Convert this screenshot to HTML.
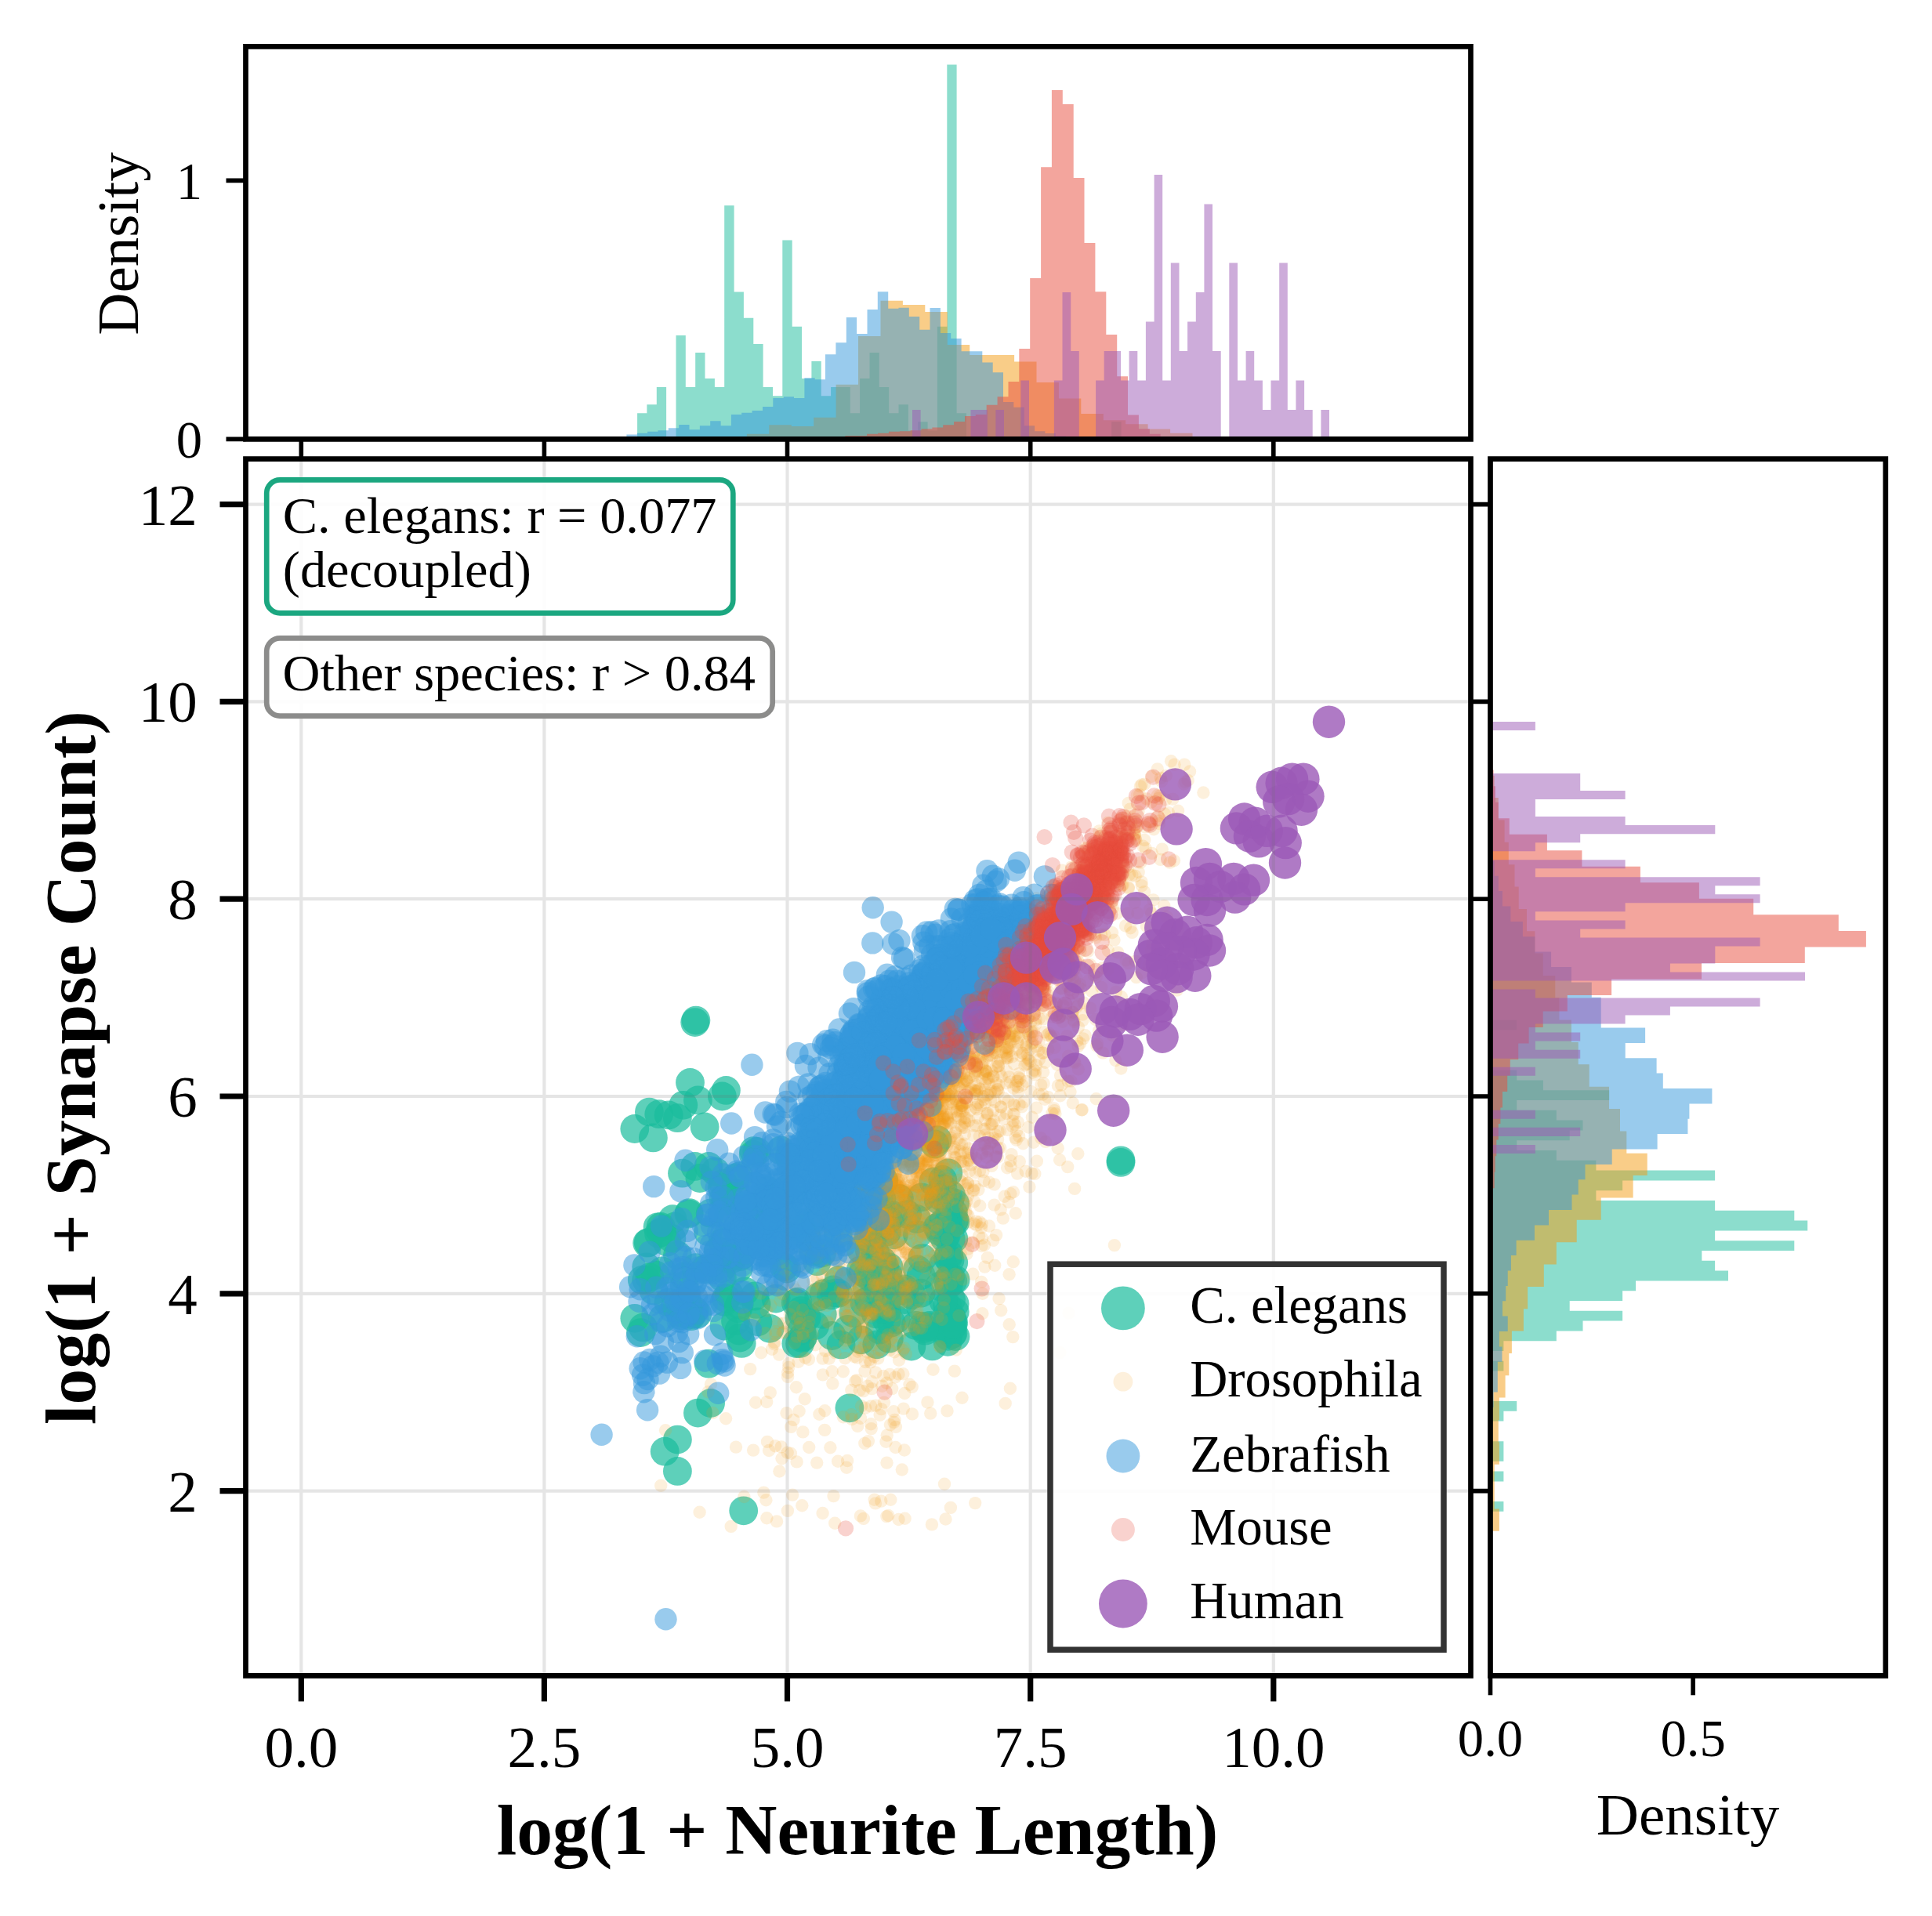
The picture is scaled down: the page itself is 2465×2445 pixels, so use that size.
<!DOCTYPE html><html><head><meta charset="utf-8"><title>Neurite length vs synapse count</title>
<style>html,body{margin:0;padding:0;background:#fff}svg{display:block}text{font-family:"Liberation Serif",serif;fill:#000}</style></head><body>
<svg width="2465" height="2445" viewBox="0 0 2465 2445">
<rect width="2465" height="2445" fill="#fff"/>
<g opacity="1">
<path d="M813.1 560.4V527.3H825.4V516.2H837.8V494.1H850.1V560.4ZM862.5 560.4V427.9H874.8V494.1H887.2V449.9H899.5V483.1H911.9V494.1H924.2V262.2H936.6V372.6H948.9V405.8H961.3V438.9H973.6V494.1H986.0V505.2H998.3V306.4H1010.7V416.8H1023.0V483.1H1035.4V461.0H1047.7V505.2H1060.1V494.1H1072.4V494.1H1084.8V527.3H1097.1V483.1H1109.5V449.9H1121.8V494.1H1134.2V527.3H1146.5V516.2H1158.9V549.4H1171.2V538.3H1183.6V549.4H1195.9V416.8H1208.3V82.6H1220.6V527.3H1233.0V560.4ZM1418.2 560.4V538.3H1430.6V560.4Z" fill="#1abc9c" fill-opacity=".5"/>
<path d="M384.3 560.4V559.9H412.7V560.4ZM839.2 560.4V559.9H867.6V559.4H896.0V559.1H924.5V557.8H952.9V553.8H981.3V542.2H1009.8V543.9H1038.2V532.7H1066.6V490.8H1095.0V429.1H1123.5V383.8H1151.9V389.1H1180.3V398.0H1208.8V439.9H1237.2V453.1H1265.6V453.1H1294.1V461.4H1322.5V488.1H1350.9V508.6H1379.3V528.1H1407.8V536.3H1436.2V541.3H1464.6V547.5H1493.1V552.8H1521.5V558.4H1549.9V560.4ZM1777.4 560.4V559.9H1805.8V560.4Z" fill="#f39c12" fill-opacity=".5"/>
<path d="M772.7 560.4V559.4H786.1V559.4H799.4V554.5H812.8V552.8H826.1V550.8H839.5V549.2H852.8V546.2H866.2V541.9H879.5V548.2H892.9V543.2H906.2V537.3H919.6V543.2H932.9V529.0H946.2V526.7H959.6V524.1H973.0V519.1H986.3V507.9H999.7V506.3H1013.0V507.9H1026.4V482.2H1039.7V484.2H1053.0V452.2H1066.4V437.3H1079.8V405.0H1093.1V426.1H1106.5V395.1H1119.8V372.3H1133.2V393.8H1146.5V392.8H1159.8V404.0H1173.2V420.8H1186.5V393.1H1199.9V425.1H1213.2V432.0H1226.6V448.2H1240.0V448.2H1253.3V462.4H1266.7V475.3H1280.0V512.9H1293.3V519.8H1306.7V543.2H1320.1V550.2H1333.4V553.1H1346.8V556.4H1360.1V557.8H1373.5V558.8H1386.8V559.4H1400.2V559.7H1413.5V560.4ZM1426.8 560.4V559.7H1440.2V560.4Z" fill="#3498db" fill-opacity=".5"/>
<path d="M1078.4 560.4V556.1H1092.3V556.1H1106.1V553.8H1120.0V552.8H1133.9V550.8H1147.8V550.2H1161.6V549.2H1175.5V547.2H1189.4V545.5H1203.2V542.2H1217.1V538.0H1231.0V531.0H1244.8V529.0H1258.7V516.8H1272.6V506.3H1286.5V487.1H1300.3V444.9H1314.2V355.1H1328.1V213.2H1341.9V114.9H1355.8V133.1H1369.7V227.1H1383.5V309.9H1397.4V372.3H1411.3V427.1H1425.2V480.2H1439.0V529.4H1452.9V547.2H1466.8V553.8H1480.6V557.1H1494.5V558.4H1508.4V560.4ZM1758.0 560.4V558.4H1771.9V560.4Z" fill="#e74c3c" fill-opacity=".5"/>
<path d="M1164.0 560.4V522.9H1174.6V560.4ZM1238.5 560.4V522.9H1249.1V522.9H1259.8V560.4ZM1270.4 560.4V522.9H1281.0V560.4ZM1302.3 560.4V485.4H1313.0V560.4ZM1344.9 560.4V485.4H1355.5V373.0H1366.2V447.9H1376.8V560.4ZM1398.1 560.4V485.4H1408.7V447.9H1419.4V447.9H1430.0V485.4H1440.6V447.9H1451.3V485.4H1461.9V410.4H1472.6V223.0H1483.2V485.4H1493.8V335.5H1504.5V447.9H1515.1V410.4H1525.8V373.0H1536.4V260.5H1547.0V447.9H1557.7V560.4ZM1568.3 560.4V335.5H1579.0V485.4H1589.6V447.9H1600.2V485.4H1610.9V522.9H1621.5V485.4H1632.2V335.5H1642.8V522.9H1653.4V485.4H1664.1V522.9H1674.7V560.4ZM1685.4 560.4V522.9H1696.0V560.4Z" fill="#9b59b6" fill-opacity=".5"/>
</g>
<path d="M1901.5 1928.8H1918.4V1916.0H1901.5ZM1901.5 1890.4H1918.4V1877.6H1901.5ZM1901.5 1864.8H1918.4V1852.0H1918.4V1839.2H1901.5ZM1901.5 1813.6H1918.4V1800.8H1935.2V1788.0H1901.5ZM1901.5 1749.6H1918.4V1736.8H1901.5ZM1901.5 1724.0H1918.4V1711.2H1985.8V1698.4H2019.5V1685.6H2070.1V1672.8H2002.7V1660.0H2070.1V1647.2H2087.0V1634.4H2205.0V1621.6H2188.1V1608.8H2171.3V1596.0H2289.3V1583.2H2188.1V1570.4H2306.2V1557.6H2289.3V1544.8H2188.1V1532.0H2036.4V1519.2H2070.1V1506.4H2188.1V1493.6H2036.4V1480.8H1985.8V1468.0H1935.2V1455.2H2002.7V1442.4H2019.5V1429.6H1985.8V1416.8H1935.2V1404.0H2053.2V1391.2H1968.9V1378.4H1935.2V1365.6H1901.5ZM1901.5 1314.4H1935.2V1301.6H1901.5Z" fill="#1abc9c" fill-opacity=".5"/>
<path d="M1901.5 2067.2H1902.2V2038.8H1901.5ZM1901.5 1953.7H1912.9V1925.4H1906.7V1897.0H1906.7V1868.7H1912.9V1840.3H1911.8V1812.0H1912.9V1783.6H1920.6V1755.3H1925.3V1726.9H1928.9V1698.6H1943.9V1670.2H1949.1V1641.9H1969.8V1613.5H1985.8V1585.2H2011.7V1556.8H2042.7V1528.5H2083.6V1500.1H2101.7V1471.7H2075.3V1443.4H2067.0V1415.0H2053.0V1386.7H2027.7V1358.3H2013.7V1330.0H2004.9V1301.6H1989.4V1273.3H1984.3V1244.9H1968.7V1216.6H1958.4V1188.2H1948.0V1159.9H1937.7V1131.5H1932.5V1103.2H1924.8V1074.8H1919.6V1046.5H1911.8V1018.1H1906.7V989.7H1904.1V961.4H1901.5ZM1901.5 677.9H1902.2V649.5H1901.5Z" fill="#f39c12" fill-opacity=".5"/>
<path d="M1901.5 2067.2H1902.5V2047.8H1901.5ZM1901.5 1834.6H1902.5V1815.3H1903.6V1795.9H1905.6V1776.5H1910.8V1757.1H1910.8V1737.8H1916.5V1718.4H1912.9V1699.0H1923.7V1679.6H1917.0V1660.3H1921.2V1640.9H1923.7V1621.5H1927.9V1602.1H1934.6V1582.8H1957.9V1563.4H1976.0V1544.0H2005.5V1524.6H2013.7V1505.2H2022.5V1485.9H2056.7V1466.5H2114.6V1447.1H2153.4V1427.7H2155.4V1408.4H2184.4V1389.0H2121.8V1369.6H2113.6V1350.2H2073.7V1330.9H2099.1V1311.5H2042.7V1292.1H2042.7V1272.7H2030.8V1253.4H2004.9V1234.0H1979.1V1214.6H1958.4V1195.2H1942.9V1175.9H1927.4V1156.5H1917.0V1137.1H1911.8V1117.7H1906.7V1098.4H1901.5Z" fill="#3498db" fill-opacity=".5"/>
<path d="M1901.5 1967.7H1903.6V1947.2H1901.5ZM1901.5 1783.0H1903.6V1762.5H1901.5ZM1901.5 1700.9H1903.6V1680.4H1901.5ZM1901.5 1659.9H1903.6V1639.3H1901.5ZM1901.5 1598.3H1904.1V1577.8H1903.6V1557.3H1904.1V1536.7H1904.6V1516.2H1906.7V1495.7H1907.7V1475.2H1909.3V1454.6H1911.8V1434.1H1914.4V1413.6H1917.0V1393.1H1923.2V1372.6H1926.8V1352.0H1937.2V1331.5H1950.6V1311.0H1968.7V1290.5H1999.8V1270.0H2056.1V1249.4H2171.0V1228.9H2302.8V1208.4H2380.9V1187.9H2345.8V1167.3H2237.2V1146.8H2167.9V1126.3H2092.9V1105.8H2018.4V1085.3H1973.9V1064.7H1925.8V1044.2H1911.8V1023.7H1908.0V1003.2H1905.6V982.6H1904.1V962.1H1901.5Z" fill="#e74c3c" fill-opacity=".5"/>
<path d="M1901.5 1471.9H1958.9V1460.9H1901.5ZM1901.5 1449.9H2016.2V1438.8H1901.5ZM1901.5 1427.8H1958.9V1416.8H1901.5ZM1901.5 1372.7H1958.9V1361.7H1901.5ZM1901.5 1350.7H2016.2V1339.7H1958.9V1328.6H2016.2V1317.6H1958.9V1306.6H2073.6V1295.6H2130.9V1284.6H2245.6V1273.5H1958.9V1262.5H1901.5ZM1901.5 1251.5H2303.0V1240.5H2130.9V1229.5H2188.3V1218.4H2188.3V1207.4H2245.6V1196.4H2016.2V1185.4H2073.6V1174.4H1958.9V1163.3H2073.6V1152.3H2245.6V1141.3H2188.3V1130.3H2245.6V1119.3H1958.9V1108.2H2073.6V1097.2H1901.5ZM1901.5 1086.2H1958.9V1075.2H2016.2V1064.2H2188.3V1053.1H2073.6V1042.1H1958.9V1031.1H1958.9V1020.1H2073.6V1009.1H2016.2V998.0H2016.2V987.0H1901.5ZM1901.5 931.9H1958.9V920.9H1901.5Z" fill="#9b59b6" fill-opacity=".5"/>
<clipPath id="mc"><rect x="313.5" y="585.6" width="1563.0" height="1552.7000000000003"/></clipPath>
<g clip-path="url(#mc)">
<g fill="#1abc9c" fill-opacity="0.7"><circle cx="886.7" cy="1304.6" r="18.4"/><circle cx="887.9" cy="1302.1" r="18.4"/><circle cx="880.5" cy="1381.4" r="18.4"/><circle cx="926.4" cy="1391.4" r="18.4"/><circle cx="890.4" cy="1404.0" r="18.4"/><circle cx="871.8" cy="1410.3" r="18.4"/><circle cx="828.4" cy="1419.1" r="18.4"/><circle cx="840.8" cy="1421.7" r="18.4"/><circle cx="853.2" cy="1422.9" r="18.4"/><circle cx="809.8" cy="1440.5" r="18.4"/><circle cx="833.4" cy="1451.9" r="18.4"/><circle cx="899.1" cy="1438.0" r="18.4"/><circle cx="864.4" cy="1426.7" r="18.4"/><circle cx="921.4" cy="1399.0" r="18.4"/><circle cx="886.7" cy="1488.4" r="18.4"/><circle cx="904.1" cy="1488.4" r="18.4"/><circle cx="892.9" cy="1503.5" r="18.4"/><circle cx="879.3" cy="1547.6" r="18.4"/><circle cx="860.7" cy="1565.2" r="18.4"/><circle cx="856.9" cy="1580.3" r="18.4"/><circle cx="864.4" cy="1601.7" r="18.4"/><circle cx="824.7" cy="1616.8" r="18.4"/><circle cx="824.7" cy="1633.2" r="18.4"/><circle cx="809.8" cy="1682.3" r="18.4"/><circle cx="845.8" cy="1682.3" r="18.4"/><circle cx="904.1" cy="1740.2" r="18.4"/><circle cx="906.6" cy="1790.5" r="18.4"/><circle cx="890.4" cy="1803.1" r="18.4"/><circle cx="864.4" cy="1837.1" r="18.4"/><circle cx="848.2" cy="1852.2" r="18.4"/><circle cx="864.4" cy="1877.4" r="18.4"/><circle cx="1083.9" cy="1796.8" r="18.4"/><circle cx="948.7" cy="1927.8" r="18.4"/><circle cx="1430.0" cy="1480.8" r="18.4"/><circle cx="1430.0" cy="1483.4" r="18.4"/><circle cx="1211.9" cy="1631.8" r="18.4"/><circle cx="1219.0" cy="1705.5" r="18.4"/><circle cx="1213.2" cy="1581.1" r="18.4"/><circle cx="1218.9" cy="1559.1" r="18.4"/><circle cx="1210.2" cy="1695.3" r="18.4"/><circle cx="1209.4" cy="1605.3" r="18.4"/><circle cx="1216.4" cy="1547.3" r="18.4"/><circle cx="1215.7" cy="1634.6" r="18.4"/><circle cx="1214.6" cy="1693.9" r="18.4"/><circle cx="1209.7" cy="1705.3" r="18.4"/><circle cx="1209.3" cy="1533.2" r="18.4"/><circle cx="1211.7" cy="1532.6" r="18.4"/><circle cx="1215.1" cy="1685.9" r="18.4"/><circle cx="1209.1" cy="1712.3" r="18.4"/><circle cx="1219.1" cy="1633.1" r="18.4"/><circle cx="1212.1" cy="1559.4" r="18.4"/><circle cx="1213.2" cy="1556.6" r="18.4"/><circle cx="1212.0" cy="1608.2" r="18.4"/><circle cx="1218.2" cy="1674.0" r="18.4"/><circle cx="1211.0" cy="1679.3" r="18.4"/><circle cx="1209.8" cy="1496.8" r="18.4"/><circle cx="1215.9" cy="1701.2" r="18.4"/><circle cx="1210.7" cy="1600.6" r="18.4"/><circle cx="1213.6" cy="1525.1" r="18.4"/><circle cx="1208.9" cy="1675.9" r="18.4"/><circle cx="1213.7" cy="1680.8" r="18.4"/><circle cx="1210.5" cy="1639.2" r="18.4"/><circle cx="1209.9" cy="1681.7" r="18.4"/><circle cx="1208.8" cy="1696.4" r="18.4"/><circle cx="1213.6" cy="1658.1" r="18.4"/><circle cx="1216.8" cy="1580.7" r="18.4"/><circle cx="1217.6" cy="1556.9" r="18.4"/><circle cx="1218.1" cy="1663.8" r="18.4"/><circle cx="1211.7" cy="1548.3" r="18.4"/><circle cx="1214.1" cy="1681.0" r="18.4"/><circle cx="1208.7" cy="1666.6" r="18.4"/><circle cx="1216.7" cy="1559.5" r="18.4"/><circle cx="1216.5" cy="1687.3" r="18.4"/><circle cx="1214.7" cy="1702.6" r="18.4"/><circle cx="1218.5" cy="1535.6" r="18.4"/><circle cx="1216.1" cy="1690.6" r="18.4"/><circle cx="1212.6" cy="1630.3" r="18.4"/><circle cx="1209.1" cy="1633.8" r="18.4"/><circle cx="1216.7" cy="1611.3" r="18.4"/><circle cx="1207.8" cy="1567.8" r="18.4"/><circle cx="1203.6" cy="1660.0" r="18.4"/><circle cx="1205.0" cy="1579.9" r="18.4"/><circle cx="1202.8" cy="1505.5" r="18.4"/><circle cx="1203.0" cy="1516.7" r="18.4"/><circle cx="1198.3" cy="1641.5" r="18.4"/><circle cx="1203.9" cy="1559.7" r="18.4"/><circle cx="1206.6" cy="1565.0" r="18.4"/><circle cx="1197.2" cy="1530.9" r="18.4"/><circle cx="1207.0" cy="1576.5" r="18.4"/><circle cx="1203.0" cy="1615.1" r="18.4"/><circle cx="1199.0" cy="1571.6" r="18.4"/><circle cx="1186.6" cy="1693.1" r="18.4"/><circle cx="1118.8" cy="1715.8" r="18.4"/><circle cx="946.2" cy="1714.4" r="18.4"/><circle cx="1061.3" cy="1704.5" r="18.4"/><circle cx="967.0" cy="1686.8" r="18.4"/><circle cx="1022.9" cy="1676.6" r="18.4"/><circle cx="1020.6" cy="1714.5" r="18.4"/><circle cx="1134.3" cy="1708.2" r="18.4"/><circle cx="1177.0" cy="1692.5" r="18.4"/><circle cx="1117.3" cy="1676.7" r="18.4"/><circle cx="941.5" cy="1669.8" r="18.4"/><circle cx="1131.6" cy="1672.1" r="18.4"/><circle cx="1163.3" cy="1652.5" r="18.4"/><circle cx="1180.3" cy="1698.2" r="18.4"/><circle cx="1063.1" cy="1646.0" r="18.4"/><circle cx="1137.3" cy="1688.0" r="18.4"/><circle cx="1143.3" cy="1683.7" r="18.4"/><circle cx="1131.3" cy="1660.7" r="18.4"/><circle cx="1122.5" cy="1697.1" r="18.4"/><circle cx="1019.9" cy="1682.0" r="18.4"/><circle cx="1174.4" cy="1667.8" r="18.4"/><circle cx="1189.5" cy="1717.9" r="18.4"/><circle cx="1162.9" cy="1718.1" r="18.4"/><circle cx="1102.9" cy="1662.2" r="18.4"/><circle cx="1150.1" cy="1646.9" r="18.4"/><circle cx="1015.8" cy="1714.6" r="18.4"/><circle cx="1029.0" cy="1681.3" r="18.4"/><circle cx="930.2" cy="1651.2" r="18.4"/><circle cx="1168.5" cy="1691.4" r="18.4"/><circle cx="1049.3" cy="1677.3" r="18.4"/><circle cx="1065.4" cy="1650.1" r="18.4"/><circle cx="1073.0" cy="1715.9" r="18.4"/><circle cx="982.1" cy="1695.3" r="18.4"/><circle cx="1021.9" cy="1672.6" r="18.4"/><circle cx="1023.4" cy="1707.4" r="18.4"/><circle cx="1098.6" cy="1709.8" r="18.4"/><circle cx="1081.7" cy="1696.3" r="18.4"/><circle cx="1174.9" cy="1650.2" r="18.4"/><circle cx="1024.7" cy="1705.7" r="18.4"/><circle cx="1143.0" cy="1647.8" r="18.4"/><circle cx="1126.0" cy="1652.3" r="18.4"/><circle cx="1069.6" cy="1650.3" r="18.4"/><circle cx="1186.2" cy="1691.5" r="18.4"/><circle cx="943.9" cy="1707.1" r="18.4"/><circle cx="1015.3" cy="1662.5" r="18.4"/><circle cx="1131.2" cy="1684.3" r="18.4"/><circle cx="1039.8" cy="1691.5" r="18.4"/><circle cx="1179.3" cy="1695.3" r="18.4"/><circle cx="1125.1" cy="1670.4" r="18.4"/><circle cx="965.0" cy="1664.4" r="18.4"/><circle cx="923.9" cy="1692.0" r="18.4"/><circle cx="1088.8" cy="1675.5" r="18.4"/><circle cx="1108.5" cy="1659.2" r="18.4"/><circle cx="924.3" cy="1661.3" r="18.4"/><circle cx="1022.9" cy="1697.2" r="18.4"/><circle cx="828.8" cy="1629.8" r="18.4"/><circle cx="834.0" cy="1647.0" r="18.4"/><circle cx="887.6" cy="1617.7" r="18.4"/><circle cx="943.1" cy="1665.0" r="18.4"/><circle cx="916.4" cy="1596.3" r="18.4"/><circle cx="843.1" cy="1565.4" r="18.4"/><circle cx="870.5" cy="1497.2" r="18.4"/><circle cx="933.8" cy="1606.5" r="18.4"/><circle cx="938.5" cy="1685.7" r="18.4"/><circle cx="819.3" cy="1633.4" r="18.4"/><circle cx="881.6" cy="1679.7" r="18.4"/><circle cx="906.2" cy="1548.2" r="18.4"/><circle cx="912.6" cy="1495.1" r="18.4"/><circle cx="872.8" cy="1628.6" r="18.4"/><circle cx="948.0" cy="1593.6" r="18.4"/><circle cx="858.1" cy="1555.7" r="18.4"/><circle cx="903.5" cy="1571.7" r="18.4"/><circle cx="861.5" cy="1666.0" r="18.4"/><circle cx="844.5" cy="1621.9" r="18.4"/><circle cx="929.0" cy="1597.8" r="18.4"/><circle cx="926.3" cy="1656.7" r="18.4"/><circle cx="820.5" cy="1693.9" r="18.4"/><circle cx="882.0" cy="1677.6" r="18.4"/><circle cx="825.7" cy="1586.2" r="18.4"/><circle cx="942.8" cy="1698.0" r="18.4"/><circle cx="873.2" cy="1640.1" r="18.4"/><circle cx="836.8" cy="1627.2" r="18.4"/><circle cx="827.2" cy="1585.7" r="18.4"/><circle cx="944.7" cy="1603.6" r="18.4"/><circle cx="868.8" cy="1678.8" r="18.4"/><circle cx="839.1" cy="1565.8" r="18.4"/><circle cx="925.5" cy="1533.0" r="18.4"/><circle cx="817.5" cy="1700.6" r="18.4"/><circle cx="889.8" cy="1676.8" r="18.4"/><circle cx="886.1" cy="1672.2" r="18.4"/><circle cx="878.9" cy="1549.1" r="18.4"/><circle cx="840.6" cy="1574.3" r="18.4"/><circle cx="853.0" cy="1662.1" r="18.4"/><circle cx="899.6" cy="1619.5" r="18.4"/><circle cx="872.2" cy="1676.4" r="18.4"/><circle cx="851.2" cy="1585.1" r="18.4"/><circle cx="922.9" cy="1510.2" r="18.4"/><circle cx="876.6" cy="1660.3" r="18.4"/><circle cx="843.9" cy="1572.1" r="18.4"/><circle cx="927.0" cy="1606.8" r="18.4"/><circle cx="1128.5" cy="1615.9" r="18.4"/><circle cx="1108.1" cy="1579.1" r="18.4"/><circle cx="1125.4" cy="1608.7" r="18.4"/><circle cx="1101.1" cy="1623.7" r="18.4"/><circle cx="1124.9" cy="1530.2" r="18.4"/><circle cx="1125.8" cy="1627.8" r="18.4"/><circle cx="1123.4" cy="1550.0" r="18.4"/><circle cx="1110.7" cy="1629.9" r="18.4"/><circle cx="1122.6" cy="1632.1" r="18.4"/><circle cx="1131.5" cy="1571.9" r="18.4"/><circle cx="1105.6" cy="1644.1" r="18.4"/><circle cx="1106.9" cy="1560.4" r="18.4"/><circle cx="1098.1" cy="1621.1" r="18.4"/><circle cx="1118.9" cy="1564.4" r="18.4"/><circle cx="1109.6" cy="1596.6" r="18.4"/><circle cx="1130.1" cy="1665.0" r="18.4"/><circle cx="1098.3" cy="1594.5" r="18.4"/><circle cx="1117.2" cy="1528.5" r="18.4"/><circle cx="1122.7" cy="1566.5" r="18.4"/><circle cx="1112.6" cy="1585.9" r="18.4"/><circle cx="1118.5" cy="1565.0" r="18.4"/><circle cx="1121.0" cy="1645.4" r="18.4"/><circle cx="979.5" cy="1519.5" r="18.4"/><circle cx="960.7" cy="1539.9" r="18.4"/><circle cx="1154.0" cy="1644.8" r="18.4"/><circle cx="1170.4" cy="1619.9" r="18.4"/><circle cx="963.2" cy="1654.0" r="18.4"/><circle cx="1176.7" cy="1605.6" r="18.4"/><circle cx="1020.0" cy="1560.8" r="18.4"/><circle cx="1008.4" cy="1528.2" r="18.4"/><circle cx="1196.0" cy="1566.0" r="18.4"/><circle cx="978.5" cy="1552.3" r="18.4"/><circle cx="971.7" cy="1585.8" r="18.4"/><circle cx="1044.7" cy="1654.7" r="18.4"/><circle cx="1139.6" cy="1550.9" r="18.4"/><circle cx="1140.3" cy="1575.8" r="18.4"/><circle cx="1196.9" cy="1566.0" r="18.4"/><circle cx="1051.3" cy="1650.6" r="18.4"/><circle cx="1069.3" cy="1574.8" r="18.4"/><circle cx="1042.4" cy="1609.7" r="18.4"/><circle cx="967.4" cy="1587.6" r="18.4"/><circle cx="985.3" cy="1574.3" r="18.4"/><circle cx="961.3" cy="1473.2" r="18.4"/><circle cx="964.8" cy="1539.5" r="18.4"/><circle cx="1107.3" cy="1627.8" r="18.4"/><circle cx="961.7" cy="1468.6" r="18.4"/><circle cx="1060.6" cy="1652.9" r="18.4"/><circle cx="965.9" cy="1469.5" r="18.4"/><circle cx="980.2" cy="1559.0" r="18.4"/><circle cx="1175.2" cy="1627.5" r="18.4"/><circle cx="938.7" cy="1522.8" r="18.4"/><circle cx="1061.1" cy="1500.2" r="18.4"/><circle cx="922.3" cy="1585.2" r="18.4"/><circle cx="1147.4" cy="1529.4" r="18.4"/><circle cx="1192.8" cy="1460.0" r="18.4"/><circle cx="1175.9" cy="1527.8" r="18.4"/><circle cx="942.5" cy="1617.9" r="18.4"/><circle cx="1157.6" cy="1549.5" r="18.4"/><circle cx="1133.6" cy="1555.4" r="18.4"/><circle cx="1041.9" cy="1553.5" r="18.4"/><circle cx="1009.2" cy="1514.1" r="18.4"/><circle cx="943.2" cy="1500.9" r="18.4"/><circle cx="1093.7" cy="1519.7" r="18.4"/><circle cx="1190.8" cy="1508.0" r="18.4"/><circle cx="923.1" cy="1529.5" r="18.4"/><circle cx="1024.6" cy="1485.6" r="18.4"/><circle cx="1089.4" cy="1508.9" r="18.4"/><circle cx="1134.0" cy="1616.8" r="18.4"/><circle cx="1047.8" cy="1459.8" r="18.4"/><circle cx="1113.5" cy="1517.5" r="18.4"/><circle cx="920.5" cy="1618.5" r="18.4"/><circle cx="1034.0" cy="1456.9" r="18.4"/><circle cx="929.0" cy="1552.6" r="18.4"/><circle cx="1029.3" cy="1578.5" r="18.4"/><circle cx="1037.6" cy="1596.9" r="18.4"/><circle cx="1086.9" cy="1529.1" r="18.4"/><circle cx="950.2" cy="1647.8" r="18.4"/><circle cx="979.3" cy="1539.8" r="18.4"/><circle cx="1131.9" cy="1557.1" r="18.4"/><circle cx="964.1" cy="1577.8" r="18.4"/><circle cx="921.4" cy="1630.0" r="18.4"/><circle cx="1114.7" cy="1526.0" r="18.4"/><circle cx="1127.8" cy="1506.6" r="18.4"/><circle cx="1000.3" cy="1616.6" r="18.4"/><circle cx="1003.6" cy="1619.1" r="18.4"/><circle cx="1135.5" cy="1638.9" r="18.4"/><circle cx="1017.6" cy="1661.2" r="18.4"/><circle cx="990.1" cy="1657.1" r="18.4"/><circle cx="1096.0" cy="1512.4" r="18.4"/><circle cx="1135.2" cy="1452.3" r="18.4"/><circle cx="1196.1" cy="1454.6" r="18.4"/><circle cx="1048.5" cy="1599.1" r="18.4"/><circle cx="966.1" cy="1552.5" r="18.4"/><circle cx="1059.4" cy="1453.9" r="18.4"/><circle cx="1116.9" cy="1599.0" r="18.4"/><circle cx="1169.6" cy="1555.4" r="18.4"/><circle cx="938.4" cy="1502.8" r="18.4"/><circle cx="1170.5" cy="1575.6" r="18.4"/><circle cx="1023.0" cy="1568.3" r="18.4"/><circle cx="921.3" cy="1515.1" r="18.4"/><circle cx="1201.9" cy="1527.7" r="18.4"/><circle cx="1076.8" cy="1497.7" r="18.4"/><circle cx="984.5" cy="1523.7" r="18.4"/><circle cx="981.1" cy="1588.9" r="18.4"/><circle cx="1007.2" cy="1476.7" r="18.4"/><circle cx="996.0" cy="1467.9" r="18.4"/><circle cx="933.9" cy="1532.8" r="18.4"/><circle cx="1154.3" cy="1658.6" r="18.4"/><circle cx="1132.9" cy="1626.3" r="18.4"/><circle cx="1070.2" cy="1633.5" r="18.4"/></g>
<g fill="#f39c12" fill-opacity="0.15"><circle cx="1172.8" cy="1458.9" r="8.2"/><circle cx="1498.0" cy="1098.3" r="8.2"/><circle cx="1133.3" cy="1540.8" r="8.2"/><circle cx="1303.8" cy="1240.2" r="8.2"/><circle cx="1103.7" cy="1481.7" r="8.2"/><circle cx="1370.3" cy="1159.4" r="8.2"/><circle cx="1144.0" cy="1511.6" r="8.2"/><circle cx="1358.8" cy="1202.9" r="8.2"/><circle cx="1276.7" cy="1543.6" r="8.2"/><circle cx="1331.6" cy="1382.5" r="8.2"/><circle cx="1244.5" cy="1309.7" r="8.2"/><circle cx="1113.7" cy="1475.2" r="8.2"/><circle cx="1174.7" cy="1498.1" r="8.2"/><circle cx="1456.5" cy="1125.4" r="8.2"/><circle cx="1122.4" cy="1542.7" r="8.2"/><circle cx="1207.1" cy="1353.0" r="8.2"/><circle cx="1207.7" cy="1441.3" r="8.2"/><circle cx="1202.6" cy="1404.6" r="8.2"/><circle cx="1134.0" cy="1432.7" r="8.2"/><circle cx="1144.7" cy="1445.6" r="8.2"/><circle cx="1151.0" cy="1438.1" r="8.2"/><circle cx="1131.3" cy="1935.1" r="8.2"/><circle cx="1048.2" cy="1542.3" r="8.2"/><circle cx="1266.3" cy="1270.0" r="8.2"/><circle cx="1348.3" cy="1194.8" r="8.2"/><circle cx="1146.1" cy="1491.6" r="8.2"/><circle cx="1070.1" cy="1612.5" r="8.2"/><circle cx="1164.5" cy="1567.8" r="8.2"/><circle cx="1103.3" cy="1526.0" r="8.2"/><circle cx="1161.8" cy="1556.0" r="8.2"/><circle cx="1135.9" cy="1818.3" r="8.2"/><circle cx="1235.5" cy="1551.4" r="8.2"/><circle cx="1274.5" cy="1225.4" r="8.2"/><circle cx="1338.9" cy="1245.0" r="8.2"/><circle cx="1286.8" cy="1248.4" r="8.2"/><circle cx="1314.2" cy="1241.5" r="8.2"/><circle cx="1494.1" cy="971.3" r="8.2"/><circle cx="1161.8" cy="1468.7" r="8.2"/><circle cx="1118.6" cy="1435.0" r="8.2"/><circle cx="1100.0" cy="1598.8" r="8.2"/><circle cx="1193.1" cy="1371.2" r="8.2"/><circle cx="1259.6" cy="1298.4" r="8.2"/><circle cx="1299.9" cy="1370.1" r="8.2"/><circle cx="1108.9" cy="1713.3" r="8.2"/><circle cx="1207.4" cy="1346.4" r="8.2"/><circle cx="1069.4" cy="1509.3" r="8.2"/><circle cx="1216.9" cy="1528.4" r="8.2"/><circle cx="1323.2" cy="1157.3" r="8.2"/><circle cx="1153.6" cy="1720.3" r="8.2"/><circle cx="1260.1" cy="1334.1" r="8.2"/><circle cx="1252.3" cy="1340.8" r="8.2"/><circle cx="1254.7" cy="1303.4" r="8.2"/><circle cx="1102.5" cy="1485.9" r="8.2"/><circle cx="1200.4" cy="1395.3" r="8.2"/><circle cx="1070.7" cy="1624.0" r="8.2"/><circle cx="1157.6" cy="1409.9" r="8.2"/><circle cx="1068.4" cy="1590.3" r="8.2"/><circle cx="1434.7" cy="1067.5" r="8.2"/><circle cx="1161.2" cy="1443.4" r="8.2"/><circle cx="1131.7" cy="1510.8" r="8.2"/><circle cx="1362.9" cy="1240.9" r="8.2"/><circle cx="1158.5" cy="1487.6" r="8.2"/><circle cx="1206.2" cy="1473.7" r="8.2"/><circle cx="1330.5" cy="1185.0" r="8.2"/><circle cx="1181.6" cy="1486.2" r="8.2"/><circle cx="1175.8" cy="1398.7" r="8.2"/><circle cx="1286.3" cy="1247.0" r="8.2"/><circle cx="1128.7" cy="1469.2" r="8.2"/><circle cx="1105.7" cy="1672.2" r="8.2"/><circle cx="1270.1" cy="1234.2" r="8.2"/><circle cx="1205.9" cy="1355.5" r="8.2"/><circle cx="1210.3" cy="1373.9" r="8.2"/><circle cx="1357.1" cy="1168.4" r="8.2"/><circle cx="1049.9" cy="1598.3" r="8.2"/><circle cx="1027.4" cy="1732.7" r="8.2"/><circle cx="1175.5" cy="1616.0" r="8.2"/><circle cx="1319.6" cy="1197.6" r="8.2"/><circle cx="1206.9" cy="1596.4" r="8.2"/><circle cx="1225.1" cy="1299.3" r="8.2"/><circle cx="1173.0" cy="1481.6" r="8.2"/><circle cx="1177.3" cy="1499.8" r="8.2"/><circle cx="1173.0" cy="1564.6" r="8.2"/><circle cx="1136.7" cy="1433.3" r="8.2"/><circle cx="1061.7" cy="1750.2" r="8.2"/><circle cx="1255.1" cy="1313.2" r="8.2"/><circle cx="1131.6" cy="1707.5" r="8.2"/><circle cx="1351.8" cy="1297.8" r="8.2"/><circle cx="1230.5" cy="1383.0" r="8.2"/><circle cx="1095.6" cy="1547.2" r="8.2"/><circle cx="1145.9" cy="1517.4" r="8.2"/><circle cx="1117.2" cy="1582.7" r="8.2"/><circle cx="1271.1" cy="1576.1" r="8.2"/><circle cx="1147.8" cy="1705.1" r="8.2"/><circle cx="1224.6" cy="1317.8" r="8.2"/><circle cx="1207.4" cy="1505.4" r="8.2"/><circle cx="1178.4" cy="1385.3" r="8.2"/><circle cx="1323.1" cy="1244.8" r="8.2"/><circle cx="1187.0" cy="1443.1" r="8.2"/><circle cx="1146.6" cy="1424.2" r="8.2"/><circle cx="1110.0" cy="1552.6" r="8.2"/><circle cx="1127.6" cy="1447.0" r="8.2"/><circle cx="1109.6" cy="1574.5" r="8.2"/><circle cx="1247.1" cy="1392.0" r="8.2"/><circle cx="1276.6" cy="1251.2" r="8.2"/><circle cx="1211.9" cy="1341.4" r="8.2"/><circle cx="1282.9" cy="1282.2" r="8.2"/><circle cx="1289.2" cy="1194.9" r="8.2"/><circle cx="1219.7" cy="1307.2" r="8.2"/><circle cx="1104.0" cy="1738.0" r="8.2"/><circle cx="1262.9" cy="1336.8" r="8.2"/><circle cx="1027.7" cy="1597.6" r="8.2"/><circle cx="1208.1" cy="1282.2" r="8.2"/><circle cx="1119.0" cy="1650.3" r="8.2"/><circle cx="1243.2" cy="1360.0" r="8.2"/><circle cx="1257.1" cy="1440.4" r="8.2"/><circle cx="1156.3" cy="1649.9" r="8.2"/><circle cx="1213.4" cy="1399.0" r="8.2"/><circle cx="1283.8" cy="1382.3" r="8.2"/><circle cx="1181.2" cy="1686.9" r="8.2"/><circle cx="1130.0" cy="1717.0" r="8.2"/><circle cx="1122.6" cy="1593.7" r="8.2"/><circle cx="1330.9" cy="1262.3" r="8.2"/><circle cx="1087.0" cy="1512.5" r="8.2"/><circle cx="1143.6" cy="1490.8" r="8.2"/><circle cx="1309.4" cy="1225.8" r="8.2"/><circle cx="1062.1" cy="1515.3" r="8.2"/><circle cx="1100.8" cy="1707.5" r="8.2"/><circle cx="1155.9" cy="1432.4" r="8.2"/><circle cx="1117.6" cy="1521.6" r="8.2"/><circle cx="1048.0" cy="1641.2" r="8.2"/><circle cx="1271.3" cy="1343.8" r="8.2"/><circle cx="1109.8" cy="1592.6" r="8.2"/><circle cx="1370.5" cy="1304.0" r="8.2"/><circle cx="1053.1" cy="1723.7" r="8.2"/><circle cx="1146.5" cy="1589.0" r="8.2"/><circle cx="1218.6" cy="1625.8" r="8.2"/><circle cx="1089.4" cy="1649.9" r="8.2"/><circle cx="1206.5" cy="1938.5" r="8.2"/><circle cx="1196.9" cy="1424.4" r="8.2"/><circle cx="1227.9" cy="1410.9" r="8.2"/><circle cx="1367.1" cy="1193.5" r="8.2"/><circle cx="1160.4" cy="1448.8" r="8.2"/><circle cx="1358.0" cy="1221.7" r="8.2"/><circle cx="1144.0" cy="1573.7" r="8.2"/><circle cx="1241.3" cy="1625.8" r="8.2"/><circle cx="1163.4" cy="1407.7" r="8.2"/><circle cx="1276.2" cy="1352.8" r="8.2"/><circle cx="1205.7" cy="1371.3" r="8.2"/><circle cx="1337.7" cy="1265.6" r="8.2"/><circle cx="1102.6" cy="1571.0" r="8.2"/><circle cx="1135.9" cy="1517.7" r="8.2"/><circle cx="1182.0" cy="1359.0" r="8.2"/><circle cx="1245.1" cy="1290.9" r="8.2"/><circle cx="1171.3" cy="1416.5" r="8.2"/><circle cx="1301.0" cy="1303.7" r="8.2"/><circle cx="1160.4" cy="1463.0" r="8.2"/><circle cx="1405.3" cy="1259.9" r="8.2"/><circle cx="1358.6" cy="1201.5" r="8.2"/><circle cx="1054.5" cy="1565.4" r="8.2"/><circle cx="1265.4" cy="1279.2" r="8.2"/><circle cx="1325.0" cy="1340.6" r="8.2"/><circle cx="1049.8" cy="1754.4" r="8.2"/><circle cx="1288.4" cy="1258.0" r="8.2"/><circle cx="1230.6" cy="1539.4" r="8.2"/><circle cx="1198.0" cy="1364.0" r="8.2"/><circle cx="1143.7" cy="1424.1" r="8.2"/><circle cx="1269.7" cy="1320.8" r="8.2"/><circle cx="1125.2" cy="1468.8" r="8.2"/><circle cx="1098.6" cy="1469.4" r="8.2"/><circle cx="1177.5" cy="1460.4" r="8.2"/><circle cx="1469.7" cy="1088.9" r="8.2"/><circle cx="1171.6" cy="1555.5" r="8.2"/><circle cx="1097.3" cy="1653.2" r="8.2"/><circle cx="1177.2" cy="1524.5" r="8.2"/><circle cx="1287.5" cy="1322.4" r="8.2"/><circle cx="1232.8" cy="1282.8" r="8.2"/><circle cx="1293.4" cy="1239.2" r="8.2"/><circle cx="1312.5" cy="1298.3" r="8.2"/><circle cx="1148.6" cy="1454.8" r="8.2"/><circle cx="1180.2" cy="1433.9" r="8.2"/><circle cx="1325.1" cy="1258.6" r="8.2"/><circle cx="1153.2" cy="1457.1" r="8.2"/><circle cx="1201.5" cy="1631.8" r="8.2"/><circle cx="1310.7" cy="1211.4" r="8.2"/><circle cx="1244.2" cy="1918.1" r="8.2"/><circle cx="1370.2" cy="1227.4" r="8.2"/><circle cx="1000.1" cy="1699.6" r="8.2"/><circle cx="1218.5" cy="1311.2" r="8.2"/><circle cx="1181.8" cy="1380.5" r="8.2"/><circle cx="1179.9" cy="1535.8" r="8.2"/><circle cx="1138.9" cy="1632.7" r="8.2"/><circle cx="1154.6" cy="1449.6" r="8.2"/><circle cx="1316.7" cy="1186.3" r="8.2"/><circle cx="1205.3" cy="1363.2" r="8.2"/><circle cx="1134.1" cy="1528.1" r="8.2"/><circle cx="1259.8" cy="1423.0" r="8.2"/><circle cx="1296.0" cy="1385.1" r="8.2"/><circle cx="1171.8" cy="1438.2" r="8.2"/><circle cx="1122.8" cy="1449.6" r="8.2"/><circle cx="1286.9" cy="1298.3" r="8.2"/><circle cx="1244.8" cy="1355.6" r="8.2"/><circle cx="1248.4" cy="1518.2" r="8.2"/><circle cx="1000.4" cy="1627.7" r="8.2"/><circle cx="1107.5" cy="1547.5" r="8.2"/><circle cx="1436.0" cy="1181.5" r="8.2"/><circle cx="1231.0" cy="1407.6" r="8.2"/><circle cx="1135.8" cy="1433.5" r="8.2"/><circle cx="1058.2" cy="1571.8" r="8.2"/><circle cx="1182.3" cy="1399.6" r="8.2"/><circle cx="1161.4" cy="1461.5" r="8.2"/><circle cx="1096.2" cy="1511.7" r="8.2"/><circle cx="1246.9" cy="1281.6" r="8.2"/><circle cx="1100.1" cy="1693.1" r="8.2"/><circle cx="1393.2" cy="1265.1" r="8.2"/><circle cx="1132.9" cy="1445.7" r="8.2"/><circle cx="1324.2" cy="1262.9" r="8.2"/><circle cx="1156.4" cy="1409.8" r="8.2"/><circle cx="1135.1" cy="1678.7" r="8.2"/><circle cx="1282.7" cy="1790.9" r="8.2"/><circle cx="1187.9" cy="1506.9" r="8.2"/><circle cx="1106.4" cy="1541.0" r="8.2"/><circle cx="1320.9" cy="1184.6" r="8.2"/><circle cx="1220.4" cy="1316.9" r="8.2"/><circle cx="1222.5" cy="1374.5" r="8.2"/><circle cx="1166.0" cy="1410.6" r="8.2"/><circle cx="1320.4" cy="1232.3" r="8.2"/><circle cx="1213.5" cy="1638.8" r="8.2"/><circle cx="1079.9" cy="1650.1" r="8.2"/><circle cx="1345.5" cy="1336.9" r="8.2"/><circle cx="1223.9" cy="1324.5" r="8.2"/><circle cx="1133.0" cy="1567.8" r="8.2"/><circle cx="1048.9" cy="1627.8" r="8.2"/><circle cx="1043.8" cy="1579.1" r="8.2"/><circle cx="1114.1" cy="1541.9" r="8.2"/><circle cx="1147.5" cy="1350.6" r="8.2"/><circle cx="1201.0" cy="1498.6" r="8.2"/><circle cx="1124.9" cy="1519.5" r="8.2"/><circle cx="1316.4" cy="1316.3" r="8.2"/><circle cx="1201.6" cy="1413.9" r="8.2"/><circle cx="1162.7" cy="1486.5" r="8.2"/><circle cx="1160.0" cy="1561.9" r="8.2"/><circle cx="1150.8" cy="1875.5" r="8.2"/><circle cx="1184.3" cy="1449.2" r="8.2"/><circle cx="1145.9" cy="1504.9" r="8.2"/><circle cx="1159.6" cy="1408.3" r="8.2"/><circle cx="1195.8" cy="1533.7" r="8.2"/><circle cx="1257.2" cy="1381.5" r="8.2"/><circle cx="1177.9" cy="1542.8" r="8.2"/><circle cx="1287.6" cy="1626.3" r="8.2"/><circle cx="1154.2" cy="1778.0" r="8.2"/><circle cx="1375.5" cy="1335.1" r="8.2"/><circle cx="1122.7" cy="1805.8" r="8.2"/><circle cx="1209.8" cy="1323.9" r="8.2"/><circle cx="1160.3" cy="1449.7" r="8.2"/><circle cx="1205.4" cy="1433.4" r="8.2"/><circle cx="1110.2" cy="1678.6" r="8.2"/><circle cx="1152.2" cy="1410.9" r="8.2"/><circle cx="1116.9" cy="1918.4" r="8.2"/><circle cx="1265.2" cy="1310.9" r="8.2"/><circle cx="1269.9" cy="1334.9" r="8.2"/><circle cx="1318.7" cy="1255.2" r="8.2"/><circle cx="1368.5" cy="1291.8" r="8.2"/><circle cx="1169.2" cy="1376.0" r="8.2"/><circle cx="1238.5" cy="1394.7" r="8.2"/><circle cx="1435.4" cy="1048.8" r="8.2"/><circle cx="1208.7" cy="1382.4" r="8.2"/><circle cx="1184.0" cy="1475.5" r="8.2"/><circle cx="1260.4" cy="1347.6" r="8.2"/><circle cx="1019.7" cy="1681.2" r="8.2"/><circle cx="1323.3" cy="1205.2" r="8.2"/><circle cx="1166.7" cy="1420.5" r="8.2"/><circle cx="1289.6" cy="1488.5" r="8.2"/><circle cx="1111.6" cy="1535.2" r="8.2"/><circle cx="1181.9" cy="1447.5" r="8.2"/><circle cx="1233.3" cy="1347.0" r="8.2"/><circle cx="1277.8" cy="1373.6" r="8.2"/><circle cx="1224.7" cy="1309.9" r="8.2"/><circle cx="1220.3" cy="1352.8" r="8.2"/><circle cx="1378.4" cy="1214.2" r="8.2"/><circle cx="1138.8" cy="1634.6" r="8.2"/><circle cx="1203.6" cy="1427.6" r="8.2"/><circle cx="1349.4" cy="1192.5" r="8.2"/><circle cx="1197.2" cy="1516.1" r="8.2"/><circle cx="1232.9" cy="1533.3" r="8.2"/><circle cx="1186.3" cy="1549.0" r="8.2"/><circle cx="1441.7" cy="1032.6" r="8.2"/><circle cx="1258.2" cy="1367.1" r="8.2"/><circle cx="1284.9" cy="1237.5" r="8.2"/><circle cx="1036.9" cy="1702.1" r="8.2"/><circle cx="1162.1" cy="1443.3" r="8.2"/><circle cx="1270.8" cy="1298.5" r="8.2"/><circle cx="1106.9" cy="1725.5" r="8.2"/><circle cx="1319.4" cy="1264.2" r="8.2"/><circle cx="1366.5" cy="1214.9" r="8.2"/><circle cx="1274.5" cy="1261.6" r="8.2"/><circle cx="1279.8" cy="1554.6" r="8.2"/><circle cx="1144.3" cy="1505.7" r="8.2"/><circle cx="1098.0" cy="1656.1" r="8.2"/><circle cx="1399.3" cy="1334.6" r="8.2"/><circle cx="1164.3" cy="1454.3" r="8.2"/><circle cx="1375.9" cy="1310.9" r="8.2"/><circle cx="1260.1" cy="1420.4" r="8.2"/><circle cx="1372.7" cy="1211.2" r="8.2"/><circle cx="1011.1" cy="1907.6" r="8.2"/><circle cx="1309.3" cy="1184.3" r="8.2"/><circle cx="1267.2" cy="1582.8" r="8.2"/><circle cx="1218.8" cy="1445.7" r="8.2"/><circle cx="1099.9" cy="1700.7" r="8.2"/><circle cx="1137.4" cy="1511.2" r="8.2"/><circle cx="1357.0" cy="1283.4" r="8.2"/><circle cx="1160.9" cy="1572.3" r="8.2"/><circle cx="1287.0" cy="1534.1" r="8.2"/><circle cx="1458.2" cy="1079.6" r="8.2"/><circle cx="1144.9" cy="1434.3" r="8.2"/><circle cx="1087.4" cy="1634.4" r="8.2"/><circle cx="1048.3" cy="1638.6" r="8.2"/><circle cx="1153.0" cy="1406.6" r="8.2"/><circle cx="1295.8" cy="1548.3" r="8.2"/><circle cx="1310.5" cy="1330.3" r="8.2"/><circle cx="1236.2" cy="1481.1" r="8.2"/><circle cx="939.0" cy="1846.6" r="8.2"/><circle cx="1136.7" cy="1555.8" r="8.2"/><circle cx="1119.5" cy="1496.7" r="8.2"/><circle cx="1105.7" cy="1703.9" r="8.2"/><circle cx="1101.4" cy="1483.5" r="8.2"/><circle cx="1065.2" cy="1943.7" r="8.2"/><circle cx="1180.4" cy="1609.2" r="8.2"/><circle cx="1167.1" cy="1354.6" r="8.2"/><circle cx="1156.9" cy="1386.2" r="8.2"/><circle cx="1130.5" cy="1460.0" r="8.2"/><circle cx="1320.8" cy="1267.5" r="8.2"/><circle cx="1142.6" cy="1555.2" r="8.2"/><circle cx="1110.6" cy="1562.6" r="8.2"/><circle cx="1126.5" cy="1515.9" r="8.2"/><circle cx="1149.8" cy="1485.4" r="8.2"/><circle cx="1164.3" cy="1548.9" r="8.2"/><circle cx="1154.8" cy="1460.2" r="8.2"/><circle cx="1139.0" cy="1501.7" r="8.2"/><circle cx="1211.2" cy="1378.9" r="8.2"/><circle cx="1119.3" cy="1668.3" r="8.2"/><circle cx="1362.5" cy="1134.8" r="8.2"/><circle cx="1330.8" cy="1184.7" r="8.2"/><circle cx="1187.5" cy="1449.8" r="8.2"/><circle cx="1271.5" cy="1314.9" r="8.2"/><circle cx="1129.0" cy="1510.6" r="8.2"/><circle cx="1140.6" cy="1551.4" r="8.2"/><circle cx="1355.7" cy="1303.7" r="8.2"/><circle cx="1195.9" cy="1637.2" r="8.2"/><circle cx="1290.5" cy="1240.4" r="8.2"/><circle cx="1315.0" cy="1279.0" r="8.2"/><circle cx="1252.5" cy="1590.0" r="8.2"/><circle cx="1192.5" cy="1450.4" r="8.2"/><circle cx="1161.7" cy="1478.9" r="8.2"/><circle cx="1073.8" cy="1647.5" r="8.2"/><circle cx="1334.4" cy="1199.2" r="8.2"/><circle cx="1265.3" cy="1337.7" r="8.2"/><circle cx="1082.2" cy="1698.9" r="8.2"/><circle cx="1302.3" cy="1310.8" r="8.2"/><circle cx="1131.2" cy="1764.7" r="8.2"/><circle cx="1335.1" cy="1208.1" r="8.2"/><circle cx="1107.9" cy="1839.1" r="8.2"/><circle cx="1019.6" cy="1618.8" r="8.2"/><circle cx="1338.1" cy="1225.1" r="8.2"/><circle cx="1343.6" cy="1192.3" r="8.2"/><circle cx="1200.3" cy="1404.0" r="8.2"/><circle cx="1371.6" cy="1356.1" r="8.2"/><circle cx="1081.5" cy="1533.0" r="8.2"/><circle cx="1118.7" cy="1421.4" r="8.2"/><circle cx="1410.1" cy="1156.2" r="8.2"/><circle cx="1395.8" cy="1244.4" r="8.2"/><circle cx="1260.9" cy="1275.2" r="8.2"/><circle cx="1172.8" cy="1481.0" r="8.2"/><circle cx="1292.8" cy="1610.2" r="8.2"/><circle cx="843.2" cy="1895.8" r="8.2"/><circle cx="1170.6" cy="1387.1" r="8.2"/><circle cx="1344.9" cy="1134.2" r="8.2"/><circle cx="1134.9" cy="1557.0" r="8.2"/><circle cx="1102.2" cy="1565.7" r="8.2"/><circle cx="1192.9" cy="1421.2" r="8.2"/><circle cx="1260.6" cy="1397.3" r="8.2"/><circle cx="1129.9" cy="1529.2" r="8.2"/><circle cx="1316.4" cy="1270.4" r="8.2"/><circle cx="1372.1" cy="1197.7" r="8.2"/><circle cx="1139.1" cy="1575.9" r="8.2"/><circle cx="1166.6" cy="1361.5" r="8.2"/><circle cx="1320.9" cy="1220.5" r="8.2"/><circle cx="1184.1" cy="1461.9" r="8.2"/><circle cx="1267.5" cy="1223.3" r="8.2"/><circle cx="1138.3" cy="1579.7" r="8.2"/><circle cx="1296.4" cy="1294.9" r="8.2"/><circle cx="1301.3" cy="1242.3" r="8.2"/><circle cx="1269.4" cy="1253.9" r="8.2"/><circle cx="1349.4" cy="1179.5" r="8.2"/><circle cx="1166.3" cy="1491.0" r="8.2"/><circle cx="1187.7" cy="1521.5" r="8.2"/><circle cx="1303.3" cy="1262.6" r="8.2"/><circle cx="1270.9" cy="1276.9" r="8.2"/><circle cx="1190.8" cy="1413.8" r="8.2"/><circle cx="1043.4" cy="1544.5" r="8.2"/><circle cx="1147.4" cy="1447.7" r="8.2"/><circle cx="1196.2" cy="1449.6" r="8.2"/><circle cx="1268.7" cy="1297.4" r="8.2"/><circle cx="1375.1" cy="1135.7" r="8.2"/><circle cx="1477.5" cy="1041.3" r="8.2"/><circle cx="1152.8" cy="1389.9" r="8.2"/><circle cx="1429.3" cy="1075.5" r="8.2"/><circle cx="1170.7" cy="1592.0" r="8.2"/><circle cx="1109.3" cy="1735.2" r="8.2"/><circle cx="1362.7" cy="1379.6" r="8.2"/><circle cx="1115.8" cy="1612.7" r="8.2"/><circle cx="1208.0" cy="1319.5" r="8.2"/><circle cx="1279.9" cy="1323.3" r="8.2"/><circle cx="1234.3" cy="1380.2" r="8.2"/><circle cx="1338.1" cy="1221.8" r="8.2"/><circle cx="1187.1" cy="1513.8" r="8.2"/><circle cx="1200.6" cy="1336.7" r="8.2"/><circle cx="1174.3" cy="1577.4" r="8.2"/><circle cx="1212.3" cy="1356.7" r="8.2"/><circle cx="1214.9" cy="1449.6" r="8.2"/><circle cx="1183.6" cy="1435.6" r="8.2"/><circle cx="1238.3" cy="1309.8" r="8.2"/><circle cx="1189.9" cy="1568.7" r="8.2"/><circle cx="1251.2" cy="1283.6" r="8.2"/><circle cx="1196.8" cy="1399.4" r="8.2"/><circle cx="1279.7" cy="1268.8" r="8.2"/><circle cx="1147.0" cy="1735.8" r="8.2"/><circle cx="1156.9" cy="1412.2" r="8.2"/><circle cx="1150.7" cy="1418.9" r="8.2"/><circle cx="1344.0" cy="1187.4" r="8.2"/><circle cx="1210.2" cy="1360.9" r="8.2"/><circle cx="1381.0" cy="1294.6" r="8.2"/><circle cx="1211.9" cy="1402.6" r="8.2"/><circle cx="1396.8" cy="1193.3" r="8.2"/><circle cx="1281.7" cy="1304.0" r="8.2"/><circle cx="1329.8" cy="1261.8" r="8.2"/><circle cx="1142.7" cy="1498.6" r="8.2"/><circle cx="1502.7" cy="1186.4" r="8.2"/><circle cx="1145.9" cy="1448.1" r="8.2"/><circle cx="1286.4" cy="1405.2" r="8.2"/><circle cx="1215.4" cy="1530.8" r="8.2"/><circle cx="1153.9" cy="1850.5" r="8.2"/><circle cx="1112.5" cy="1500.6" r="8.2"/><circle cx="1040.6" cy="1501.5" r="8.2"/><circle cx="997.5" cy="1861.2" r="8.2"/><circle cx="1227.8" cy="1321.6" r="8.2"/><circle cx="1213.0" cy="1451.9" r="8.2"/><circle cx="1116.9" cy="1517.9" r="8.2"/><circle cx="1049.6" cy="1931.0" r="8.2"/><circle cx="999.2" cy="1577.9" r="8.2"/><circle cx="1223.5" cy="1678.9" r="8.2"/><circle cx="1285.9" cy="1280.1" r="8.2"/><circle cx="1364.9" cy="1130.9" r="8.2"/><circle cx="1195.2" cy="1365.3" r="8.2"/><circle cx="1279.0" cy="1274.0" r="8.2"/><circle cx="1128.0" cy="1789.6" r="8.2"/><circle cx="1056.1" cy="1621.0" r="8.2"/><circle cx="1209.4" cy="1598.3" r="8.2"/><circle cx="1163.8" cy="1436.5" r="8.2"/><circle cx="1174.0" cy="1661.5" r="8.2"/><circle cx="1119.4" cy="1542.4" r="8.2"/><circle cx="1261.2" cy="1275.8" r="8.2"/><circle cx="1343.6" cy="1191.2" r="8.2"/><circle cx="1293.2" cy="1237.8" r="8.2"/><circle cx="1123.2" cy="1427.4" r="8.2"/><circle cx="1134.9" cy="1501.0" r="8.2"/><circle cx="1142.7" cy="1545.0" r="8.2"/><circle cx="1469.1" cy="990.7" r="8.2"/><circle cx="1169.8" cy="1513.9" r="8.2"/><circle cx="1104.4" cy="1540.6" r="8.2"/><circle cx="1318.9" cy="1227.3" r="8.2"/><circle cx="1127.3" cy="1607.9" r="8.2"/><circle cx="1071.2" cy="1525.7" r="8.2"/><circle cx="1170.2" cy="1467.8" r="8.2"/><circle cx="1054.1" cy="1592.5" r="8.2"/><circle cx="1198.0" cy="1396.5" r="8.2"/><circle cx="1197.2" cy="1365.2" r="8.2"/><circle cx="1124.8" cy="1520.1" r="8.2"/><circle cx="1225.8" cy="1473.6" r="8.2"/><circle cx="1306.5" cy="1281.7" r="8.2"/><circle cx="1157.5" cy="1522.0" r="8.2"/><circle cx="1147.0" cy="1625.1" r="8.2"/><circle cx="1258.1" cy="1256.7" r="8.2"/><circle cx="1170.5" cy="1642.8" r="8.2"/><circle cx="1135.2" cy="1520.8" r="8.2"/><circle cx="1383.9" cy="1154.8" r="8.2"/><circle cx="1123.5" cy="1435.5" r="8.2"/><circle cx="1176.6" cy="1384.3" r="8.2"/><circle cx="1136.8" cy="1450.1" r="8.2"/><circle cx="1307.8" cy="1249.4" r="8.2"/><circle cx="1245.6" cy="1314.5" r="8.2"/><circle cx="1362.8" cy="1167.1" r="8.2"/><circle cx="1141.3" cy="1516.7" r="8.2"/><circle cx="1306.6" cy="1406.3" r="8.2"/><circle cx="1260.5" cy="1290.1" r="8.2"/><circle cx="1100.5" cy="1573.2" r="8.2"/><circle cx="1127.0" cy="1709.8" r="8.2"/><circle cx="1318.3" cy="1195.2" r="8.2"/><circle cx="1186.0" cy="1459.7" r="8.2"/><circle cx="1103.8" cy="1569.9" r="8.2"/><circle cx="1116.0" cy="1639.3" r="8.2"/><circle cx="1124.3" cy="1480.1" r="8.2"/><circle cx="1252.0" cy="1566.8" r="8.2"/><circle cx="1104.2" cy="1533.2" r="8.2"/><circle cx="1121.7" cy="1459.0" r="8.2"/><circle cx="1337.5" cy="1207.5" r="8.2"/><circle cx="1138.1" cy="1640.5" r="8.2"/><circle cx="1255.5" cy="1506.7" r="8.2"/><circle cx="1316.8" cy="1263.0" r="8.2"/><circle cx="1273.9" cy="1279.1" r="8.2"/><circle cx="1209.5" cy="1429.7" r="8.2"/><circle cx="1197.1" cy="1452.1" r="8.2"/><circle cx="1278.3" cy="1342.4" r="8.2"/><circle cx="1157.9" cy="1548.0" r="8.2"/><circle cx="1286.1" cy="1241.5" r="8.2"/><circle cx="1258.1" cy="1313.0" r="8.2"/><circle cx="1122.9" cy="1671.8" r="8.2"/><circle cx="979.8" cy="1642.7" r="8.2"/><circle cx="1243.9" cy="1373.6" r="8.2"/><circle cx="1191.3" cy="1334.2" r="8.2"/><circle cx="1230.0" cy="1380.8" r="8.2"/><circle cx="1237.7" cy="1309.7" r="8.2"/><circle cx="1203.7" cy="1426.2" r="8.2"/><circle cx="1113.7" cy="1558.7" r="8.2"/><circle cx="1217.5" cy="1340.6" r="8.2"/><circle cx="1148.4" cy="1691.4" r="8.2"/><circle cx="1193.6" cy="1433.1" r="8.2"/><circle cx="1016.5" cy="1705.7" r="8.2"/><circle cx="1430.9" cy="1272.3" r="8.2"/><circle cx="1121.1" cy="1446.7" r="8.2"/><circle cx="1468.8" cy="1023.6" r="8.2"/><circle cx="1320.9" cy="1165.0" r="8.2"/><circle cx="1156.7" cy="1599.1" r="8.2"/><circle cx="1228.3" cy="1292.1" r="8.2"/><circle cx="1137.4" cy="1525.4" r="8.2"/><circle cx="1006.1" cy="1745.0" r="8.2"/><circle cx="1208.5" cy="1800.4" r="8.2"/><circle cx="1069.5" cy="1557.3" r="8.2"/><circle cx="1108.0" cy="1618.1" r="8.2"/><circle cx="1091.2" cy="1650.7" r="8.2"/><circle cx="1220.3" cy="1419.1" r="8.2"/><circle cx="1242.1" cy="1372.7" r="8.2"/><circle cx="1421.5" cy="1199.6" r="8.2"/><circle cx="1124.7" cy="1556.3" r="8.2"/><circle cx="1299.1" cy="1265.1" r="8.2"/><circle cx="1233.0" cy="1406.2" r="8.2"/><circle cx="1005.1" cy="1756.9" r="8.2"/><circle cx="1174.8" cy="1581.0" r="8.2"/><circle cx="1437.9" cy="1041.4" r="8.2"/><circle cx="1284.2" cy="1420.9" r="8.2"/><circle cx="1250.1" cy="1494.0" r="8.2"/><circle cx="1256.2" cy="1460.5" r="8.2"/><circle cx="1417.4" cy="1125.9" r="8.2"/><circle cx="1188.7" cy="1463.5" r="8.2"/><circle cx="1121.4" cy="1638.0" r="8.2"/><circle cx="1057.8" cy="1733.6" r="8.2"/><circle cx="1226.7" cy="1329.7" r="8.2"/><circle cx="1109.6" cy="1615.4" r="8.2"/><circle cx="1387.8" cy="1214.1" r="8.2"/><circle cx="1448.7" cy="1226.6" r="8.2"/><circle cx="1234.1" cy="1330.6" r="8.2"/><circle cx="1232.9" cy="1399.7" r="8.2"/><circle cx="1097.9" cy="1934.4" r="8.2"/><circle cx="1316.4" cy="1497.4" r="8.2"/><circle cx="1170.9" cy="1405.5" r="8.2"/><circle cx="1284.2" cy="1273.8" r="8.2"/><circle cx="1161.0" cy="1634.8" r="8.2"/><circle cx="1320.8" cy="1211.1" r="8.2"/><circle cx="1111.1" cy="1493.1" r="8.2"/><circle cx="1460.2" cy="1072.0" r="8.2"/><circle cx="1239.6" cy="1313.9" r="8.2"/><circle cx="1166.3" cy="1443.8" r="8.2"/><circle cx="1158.7" cy="1658.1" r="8.2"/><circle cx="1135.2" cy="1753.9" r="8.2"/><circle cx="1189.8" cy="1451.7" r="8.2"/><circle cx="1338.3" cy="1191.0" r="8.2"/><circle cx="1184.1" cy="1481.1" r="8.2"/><circle cx="1164.6" cy="1560.2" r="8.2"/><circle cx="1189.5" cy="1521.6" r="8.2"/><circle cx="1171.3" cy="1490.7" r="8.2"/><circle cx="1159.0" cy="1600.1" r="8.2"/><circle cx="1190.1" cy="1420.1" r="8.2"/><circle cx="1273.0" cy="1326.2" r="8.2"/><circle cx="1292.3" cy="1227.9" r="8.2"/><circle cx="1012.5" cy="1811.9" r="8.2"/><circle cx="1384.7" cy="1090.5" r="8.2"/><circle cx="1176.8" cy="1400.3" r="8.2"/><circle cx="1191.0" cy="1434.5" r="8.2"/><circle cx="1201.7" cy="1684.0" r="8.2"/><circle cx="1353.2" cy="1261.5" r="8.2"/><circle cx="1042.2" cy="1551.0" r="8.2"/><circle cx="1311.2" cy="1250.5" r="8.2"/><circle cx="1241.9" cy="1353.2" r="8.2"/><circle cx="1187.2" cy="1803.6" r="8.2"/><circle cx="1162.3" cy="1441.8" r="8.2"/><circle cx="1198.1" cy="1394.5" r="8.2"/><circle cx="1241.9" cy="1518.1" r="8.2"/><circle cx="1182.2" cy="1410.7" r="8.2"/><circle cx="1362.0" cy="1182.9" r="8.2"/><circle cx="1227.9" cy="1418.0" r="8.2"/><circle cx="1203.3" cy="1446.7" r="8.2"/><circle cx="1367.0" cy="1130.0" r="8.2"/><circle cx="1018.9" cy="1693.8" r="8.2"/><circle cx="1377.2" cy="1188.2" r="8.2"/><circle cx="1189.2" cy="1409.0" r="8.2"/><circle cx="1116.9" cy="1573.1" r="8.2"/><circle cx="1258.8" cy="1367.9" r="8.2"/><circle cx="1142.3" cy="1443.3" r="8.2"/><circle cx="1195.4" cy="1464.8" r="8.2"/><circle cx="1186.3" cy="1394.9" r="8.2"/><circle cx="1423.9" cy="1265.6" r="8.2"/><circle cx="1237.5" cy="1348.7" r="8.2"/><circle cx="1207.4" cy="1507.8" r="8.2"/><circle cx="1252.1" cy="1635.9" r="8.2"/><circle cx="1250.8" cy="1333.7" r="8.2"/><circle cx="1122.0" cy="1723.4" r="8.2"/><circle cx="1176.2" cy="1440.3" r="8.2"/><circle cx="1103.4" cy="1631.3" r="8.2"/><circle cx="1121.6" cy="1544.5" r="8.2"/><circle cx="1177.9" cy="1681.6" r="8.2"/><circle cx="1043.0" cy="1580.1" r="8.2"/><circle cx="1107.3" cy="1554.9" r="8.2"/><circle cx="1106.0" cy="1654.7" r="8.2"/><circle cx="1196.2" cy="1518.9" r="8.2"/><circle cx="1170.4" cy="1515.2" r="8.2"/><circle cx="1106.6" cy="1529.2" r="8.2"/><circle cx="1511.9" cy="997.7" r="8.2"/><circle cx="1283.3" cy="1293.6" r="8.2"/><circle cx="1251.4" cy="1310.5" r="8.2"/><circle cx="1238.0" cy="1477.9" r="8.2"/><circle cx="1273.1" cy="1454.1" r="8.2"/><circle cx="1134.2" cy="1463.6" r="8.2"/><circle cx="1285.9" cy="1257.9" r="8.2"/><circle cx="1162.2" cy="1604.3" r="8.2"/><circle cx="1130.7" cy="1559.8" r="8.2"/><circle cx="1124.7" cy="1609.1" r="8.2"/><circle cx="1314.2" cy="1323.1" r="8.2"/><circle cx="1162.4" cy="1545.8" r="8.2"/><circle cx="1337.4" cy="1339.2" r="8.2"/><circle cx="1518.0" cy="984.5" r="8.2"/><circle cx="1398.0" cy="1196.5" r="8.2"/><circle cx="1187.3" cy="1339.0" r="8.2"/><circle cx="1216.7" cy="1312.4" r="8.2"/><circle cx="1226.5" cy="1367.1" r="8.2"/><circle cx="1090.2" cy="1529.2" r="8.2"/><circle cx="1270.8" cy="1284.8" r="8.2"/><circle cx="1305.9" cy="1252.4" r="8.2"/><circle cx="1129.3" cy="1513.5" r="8.2"/><circle cx="1155.3" cy="1424.5" r="8.2"/><circle cx="1256.9" cy="1391.0" r="8.2"/><circle cx="1419.2" cy="1115.5" r="8.2"/><circle cx="1163.6" cy="1503.5" r="8.2"/><circle cx="1346.4" cy="1421.2" r="8.2"/><circle cx="1067.0" cy="1565.4" r="8.2"/><circle cx="1215.3" cy="1309.5" r="8.2"/><circle cx="1125.0" cy="1639.6" r="8.2"/><circle cx="1323.0" cy="1171.7" r="8.2"/><circle cx="1110.1" cy="1502.9" r="8.2"/><circle cx="1075.8" cy="1808.2" r="8.2"/><circle cx="1171.2" cy="1411.4" r="8.2"/><circle cx="1271.1" cy="1361.5" r="8.2"/><circle cx="1269.3" cy="1343.2" r="8.2"/><circle cx="1172.8" cy="1409.8" r="8.2"/><circle cx="1267.1" cy="1417.2" r="8.2"/><circle cx="1110.7" cy="1675.3" r="8.2"/><circle cx="1181.8" cy="1362.1" r="8.2"/><circle cx="1349.0" cy="1358.4" r="8.2"/><circle cx="1120.4" cy="1465.0" r="8.2"/><circle cx="1125.1" cy="1624.7" r="8.2"/><circle cx="1178.7" cy="1363.7" r="8.2"/><circle cx="1139.3" cy="1393.2" r="8.2"/><circle cx="1201.4" cy="1559.9" r="8.2"/><circle cx="1175.9" cy="1460.7" r="8.2"/><circle cx="1221.6" cy="1453.8" r="8.2"/><circle cx="994.4" cy="1877.5" r="8.2"/><circle cx="1303.6" cy="1299.8" r="8.2"/><circle cx="1169.4" cy="1496.5" r="8.2"/><circle cx="1067.5" cy="1535.1" r="8.2"/><circle cx="1228.2" cy="1356.5" r="8.2"/><circle cx="1115.9" cy="1588.5" r="8.2"/><circle cx="1143.1" cy="1485.9" r="8.2"/><circle cx="1283.2" cy="1188.8" r="8.2"/><circle cx="1075.8" cy="1750.3" r="8.2"/><circle cx="1398.7" cy="1402.3" r="8.2"/><circle cx="1134.4" cy="1604.7" r="8.2"/><circle cx="1227.0" cy="1460.9" r="8.2"/><circle cx="1102.2" cy="1569.0" r="8.2"/><circle cx="1397.8" cy="1157.3" r="8.2"/><circle cx="1242.1" cy="1345.5" r="8.2"/><circle cx="1147.2" cy="1505.4" r="8.2"/><circle cx="1175.2" cy="1459.8" r="8.2"/><circle cx="1224.5" cy="1409.3" r="8.2"/><circle cx="1130.9" cy="1556.6" r="8.2"/><circle cx="1218.5" cy="1402.4" r="8.2"/><circle cx="1355.1" cy="1261.4" r="8.2"/><circle cx="1116.2" cy="1490.1" r="8.2"/><circle cx="1150.7" cy="1525.8" r="8.2"/><circle cx="1411.1" cy="1077.6" r="8.2"/><circle cx="1324.5" cy="1227.8" r="8.2"/><circle cx="1050.5" cy="1562.2" r="8.2"/><circle cx="1094.2" cy="1819.9" r="8.2"/><circle cx="1243.1" cy="1305.6" r="8.2"/><circle cx="1299.9" cy="1270.9" r="8.2"/><circle cx="1447.6" cy="1152.0" r="8.2"/><circle cx="1104.6" cy="1572.0" r="8.2"/><circle cx="1187.9" cy="1538.0" r="8.2"/><circle cx="1196.7" cy="1395.8" r="8.2"/><circle cx="1325.6" cy="1396.5" r="8.2"/><circle cx="1182.9" cy="1527.0" r="8.2"/><circle cx="1052.2" cy="1824.9" r="8.2"/><circle cx="1093.6" cy="1732.6" r="8.2"/><circle cx="1185.9" cy="1476.4" r="8.2"/><circle cx="1101.5" cy="1502.8" r="8.2"/><circle cx="1186.8" cy="1470.8" r="8.2"/><circle cx="1211.2" cy="1368.4" r="8.2"/><circle cx="1183.1" cy="1493.1" r="8.2"/><circle cx="1217.8" cy="1521.2" r="8.2"/><circle cx="989.5" cy="1699.3" r="8.2"/><circle cx="1253.9" cy="1318.5" r="8.2"/><circle cx="1042.8" cy="1605.2" r="8.2"/><circle cx="1206.2" cy="1526.7" r="8.2"/><circle cx="1111.2" cy="1794.4" r="8.2"/><circle cx="1174.8" cy="1462.5" r="8.2"/><circle cx="1297.7" cy="1248.3" r="8.2"/><circle cx="1317.3" cy="1236.1" r="8.2"/><circle cx="1334.1" cy="1276.1" r="8.2"/><circle cx="1246.6" cy="1302.4" r="8.2"/><circle cx="1205.3" cy="1378.7" r="8.2"/><circle cx="1306.6" cy="1271.1" r="8.2"/><circle cx="1075.0" cy="1513.1" r="8.2"/><circle cx="1021.1" cy="1601.4" r="8.2"/><circle cx="1339.3" cy="1220.3" r="8.2"/><circle cx="1272.5" cy="1390.5" r="8.2"/><circle cx="1166.2" cy="1697.2" r="8.2"/><circle cx="1132.8" cy="1470.2" r="8.2"/><circle cx="1439.8" cy="1132.2" r="8.2"/><circle cx="1124.3" cy="1915.6" r="8.2"/><circle cx="1146.9" cy="1465.6" r="8.2"/><circle cx="1404.9" cy="1133.4" r="8.2"/><circle cx="1273.7" cy="1262.3" r="8.2"/><circle cx="1344.2" cy="1159.9" r="8.2"/><circle cx="1390.9" cy="1231.1" r="8.2"/><circle cx="1417.7" cy="1061.0" r="8.2"/><circle cx="1160.1" cy="1528.8" r="8.2"/><circle cx="1132.9" cy="1574.0" r="8.2"/><circle cx="1218.8" cy="1322.0" r="8.2"/><circle cx="1155.3" cy="1475.3" r="8.2"/><circle cx="1175.3" cy="1381.1" r="8.2"/><circle cx="1220.8" cy="1276.5" r="8.2"/><circle cx="1328.0" cy="1257.9" r="8.2"/><circle cx="1220.5" cy="1333.5" r="8.2"/><circle cx="1165.5" cy="1412.5" r="8.2"/><circle cx="1116.4" cy="1507.9" r="8.2"/><circle cx="1298.7" cy="1227.6" r="8.2"/><circle cx="1251.4" cy="1410.9" r="8.2"/><circle cx="1145.2" cy="1660.9" r="8.2"/><circle cx="1317.2" cy="1368.7" r="8.2"/><circle cx="1070.9" cy="1582.3" r="8.2"/><circle cx="1077.0" cy="1670.3" r="8.2"/><circle cx="1143.4" cy="1457.1" r="8.2"/><circle cx="1303.7" cy="1226.9" r="8.2"/><circle cx="1199.1" cy="1437.1" r="8.2"/><circle cx="1244.7" cy="1413.3" r="8.2"/><circle cx="1360.1" cy="1193.1" r="8.2"/><circle cx="1466.8" cy="1161.0" r="8.2"/><circle cx="1312.3" cy="1438.5" r="8.2"/><circle cx="1188.7" cy="1596.4" r="8.2"/><circle cx="1211.2" cy="1311.3" r="8.2"/><circle cx="903.5" cy="1776.3" r="8.2"/><circle cx="1071.7" cy="1644.5" r="8.2"/><circle cx="1191.0" cy="1493.3" r="8.2"/><circle cx="1179.0" cy="1571.9" r="8.2"/><circle cx="1206.5" cy="1350.7" r="8.2"/><circle cx="976.7" cy="1701.2" r="8.2"/><circle cx="1402.1" cy="1315.4" r="8.2"/><circle cx="1206.1" cy="1399.4" r="8.2"/><circle cx="1099.9" cy="1573.4" r="8.2"/><circle cx="1251.4" cy="1461.2" r="8.2"/><circle cx="1231.1" cy="1341.6" r="8.2"/><circle cx="1292.3" cy="1706.1" r="8.2"/><circle cx="1482.0" cy="997.0" r="8.2"/><circle cx="1184.2" cy="1380.6" r="8.2"/><circle cx="849.1" cy="1825.3" r="8.2"/><circle cx="1128.8" cy="1558.7" r="8.2"/><circle cx="1173.7" cy="1363.7" r="8.2"/><circle cx="1146.3" cy="1516.3" r="8.2"/><circle cx="1191.6" cy="1451.3" r="8.2"/><circle cx="1237.2" cy="1494.3" r="8.2"/><circle cx="1206.6" cy="1553.4" r="8.2"/><circle cx="1091.6" cy="1604.2" r="8.2"/><circle cx="1036.2" cy="1645.5" r="8.2"/><circle cx="1031.0" cy="1584.8" r="8.2"/><circle cx="1265.3" cy="1487.9" r="8.2"/><circle cx="1159.7" cy="1443.2" r="8.2"/><circle cx="1212.4" cy="1381.2" r="8.2"/><circle cx="1175.6" cy="1436.0" r="8.2"/><circle cx="1260.3" cy="1293.9" r="8.2"/><circle cx="1472.2" cy="1058.3" r="8.2"/><circle cx="1225.8" cy="1599.6" r="8.2"/><circle cx="1126.1" cy="1598.9" r="8.2"/><circle cx="1269.8" cy="1447.9" r="8.2"/><circle cx="1151.1" cy="1646.9" r="8.2"/><circle cx="1262.0" cy="1564.5" r="8.2"/><circle cx="1213.7" cy="1393.7" r="8.2"/><circle cx="999.9" cy="1688.8" r="8.2"/><circle cx="1115.3" cy="1731.3" r="8.2"/><circle cx="1138.5" cy="1588.2" r="8.2"/><circle cx="1166.2" cy="1535.1" r="8.2"/><circle cx="1341.8" cy="1280.0" r="8.2"/><circle cx="1266.4" cy="1346.8" r="8.2"/><circle cx="1207.8" cy="1362.2" r="8.2"/><circle cx="1169.2" cy="1424.1" r="8.2"/><circle cx="1023.3" cy="1921.3" r="8.2"/><circle cx="1131.5" cy="1554.6" r="8.2"/><circle cx="1330.3" cy="1396.8" r="8.2"/><circle cx="1169.4" cy="1444.6" r="8.2"/><circle cx="1129.0" cy="1449.4" r="8.2"/><circle cx="1399.3" cy="1101.5" r="8.2"/><circle cx="1125.9" cy="1424.2" r="8.2"/><circle cx="1305.0" cy="1344.2" r="8.2"/><circle cx="1159.9" cy="1341.4" r="8.2"/><circle cx="1152.0" cy="1521.6" r="8.2"/><circle cx="1171.7" cy="1556.4" r="8.2"/><circle cx="1148.7" cy="1549.0" r="8.2"/><circle cx="1134.5" cy="1492.1" r="8.2"/><circle cx="1130.3" cy="1628.0" r="8.2"/><circle cx="1199.0" cy="1465.4" r="8.2"/><circle cx="1183.6" cy="1402.0" r="8.2"/><circle cx="1005.5" cy="1629.5" r="8.2"/><circle cx="1166.3" cy="1532.9" r="8.2"/><circle cx="1313.4" cy="1514.6" r="8.2"/><circle cx="1274.3" cy="1309.4" r="8.2"/><circle cx="1110.0" cy="1546.0" r="8.2"/><circle cx="1139.6" cy="1610.5" r="8.2"/><circle cx="1254.9" cy="1309.8" r="8.2"/><circle cx="1259.7" cy="1397.6" r="8.2"/><circle cx="1050.4" cy="1566.9" r="8.2"/><circle cx="1135.7" cy="1491.4" r="8.2"/><circle cx="1192.5" cy="1390.7" r="8.2"/><circle cx="1238.3" cy="1311.5" r="8.2"/><circle cx="1219.3" cy="1444.2" r="8.2"/><circle cx="1263.6" cy="1395.1" r="8.2"/><circle cx="1341.8" cy="1324.0" r="8.2"/><circle cx="1333.1" cy="1402.8" r="8.2"/><circle cx="1146.8" cy="1528.3" r="8.2"/><circle cx="1330.3" cy="1283.4" r="8.2"/><circle cx="1135.3" cy="1601.4" r="8.2"/><circle cx="932.7" cy="1947.9" r="8.2"/><circle cx="1305.6" cy="1213.8" r="8.2"/><circle cx="1354.9" cy="1110.6" r="8.2"/><circle cx="1111.3" cy="1443.6" r="8.2"/><circle cx="1269.6" cy="1276.4" r="8.2"/><circle cx="1079.5" cy="1553.0" r="8.2"/><circle cx="1372.6" cy="1104.9" r="8.2"/><circle cx="1205.8" cy="1348.2" r="8.2"/><circle cx="1199.1" cy="1428.4" r="8.2"/><circle cx="1361.8" cy="1221.0" r="8.2"/><circle cx="1129.3" cy="1540.7" r="8.2"/><circle cx="1188.3" cy="1534.5" r="8.2"/><circle cx="1102.8" cy="1516.8" r="8.2"/><circle cx="1113.9" cy="1530.8" r="8.2"/><circle cx="1202.2" cy="1515.5" r="8.2"/><circle cx="1326.5" cy="1275.8" r="8.2"/><circle cx="1164.8" cy="1637.5" r="8.2"/><circle cx="974.4" cy="1904.6" r="8.2"/><circle cx="1143.3" cy="1533.7" r="8.2"/><circle cx="1183.4" cy="1427.0" r="8.2"/><circle cx="1082.9" cy="1607.9" r="8.2"/><circle cx="1121.6" cy="1510.6" r="8.2"/><circle cx="1147.9" cy="1443.8" r="8.2"/><circle cx="1300.8" cy="1482.3" r="8.2"/><circle cx="1175.8" cy="1474.6" r="8.2"/><circle cx="1123.0" cy="1533.3" r="8.2"/><circle cx="1206.9" cy="1501.6" r="8.2"/><circle cx="1233.5" cy="1600.1" r="8.2"/><circle cx="1212.2" cy="1454.9" r="8.2"/><circle cx="1278.0" cy="1282.4" r="8.2"/><circle cx="1227.5" cy="1783.8" r="8.2"/><circle cx="1091.3" cy="1612.9" r="8.2"/><circle cx="1232.4" cy="1545.5" r="8.2"/><circle cx="1220.5" cy="1371.9" r="8.2"/><circle cx="1190.4" cy="1494.4" r="8.2"/><circle cx="1114.9" cy="1512.8" r="8.2"/><circle cx="1131.3" cy="1573.3" r="8.2"/><circle cx="1220.7" cy="1380.2" r="8.2"/><circle cx="1289.9" cy="1283.5" r="8.2"/><circle cx="1074.6" cy="1649.6" r="8.2"/><circle cx="1289.7" cy="1245.0" r="8.2"/><circle cx="1182.0" cy="1682.9" r="8.2"/><circle cx="1239.7" cy="1472.3" r="8.2"/><circle cx="1304.4" cy="1278.8" r="8.2"/><circle cx="1085.9" cy="1566.8" r="8.2"/><circle cx="1272.0" cy="1316.3" r="8.2"/><circle cx="1293.0" cy="1270.2" r="8.2"/><circle cx="1197.3" cy="1420.5" r="8.2"/><circle cx="1125.7" cy="1513.4" r="8.2"/><circle cx="1215.4" cy="1358.8" r="8.2"/><circle cx="1233.2" cy="1314.8" r="8.2"/><circle cx="1155.1" cy="1415.2" r="8.2"/><circle cx="1181.0" cy="1490.5" r="8.2"/><circle cx="1272.7" cy="1389.8" r="8.2"/><circle cx="1294.8" cy="1435.2" r="8.2"/><circle cx="1385.1" cy="1081.8" r="8.2"/><circle cx="1450.1" cy="1054.8" r="8.2"/><circle cx="1033.3" cy="1678.9" r="8.2"/><circle cx="1363.9" cy="1177.2" r="8.2"/><circle cx="1338.3" cy="1171.5" r="8.2"/><circle cx="1496.3" cy="1019.6" r="8.2"/><circle cx="1303.9" cy="1343.8" r="8.2"/><circle cx="1397.8" cy="1301.0" r="8.2"/><circle cx="1449.9" cy="1247.1" r="8.2"/><circle cx="1121.8" cy="1545.1" r="8.2"/><circle cx="1106.9" cy="1768.8" r="8.2"/><circle cx="1235.0" cy="1471.0" r="8.2"/><circle cx="1356.9" cy="1222.0" r="8.2"/><circle cx="1199.6" cy="1386.3" r="8.2"/><circle cx="1202.2" cy="1394.6" r="8.2"/><circle cx="1349.9" cy="1385.5" r="8.2"/><circle cx="1213.6" cy="1341.6" r="8.2"/><circle cx="1311.6" cy="1350.7" r="8.2"/><circle cx="1235.2" cy="1559.6" r="8.2"/><circle cx="1194.5" cy="1541.5" r="8.2"/><circle cx="1208.3" cy="1365.6" r="8.2"/><circle cx="1319.8" cy="1266.9" r="8.2"/><circle cx="1103.5" cy="1591.7" r="8.2"/><circle cx="1165.7" cy="1481.6" r="8.2"/><circle cx="1075.8" cy="1645.2" r="8.2"/><circle cx="1260.1" cy="1317.9" r="8.2"/><circle cx="1153.5" cy="1569.1" r="8.2"/><circle cx="1342.0" cy="1297.5" r="8.2"/><circle cx="1152.0" cy="1723.2" r="8.2"/><circle cx="1352.5" cy="1199.2" r="8.2"/><circle cx="1145.6" cy="1580.8" r="8.2"/><circle cx="1385.4" cy="1162.3" r="8.2"/><circle cx="1367.1" cy="1106.4" r="8.2"/><circle cx="1149.4" cy="1625.3" r="8.2"/><circle cx="1185.4" cy="1423.6" r="8.2"/><circle cx="1077.8" cy="1714.3" r="8.2"/><circle cx="1230.9" cy="1391.0" r="8.2"/><circle cx="1254.7" cy="1262.8" r="8.2"/><circle cx="1198.1" cy="1380.8" r="8.2"/><circle cx="1157.4" cy="1662.4" r="8.2"/><circle cx="1195.3" cy="1415.5" r="8.2"/><circle cx="1317.9" cy="1232.5" r="8.2"/><circle cx="1138.4" cy="1481.1" r="8.2"/><circle cx="1312.2" cy="1245.3" r="8.2"/><circle cx="1285.5" cy="1221.8" r="8.2"/><circle cx="1162.3" cy="1499.2" r="8.2"/><circle cx="1450.9" cy="1014.6" r="8.2"/><circle cx="1218.9" cy="1514.9" r="8.2"/><circle cx="1188.2" cy="1524.2" r="8.2"/><circle cx="1182.5" cy="1349.0" r="8.2"/><circle cx="1177.1" cy="1423.8" r="8.2"/><circle cx="1190.1" cy="1455.9" r="8.2"/><circle cx="1086.9" cy="1811.0" r="8.2"/><circle cx="1214.6" cy="1366.2" r="8.2"/><circle cx="1168.9" cy="1414.4" r="8.2"/><circle cx="1258.3" cy="1259.3" r="8.2"/><circle cx="1228.6" cy="1341.9" r="8.2"/><circle cx="1478.2" cy="1018.9" r="8.2"/><circle cx="1293.7" cy="1325.9" r="8.2"/><circle cx="957.2" cy="1747.1" r="8.2"/><circle cx="1116.2" cy="1448.0" r="8.2"/><circle cx="1183.8" cy="1520.3" r="8.2"/><circle cx="1194.6" cy="1534.7" r="8.2"/><circle cx="1180.5" cy="1428.7" r="8.2"/><circle cx="1267.4" cy="1325.1" r="8.2"/><circle cx="1405.0" cy="1192.5" r="8.2"/><circle cx="1087.7" cy="1509.2" r="8.2"/><circle cx="1209.8" cy="1376.4" r="8.2"/><circle cx="1125.9" cy="1522.4" r="8.2"/><circle cx="1154.9" cy="1512.8" r="8.2"/><circle cx="1431.7" cy="1069.4" r="8.2"/><circle cx="1080.2" cy="1626.6" r="8.2"/><circle cx="1147.2" cy="1420.8" r="8.2"/><circle cx="1197.4" cy="1491.8" r="8.2"/><circle cx="1287.5" cy="1374.4" r="8.2"/><circle cx="1383.1" cy="1101.4" r="8.2"/><circle cx="1456.7" cy="1130.1" r="8.2"/><circle cx="1359.3" cy="1241.3" r="8.2"/><circle cx="1312.2" cy="1230.7" r="8.2"/><circle cx="1184.7" cy="1652.3" r="8.2"/><circle cx="1132.8" cy="1477.6" r="8.2"/><circle cx="1345.3" cy="1417.1" r="8.2"/><circle cx="1267.8" cy="1300.9" r="8.2"/><circle cx="1270.0" cy="1236.6" r="8.2"/><circle cx="1273.7" cy="1393.2" r="8.2"/><circle cx="1356.9" cy="1177.6" r="8.2"/><circle cx="1232.4" cy="1312.5" r="8.2"/><circle cx="1148.4" cy="1564.8" r="8.2"/><circle cx="1004.9" cy="1927.9" r="8.2"/><circle cx="1135.9" cy="1503.9" r="8.2"/><circle cx="1255.2" cy="1441.3" r="8.2"/><circle cx="1168.1" cy="1489.4" r="8.2"/><circle cx="1141.7" cy="1699.7" r="8.2"/><circle cx="1112.5" cy="1763.2" r="8.2"/><circle cx="1064.4" cy="1654.6" r="8.2"/><circle cx="1227.2" cy="1439.1" r="8.2"/><circle cx="1238.1" cy="1416.9" r="8.2"/><circle cx="1400.7" cy="1134.5" r="8.2"/><circle cx="1309.9" cy="1336.2" r="8.2"/><circle cx="1117.4" cy="1565.3" r="8.2"/><circle cx="1133.1" cy="1573.7" r="8.2"/><circle cx="1413.7" cy="1153.9" r="8.2"/><circle cx="1137.9" cy="1482.7" r="8.2"/><circle cx="1186.8" cy="1309.4" r="8.2"/><circle cx="1310.8" cy="1345.7" r="8.2"/><circle cx="1252.7" cy="1376.4" r="8.2"/><circle cx="1057.8" cy="1688.4" r="8.2"/><circle cx="1181.0" cy="1459.8" r="8.2"/><circle cx="1202.7" cy="1344.1" r="8.2"/><circle cx="1183.8" cy="1440.3" r="8.2"/><circle cx="1108.6" cy="1486.4" r="8.2"/><circle cx="1419.7" cy="1158.4" r="8.2"/><circle cx="1208.2" cy="1581.3" r="8.2"/><circle cx="1259.9" cy="1604.9" r="8.2"/><circle cx="1291.6" cy="1264.7" r="8.2"/><circle cx="1131.1" cy="1582.8" r="8.2"/><circle cx="1024.0" cy="1671.5" r="8.2"/><circle cx="1233.6" cy="1262.0" r="8.2"/><circle cx="1375.3" cy="1258.6" r="8.2"/><circle cx="1339.3" cy="1245.5" r="8.2"/><circle cx="1336.8" cy="1144.3" r="8.2"/><circle cx="1130.6" cy="1629.8" r="8.2"/><circle cx="1337.5" cy="1400.2" r="8.2"/><circle cx="1091.2" cy="1550.3" r="8.2"/><circle cx="1143.9" cy="1467.3" r="8.2"/><circle cx="1317.4" cy="1213.6" r="8.2"/><circle cx="1083.8" cy="1679.8" r="8.2"/><circle cx="1296.8" cy="1228.5" r="8.2"/><circle cx="1299.4" cy="1374.7" r="8.2"/><circle cx="1362.9" cy="1275.8" r="8.2"/><circle cx="1347.8" cy="1281.2" r="8.2"/><circle cx="1279.2" cy="1295.9" r="8.2"/><circle cx="1121.7" cy="1450.1" r="8.2"/><circle cx="1108.6" cy="1511.8" r="8.2"/><circle cx="1087.4" cy="1495.6" r="8.2"/><circle cx="1143.2" cy="1597.9" r="8.2"/><circle cx="1123.8" cy="1722.1" r="8.2"/><circle cx="1477.0" cy="1014.8" r="8.2"/><circle cx="1338.8" cy="1190.1" r="8.2"/><circle cx="1094.6" cy="1724.8" r="8.2"/><circle cx="1203.5" cy="1484.3" r="8.2"/><circle cx="1300.8" cy="1317.4" r="8.2"/><circle cx="1160.3" cy="1481.2" r="8.2"/><circle cx="1194.2" cy="1562.9" r="8.2"/><circle cx="1332.7" cy="1317.1" r="8.2"/><circle cx="1361.3" cy="1322.1" r="8.2"/><circle cx="1111.2" cy="1817.2" r="8.2"/><circle cx="1295.4" cy="1452.0" r="8.2"/><circle cx="1192.5" cy="1382.7" r="8.2"/><circle cx="1011.8" cy="1641.2" r="8.2"/><circle cx="1123.9" cy="1512.4" r="8.2"/><circle cx="1346.7" cy="1217.2" r="8.2"/><circle cx="1096.8" cy="1636.2" r="8.2"/><circle cx="1113.7" cy="1676.5" r="8.2"/><circle cx="1429.7" cy="1110.8" r="8.2"/><circle cx="1182.7" cy="1500.8" r="8.2"/><circle cx="1353.1" cy="1372.4" r="8.2"/><circle cx="1124.3" cy="1641.8" r="8.2"/><circle cx="1091.5" cy="1470.6" r="8.2"/><circle cx="1364.5" cy="1162.4" r="8.2"/><circle cx="1156.2" cy="1445.3" r="8.2"/><circle cx="1407.2" cy="1343.6" r="8.2"/><circle cx="1254.7" cy="1403.2" r="8.2"/><circle cx="1319.2" cy="1365.6" r="8.2"/><circle cx="1154.7" cy="1532.4" r="8.2"/><circle cx="1282.2" cy="1337.4" r="8.2"/><circle cx="1315.6" cy="1208.8" r="8.2"/><circle cx="1249.8" cy="1300.6" r="8.2"/><circle cx="1365.0" cy="1245.1" r="8.2"/><circle cx="1352.4" cy="1726.1" r="8.2"/><circle cx="1214.8" cy="1340.1" r="8.2"/><circle cx="1386.6" cy="1188.4" r="8.2"/><circle cx="1278.2" cy="1246.3" r="8.2"/><circle cx="1351.3" cy="1185.9" r="8.2"/><circle cx="1097.5" cy="1502.0" r="8.2"/><circle cx="1140.2" cy="1801.3" r="8.2"/><circle cx="1123.1" cy="1483.1" r="8.2"/><circle cx="1017.1" cy="1682.8" r="8.2"/><circle cx="1252.2" cy="1284.3" r="8.2"/><circle cx="1421.9" cy="1589.1" r="8.2"/><circle cx="1259.1" cy="1352.4" r="8.2"/><circle cx="1451.3" cy="1165.2" r="8.2"/><circle cx="1308.6" cy="1494.7" r="8.2"/><circle cx="1209.9" cy="1505.8" r="8.2"/><circle cx="1152.3" cy="1447.9" r="8.2"/><circle cx="1136.1" cy="1517.4" r="8.2"/><circle cx="1411.3" cy="1139.0" r="8.2"/><circle cx="1388.4" cy="1170.2" r="8.2"/><circle cx="1355.2" cy="1295.9" r="8.2"/><circle cx="1174.4" cy="1409.7" r="8.2"/><circle cx="1273.9" cy="1360.2" r="8.2"/><circle cx="1198.8" cy="1718.0" r="8.2"/><circle cx="1310.9" cy="1315.6" r="8.2"/><circle cx="1228.6" cy="1524.7" r="8.2"/><circle cx="989.1" cy="1845.2" r="8.2"/><circle cx="1128.1" cy="1423.9" r="8.2"/><circle cx="1148.2" cy="1397.2" r="8.2"/><circle cx="1165.9" cy="1433.8" r="8.2"/><circle cx="1172.3" cy="1555.8" r="8.2"/><circle cx="993.9" cy="1593.4" r="8.2"/><circle cx="1181.1" cy="1480.3" r="8.2"/><circle cx="1382.8" cy="1156.8" r="8.2"/><circle cx="1213.0" cy="1433.8" r="8.2"/><circle cx="1124.4" cy="1549.6" r="8.2"/><circle cx="1456.6" cy="1001.4" r="8.2"/><circle cx="1349.8" cy="1290.2" r="8.2"/><circle cx="1333.9" cy="1210.2" r="8.2"/><circle cx="1122.6" cy="1438.3" r="8.2"/><circle cx="1268.8" cy="1230.3" r="8.2"/><circle cx="1161.8" cy="1567.9" r="8.2"/><circle cx="1311.2" cy="1299.7" r="8.2"/><circle cx="1170.3" cy="1672.0" r="8.2"/><circle cx="1124.3" cy="1456.9" r="8.2"/><circle cx="1433.2" cy="1117.1" r="8.2"/><circle cx="1350.8" cy="1150.4" r="8.2"/><circle cx="1245.6" cy="1436.3" r="8.2"/><circle cx="1188.7" cy="1465.0" r="8.2"/><circle cx="1226.7" cy="1413.6" r="8.2"/><circle cx="1249.1" cy="1577.2" r="8.2"/><circle cx="1166.7" cy="1554.3" r="8.2"/><circle cx="1176.5" cy="1404.6" r="8.2"/><circle cx="1141.8" cy="1477.1" r="8.2"/><circle cx="1212.1" cy="1490.0" r="8.2"/><circle cx="1132.9" cy="1504.0" r="8.2"/><circle cx="1176.5" cy="1500.0" r="8.2"/><circle cx="1150.0" cy="1433.5" r="8.2"/><circle cx="1359.7" cy="1164.3" r="8.2"/><circle cx="1182.5" cy="1442.9" r="8.2"/><circle cx="1117.3" cy="1793.6" r="8.2"/><circle cx="1101.2" cy="1583.6" r="8.2"/><circle cx="1272.0" cy="1297.3" r="8.2"/><circle cx="1391.1" cy="1286.4" r="8.2"/><circle cx="1125.8" cy="1493.9" r="8.2"/><circle cx="1228.0" cy="1509.3" r="8.2"/><circle cx="1204.7" cy="1508.2" r="8.2"/><circle cx="1189.9" cy="1515.7" r="8.2"/><circle cx="1256.3" cy="1318.0" r="8.2"/><circle cx="1297.8" cy="1329.5" r="8.2"/><circle cx="1304.3" cy="1207.2" r="8.2"/><circle cx="1127.9" cy="1570.5" r="8.2"/><circle cx="1211.7" cy="1484.5" r="8.2"/><circle cx="1102.9" cy="1717.8" r="8.2"/><circle cx="1105.5" cy="1527.5" r="8.2"/><circle cx="1152.6" cy="1591.2" r="8.2"/><circle cx="1227.0" cy="1320.2" r="8.2"/><circle cx="1198.6" cy="1364.6" r="8.2"/><circle cx="1046.4" cy="1597.0" r="8.2"/><circle cx="1192.7" cy="1624.4" r="8.2"/><circle cx="1102.8" cy="1453.3" r="8.2"/><circle cx="1097.9" cy="1809.7" r="8.2"/><circle cx="1349.6" cy="1197.1" r="8.2"/><circle cx="1263.7" cy="1319.2" r="8.2"/><circle cx="1136.6" cy="1709.7" r="8.2"/><circle cx="1288.9" cy="1380.6" r="8.2"/><circle cx="1450.6" cy="1047.8" r="8.2"/><circle cx="1349.7" cy="1465.2" r="8.2"/><circle cx="1112.5" cy="1526.7" r="8.2"/><circle cx="1261.6" cy="1375.7" r="8.2"/><circle cx="1167.8" cy="1537.5" r="8.2"/><circle cx="1196.2" cy="1376.2" r="8.2"/><circle cx="1112.9" cy="1612.2" r="8.2"/><circle cx="1118.9" cy="1439.6" r="8.2"/><circle cx="1439.7" cy="1024.9" r="8.2"/><circle cx="1200.7" cy="1545.6" r="8.2"/><circle cx="1115.4" cy="1558.7" r="8.2"/><circle cx="1208.7" cy="1348.1" r="8.2"/><circle cx="1190.4" cy="1360.0" r="8.2"/><circle cx="1114.6" cy="1485.2" r="8.2"/><circle cx="1276.1" cy="1423.1" r="8.2"/><circle cx="1225.6" cy="1327.6" r="8.2"/><circle cx="1265.8" cy="1434.1" r="8.2"/><circle cx="1317.4" cy="1248.1" r="8.2"/><circle cx="1327.9" cy="1193.0" r="8.2"/><circle cx="1535.4" cy="1011.5" r="8.2"/><circle cx="1270.2" cy="1282.0" r="8.2"/><circle cx="1463.1" cy="1019.5" r="8.2"/><circle cx="1485.2" cy="1155.9" r="8.2"/><circle cx="1148.0" cy="1461.1" r="8.2"/><circle cx="1173.4" cy="1525.2" r="8.2"/><circle cx="1205.9" cy="1360.3" r="8.2"/><circle cx="1199.0" cy="1424.8" r="8.2"/><circle cx="1069.0" cy="1524.9" r="8.2"/><circle cx="1153.9" cy="1490.2" r="8.2"/><circle cx="1315.4" cy="1303.9" r="8.2"/><circle cx="1188.5" cy="1453.7" r="8.2"/><circle cx="1257.5" cy="1297.0" r="8.2"/><circle cx="1249.6" cy="1300.0" r="8.2"/><circle cx="1233.0" cy="1304.2" r="8.2"/><circle cx="991.0" cy="1642.6" r="8.2"/><circle cx="1154.5" cy="1532.1" r="8.2"/><circle cx="1289.4" cy="1238.6" r="8.2"/><circle cx="1160.5" cy="1766.7" r="8.2"/><circle cx="1419.0" cy="1096.2" r="8.2"/><circle cx="1429.8" cy="1100.1" r="8.2"/><circle cx="1187.5" cy="1524.9" r="8.2"/><circle cx="1462.9" cy="1181.9" r="8.2"/><circle cx="1124.3" cy="1430.1" r="8.2"/><circle cx="1202.0" cy="1623.5" r="8.2"/><circle cx="1375.2" cy="1226.9" r="8.2"/><circle cx="1084.3" cy="1655.3" r="8.2"/><circle cx="1185.9" cy="1608.0" r="8.2"/><circle cx="1154.9" cy="1471.2" r="8.2"/><circle cx="1173.8" cy="1504.2" r="8.2"/><circle cx="1201.1" cy="1468.6" r="8.2"/><circle cx="1231.0" cy="1432.7" r="8.2"/><circle cx="1378.7" cy="1122.1" r="8.2"/><circle cx="1055.4" cy="1686.5" r="8.2"/><circle cx="1122.0" cy="1468.1" r="8.2"/><circle cx="1265.2" cy="1333.4" r="8.2"/><circle cx="1197.1" cy="1644.3" r="8.2"/><circle cx="1287.6" cy="1248.2" r="8.2"/><circle cx="1298.7" cy="1287.2" r="8.2"/><circle cx="1322.4" cy="1146.2" r="8.2"/><circle cx="1166.0" cy="1428.8" r="8.2"/><circle cx="1137.7" cy="1554.1" r="8.2"/><circle cx="1228.3" cy="1383.3" r="8.2"/><circle cx="1090.9" cy="1581.0" r="8.2"/><circle cx="1216.6" cy="1388.6" r="8.2"/><circle cx="1230.2" cy="1370.3" r="8.2"/><circle cx="1204.0" cy="1668.7" r="8.2"/><circle cx="1333.7" cy="1355.7" r="8.2"/><circle cx="1079.1" cy="1658.4" r="8.2"/><circle cx="1006.4" cy="1740.0" r="8.2"/><circle cx="1388.8" cy="1251.6" r="8.2"/><circle cx="1317.0" cy="1218.9" r="8.2"/><circle cx="1063.5" cy="1909.1" r="8.2"/><circle cx="1276.0" cy="1329.5" r="8.2"/><circle cx="1217.7" cy="1463.9" r="8.2"/><circle cx="1100.4" cy="1521.7" r="8.2"/><circle cx="1157.6" cy="1482.4" r="8.2"/><circle cx="1233.3" cy="1549.9" r="8.2"/><circle cx="1216.7" cy="1358.8" r="8.2"/><circle cx="1131.1" cy="1460.0" r="8.2"/><circle cx="999.8" cy="1593.6" r="8.2"/><circle cx="1074.7" cy="1550.7" r="8.2"/><circle cx="1131.5" cy="1396.8" r="8.2"/><circle cx="1149.9" cy="1505.9" r="8.2"/><circle cx="1151.6" cy="1698.6" r="8.2"/><circle cx="1173.6" cy="1403.1" r="8.2"/><circle cx="1117.4" cy="1515.8" r="8.2"/><circle cx="1162.5" cy="1394.5" r="8.2"/><circle cx="1161.8" cy="1560.8" r="8.2"/><circle cx="1146.7" cy="1453.4" r="8.2"/><circle cx="1166.9" cy="1376.9" r="8.2"/><circle cx="1328.4" cy="1180.2" r="8.2"/><circle cx="1303.3" cy="1281.1" r="8.2"/><circle cx="1115.7" cy="1913.7" r="8.2"/><circle cx="1077.6" cy="1552.9" r="8.2"/><circle cx="1231.8" cy="1511.9" r="8.2"/><circle cx="1073.0" cy="1570.7" r="8.2"/><circle cx="1294.1" cy="1422.0" r="8.2"/><circle cx="1156.0" cy="1445.8" r="8.2"/><circle cx="1439.2" cy="1165.4" r="8.2"/><circle cx="1157.3" cy="1427.7" r="8.2"/><circle cx="1208.1" cy="1461.8" r="8.2"/><circle cx="1085.2" cy="1578.1" r="8.2"/><circle cx="1107.4" cy="1403.9" r="8.2"/><circle cx="1099.1" cy="1794.2" r="8.2"/><circle cx="1402.4" cy="1146.5" r="8.2"/><circle cx="1511.2" cy="975.6" r="8.2"/><circle cx="1244.7" cy="1384.1" r="8.2"/><circle cx="1222.4" cy="1424.4" r="8.2"/><circle cx="1289.7" cy="1330.0" r="8.2"/><circle cx="1207.7" cy="1455.9" r="8.2"/><circle cx="1406.4" cy="1083.8" r="8.2"/><circle cx="1140.1" cy="1396.7" r="8.2"/><circle cx="1366.0" cy="1164.6" r="8.2"/><circle cx="993.3" cy="1614.4" r="8.2"/><circle cx="1209.0" cy="1409.0" r="8.2"/><circle cx="1217.2" cy="1379.2" r="8.2"/><circle cx="1289.1" cy="1241.3" r="8.2"/><circle cx="1105.3" cy="1670.4" r="8.2"/><circle cx="1170.6" cy="1406.4" r="8.2"/><circle cx="1378.8" cy="1110.6" r="8.2"/><circle cx="1146.0" cy="1473.1" r="8.2"/><circle cx="1132.5" cy="1486.4" r="8.2"/><circle cx="1215.5" cy="1408.6" r="8.2"/><circle cx="1490.9" cy="1037.1" r="8.2"/><circle cx="1157.9" cy="1464.8" r="8.2"/><circle cx="1115.3" cy="1553.3" r="8.2"/><circle cx="1113.2" cy="1624.2" r="8.2"/><circle cx="1480.6" cy="1096.9" r="8.2"/><circle cx="1132.3" cy="1635.7" r="8.2"/><circle cx="1293.3" cy="1388.7" r="8.2"/><circle cx="1088.5" cy="1497.4" r="8.2"/><circle cx="1163.6" cy="1467.9" r="8.2"/><circle cx="1213.5" cy="1390.1" r="8.2"/><circle cx="1277.2" cy="1242.7" r="8.2"/><circle cx="1238.5" cy="1389.0" r="8.2"/><circle cx="1157.2" cy="1470.1" r="8.2"/><circle cx="1101.8" cy="1937.9" r="8.2"/><circle cx="1156.3" cy="1374.4" r="8.2"/><circle cx="1195.6" cy="1360.3" r="8.2"/><circle cx="1156.0" cy="1642.8" r="8.2"/><circle cx="1097.6" cy="1564.5" r="8.2"/><circle cx="1324.5" cy="1166.9" r="8.2"/><circle cx="1148.6" cy="1442.2" r="8.2"/><circle cx="1154.2" cy="1425.0" r="8.2"/><circle cx="1207.6" cy="1383.5" r="8.2"/><circle cx="1121.5" cy="1478.4" r="8.2"/><circle cx="1308.6" cy="1191.7" r="8.2"/><circle cx="1120.2" cy="1608.3" r="8.2"/><circle cx="1294.7" cy="1264.3" r="8.2"/><circle cx="1031.2" cy="1693.2" r="8.2"/><circle cx="1024.8" cy="1705.9" r="8.2"/><circle cx="1197.7" cy="1400.8" r="8.2"/><circle cx="1208.8" cy="1428.0" r="8.2"/><circle cx="1184.9" cy="1404.7" r="8.2"/><circle cx="1359.7" cy="1142.4" r="8.2"/><circle cx="1285.2" cy="1282.0" r="8.2"/><circle cx="1299.2" cy="1298.9" r="8.2"/><circle cx="1320.2" cy="1291.0" r="8.2"/><circle cx="1298.7" cy="1379.4" r="8.2"/><circle cx="1305.2" cy="1459.3" r="8.2"/><circle cx="1343.8" cy="1152.6" r="8.2"/><circle cx="1290.3" cy="1253.1" r="8.2"/><circle cx="1117.5" cy="1461.0" r="8.2"/><circle cx="1203.6" cy="1424.9" r="8.2"/><circle cx="1277.2" cy="1672.2" r="8.2"/><circle cx="1191.0" cy="1415.3" r="8.2"/><circle cx="1195.9" cy="1384.9" r="8.2"/><circle cx="1156.9" cy="1538.0" r="8.2"/><circle cx="1110.3" cy="1647.7" r="8.2"/><circle cx="1366.7" cy="1139.2" r="8.2"/><circle cx="1161.0" cy="1488.9" r="8.2"/><circle cx="1013.9" cy="1713.7" r="8.2"/><circle cx="1154.5" cy="1519.1" r="8.2"/><circle cx="996.7" cy="1846.4" r="8.2"/><circle cx="1492.6" cy="1100.6" r="8.2"/><circle cx="1100.6" cy="1581.4" r="8.2"/><circle cx="1038.8" cy="1576.2" r="8.2"/><circle cx="1501.6" cy="1263.6" r="8.2"/><circle cx="1136.8" cy="1501.9" r="8.2"/><circle cx="1452.7" cy="1113.0" r="8.2"/><circle cx="1133.1" cy="1501.3" r="8.2"/><circle cx="1177.9" cy="1361.7" r="8.2"/><circle cx="1442.3" cy="1184.3" r="8.2"/><circle cx="1131.0" cy="1550.8" r="8.2"/><circle cx="1301.4" cy="1376.4" r="8.2"/><circle cx="1321.6" cy="1306.7" r="8.2"/><circle cx="1165.5" cy="1457.1" r="8.2"/><circle cx="1105.0" cy="1552.1" r="8.2"/><circle cx="1295.5" cy="1322.1" r="8.2"/><circle cx="1106.0" cy="1472.2" r="8.2"/><circle cx="1174.8" cy="1357.7" r="8.2"/><circle cx="1147.3" cy="1464.5" r="8.2"/><circle cx="1378.0" cy="1231.0" r="8.2"/><circle cx="1129.1" cy="1500.9" r="8.2"/><circle cx="1209.9" cy="1523.6" r="8.2"/><circle cx="1242.3" cy="1449.2" r="8.2"/><circle cx="1125.4" cy="1637.3" r="8.2"/><circle cx="1233.3" cy="1407.2" r="8.2"/><circle cx="1273.8" cy="1360.4" r="8.2"/><circle cx="1460.0" cy="1138.1" r="8.2"/><circle cx="1160.1" cy="1536.0" r="8.2"/><circle cx="1154.9" cy="1480.0" r="8.2"/><circle cx="1159.6" cy="1587.4" r="8.2"/><circle cx="1226.2" cy="1482.4" r="8.2"/><circle cx="1179.5" cy="1379.5" r="8.2"/><circle cx="1170.0" cy="1581.3" r="8.2"/><circle cx="1260.0" cy="1311.4" r="8.2"/><circle cx="1280.2" cy="1305.0" r="8.2"/><circle cx="1291.9" cy="1437.4" r="8.2"/><circle cx="1261.6" cy="1341.8" r="8.2"/><circle cx="1123.1" cy="1549.2" r="8.2"/><circle cx="1261.2" cy="1451.7" r="8.2"/><circle cx="1143.3" cy="1443.5" r="8.2"/><circle cx="1346.1" cy="1174.0" r="8.2"/><circle cx="1376.3" cy="1141.7" r="8.2"/><circle cx="1142.7" cy="1488.0" r="8.2"/><circle cx="1381.6" cy="1165.6" r="8.2"/><circle cx="1249.6" cy="1285.3" r="8.2"/><circle cx="1293.1" cy="1322.7" r="8.2"/><circle cx="1285.3" cy="1336.3" r="8.2"/><circle cx="1248.5" cy="1388.5" r="8.2"/><circle cx="1120.3" cy="1733.4" r="8.2"/><circle cx="1219.0" cy="1515.8" r="8.2"/><circle cx="1447.4" cy="1293.1" r="8.2"/><circle cx="1309.3" cy="1284.6" r="8.2"/><circle cx="1199.6" cy="1479.4" r="8.2"/><circle cx="1452.4" cy="1035.7" r="8.2"/><circle cx="1360.4" cy="1206.4" r="8.2"/><circle cx="1196.3" cy="1680.6" r="8.2"/><circle cx="1332.5" cy="1149.7" r="8.2"/><circle cx="1142.5" cy="1678.9" r="8.2"/><circle cx="1110.9" cy="1551.0" r="8.2"/><circle cx="1183.4" cy="1789.4" r="8.2"/><circle cx="1312.0" cy="1320.0" r="8.2"/><circle cx="1263.9" cy="1288.6" r="8.2"/><circle cx="1141.2" cy="1725.3" r="8.2"/><circle cx="1182.4" cy="1446.0" r="8.2"/><circle cx="1281.3" cy="1401.8" r="8.2"/><circle cx="1270.3" cy="1264.2" r="8.2"/><circle cx="1391.2" cy="1120.6" r="8.2"/><circle cx="1099.7" cy="1459.9" r="8.2"/><circle cx="1291.7" cy="1235.1" r="8.2"/><circle cx="1259.2" cy="1421.0" r="8.2"/><circle cx="1139.7" cy="1610.2" r="8.2"/><circle cx="1416.2" cy="1080.3" r="8.2"/><circle cx="1183.3" cy="1484.7" r="8.2"/><circle cx="1257.4" cy="1282.0" r="8.2"/><circle cx="1471.5" cy="1148.4" r="8.2"/><circle cx="1206.2" cy="1348.9" r="8.2"/><circle cx="1262.1" cy="1274.6" r="8.2"/><circle cx="1213.4" cy="1349.7" r="8.2"/><circle cx="1322.4" cy="1413.8" r="8.2"/><circle cx="1264.7" cy="1276.3" r="8.2"/><circle cx="1097.3" cy="1603.9" r="8.2"/><circle cx="1081.1" cy="1587.9" r="8.2"/><circle cx="1359.2" cy="1181.0" r="8.2"/><circle cx="1283.5" cy="1215.8" r="8.2"/><circle cx="1118.9" cy="1512.8" r="8.2"/><circle cx="1330.0" cy="1285.5" r="8.2"/><circle cx="1239.2" cy="1486.4" r="8.2"/><circle cx="1219.2" cy="1317.8" r="8.2"/><circle cx="1271.3" cy="1324.6" r="8.2"/><circle cx="1371.1" cy="1516.9" r="8.2"/><circle cx="1131.9" cy="1464.6" r="8.2"/><circle cx="1083.6" cy="1557.9" r="8.2"/><circle cx="1240.3" cy="1363.3" r="8.2"/><circle cx="1131.1" cy="1550.3" r="8.2"/><circle cx="1287.5" cy="1341.6" r="8.2"/><circle cx="1260.8" cy="1375.9" r="8.2"/><circle cx="1252.9" cy="1313.2" r="8.2"/><circle cx="1310.4" cy="1231.6" r="8.2"/><circle cx="1096.6" cy="1547.9" r="8.2"/><circle cx="1111.9" cy="1500.0" r="8.2"/><circle cx="1197.0" cy="1407.2" r="8.2"/><circle cx="1101.3" cy="1685.2" r="8.2"/><circle cx="1200.9" cy="1434.5" r="8.2"/><circle cx="1127.1" cy="1473.3" r="8.2"/><circle cx="1479.8" cy="1015.6" r="8.2"/><circle cx="1296.7" cy="1454.8" r="8.2"/><circle cx="1318.1" cy="1285.9" r="8.2"/><circle cx="1333.9" cy="1456.9" r="8.2"/><circle cx="1150.9" cy="1639.9" r="8.2"/><circle cx="1193.1" cy="1406.1" r="8.2"/><circle cx="1230.8" cy="1331.7" r="8.2"/><circle cx="1052.5" cy="1563.8" r="8.2"/><circle cx="1124.9" cy="1569.5" r="8.2"/><circle cx="1303.1" cy="1218.6" r="8.2"/><circle cx="1140.2" cy="1564.0" r="8.2"/><circle cx="1373.5" cy="1248.0" r="8.2"/><circle cx="1182.2" cy="1532.7" r="8.2"/><circle cx="1194.8" cy="1410.5" r="8.2"/><circle cx="1117.1" cy="1475.1" r="8.2"/><circle cx="1328.7" cy="1191.9" r="8.2"/><circle cx="1161.7" cy="1389.4" r="8.2"/><circle cx="1131.6" cy="1479.9" r="8.2"/><circle cx="1116.1" cy="1636.7" r="8.2"/><circle cx="1103.2" cy="1569.5" r="8.2"/><circle cx="1291.4" cy="1348.5" r="8.2"/><circle cx="1175.5" cy="1369.8" r="8.2"/><circle cx="1224.4" cy="1505.9" r="8.2"/><circle cx="1179.7" cy="1561.8" r="8.2"/><circle cx="1360.0" cy="1223.6" r="8.2"/><circle cx="1180.7" cy="1532.5" r="8.2"/><circle cx="1199.7" cy="1719.1" r="8.2"/><circle cx="1402.5" cy="1060.4" r="8.2"/><circle cx="1320.8" cy="1371.4" r="8.2"/><circle cx="1441.0" cy="1116.0" r="8.2"/><circle cx="1266.6" cy="1298.9" r="8.2"/><circle cx="1140.3" cy="1561.6" r="8.2"/><circle cx="1191.6" cy="1505.7" r="8.2"/><circle cx="1300.6" cy="1409.4" r="8.2"/><circle cx="1142.5" cy="1513.0" r="8.2"/><circle cx="1195.2" cy="1563.8" r="8.2"/><circle cx="1112.5" cy="1474.4" r="8.2"/><circle cx="1206.6" cy="1281.4" r="8.2"/><circle cx="1233.2" cy="1401.2" r="8.2"/><circle cx="1100.1" cy="1555.8" r="8.2"/><circle cx="1210.6" cy="1516.6" r="8.2"/><circle cx="1113.4" cy="1527.9" r="8.2"/><circle cx="1180.6" cy="1632.4" r="8.2"/><circle cx="1243.1" cy="1533.3" r="8.2"/><circle cx="1291.7" cy="1292.6" r="8.2"/><circle cx="1191.4" cy="1428.5" r="8.2"/><circle cx="1115.9" cy="1531.4" r="8.2"/><circle cx="1454.9" cy="1003.4" r="8.2"/><circle cx="1183.5" cy="1403.0" r="8.2"/><circle cx="1201.5" cy="1401.3" r="8.2"/><circle cx="1059.6" cy="1628.8" r="8.2"/><circle cx="1266.0" cy="1254.3" r="8.2"/><circle cx="1321.3" cy="1241.4" r="8.2"/><circle cx="1268.6" cy="1537.6" r="8.2"/><circle cx="1193.8" cy="1501.9" r="8.2"/><circle cx="1194.0" cy="1448.6" r="8.2"/><circle cx="1307.4" cy="1359.5" r="8.2"/><circle cx="1407.6" cy="1139.5" r="8.2"/><circle cx="1213.7" cy="1420.0" r="8.2"/><circle cx="1260.2" cy="1469.0" r="8.2"/><circle cx="1319.0" cy="1184.3" r="8.2"/><circle cx="1156.0" cy="1480.1" r="8.2"/><circle cx="1095.1" cy="1651.3" r="8.2"/><circle cx="1273.0" cy="1261.2" r="8.2"/><circle cx="1210.0" cy="1396.9" r="8.2"/><circle cx="1153.8" cy="1433.5" r="8.2"/><circle cx="1317.6" cy="1330.5" r="8.2"/><circle cx="1266.4" cy="1302.7" r="8.2"/><circle cx="1045.7" cy="1573.3" r="8.2"/><circle cx="1182.5" cy="1405.7" r="8.2"/><circle cx="1269.6" cy="1393.5" r="8.2"/><circle cx="1366.3" cy="1218.2" r="8.2"/><circle cx="1291.4" cy="1228.6" r="8.2"/><circle cx="1148.2" cy="1627.6" r="8.2"/><circle cx="1098.3" cy="1723.0" r="8.2"/><circle cx="1431.4" cy="1130.1" r="8.2"/><circle cx="1347.2" cy="1150.7" r="8.2"/><circle cx="1159.0" cy="1436.6" r="8.2"/><circle cx="1157.8" cy="1614.9" r="8.2"/><circle cx="1276.0" cy="1275.4" r="8.2"/><circle cx="1259.3" cy="1377.1" r="8.2"/><circle cx="1151.7" cy="1610.9" r="8.2"/><circle cx="1195.7" cy="1470.7" r="8.2"/><circle cx="1447.7" cy="1064.2" r="8.2"/><circle cx="1190.6" cy="1393.3" r="8.2"/><circle cx="994.1" cy="1728.6" r="8.2"/><circle cx="1102.0" cy="1532.7" r="8.2"/><circle cx="1115.1" cy="1487.1" r="8.2"/><circle cx="1253.7" cy="1650.7" r="8.2"/><circle cx="1161.8" cy="1451.3" r="8.2"/><circle cx="1257.2" cy="1260.7" r="8.2"/><circle cx="1145.7" cy="1508.7" r="8.2"/><circle cx="1299.4" cy="1269.6" r="8.2"/><circle cx="1191.4" cy="1380.9" r="8.2"/><circle cx="1397.1" cy="1094.6" r="8.2"/><circle cx="1286.8" cy="1259.8" r="8.2"/><circle cx="1182.2" cy="1428.5" r="8.2"/><circle cx="1439.2" cy="1106.7" r="8.2"/><circle cx="1174.0" cy="1367.9" r="8.2"/><circle cx="1201.9" cy="1643.3" r="8.2"/><circle cx="1157.9" cy="1519.3" r="8.2"/><circle cx="1020.8" cy="1688.9" r="8.2"/><circle cx="1142.9" cy="1573.4" r="8.2"/><circle cx="1081.1" cy="1864.0" r="8.2"/><circle cx="1117.3" cy="1751.4" r="8.2"/><circle cx="1100.9" cy="1692.6" r="8.2"/><circle cx="1163.9" cy="1804.4" r="8.2"/><circle cx="1218.1" cy="1328.0" r="8.2"/><circle cx="1232.6" cy="1330.1" r="8.2"/><circle cx="1246.6" cy="1324.5" r="8.2"/><circle cx="1115.7" cy="1598.4" r="8.2"/><circle cx="1135.9" cy="1576.5" r="8.2"/><circle cx="1100.2" cy="1512.1" r="8.2"/><circle cx="1368.8" cy="1291.8" r="8.2"/><circle cx="1099.6" cy="1558.6" r="8.2"/><circle cx="1240.5" cy="1291.2" r="8.2"/><circle cx="1204.8" cy="1424.6" r="8.2"/><circle cx="1092.1" cy="1483.4" r="8.2"/><circle cx="1303.9" cy="1412.2" r="8.2"/><circle cx="1190.7" cy="1482.9" r="8.2"/><circle cx="1225.9" cy="1356.4" r="8.2"/><circle cx="1283.2" cy="1326.1" r="8.2"/><circle cx="1140.1" cy="1561.5" r="8.2"/><circle cx="1159.5" cy="1483.3" r="8.2"/><circle cx="1117.5" cy="1657.0" r="8.2"/><circle cx="1331.1" cy="1368.3" r="8.2"/><circle cx="1176.7" cy="1386.8" r="8.2"/><circle cx="1349.3" cy="1176.4" r="8.2"/><circle cx="1330.2" cy="1343.7" r="8.2"/><circle cx="1169.1" cy="1389.0" r="8.2"/><circle cx="1228.8" cy="1482.0" r="8.2"/><circle cx="1130.0" cy="1417.9" r="8.2"/><circle cx="1207.8" cy="1422.7" r="8.2"/><circle cx="1164.6" cy="1491.0" r="8.2"/><circle cx="1365.5" cy="1393.2" r="8.2"/><circle cx="1247.2" cy="1366.9" r="8.2"/><circle cx="1362.2" cy="1292.8" r="8.2"/><circle cx="1126.0" cy="1548.8" r="8.2"/><circle cx="1150.1" cy="1408.7" r="8.2"/><circle cx="949.4" cy="1910.0" r="8.2"/><circle cx="1230.6" cy="1459.6" r="8.2"/><circle cx="1151.9" cy="1478.5" r="8.2"/><circle cx="1148.1" cy="1470.5" r="8.2"/><circle cx="1197.9" cy="1397.9" r="8.2"/><circle cx="1209.5" cy="1533.1" r="8.2"/><circle cx="1292.9" cy="1521.2" r="8.2"/><circle cx="1344.6" cy="1414.4" r="8.2"/><circle cx="1138.6" cy="1610.7" r="8.2"/><circle cx="1194.6" cy="1386.5" r="8.2"/><circle cx="1368.8" cy="1407.5" r="8.2"/><circle cx="1172.6" cy="1489.5" r="8.2"/><circle cx="1224.4" cy="1336.6" r="8.2"/><circle cx="1190.4" cy="1352.8" r="8.2"/><circle cx="1267.8" cy="1243.5" r="8.2"/><circle cx="1276.9" cy="1412.4" r="8.2"/><circle cx="1154.6" cy="1471.8" r="8.2"/><circle cx="1134.3" cy="1399.5" r="8.2"/><circle cx="1262.0" cy="1508.6" r="8.2"/><circle cx="1402.1" cy="1125.2" r="8.2"/><circle cx="1166.4" cy="1380.3" r="8.2"/><circle cx="1200.0" cy="1491.6" r="8.2"/><circle cx="1135.6" cy="1445.2" r="8.2"/><circle cx="1338.4" cy="1172.5" r="8.2"/><circle cx="1091.8" cy="1537.8" r="8.2"/><circle cx="1179.1" cy="1396.1" r="8.2"/><circle cx="1074.6" cy="1502.0" r="8.2"/><circle cx="1202.1" cy="1356.2" r="8.2"/><circle cx="1219.6" cy="1426.8" r="8.2"/><circle cx="1107.9" cy="1559.0" r="8.2"/><circle cx="1248.6" cy="1348.9" r="8.2"/><circle cx="1128.1" cy="1436.0" r="8.2"/><circle cx="1129.9" cy="1600.5" r="8.2"/><circle cx="1176.8" cy="1654.2" r="8.2"/><circle cx="1367.2" cy="1221.6" r="8.2"/><circle cx="1327.0" cy="1235.1" r="8.2"/><circle cx="1151.5" cy="1444.6" r="8.2"/><circle cx="1031.9" cy="1734.7" r="8.2"/><circle cx="1088.3" cy="1634.8" r="8.2"/><circle cx="1195.8" cy="1487.8" r="8.2"/><circle cx="1026.8" cy="1785.2" r="8.2"/><circle cx="1241.3" cy="1309.7" r="8.2"/><circle cx="1213.9" cy="1331.9" r="8.2"/><circle cx="1170.8" cy="1608.1" r="8.2"/><circle cx="1114.0" cy="1639.8" r="8.2"/><circle cx="1419.0" cy="1190.2" r="8.2"/><circle cx="1175.1" cy="1399.5" r="8.2"/><circle cx="1129.9" cy="1644.7" r="8.2"/><circle cx="1469.1" cy="1211.9" r="8.2"/><circle cx="1267.3" cy="1373.1" r="8.2"/><circle cx="1206.9" cy="1349.5" r="8.2"/><circle cx="1166.9" cy="1490.1" r="8.2"/><circle cx="1310.5" cy="1250.7" r="8.2"/><circle cx="1255.8" cy="1308.8" r="8.2"/><circle cx="1325.9" cy="1352.1" r="8.2"/><circle cx="1461.2" cy="1055.4" r="8.2"/><circle cx="1236.5" cy="1375.1" r="8.2"/><circle cx="1300.8" cy="1310.8" r="8.2"/><circle cx="1357.6" cy="1196.6" r="8.2"/><circle cx="1147.7" cy="1441.0" r="8.2"/><circle cx="1223.2" cy="1362.4" r="8.2"/><circle cx="1328.0" cy="1215.8" r="8.2"/><circle cx="1321.7" cy="1301.2" r="8.2"/><circle cx="1289.4" cy="1481.3" r="8.2"/><circle cx="1190.9" cy="1417.0" r="8.2"/><circle cx="1340.4" cy="1321.4" r="8.2"/><circle cx="1201.0" cy="1399.4" r="8.2"/><circle cx="1133.7" cy="1671.9" r="8.2"/><circle cx="1197.0" cy="1429.5" r="8.2"/><circle cx="1304.8" cy="1277.4" r="8.2"/><circle cx="1090.6" cy="1502.6" r="8.2"/><circle cx="987.8" cy="1715.3" r="8.2"/><circle cx="1079.4" cy="1666.1" r="8.2"/><circle cx="1096.7" cy="1774.2" r="8.2"/><circle cx="1140.5" cy="1629.5" r="8.2"/><circle cx="1096.7" cy="1607.8" r="8.2"/><circle cx="991.0" cy="1941.4" r="8.2"/><circle cx="1145.1" cy="1459.3" r="8.2"/><circle cx="1224.2" cy="1459.4" r="8.2"/><circle cx="1275.4" cy="1299.3" r="8.2"/><circle cx="1194.2" cy="1413.8" r="8.2"/><circle cx="1354.2" cy="1384.8" r="8.2"/><circle cx="1045.4" cy="1804.8" r="8.2"/><circle cx="1348.6" cy="1196.4" r="8.2"/><circle cx="1042.2" cy="1866.6" r="8.2"/><circle cx="1231.1" cy="1537.2" r="8.2"/><circle cx="1144.5" cy="1459.7" r="8.2"/><circle cx="1283.7" cy="1316.2" r="8.2"/><circle cx="1287.8" cy="1274.7" r="8.2"/><circle cx="1297.9" cy="1215.0" r="8.2"/><circle cx="1133.7" cy="1572.1" r="8.2"/><circle cx="1104.8" cy="1577.7" r="8.2"/><circle cx="1272.0" cy="1329.1" r="8.2"/><circle cx="1243.9" cy="1391.2" r="8.2"/><circle cx="1189.0" cy="1410.4" r="8.2"/><circle cx="1179.3" cy="1462.1" r="8.2"/><circle cx="1191.2" cy="1582.2" r="8.2"/><circle cx="1430.3" cy="1363.5" r="8.2"/><circle cx="1116.3" cy="1558.0" r="8.2"/><circle cx="1229.8" cy="1339.0" r="8.2"/><circle cx="1336.4" cy="1230.7" r="8.2"/><circle cx="1109.5" cy="1581.5" r="8.2"/><circle cx="1270.8" cy="1382.3" r="8.2"/><circle cx="1319.2" cy="1190.6" r="8.2"/><circle cx="1134.1" cy="1712.6" r="8.2"/><circle cx="1172.2" cy="1681.0" r="8.2"/><circle cx="1176.6" cy="1484.3" r="8.2"/><circle cx="1480.9" cy="992.9" r="8.2"/><circle cx="1361.3" cy="1173.5" r="8.2"/><circle cx="1375.8" cy="1364.5" r="8.2"/><circle cx="1154.7" cy="1594.1" r="8.2"/><circle cx="1344.0" cy="1292.5" r="8.2"/><circle cx="1188.6" cy="1338.0" r="8.2"/><circle cx="1228.7" cy="1328.0" r="8.2"/><circle cx="1243.4" cy="1337.1" r="8.2"/><circle cx="1290.9" cy="1228.5" r="8.2"/><circle cx="1165.4" cy="1442.6" r="8.2"/><circle cx="1155.2" cy="1542.2" r="8.2"/><circle cx="1117.9" cy="1595.4" r="8.2"/><circle cx="1332.3" cy="1199.6" r="8.2"/><circle cx="1183.1" cy="1476.2" r="8.2"/><circle cx="1431.8" cy="1064.0" r="8.2"/><circle cx="1125.9" cy="1591.9" r="8.2"/><circle cx="1214.6" cy="1345.0" r="8.2"/><circle cx="1498.5" cy="975.6" r="8.2"/><circle cx="1248.7" cy="1262.9" r="8.2"/><circle cx="1350.2" cy="1198.1" r="8.2"/><circle cx="1381.4" cy="1302.2" r="8.2"/><circle cx="1208.4" cy="1379.6" r="8.2"/><circle cx="1102.9" cy="1549.2" r="8.2"/><circle cx="1249.1" cy="1361.7" r="8.2"/><circle cx="1259.7" cy="1274.9" r="8.2"/><circle cx="1176.1" cy="1410.5" r="8.2"/><circle cx="1098.7" cy="1699.9" r="8.2"/><circle cx="1171.6" cy="1378.3" r="8.2"/><circle cx="1306.9" cy="1207.6" r="8.2"/><circle cx="1154.3" cy="1648.5" r="8.2"/><circle cx="1322.4" cy="1335.6" r="8.2"/><circle cx="1163.6" cy="1487.9" r="8.2"/><circle cx="1313.8" cy="1205.2" r="8.2"/><circle cx="1230.0" cy="1488.4" r="8.2"/><circle cx="1386.2" cy="1176.7" r="8.2"/><circle cx="1131.6" cy="1532.5" r="8.2"/><circle cx="1276.8" cy="1260.8" r="8.2"/><circle cx="1205.4" cy="1491.5" r="8.2"/><circle cx="1147.3" cy="1401.8" r="8.2"/><circle cx="1113.6" cy="1632.0" r="8.2"/><circle cx="1133.3" cy="1934.0" r="8.2"/><circle cx="1246.1" cy="1325.3" r="8.2"/><circle cx="1134.5" cy="1464.1" r="8.2"/><circle cx="1165.1" cy="1391.0" r="8.2"/><circle cx="1106.6" cy="1614.1" r="8.2"/><circle cx="1190.0" cy="1443.5" r="8.2"/><circle cx="1116.4" cy="1595.7" r="8.2"/><circle cx="1176.9" cy="1425.7" r="8.2"/><circle cx="1375.8" cy="1130.5" r="8.2"/><circle cx="1184.7" cy="1448.0" r="8.2"/><circle cx="1140.0" cy="1610.9" r="8.2"/><circle cx="1270.6" cy="1263.8" r="8.2"/><circle cx="892.6" cy="1929.7" r="8.2"/><circle cx="1280.1" cy="1208.0" r="8.2"/><circle cx="1294.4" cy="1210.8" r="8.2"/><circle cx="1203.4" cy="1625.1" r="8.2"/><circle cx="1142.6" cy="1847.0" r="8.2"/><circle cx="1126.8" cy="1663.0" r="8.2"/><circle cx="1375.3" cy="1209.3" r="8.2"/><circle cx="1267.4" cy="1452.1" r="8.2"/><circle cx="1461.6" cy="1082.6" r="8.2"/><circle cx="1151.9" cy="1492.9" r="8.2"/><circle cx="1164.5" cy="1402.7" r="8.2"/><circle cx="1311.1" cy="1357.4" r="8.2"/><circle cx="1219.9" cy="1399.1" r="8.2"/><circle cx="1194.0" cy="1389.0" r="8.2"/><circle cx="1118.6" cy="1488.7" r="8.2"/><circle cx="1401.8" cy="1145.4" r="8.2"/><circle cx="1135.2" cy="1430.9" r="8.2"/><circle cx="1289.3" cy="1523.3" r="8.2"/><circle cx="1217.9" cy="1749.6" r="8.2"/><circle cx="1316.4" cy="1331.8" r="8.2"/><circle cx="1274.6" cy="1657.1" r="8.2"/><circle cx="1204.0" cy="1463.3" r="8.2"/><circle cx="1187.9" cy="1380.0" r="8.2"/><circle cx="1081.3" cy="1478.1" r="8.2"/><circle cx="1270.8" cy="1262.1" r="8.2"/><circle cx="1125.5" cy="1768.7" r="8.2"/><circle cx="1106.8" cy="1467.1" r="8.2"/><circle cx="1040.5" cy="1594.0" r="8.2"/><circle cx="1127.5" cy="1618.1" r="8.2"/><circle cx="1105.8" cy="1539.6" r="8.2"/><circle cx="1116.8" cy="1567.3" r="8.2"/><circle cx="1162.3" cy="1581.8" r="8.2"/><circle cx="1153.0" cy="1525.6" r="8.2"/><circle cx="1135.6" cy="1549.6" r="8.2"/><circle cx="1107.1" cy="1526.6" r="8.2"/><circle cx="1215.8" cy="1307.7" r="8.2"/><circle cx="1189.9" cy="1503.8" r="8.2"/><circle cx="1165.4" cy="1512.0" r="8.2"/><circle cx="1138.1" cy="1469.3" r="8.2"/><circle cx="1311.3" cy="1267.0" r="8.2"/><circle cx="1121.9" cy="1471.5" r="8.2"/><circle cx="1178.8" cy="1521.0" r="8.2"/><circle cx="1142.9" cy="1820.9" r="8.2"/><circle cx="1276.1" cy="1443.3" r="8.2"/><circle cx="1180.8" cy="1420.8" r="8.2"/><circle cx="1363.4" cy="1675.6" r="8.2"/><circle cx="1245.0" cy="1270.7" r="8.2"/><circle cx="1254.8" cy="1345.0" r="8.2"/><circle cx="1072.6" cy="1520.3" r="8.2"/><circle cx="998.5" cy="1701.3" r="8.2"/><circle cx="1244.7" cy="1496.2" r="8.2"/><circle cx="1298.8" cy="1432.0" r="8.2"/><circle cx="1324.1" cy="1243.2" r="8.2"/><circle cx="1478.3" cy="1047.6" r="8.2"/><circle cx="1326.0" cy="1299.6" r="8.2"/><circle cx="1214.2" cy="1386.7" r="8.2"/><circle cx="1244.9" cy="1353.3" r="8.2"/><circle cx="1156.4" cy="1449.3" r="8.2"/><circle cx="1436.6" cy="1225.4" r="8.2"/><circle cx="1439.7" cy="1228.9" r="8.2"/><circle cx="1286.4" cy="1308.3" r="8.2"/><circle cx="1135.5" cy="1488.4" r="8.2"/><circle cx="1227.9" cy="1316.9" r="8.2"/><circle cx="1256.9" cy="1249.9" r="8.2"/><circle cx="1311.2" cy="1282.1" r="8.2"/><circle cx="1253.4" cy="1676.3" r="8.2"/><circle cx="1318.1" cy="1269.4" r="8.2"/><circle cx="1267.9" cy="1286.9" r="8.2"/><circle cx="1246.1" cy="1359.5" r="8.2"/><circle cx="1095.2" cy="1666.7" r="8.2"/><circle cx="1278.4" cy="1279.3" r="8.2"/><circle cx="1205.0" cy="1367.2" r="8.2"/><circle cx="1308.9" cy="1333.0" r="8.2"/><circle cx="1119.3" cy="1492.2" r="8.2"/><circle cx="1197.8" cy="1373.2" r="8.2"/><circle cx="1153.2" cy="1530.9" r="8.2"/><circle cx="1182.8" cy="1402.7" r="8.2"/><circle cx="1455.2" cy="1100.6" r="8.2"/><circle cx="1292.8" cy="1421.6" r="8.2"/><circle cx="1327.0" cy="1280.5" r="8.2"/><circle cx="1320.4" cy="1283.5" r="8.2"/><circle cx="1086.3" cy="1774.0" r="8.2"/><circle cx="1269.6" cy="1340.1" r="8.2"/><circle cx="1274.1" cy="1319.2" r="8.2"/><circle cx="1289.7" cy="1318.6" r="8.2"/><circle cx="1148.0" cy="1431.3" r="8.2"/><circle cx="1171.5" cy="1403.4" r="8.2"/><circle cx="1264.2" cy="1246.0" r="8.2"/><circle cx="1145.7" cy="1527.9" r="8.2"/><circle cx="1206.7" cy="1355.1" r="8.2"/><circle cx="1163.0" cy="1409.4" r="8.2"/><circle cx="1079.1" cy="1562.5" r="8.2"/><circle cx="1075.8" cy="1562.9" r="8.2"/><circle cx="1129.6" cy="1608.4" r="8.2"/><circle cx="1189.0" cy="1499.9" r="8.2"/><circle cx="1355.0" cy="1155.1" r="8.2"/><circle cx="1292.6" cy="1430.6" r="8.2"/><circle cx="1141.2" cy="1388.7" r="8.2"/><circle cx="1321.2" cy="1367.1" r="8.2"/><circle cx="1298.0" cy="1278.8" r="8.2"/><circle cx="1368.7" cy="1248.7" r="8.2"/><circle cx="1249.9" cy="1559.4" r="8.2"/><circle cx="1234.7" cy="1509.8" r="8.2"/><circle cx="1237.7" cy="1279.9" r="8.2"/><circle cx="1083.8" cy="1650.5" r="8.2"/><circle cx="1223.7" cy="1306.9" r="8.2"/><circle cx="1039.7" cy="1646.6" r="8.2"/><circle cx="1250.7" cy="1350.7" r="8.2"/><circle cx="1245.4" cy="1478.3" r="8.2"/><circle cx="1160.2" cy="1400.8" r="8.2"/><circle cx="1096.2" cy="1580.7" r="8.2"/><circle cx="1203.9" cy="1416.7" r="8.2"/><circle cx="1100.6" cy="1547.7" r="8.2"/><circle cx="1177.8" cy="1355.9" r="8.2"/><circle cx="1269.6" cy="1231.6" r="8.2"/><circle cx="1034.7" cy="1594.4" r="8.2"/><circle cx="1406.7" cy="1235.2" r="8.2"/><circle cx="1336.3" cy="1203.1" r="8.2"/><circle cx="1176.3" cy="1407.1" r="8.2"/><circle cx="1301.4" cy="1169.2" r="8.2"/><circle cx="1298.0" cy="1339.3" r="8.2"/><circle cx="1286.6" cy="1307.0" r="8.2"/><circle cx="1168.1" cy="1435.7" r="8.2"/><circle cx="1176.1" cy="1479.3" r="8.2"/><circle cx="1139.2" cy="1438.9" r="8.2"/><circle cx="1322.1" cy="1359.3" r="8.2"/><circle cx="1249.2" cy="1333.8" r="8.2"/><circle cx="1419.3" cy="1321.2" r="8.2"/><circle cx="1230.6" cy="1471.2" r="8.2"/><circle cx="981.1" cy="1851.0" r="8.2"/><circle cx="1132.8" cy="1423.9" r="8.2"/><circle cx="1045.2" cy="1600.0" r="8.2"/><circle cx="1146.6" cy="1514.6" r="8.2"/><circle cx="1216.9" cy="1470.1" r="8.2"/><circle cx="1213.2" cy="1348.6" r="8.2"/><circle cx="1224.8" cy="1408.1" r="8.2"/><circle cx="1160.3" cy="1417.4" r="8.2"/><circle cx="1354.0" cy="1175.6" r="8.2"/><circle cx="1198.0" cy="1540.2" r="8.2"/><circle cx="1134.6" cy="1431.2" r="8.2"/><circle cx="1154.9" cy="1518.2" r="8.2"/><circle cx="1160.7" cy="1513.7" r="8.2"/><circle cx="1106.9" cy="1508.3" r="8.2"/><circle cx="1212.9" cy="1923.9" r="8.2"/><circle cx="1200.1" cy="1368.3" r="8.2"/><circle cx="982.7" cy="1777.1" r="8.2"/><circle cx="1135.5" cy="1459.2" r="8.2"/><circle cx="1104.0" cy="1796.7" r="8.2"/><circle cx="1178.0" cy="1413.6" r="8.2"/><circle cx="1098.5" cy="1526.2" r="8.2"/><circle cx="1068.8" cy="1701.0" r="8.2"/><circle cx="1161.2" cy="1443.4" r="8.2"/><circle cx="1065.4" cy="1551.2" r="8.2"/><circle cx="1080.2" cy="1872.7" r="8.2"/><circle cx="1290.5" cy="1473.1" r="8.2"/><circle cx="1124.7" cy="1589.9" r="8.2"/><circle cx="1288.1" cy="1319.8" r="8.2"/><circle cx="1172.2" cy="1484.5" r="8.2"/><circle cx="1236.5" cy="1322.3" r="8.2"/><circle cx="1299.3" cy="1323.5" r="8.2"/><circle cx="1098.2" cy="1565.7" r="8.2"/><circle cx="1037.5" cy="1634.2" r="8.2"/><circle cx="1178.5" cy="1418.9" r="8.2"/><circle cx="1394.0" cy="1111.5" r="8.2"/><circle cx="1177.5" cy="1598.2" r="8.2"/><circle cx="1175.3" cy="1495.9" r="8.2"/><circle cx="1225.2" cy="1483.0" r="8.2"/><circle cx="909.3" cy="1802.9" r="8.2"/><circle cx="1209.5" cy="1348.0" r="8.2"/><circle cx="1256.4" cy="1616.6" r="8.2"/><circle cx="1372.1" cy="1176.9" r="8.2"/><circle cx="1253.9" cy="1310.6" r="8.2"/><circle cx="1258.7" cy="1367.2" r="8.2"/><circle cx="1080.3" cy="1679.8" r="8.2"/><circle cx="1187.0" cy="1434.6" r="8.2"/><circle cx="1150.5" cy="1539.5" r="8.2"/><circle cx="1125.8" cy="1479.0" r="8.2"/><circle cx="1074.3" cy="1515.4" r="8.2"/><circle cx="1157.7" cy="1613.7" r="8.2"/><circle cx="1112.4" cy="1772.1" r="8.2"/><circle cx="1136.6" cy="1464.6" r="8.2"/><circle cx="1054.4" cy="1522.9" r="8.2"/><circle cx="1449.5" cy="1072.5" r="8.2"/><circle cx="1169.3" cy="1457.7" r="8.2"/><circle cx="1154.9" cy="1460.3" r="8.2"/><circle cx="1247.7" cy="1251.9" r="8.2"/><circle cx="1281.2" cy="1427.7" r="8.2"/><circle cx="1254.5" cy="1270.2" r="8.2"/><circle cx="1164.3" cy="1416.7" r="8.2"/><circle cx="1181.8" cy="1410.6" r="8.2"/><circle cx="1171.8" cy="1478.3" r="8.2"/><circle cx="1279.9" cy="1316.2" r="8.2"/><circle cx="1179.3" cy="1461.0" r="8.2"/><circle cx="1360.7" cy="1247.5" r="8.2"/><circle cx="1171.2" cy="1423.3" r="8.2"/><circle cx="1124.7" cy="1486.6" r="8.2"/><circle cx="1342.0" cy="1145.8" r="8.2"/><circle cx="1068.5" cy="1474.0" r="8.2"/><circle cx="1510.5" cy="1000.5" r="8.2"/><circle cx="1482.7" cy="1083.6" r="8.2"/><circle cx="1200.6" cy="1417.2" r="8.2"/><circle cx="1166.1" cy="1520.6" r="8.2"/><circle cx="1108.8" cy="1565.0" r="8.2"/><circle cx="1183.7" cy="1421.6" r="8.2"/><circle cx="1272.8" cy="1476.7" r="8.2"/><circle cx="1146.4" cy="1717.0" r="8.2"/><circle cx="1264.4" cy="1392.1" r="8.2"/><circle cx="1133.0" cy="1495.6" r="8.2"/><circle cx="1195.6" cy="1639.6" r="8.2"/><circle cx="1302.1" cy="1277.7" r="8.2"/><circle cx="1188.4" cy="1543.5" r="8.2"/><circle cx="1259.7" cy="1224.7" r="8.2"/><circle cx="1175.6" cy="1570.8" r="8.2"/><circle cx="1226.3" cy="1311.4" r="8.2"/><circle cx="1318.8" cy="1316.4" r="8.2"/><circle cx="1322.6" cy="1219.6" r="8.2"/><circle cx="1405.1" cy="1063.7" r="8.2"/><circle cx="1126.4" cy="1520.6" r="8.2"/><circle cx="1095.7" cy="1585.6" r="8.2"/><circle cx="1013.0" cy="1667.9" r="8.2"/><circle cx="1102.2" cy="1487.3" r="8.2"/><circle cx="1281.0" cy="1312.6" r="8.2"/><circle cx="1096.7" cy="1560.8" r="8.2"/><circle cx="1291.6" cy="1234.1" r="8.2"/><circle cx="1079.0" cy="1692.4" r="8.2"/><circle cx="1322.0" cy="1243.5" r="8.2"/><circle cx="1172.1" cy="1456.6" r="8.2"/><circle cx="1102.3" cy="1504.9" r="8.2"/><circle cx="1214.5" cy="1396.0" r="8.2"/><circle cx="1288.9" cy="1771.7" r="8.2"/><circle cx="1083.0" cy="1660.7" r="8.2"/><circle cx="1154.6" cy="1937.8" r="8.2"/><circle cx="1074.3" cy="1553.0" r="8.2"/><circle cx="1382.9" cy="1279.7" r="8.2"/><circle cx="1168.8" cy="1381.0" r="8.2"/><circle cx="1205.7" cy="1452.5" r="8.2"/><circle cx="1219.2" cy="1375.4" r="8.2"/><circle cx="1294.8" cy="1311.2" r="8.2"/><circle cx="1406.0" cy="1183.0" r="8.2"/><circle cx="1175.5" cy="1532.2" r="8.2"/><circle cx="1152.9" cy="1401.2" r="8.2"/><circle cx="1302.0" cy="1347.1" r="8.2"/><circle cx="1276.5" cy="1250.3" r="8.2"/><circle cx="1265.2" cy="1366.8" r="8.2"/><circle cx="1295.0" cy="1256.0" r="8.2"/><circle cx="1379.2" cy="1262.1" r="8.2"/><circle cx="1084.3" cy="1586.5" r="8.2"/><circle cx="1220.1" cy="1370.3" r="8.2"/><circle cx="1135.0" cy="1673.6" r="8.2"/><circle cx="1369.8" cy="1301.6" r="8.2"/><circle cx="1018.6" cy="1737.8" r="8.2"/><circle cx="1160.4" cy="1427.6" r="8.2"/><circle cx="1202.8" cy="1409.0" r="8.2"/><circle cx="1075.8" cy="1497.1" r="8.2"/><circle cx="1174.9" cy="1420.8" r="8.2"/><circle cx="1161.6" cy="1446.1" r="8.2"/><circle cx="1114.4" cy="1503.1" r="8.2"/><circle cx="1265.6" cy="1261.9" r="8.2"/><circle cx="1167.3" cy="1597.3" r="8.2"/><circle cx="1192.9" cy="1464.3" r="8.2"/><circle cx="1316.3" cy="1317.5" r="8.2"/><circle cx="1368.2" cy="1159.8" r="8.2"/><circle cx="1142.1" cy="1545.7" r="8.2"/><circle cx="1270.5" cy="1336.5" r="8.2"/><circle cx="1147.9" cy="1429.4" r="8.2"/><circle cx="1402.8" cy="1067.7" r="8.2"/><circle cx="1365.6" cy="1205.2" r="8.2"/><circle cx="1199.0" cy="1417.2" r="8.2"/><circle cx="1074.3" cy="1477.1" r="8.2"/><circle cx="1330.3" cy="1172.2" r="8.2"/><circle cx="1252.9" cy="1471.9" r="8.2"/><circle cx="1306.6" cy="1265.7" r="8.2"/><circle cx="1183.9" cy="1364.2" r="8.2"/><circle cx="1432.7" cy="1057.9" r="8.2"/><circle cx="1172.3" cy="1424.8" r="8.2"/><circle cx="1271.1" cy="1306.7" r="8.2"/><circle cx="1093.1" cy="1622.4" r="8.2"/><circle cx="1367.2" cy="1181.7" r="8.2"/><circle cx="1165.3" cy="1431.4" r="8.2"/><circle cx="1119.6" cy="1606.6" r="8.2"/><circle cx="1154.8" cy="1405.8" r="8.2"/><circle cx="1097.6" cy="1593.7" r="8.2"/><circle cx="1236.5" cy="1345.6" r="8.2"/><circle cx="1240.6" cy="1352.3" r="8.2"/><circle cx="1136.2" cy="1539.8" r="8.2"/><circle cx="1094.4" cy="1566.7" r="8.2"/><circle cx="1331.4" cy="1300.4" r="8.2"/><circle cx="1263.5" cy="1434.6" r="8.2"/><circle cx="1213.4" cy="1508.2" r="8.2"/><circle cx="1432.9" cy="1129.1" r="8.2"/><circle cx="1095.1" cy="1473.8" r="8.2"/><circle cx="1194.7" cy="1375.1" r="8.2"/><circle cx="1093.2" cy="1761.1" r="8.2"/><circle cx="1313.4" cy="1210.8" r="8.2"/><circle cx="1165.5" cy="1469.7" r="8.2"/><circle cx="1230.8" cy="1447.6" r="8.2"/><circle cx="1286.0" cy="1242.5" r="8.2"/><circle cx="1241.8" cy="1276.0" r="8.2"/><circle cx="1257.6" cy="1258.1" r="8.2"/><circle cx="1146.5" cy="1753.4" r="8.2"/><circle cx="1284.8" cy="1264.5" r="8.2"/><circle cx="1272.3" cy="1309.6" r="8.2"/><circle cx="1191.5" cy="1519.0" r="8.2"/><circle cx="1186.4" cy="1439.4" r="8.2"/><circle cx="1162.5" cy="1482.4" r="8.2"/><circle cx="1220.3" cy="1369.9" r="8.2"/><circle cx="1373.8" cy="1191.9" r="8.2"/><circle cx="1059.4" cy="1847.3" r="8.2"/><circle cx="1270.6" cy="1228.0" r="8.2"/><circle cx="1288.6" cy="1322.6" r="8.2"/><circle cx="1200.3" cy="1369.6" r="8.2"/><circle cx="1132.9" cy="1620.6" r="8.2"/><circle cx="1225.3" cy="1371.7" r="8.2"/><circle cx="1268.7" cy="1511.4" r="8.2"/><circle cx="1099.8" cy="1517.8" r="8.2"/><circle cx="1216.3" cy="1383.1" r="8.2"/><circle cx="1287.7" cy="1690.3" r="8.2"/><circle cx="1128.7" cy="1507.9" r="8.2"/><circle cx="1301.9" cy="1223.1" r="8.2"/><circle cx="1223.4" cy="1318.9" r="8.2"/><circle cx="1078.4" cy="1594.4" r="8.2"/><circle cx="1300.0" cy="1190.0" r="8.2"/><circle cx="1053.1" cy="1619.7" r="8.2"/><circle cx="1322.4" cy="1246.4" r="8.2"/><circle cx="1223.2" cy="1400.7" r="8.2"/><circle cx="977.4" cy="1914.3" r="8.2"/><circle cx="1118.9" cy="1529.9" r="8.2"/><circle cx="1099.4" cy="1454.3" r="8.2"/><circle cx="1251.3" cy="1330.8" r="8.2"/><circle cx="1278.1" cy="1322.1" r="8.2"/><circle cx="1175.1" cy="1521.1" r="8.2"/><circle cx="1257.1" cy="1319.4" r="8.2"/><circle cx="1226.7" cy="1411.2" r="8.2"/><circle cx="1348.0" cy="1167.5" r="8.2"/><circle cx="1126.6" cy="1566.2" r="8.2"/><circle cx="1098.4" cy="1478.7" r="8.2"/><circle cx="1165.7" cy="1431.1" r="8.2"/><circle cx="1312.7" cy="1212.2" r="8.2"/><circle cx="1142.4" cy="1498.9" r="8.2"/><circle cx="1318.5" cy="1211.4" r="8.2"/><circle cx="1071.6" cy="1578.9" r="8.2"/><circle cx="1325.5" cy="1329.2" r="8.2"/><circle cx="1190.3" cy="1448.6" r="8.2"/><circle cx="1313.8" cy="1246.7" r="8.2"/><circle cx="1188.9" cy="1945.4" r="8.2"/><circle cx="1201.0" cy="1484.4" r="8.2"/><circle cx="1252.7" cy="1281.2" r="8.2"/><circle cx="1103.3" cy="1841.9" r="8.2"/><circle cx="1025.6" cy="1617.7" r="8.2"/><circle cx="1165.1" cy="1432.7" r="8.2"/><circle cx="1119.1" cy="1523.1" r="8.2"/><circle cx="1146.3" cy="1535.7" r="8.2"/><circle cx="1101.6" cy="1775.1" r="8.2"/><circle cx="1101.2" cy="1481.6" r="8.2"/><circle cx="1346.5" cy="1234.8" r="8.2"/><circle cx="1232.9" cy="1378.5" r="8.2"/><circle cx="1176.4" cy="1358.1" r="8.2"/><circle cx="1333.1" cy="1255.9" r="8.2"/><circle cx="984.9" cy="1721.7" r="8.2"/><circle cx="1366.4" cy="1244.9" r="8.2"/><circle cx="1321.1" cy="1200.9" r="8.2"/><circle cx="1197.0" cy="1474.6" r="8.2"/><circle cx="1398.8" cy="1246.4" r="8.2"/><circle cx="1152.8" cy="1571.1" r="8.2"/><circle cx="1106.7" cy="1545.0" r="8.2"/><circle cx="1100.1" cy="1680.6" r="8.2"/><circle cx="1267.9" cy="1257.8" r="8.2"/><circle cx="1129.7" cy="1673.4" r="8.2"/><circle cx="1131.7" cy="1831.6" r="8.2"/><circle cx="1308.3" cy="1317.4" r="8.2"/><circle cx="1339.9" cy="1182.6" r="8.2"/><circle cx="1167.3" cy="1467.6" r="8.2"/><circle cx="1162.1" cy="1511.7" r="8.2"/><circle cx="1184.7" cy="1483.7" r="8.2"/><circle cx="1166.0" cy="1474.4" r="8.2"/><circle cx="1348.0" cy="1162.5" r="8.2"/><circle cx="1205.9" cy="1630.5" r="8.2"/><circle cx="1149.5" cy="1662.6" r="8.2"/><circle cx="978.2" cy="1789.0" r="8.2"/><circle cx="1395.6" cy="1117.1" r="8.2"/><circle cx="1166.6" cy="1598.4" r="8.2"/><circle cx="1385.6" cy="1106.2" r="8.2"/><circle cx="1343.7" cy="1180.0" r="8.2"/><circle cx="1168.4" cy="1453.4" r="8.2"/><circle cx="1134.9" cy="1421.1" r="8.2"/><circle cx="1267.4" cy="1260.6" r="8.2"/><circle cx="1071.7" cy="1534.8" r="8.2"/><circle cx="1086.2" cy="1805.2" r="8.2"/><circle cx="1024.4" cy="1827.4" r="8.2"/><circle cx="1230.8" cy="1431.6" r="8.2"/><circle cx="1297.3" cy="1380.0" r="8.2"/><circle cx="1256.4" cy="1320.6" r="8.2"/><circle cx="1375.9" cy="1269.9" r="8.2"/><circle cx="1067.5" cy="1624.0" r="8.2"/><circle cx="1293.4" cy="1315.4" r="8.2"/><circle cx="1238.9" cy="1357.1" r="8.2"/><circle cx="1286.3" cy="1277.4" r="8.2"/><circle cx="1195.5" cy="1408.1" r="8.2"/><circle cx="1103.9" cy="1612.8" r="8.2"/><circle cx="1161.9" cy="1542.2" r="8.2"/><circle cx="1124.5" cy="1798.1" r="8.2"/><circle cx="1429.3" cy="1122.4" r="8.2"/><circle cx="1266.2" cy="1457.2" r="8.2"/><circle cx="1378.2" cy="1256.3" r="8.2"/><circle cx="1236.4" cy="1430.1" r="8.2"/><circle cx="1090.4" cy="1585.9" r="8.2"/><circle cx="1269.2" cy="1614.7" r="8.2"/><circle cx="1169.6" cy="1370.7" r="8.2"/><circle cx="1260.3" cy="1466.5" r="8.2"/><circle cx="1191.8" cy="1356.5" r="8.2"/><circle cx="1220.8" cy="1540.1" r="8.2"/><circle cx="1117.6" cy="1581.6" r="8.2"/><circle cx="1351.5" cy="1235.5" r="8.2"/><circle cx="1162.6" cy="1435.8" r="8.2"/><circle cx="1346.5" cy="1244.3" r="8.2"/><circle cx="1373.7" cy="1285.0" r="8.2"/><circle cx="1235.1" cy="1509.6" r="8.2"/><circle cx="1119.7" cy="1555.2" r="8.2"/><circle cx="1157.6" cy="1544.6" r="8.2"/><circle cx="1206.6" cy="1399.0" r="8.2"/><circle cx="1130.5" cy="1839.8" r="8.2"/><circle cx="1082.3" cy="1526.1" r="8.2"/><circle cx="1395.7" cy="1079.2" r="8.2"/><circle cx="1227.8" cy="1331.5" r="8.2"/><circle cx="1198.0" cy="1397.8" r="8.2"/><circle cx="1101.6" cy="1521.0" r="8.2"/><circle cx="1205.0" cy="1893.7" r="8.2"/><circle cx="1298.3" cy="1275.5" r="8.2"/><circle cx="1116.2" cy="1457.3" r="8.2"/><circle cx="1351.0" cy="1172.3" r="8.2"/><circle cx="1148.9" cy="1447.4" r="8.2"/><circle cx="1120.0" cy="1486.9" r="8.2"/><circle cx="1273.1" cy="1355.6" r="8.2"/><circle cx="1110.8" cy="1439.1" r="8.2"/><circle cx="1336.2" cy="1320.8" r="8.2"/><circle cx="1150.0" cy="1419.9" r="8.2"/><circle cx="1074.9" cy="1648.5" r="8.2"/><circle cx="1210.9" cy="1397.5" r="8.2"/><circle cx="992.6" cy="1688.1" r="8.2"/><circle cx="1103.8" cy="1678.1" r="8.2"/><circle cx="1216.2" cy="1466.3" r="8.2"/><circle cx="1287.7" cy="1240.0" r="8.2"/><circle cx="1191.2" cy="1474.3" r="8.2"/><circle cx="1298.1" cy="1497.6" r="8.2"/><circle cx="1100.3" cy="1552.0" r="8.2"/><circle cx="1318.8" cy="1293.2" r="8.2"/><circle cx="1193.5" cy="1522.2" r="8.2"/><circle cx="1328.2" cy="1452.2" r="8.2"/><circle cx="1108.6" cy="1447.3" r="8.2"/><circle cx="1183.4" cy="1433.6" r="8.2"/><circle cx="1080.3" cy="1505.0" r="8.2"/><circle cx="1101.8" cy="1586.3" r="8.2"/><circle cx="1162.8" cy="1401.6" r="8.2"/><circle cx="1235.2" cy="1345.4" r="8.2"/><circle cx="1222.5" cy="1627.4" r="8.2"/><circle cx="1144.5" cy="1462.5" r="8.2"/><circle cx="1132.7" cy="1703.2" r="8.2"/><circle cx="1413.2" cy="1237.8" r="8.2"/><circle cx="1019.6" cy="1800.8" r="8.2"/><circle cx="1157.9" cy="1460.8" r="8.2"/><circle cx="1337.0" cy="1143.1" r="8.2"/><circle cx="1256.3" cy="1448.5" r="8.2"/><circle cx="1216.3" cy="1349.6" r="8.2"/><circle cx="1115.0" cy="1677.0" r="8.2"/><circle cx="1138.0" cy="1497.4" r="8.2"/><circle cx="1515.6" cy="995.9" r="8.2"/><circle cx="1230.4" cy="1328.6" r="8.2"/><circle cx="1150.3" cy="1588.3" r="8.2"/><circle cx="1370.4" cy="1166.9" r="8.2"/><circle cx="1295.9" cy="1296.6" r="8.2"/><circle cx="1275.4" cy="1305.1" r="8.2"/><circle cx="1134.8" cy="1594.0" r="8.2"/><circle cx="1176.7" cy="1555.8" r="8.2"/><circle cx="1318.7" cy="1457.8" r="8.2"/><circle cx="1129.6" cy="1473.7" r="8.2"/><circle cx="1433.3" cy="1307.8" r="8.2"/><circle cx="1163.7" cy="1643.5" r="8.2"/><circle cx="1199.5" cy="1472.1" r="8.2"/><circle cx="1284.6" cy="1304.1" r="8.2"/><circle cx="1078.9" cy="1710.7" r="8.2"/><circle cx="1224.7" cy="1356.6" r="8.2"/><circle cx="1222.2" cy="1354.4" r="8.2"/><circle cx="1114.5" cy="1563.6" r="8.2"/><circle cx="1118.5" cy="1583.2" r="8.2"/><circle cx="1025.2" cy="1637.0" r="8.2"/><circle cx="1176.9" cy="1450.6" r="8.2"/><circle cx="1251.5" cy="1264.9" r="8.2"/><circle cx="1068.1" cy="1553.4" r="8.2"/><circle cx="1197.3" cy="1327.1" r="8.2"/><circle cx="1104.3" cy="1532.5" r="8.2"/><circle cx="1315.0" cy="1212.2" r="8.2"/><circle cx="1074.7" cy="1620.3" r="8.2"/><circle cx="971.2" cy="1726.2" r="8.2"/><circle cx="1242.7" cy="1344.3" r="8.2"/><circle cx="1170.3" cy="1408.2" r="8.2"/><circle cx="1368.0" cy="1185.6" r="8.2"/><circle cx="1171.6" cy="1400.1" r="8.2"/><circle cx="1295.0" cy="1258.8" r="8.2"/><circle cx="1193.1" cy="1345.9" r="8.2"/><circle cx="1201.5" cy="1600.4" r="8.2"/><circle cx="1164.6" cy="1451.0" r="8.2"/><circle cx="1245.5" cy="1558.9" r="8.2"/><circle cx="1059.6" cy="1535.4" r="8.2"/><circle cx="1313.3" cy="1212.7" r="8.2"/><circle cx="1249.8" cy="1450.0" r="8.2"/><circle cx="1289.6" cy="1248.3" r="8.2"/><circle cx="1114.4" cy="1640.2" r="8.2"/><circle cx="1293.9" cy="1357.8" r="8.2"/><circle cx="1199.0" cy="1402.6" r="8.2"/><circle cx="1293.1" cy="1235.5" r="8.2"/><circle cx="1201.3" cy="1358.4" r="8.2"/><circle cx="1335.3" cy="1255.1" r="8.2"/><circle cx="1294.3" cy="1410.8" r="8.2"/><circle cx="1229.7" cy="1363.1" r="8.2"/><circle cx="1476.8" cy="981.4" r="8.2"/><circle cx="1204.9" cy="1396.8" r="8.2"/><circle cx="1177.0" cy="1525.4" r="8.2"/><circle cx="1346.2" cy="1172.2" r="8.2"/><circle cx="1110.6" cy="1738.4" r="8.2"/><circle cx="1283.6" cy="1336.8" r="8.2"/><circle cx="1227.0" cy="1287.0" r="8.2"/><circle cx="1448.9" cy="1070.6" r="8.2"/><circle cx="1049.6" cy="1733.6" r="8.2"/><circle cx="1151.3" cy="1413.4" r="8.2"/><circle cx="1350.9" cy="1165.2" r="8.2"/><circle cx="1233.4" cy="1331.5" r="8.2"/><circle cx="1127.2" cy="1443.3" r="8.2"/><circle cx="1240.4" cy="1292.7" r="8.2"/><circle cx="1202.2" cy="1485.7" r="8.2"/><circle cx="1209.2" cy="1337.0" r="8.2"/><circle cx="1113.8" cy="1532.3" r="8.2"/><circle cx="1016.6" cy="1865.4" r="8.2"/><circle cx="1375.3" cy="1472.2" r="8.2"/><circle cx="1253.3" cy="1253.1" r="8.2"/><circle cx="1414.3" cy="1127.9" r="8.2"/><circle cx="1196.9" cy="1369.5" r="8.2"/><circle cx="1144.3" cy="1481.4" r="8.2"/><circle cx="1062.3" cy="1765.6" r="8.2"/><circle cx="1209.3" cy="1283.2" r="8.2"/><circle cx="1320.3" cy="1497.9" r="8.2"/><circle cx="1374.4" cy="1328.4" r="8.2"/><circle cx="1158.5" cy="1411.3" r="8.2"/><circle cx="1140.6" cy="1814.9" r="8.2"/><circle cx="1138.4" cy="1583.7" r="8.2"/><circle cx="1396.6" cy="1171.4" r="8.2"/><circle cx="1244.1" cy="1392.6" r="8.2"/><circle cx="1206.6" cy="1336.7" r="8.2"/><circle cx="1371.0" cy="1237.9" r="8.2"/><circle cx="1281.7" cy="1526.8" r="8.2"/><circle cx="1207.3" cy="1544.0" r="8.2"/><circle cx="1276.2" cy="1465.0" r="8.2"/><circle cx="1252.5" cy="1278.4" r="8.2"/><circle cx="1283.6" cy="1343.4" r="8.2"/><circle cx="1169.4" cy="1554.7" r="8.2"/><circle cx="1275.1" cy="1368.4" r="8.2"/><circle cx="1112.0" cy="1676.7" r="8.2"/><circle cx="1050.4" cy="1558.8" r="8.2"/><circle cx="1201.0" cy="1379.2" r="8.2"/><circle cx="1275.9" cy="1211.1" r="8.2"/><circle cx="1136.3" cy="1444.1" r="8.2"/><circle cx="1339.2" cy="1161.1" r="8.2"/><circle cx="1185.6" cy="1379.2" r="8.2"/><circle cx="1252.7" cy="1561.7" r="8.2"/><circle cx="1347.5" cy="1279.8" r="8.2"/><circle cx="1313.8" cy="1212.3" r="8.2"/><circle cx="1251.4" cy="1323.1" r="8.2"/><circle cx="1127.2" cy="1500.1" r="8.2"/><circle cx="1111.4" cy="1592.0" r="8.2"/><circle cx="1220.5" cy="1417.1" r="8.2"/><circle cx="1219.4" cy="1378.1" r="8.2"/><circle cx="1229.1" cy="1312.2" r="8.2"/><circle cx="1179.6" cy="1402.7" r="8.2"/><circle cx="1109.8" cy="1466.6" r="8.2"/><circle cx="1356.2" cy="1204.1" r="8.2"/><circle cx="1256.5" cy="1365.6" r="8.2"/><circle cx="1250.0" cy="1297.1" r="8.2"/><circle cx="1033.9" cy="1540.3" r="8.2"/><circle cx="1201.8" cy="1451.1" r="8.2"/><circle cx="1190.5" cy="1747.7" r="8.2"/><circle cx="1090.0" cy="1617.3" r="8.2"/><circle cx="1138.7" cy="1543.2" r="8.2"/><circle cx="1115.1" cy="1441.1" r="8.2"/><circle cx="1210.5" cy="1384.9" r="8.2"/><circle cx="1330.4" cy="1224.6" r="8.2"/><circle cx="1261.5" cy="1282.0" r="8.2"/><circle cx="1152.5" cy="1460.3" r="8.2"/><circle cx="1342.0" cy="1218.3" r="8.2"/><circle cx="1235.1" cy="1593.8" r="8.2"/><circle cx="1318.0" cy="1268.3" r="8.2"/><circle cx="1213.1" cy="1505.0" r="8.2"/><circle cx="1098.7" cy="1594.1" r="8.2"/><circle cx="1162.6" cy="1555.2" r="8.2"/><circle cx="1125.2" cy="1427.0" r="8.2"/><circle cx="1169.4" cy="1463.6" r="8.2"/><circle cx="1085.3" cy="1668.3" r="8.2"/><circle cx="1285.0" cy="1339.3" r="8.2"/><circle cx="1232.2" cy="1306.6" r="8.2"/><circle cx="1161.0" cy="1555.0" r="8.2"/><circle cx="1266.0" cy="1251.4" r="8.2"/><circle cx="1185.4" cy="1386.4" r="8.2"/><circle cx="1090.0" cy="1731.2" r="8.2"/><circle cx="1298.3" cy="1255.2" r="8.2"/><circle cx="1297.1" cy="1443.6" r="8.2"/><circle cx="1228.3" cy="1323.3" r="8.2"/><circle cx="1254.5" cy="1399.2" r="8.2"/><circle cx="1234.8" cy="1516.8" r="8.2"/><circle cx="1146.5" cy="1939.0" r="8.2"/><circle cx="1091.6" cy="1634.5" r="8.2"/><circle cx="1262.8" cy="1315.3" r="8.2"/><circle cx="1123.8" cy="1439.5" r="8.2"/><circle cx="1292.6" cy="1248.8" r="8.2"/><circle cx="1131.0" cy="1664.8" r="8.2"/><circle cx="1154.6" cy="1525.1" r="8.2"/><circle cx="1376.6" cy="1148.9" r="8.2"/><circle cx="1103.5" cy="1749.8" r="8.2"/><circle cx="1127.6" cy="1538.6" r="8.2"/><circle cx="1253.3" cy="1361.2" r="8.2"/><circle cx="1175.4" cy="1485.5" r="8.2"/><circle cx="1331.7" cy="1261.7" r="8.2"/><circle cx="1119.4" cy="1540.7" r="8.2"/><circle cx="1008.9" cy="1854.8" r="8.2"/><circle cx="1309.2" cy="1379.9" r="8.2"/><circle cx="1101.6" cy="1668.3" r="8.2"/><circle cx="1132.0" cy="1486.0" r="8.2"/><circle cx="1128.3" cy="1490.6" r="8.2"/><circle cx="1192.9" cy="1473.9" r="8.2"/><circle cx="1362.2" cy="1489.1" r="8.2"/><circle cx="1188.6" cy="1476.3" r="8.2"/><circle cx="1277.1" cy="1266.2" r="8.2"/><circle cx="1102.5" cy="1615.3" r="8.2"/><circle cx="1204.7" cy="1658.8" r="8.2"/><circle cx="1149.5" cy="1436.3" r="8.2"/><circle cx="1135.8" cy="1652.9" r="8.2"/><circle cx="1126.8" cy="1570.5" r="8.2"/><circle cx="1160.2" cy="1446.3" r="8.2"/><circle cx="1285.1" cy="1350.7" r="8.2"/><circle cx="1122.9" cy="1433.7" r="8.2"/><circle cx="1145.0" cy="1644.4" r="8.2"/><circle cx="1409.6" cy="1193.0" r="8.2"/><circle cx="1161.8" cy="1369.7" r="8.2"/><circle cx="983.2" cy="1665.8" r="8.2"/><circle cx="1338.5" cy="1171.1" r="8.2"/><circle cx="964.1" cy="1789.8" r="8.2"/><circle cx="1164.6" cy="1361.2" r="8.2"/><circle cx="1273.7" cy="1465.6" r="8.2"/><circle cx="1381.9" cy="1325.4" r="8.2"/><circle cx="1344.7" cy="1322.4" r="8.2"/><circle cx="1389.1" cy="1112.9" r="8.2"/><circle cx="1210.8" cy="1456.6" r="8.2"/><circle cx="1413.5" cy="1049.8" r="8.2"/><circle cx="1124.9" cy="1559.4" r="8.2"/><circle cx="1176.8" cy="1436.7" r="8.2"/><circle cx="1242.1" cy="1519.5" r="8.2"/><circle cx="1235.5" cy="1393.0" r="8.2"/><circle cx="1321.7" cy="1271.2" r="8.2"/><circle cx="1098.5" cy="1569.2" r="8.2"/><circle cx="1174.4" cy="1378.4" r="8.2"/><circle cx="1214.9" cy="1365.3" r="8.2"/><circle cx="1086.9" cy="1509.0" r="8.2"/><circle cx="1207.8" cy="1394.6" r="8.2"/><circle cx="1335.7" cy="1269.1" r="8.2"/><circle cx="1015.9" cy="1770.2" r="8.2"/><circle cx="1312.8" cy="1353.2" r="8.2"/><circle cx="1282.9" cy="1273.7" r="8.2"/><circle cx="1158.8" cy="1486.1" r="8.2"/><circle cx="1138.8" cy="1527.1" r="8.2"/><circle cx="1308.5" cy="1302.5" r="8.2"/><circle cx="1163.6" cy="1542.2" r="8.2"/><circle cx="1219.4" cy="1326.7" r="8.2"/><circle cx="1121.3" cy="1601.7" r="8.2"/><circle cx="1284.4" cy="1367.0" r="8.2"/><circle cx="1362.6" cy="1259.2" r="8.2"/><circle cx="1366.9" cy="1124.6" r="8.2"/><circle cx="1454.0" cy="1014.2" r="8.2"/><circle cx="1091.3" cy="1571.3" r="8.2"/><circle cx="1306.9" cy="1272.7" r="8.2"/><circle cx="1146.6" cy="1530.5" r="8.2"/><circle cx="1099.5" cy="1589.7" r="8.2"/><circle cx="1314.8" cy="1249.2" r="8.2"/><circle cx="1342.4" cy="1420.8" r="8.2"/><circle cx="1067.0" cy="1607.1" r="8.2"/><circle cx="1141.8" cy="1509.0" r="8.2"/><circle cx="1182.4" cy="1523.0" r="8.2"/><circle cx="1348.3" cy="1214.8" r="8.2"/><circle cx="1196.1" cy="1412.6" r="8.2"/><circle cx="1042.5" cy="1631.5" r="8.2"/><circle cx="1286.4" cy="1338.0" r="8.2"/><circle cx="1387.1" cy="1193.8" r="8.2"/><circle cx="1097.0" cy="1484.2" r="8.2"/><circle cx="1310.0" cy="1194.7" r="8.2"/><circle cx="1430.5" cy="1090.0" r="8.2"/><circle cx="1172.2" cy="1507.5" r="8.2"/><circle cx="1316.9" cy="1425.7" r="8.2"/><circle cx="1257.4" cy="1318.5" r="8.2"/><circle cx="1447.2" cy="1059.3" r="8.2"/><circle cx="1243.4" cy="1513.4" r="8.2"/><circle cx="1133.1" cy="1573.5" r="8.2"/><circle cx="1289.3" cy="1278.0" r="8.2"/><circle cx="1152.6" cy="1481.1" r="8.2"/><circle cx="1154.1" cy="1456.1" r="8.2"/><circle cx="979.0" cy="1839.9" r="8.2"/><circle cx="1066.9" cy="1612.3" r="8.2"/><circle cx="1110.8" cy="1613.8" r="8.2"/><circle cx="1262.7" cy="1271.1" r="8.2"/><circle cx="1195.2" cy="1510.0" r="8.2"/><circle cx="1173.1" cy="1411.6" r="8.2"/><circle cx="1209.6" cy="1431.7" r="8.2"/><circle cx="1172.9" cy="1694.9" r="8.2"/><circle cx="1169.5" cy="1394.4" r="8.2"/><circle cx="1226.8" cy="1324.9" r="8.2"/><circle cx="1273.5" cy="1444.0" r="8.2"/><circle cx="1283.0" cy="1251.9" r="8.2"/><circle cx="1230.5" cy="1416.2" r="8.2"/><circle cx="1460.2" cy="1000.6" r="8.2"/><circle cx="1466.8" cy="1048.8" r="8.2"/><circle cx="1376.1" cy="1128.2" r="8.2"/><circle cx="1143.7" cy="1627.1" r="8.2"/><circle cx="1281.1" cy="1253.8" r="8.2"/><circle cx="1116.0" cy="1566.2" r="8.2"/><circle cx="1485.9" cy="1038.6" r="8.2"/><circle cx="1224.4" cy="1388.3" r="8.2"/><circle cx="1091.1" cy="1762.8" r="8.2"/><circle cx="1119.9" cy="1668.4" r="8.2"/><circle cx="1260.2" cy="1245.0" r="8.2"/><circle cx="1243.5" cy="1395.8" r="8.2"/><circle cx="1162.9" cy="1418.9" r="8.2"/><circle cx="1206.5" cy="1340.2" r="8.2"/><circle cx="1310.2" cy="1272.6" r="8.2"/><circle cx="1298.9" cy="1331.4" r="8.2"/><circle cx="1288.5" cy="1327.5" r="8.2"/><circle cx="1156.9" cy="1660.4" r="8.2"/><circle cx="1179.3" cy="1573.3" r="8.2"/><circle cx="1256.0" cy="1588.8" r="8.2"/><circle cx="1093.6" cy="1500.7" r="8.2"/><circle cx="1246.1" cy="1391.7" r="8.2"/><circle cx="1262.3" cy="1383.4" r="8.2"/><circle cx="1274.3" cy="1384.8" r="8.2"/><circle cx="1125.6" cy="1551.1" r="8.2"/><circle cx="1173.3" cy="1349.3" r="8.2"/><circle cx="1150.0" cy="1525.4" r="8.2"/><circle cx="1206.6" cy="1395.4" r="8.2"/><circle cx="1241.0" cy="1303.1" r="8.2"/><circle cx="1196.1" cy="1470.4" r="8.2"/><circle cx="1341.5" cy="1168.2" r="8.2"/><circle cx="1217.7" cy="1313.3" r="8.2"/><circle cx="1314.8" cy="1354.2" r="8.2"/><circle cx="1418.5" cy="1152.1" r="8.2"/><circle cx="1318.7" cy="1242.7" r="8.2"/><circle cx="1139.5" cy="1451.5" r="8.2"/><circle cx="1164.1" cy="1449.5" r="8.2"/><circle cx="1052.4" cy="1662.8" r="8.2"/><circle cx="1163.7" cy="1769.9" r="8.2"/><circle cx="1194.1" cy="1327.9" r="8.2"/><circle cx="1171.8" cy="1402.6" r="8.2"/><circle cx="1161.3" cy="1348.9" r="8.2"/><circle cx="1124.1" cy="1552.7" r="8.2"/><circle cx="1313.4" cy="1228.1" r="8.2"/><circle cx="1164.7" cy="1379.3" r="8.2"/><circle cx="1005.9" cy="1693.3" r="8.2"/><circle cx="1181.0" cy="1618.1" r="8.2"/><circle cx="1173.7" cy="1498.2" r="8.2"/><circle cx="1103.6" cy="1554.0" r="8.2"/><circle cx="1260.4" cy="1324.6" r="8.2"/><circle cx="1161.1" cy="1502.2" r="8.2"/><circle cx="1297.5" cy="1267.2" r="8.2"/><circle cx="1227.1" cy="1376.1" r="8.2"/><circle cx="1413.8" cy="1213.1" r="8.2"/><circle cx="1174.6" cy="1417.6" r="8.2"/><circle cx="1053.9" cy="1535.1" r="8.2"/><circle cx="1119.2" cy="1639.2" r="8.2"/><circle cx="1284.8" cy="1347.6" r="8.2"/><circle cx="1136.3" cy="1913.8" r="8.2"/><circle cx="1225.9" cy="1436.5" r="8.2"/><circle cx="1096.6" cy="1677.8" r="8.2"/><circle cx="1325.3" cy="1221.6" r="8.2"/><circle cx="1159.0" cy="1377.0" r="8.2"/><circle cx="1138.1" cy="1566.3" r="8.2"/><circle cx="1348.0" cy="1144.5" r="8.2"/><circle cx="1265.9" cy="1256.5" r="8.2"/><circle cx="1216.2" cy="1329.4" r="8.2"/><circle cx="1353.5" cy="1172.7" r="8.2"/><circle cx="1317.4" cy="1268.0" r="8.2"/><circle cx="978.0" cy="1672.9" r="8.2"/><circle cx="1366.6" cy="1146.8" r="8.2"/><circle cx="1129.7" cy="1440.1" r="8.2"/><circle cx="1289.1" cy="1259.6" r="8.2"/><circle cx="1132.9" cy="1461.3" r="8.2"/><circle cx="1141.0" cy="1590.3" r="8.2"/><circle cx="1174.5" cy="1367.7" r="8.2"/><circle cx="962.5" cy="1684.3" r="8.2"/><circle cx="1300.1" cy="1449.9" r="8.2"/><circle cx="1125.5" cy="1492.5" r="8.2"/><circle cx="1263.3" cy="1282.7" r="8.2"/><circle cx="1096.1" cy="1609.5" r="8.2"/><circle cx="1089.9" cy="1538.7" r="8.2"/><circle cx="1007.9" cy="1677.2" r="8.2"/><circle cx="1192.2" cy="1448.7" r="8.2"/><circle cx="1155.7" cy="1521.3" r="8.2"/><circle cx="1285.2" cy="1441.9" r="8.2"/><circle cx="1157.5" cy="1565.1" r="8.2"/><circle cx="1192.8" cy="1415.2" r="8.2"/><circle cx="1218.2" cy="1334.9" r="8.2"/><circle cx="1115.7" cy="1507.2" r="8.2"/><circle cx="1173.2" cy="1450.2" r="8.2"/><circle cx="1311.6" cy="1278.9" r="8.2"/><circle cx="1479.1" cy="1051.1" r="8.2"/><circle cx="1201.4" cy="1362.6" r="8.2"/><circle cx="1128.6" cy="1633.6" r="8.2"/><circle cx="1328.2" cy="1384.6" r="8.2"/><circle cx="1213.7" cy="1318.4" r="8.2"/><circle cx="1043.6" cy="1664.7" r="8.2"/><circle cx="1107.9" cy="1510.0" r="8.2"/><circle cx="1241.3" cy="1585.8" r="8.2"/><circle cx="1121.4" cy="1545.0" r="8.2"/><circle cx="1182.3" cy="1564.8" r="8.2"/><circle cx="1202.9" cy="1344.1" r="8.2"/><circle cx="1196.1" cy="1508.4" r="8.2"/><circle cx="1309.0" cy="1358.3" r="8.2"/><circle cx="1203.0" cy="1373.1" r="8.2"/><circle cx="1303.4" cy="1246.7" r="8.2"/><circle cx="1004.5" cy="1639.6" r="8.2"/><circle cx="1306.3" cy="1221.2" r="8.2"/><circle cx="1117.9" cy="1491.7" r="8.2"/><circle cx="1138.2" cy="1772.1" r="8.2"/><circle cx="1236.5" cy="1465.6" r="8.2"/><circle cx="1254.7" cy="1369.2" r="8.2"/><circle cx="1113.3" cy="1716.0" r="8.2"/><circle cx="1300.7" cy="1311.5" r="8.2"/><circle cx="1208.7" cy="1382.5" r="8.2"/><circle cx="1267.4" cy="1374.2" r="8.2"/><circle cx="1152.6" cy="1497.2" r="8.2"/><circle cx="1162.0" cy="1463.4" r="8.2"/><circle cx="1208.2" cy="1362.7" r="8.2"/><circle cx="1244.6" cy="1362.2" r="8.2"/><circle cx="1267.6" cy="1332.7" r="8.2"/><circle cx="1161.0" cy="1482.6" r="8.2"/><circle cx="1230.5" cy="1438.7" r="8.2"/><circle cx="1145.9" cy="1571.2" r="8.2"/><circle cx="1239.4" cy="1354.4" r="8.2"/><circle cx="1163.7" cy="1475.3" r="8.2"/><circle cx="1363.1" cy="1179.1" r="8.2"/><circle cx="1270.5" cy="1288.5" r="8.2"/><circle cx="1070.8" cy="1597.1" r="8.2"/><circle cx="1246.3" cy="1563.4" r="8.2"/><circle cx="1162.8" cy="1420.5" r="8.2"/><circle cx="1169.1" cy="1513.0" r="8.2"/><circle cx="1142.1" cy="1447.9" r="8.2"/><circle cx="1254.6" cy="1355.8" r="8.2"/><circle cx="1334.5" cy="1223.1" r="8.2"/><circle cx="1185.3" cy="1394.9" r="8.2"/><circle cx="1183.5" cy="1406.2" r="8.2"/><circle cx="1155.8" cy="1727.9" r="8.2"/><circle cx="1314.9" cy="1339.0" r="8.2"/><circle cx="1470.1" cy="1204.4" r="8.2"/><circle cx="1193.8" cy="1601.1" r="8.2"/><circle cx="1187.3" cy="1466.9" r="8.2"/><circle cx="1102.6" cy="1580.7" r="8.2"/><circle cx="1144.6" cy="1511.8" r="8.2"/><circle cx="1174.3" cy="1395.2" r="8.2"/><circle cx="1167.2" cy="1445.2" r="8.2"/><circle cx="1112.8" cy="1671.5" r="8.2"/><circle cx="1170.0" cy="1601.2" r="8.2"/><circle cx="1089.3" cy="1630.9" r="8.2"/><circle cx="1123.5" cy="1555.8" r="8.2"/><circle cx="1244.8" cy="1276.6" r="8.2"/><circle cx="1373.5" cy="1116.2" r="8.2"/><circle cx="1151.9" cy="1482.8" r="8.2"/><circle cx="1257.1" cy="1297.0" r="8.2"/><circle cx="1146.9" cy="1587.7" r="8.2"/><circle cx="1384.6" cy="1321.2" r="8.2"/><circle cx="1124.5" cy="1476.3" r="8.2"/><circle cx="1064.9" cy="1592.9" r="8.2"/><circle cx="1386.2" cy="1082.8" r="8.2"/><circle cx="1159.8" cy="1573.8" r="8.2"/><circle cx="1141.5" cy="1811.9" r="8.2"/><circle cx="1195.0" cy="1570.7" r="8.2"/><circle cx="1318.0" cy="1271.3" r="8.2"/><circle cx="1158.8" cy="1641.6" r="8.2"/><circle cx="1185.3" cy="1426.4" r="8.2"/><circle cx="1239.4" cy="1331.0" r="8.2"/><circle cx="1032.3" cy="1687.0" r="8.2"/><circle cx="1369.5" cy="1175.8" r="8.2"/><circle cx="1284.9" cy="1203.6" r="8.2"/><circle cx="1216.4" cy="1414.7" r="8.2"/><circle cx="1157.5" cy="1442.6" r="8.2"/><circle cx="1089.4" cy="1685.9" r="8.2"/><circle cx="961.1" cy="1850.6" r="8.2"/><circle cx="1217.7" cy="1484.4" r="8.2"/><circle cx="1259.7" cy="1316.2" r="8.2"/><circle cx="1117.9" cy="1443.4" r="8.2"/><circle cx="1298.9" cy="1387.4" r="8.2"/><circle cx="1187.8" cy="1349.5" r="8.2"/><circle cx="1173.5" cy="1351.5" r="8.2"/><circle cx="1285.7" cy="1349.6" r="8.2"/><circle cx="1162.7" cy="1639.6" r="8.2"/><circle cx="1117.8" cy="1599.7" r="8.2"/><circle cx="1171.5" cy="1458.3" r="8.2"/><circle cx="1050.6" cy="1553.4" r="8.2"/><circle cx="1137.6" cy="1488.6" r="8.2"/><circle cx="1214.7" cy="1335.5" r="8.2"/><circle cx="1078.2" cy="1733.3" r="8.2"/><circle cx="1183.5" cy="1493.5" r="8.2"/><circle cx="1195.0" cy="1457.8" r="8.2"/><circle cx="1040.3" cy="1716.2" r="8.2"/><circle cx="1123.7" cy="1587.5" r="8.2"/><circle cx="1065.6" cy="1726.2" r="8.2"/><circle cx="1184.2" cy="1416.8" r="8.2"/><circle cx="1246.3" cy="1415.4" r="8.2"/><circle cx="949.6" cy="1677.6" r="8.2"/><circle cx="1211.1" cy="1433.2" r="8.2"/><circle cx="1338.9" cy="1225.4" r="8.2"/><circle cx="1052.4" cy="1800.2" r="8.2"/><circle cx="1225.4" cy="1397.9" r="8.2"/><circle cx="1170.5" cy="1449.2" r="8.2"/><circle cx="1109.2" cy="1573.8" r="8.2"/><circle cx="1348.1" cy="1138.7" r="8.2"/><circle cx="1141.7" cy="1521.2" r="8.2"/><circle cx="1326.9" cy="1192.9" r="8.2"/><circle cx="1367.4" cy="1295.3" r="8.2"/><circle cx="1125.0" cy="1544.3" r="8.2"/><circle cx="1329.9" cy="1202.4" r="8.2"/><circle cx="1376.6" cy="1281.6" r="8.2"/><circle cx="926.1" cy="1810.3" r="8.2"/><circle cx="1332.2" cy="1225.7" r="8.2"/><circle cx="1239.1" cy="1300.4" r="8.2"/><circle cx="978.3" cy="1937.3" r="8.2"/><circle cx="1181.9" cy="1353.6" r="8.2"/><circle cx="1338.5" cy="1318.7" r="8.2"/><circle cx="1335.6" cy="1228.3" r="8.2"/><circle cx="1347.6" cy="1152.7" r="8.2"/><circle cx="1181.7" cy="1430.6" r="8.2"/><circle cx="1095.5" cy="1642.9" r="8.2"/><circle cx="1175.4" cy="1409.0" r="8.2"/><circle cx="1128.7" cy="1599.2" r="8.2"/><circle cx="1221.2" cy="1360.8" r="8.2"/><circle cx="1149.4" cy="1513.5" r="8.2"/><circle cx="1217.8" cy="1477.0" r="8.2"/><circle cx="1129.5" cy="1589.0" r="8.2"/><circle cx="1203.8" cy="1538.6" r="8.2"/><circle cx="1260.0" cy="1319.9" r="8.2"/><circle cx="1322.3" cy="1192.3" r="8.2"/><circle cx="1060.7" cy="1525.9" r="8.2"/><circle cx="1197.4" cy="1386.2" r="8.2"/><circle cx="1157.8" cy="1459.4" r="8.2"/><circle cx="1258.6" cy="1476.7" r="8.2"/><circle cx="1281.4" cy="1250.5" r="8.2"/><circle cx="1277.6" cy="1328.9" r="8.2"/><circle cx="1111.7" cy="1823.1" r="8.2"/><circle cx="1099.4" cy="1558.7" r="8.2"/><circle cx="1349.0" cy="1217.9" r="8.2"/><circle cx="1134.1" cy="1456.2" r="8.2"/><circle cx="1263.6" cy="1459.4" r="8.2"/><circle cx="1003.5" cy="1803.3" r="8.2"/><circle cx="1227.2" cy="1299.8" r="8.2"/><circle cx="1131.5" cy="1866.6" r="8.2"/><circle cx="1257.1" cy="1429.4" r="8.2"/><circle cx="1077.0" cy="1554.0" r="8.2"/><circle cx="1348.6" cy="1216.4" r="8.2"/><circle cx="1247.5" cy="1426.7" r="8.2"/><circle cx="1233.2" cy="1379.0" r="8.2"/><circle cx="1181.7" cy="1501.6" r="8.2"/><circle cx="1317.0" cy="1169.8" r="8.2"/><circle cx="1194.6" cy="1350.1" r="8.2"/><circle cx="1254.3" cy="1495.2" r="8.2"/><circle cx="1169.5" cy="1499.2" r="8.2"/><circle cx="1009.3" cy="1820.9" r="8.2"/><circle cx="1198.0" cy="1361.9" r="8.2"/><circle cx="1321.0" cy="1181.7" r="8.2"/><circle cx="1257.3" cy="1371.3" r="8.2"/><circle cx="1079.4" cy="1679.2" r="8.2"/><circle cx="1064.4" cy="1520.5" r="8.2"/><circle cx="1116.5" cy="1494.5" r="8.2"/><circle cx="1228.6" cy="1632.6" r="8.2"/><circle cx="1149.6" cy="1629.3" r="8.2"/><circle cx="1128.9" cy="1433.3" r="8.2"/><circle cx="1327.6" cy="1210.1" r="8.2"/><circle cx="998.5" cy="1651.3" r="8.2"/><circle cx="1304.0" cy="1301.4" r="8.2"/><circle cx="1156.3" cy="1434.0" r="8.2"/><circle cx="1301.8" cy="1234.1" r="8.2"/><circle cx="1124.6" cy="1577.6" r="8.2"/><circle cx="1204.0" cy="1530.2" r="8.2"/><circle cx="1098.5" cy="1623.8" r="8.2"/><circle cx="1124.3" cy="1478.4" r="8.2"/><circle cx="1253.0" cy="1289.3" r="8.2"/><circle cx="1244.7" cy="1282.2" r="8.2"/><circle cx="1099.3" cy="1698.0" r="8.2"/><circle cx="1252.0" cy="1289.2" r="8.2"/><circle cx="1448.0" cy="1065.6" r="8.2"/><circle cx="1219.8" cy="1722.6" r="8.2"/><circle cx="1142.2" cy="1757.5" r="8.2"/><circle cx="1241.9" cy="1436.8" r="8.2"/><circle cx="1222.7" cy="1385.5" r="8.2"/><circle cx="1263.3" cy="1346.6" r="8.2"/><circle cx="1304.3" cy="1384.8" r="8.2"/><circle cx="1400.2" cy="1331.6" r="8.2"/><circle cx="1105.7" cy="1539.8" r="8.2"/><circle cx="1130.3" cy="1471.7" r="8.2"/><circle cx="1106.2" cy="1695.7" r="8.2"/><circle cx="1444.3" cy="1116.8" r="8.2"/><circle cx="1274.4" cy="1244.8" r="8.2"/><circle cx="1232.3" cy="1331.9" r="8.2"/><circle cx="1119.3" cy="1526.3" r="8.2"/><circle cx="1145.2" cy="1457.6" r="8.2"/><circle cx="1109.2" cy="1485.9" r="8.2"/><circle cx="1153.9" cy="1463.1" r="8.2"/><circle cx="1086.2" cy="1637.3" r="8.2"/><circle cx="995.6" cy="1659.5" r="8.2"/><circle cx="1089.6" cy="1507.0" r="8.2"/><circle cx="1194.0" cy="1417.7" r="8.2"/><circle cx="1096.3" cy="1720.2" r="8.2"/><circle cx="1081.4" cy="1543.7" r="8.2"/><circle cx="1269.2" cy="1301.0" r="8.2"/><circle cx="1291.0" cy="1284.8" r="8.2"/><circle cx="1380.8" cy="1416.3" r="8.2"/><circle cx="1306.4" cy="1281.7" r="8.2"/><circle cx="1383.2" cy="1175.6" r="8.2"/><circle cx="1253.1" cy="1580.3" r="8.2"/><circle cx="1181.8" cy="1431.2" r="8.2"/><circle cx="1179.7" cy="1548.9" r="8.2"/><circle cx="1170.4" cy="1525.2" r="8.2"/><circle cx="1005.1" cy="1751.7" r="8.2"/><circle cx="1276.4" cy="1288.7" r="8.2"/><circle cx="1161.7" cy="1692.2" r="8.2"/><circle cx="1277.3" cy="1412.8" r="8.2"/><circle cx="1380.0" cy="1416.4" r="8.2"/><circle cx="1313.8" cy="1226.6" r="8.2"/><circle cx="1195.7" cy="1429.7" r="8.2"/><circle cx="1226.3" cy="1290.1" r="8.2"/><circle cx="1331.3" cy="1343.8" r="8.2"/><circle cx="1125.0" cy="1405.2" r="8.2"/><circle cx="1227.7" cy="1335.6" r="8.2"/><circle cx="1232.5" cy="1584.4" r="8.2"/><circle cx="1220.2" cy="1404.9" r="8.2"/><circle cx="1135.0" cy="1723.0" r="8.2"/><circle cx="1187.7" cy="1374.7" r="8.2"/><circle cx="1186.8" cy="1354.2" r="8.2"/><circle cx="1315.2" cy="1393.0" r="8.2"/><circle cx="1423.1" cy="1129.8" r="8.2"/><circle cx="1094.6" cy="1645.1" r="8.2"/><circle cx="1311.4" cy="1248.4" r="8.2"/><circle cx="1185.4" cy="1367.2" r="8.2"/><circle cx="1244.6" cy="1368.8" r="8.2"/><circle cx="1199.5" cy="1519.3" r="8.2"/><circle cx="1304.2" cy="1209.7" r="8.2"/><circle cx="1171.9" cy="1514.0" r="8.2"/><circle cx="1170.6" cy="1597.2" r="8.2"/><circle cx="1231.0" cy="1426.2" r="8.2"/><circle cx="1424.9" cy="1165.6" r="8.2"/><circle cx="1166.0" cy="1380.7" r="8.2"/><circle cx="1166.3" cy="1518.4" r="8.2"/><circle cx="1187.8" cy="1459.0" r="8.2"/><circle cx="1118.8" cy="1584.8" r="8.2"/><circle cx="1228.1" cy="1410.7" r="8.2"/><circle cx="1225.1" cy="1418.0" r="8.2"/><circle cx="1344.9" cy="1130.1" r="8.2"/><circle cx="1154.5" cy="1635.9" r="8.2"/><circle cx="1225.8" cy="1428.2" r="8.2"/><circle cx="1147.4" cy="1507.4" r="8.2"/><circle cx="1168.2" cy="1430.2" r="8.2"/><circle cx="1091.5" cy="1692.7" r="8.2"/><circle cx="1127.0" cy="1462.7" r="8.2"/><circle cx="1178.9" cy="1547.8" r="8.2"/><circle cx="1131.8" cy="1469.2" r="8.2"/><circle cx="1171.8" cy="1612.7" r="8.2"/><circle cx="1150.8" cy="1488.9" r="8.2"/><circle cx="1139.3" cy="1440.2" r="8.2"/><circle cx="1160.0" cy="1463.6" r="8.2"/><circle cx="1265.1" cy="1435.2" r="8.2"/><circle cx="1216.1" cy="1296.1" r="8.2"/><circle cx="1456.6" cy="1241.8" r="8.2"/><circle cx="1111.8" cy="1679.9" r="8.2"/><circle cx="1088.8" cy="1517.1" r="8.2"/><circle cx="1149.8" cy="1562.6" r="8.2"/><circle cx="1008.4" cy="1551.4" r="8.2"/><circle cx="1202.5" cy="1435.0" r="8.2"/><circle cx="1004.7" cy="1853.8" r="8.2"/><circle cx="1067.5" cy="1679.9" r="8.2"/><circle cx="1247.8" cy="1305.4" r="8.2"/><circle cx="1253.2" cy="1357.3" r="8.2"/><circle cx="1080.1" cy="1553.5" r="8.2"/><circle cx="1235.4" cy="1480.2" r="8.2"/><circle cx="1178.0" cy="1574.7" r="8.2"/><circle cx="1336.2" cy="1216.8" r="8.2"/><circle cx="1234.9" cy="1526.3" r="8.2"/><circle cx="1190.4" cy="1425.3" r="8.2"/><circle cx="1487.2" cy="1020.4" r="8.2"/><circle cx="1127.3" cy="1465.0" r="8.2"/><circle cx="1208.5" cy="1375.4" r="8.2"/><circle cx="1278.5" cy="1245.8" r="8.2"/><circle cx="1293.3" cy="1409.3" r="8.2"/><circle cx="1045.5" cy="1667.5" r="8.2"/><circle cx="989.3" cy="1702.6" r="8.2"/><circle cx="1131.5" cy="1520.6" r="8.2"/><circle cx="1444.5" cy="1189.9" r="8.2"/><circle cx="1069.1" cy="1864.7" r="8.2"/><circle cx="1032.2" cy="1847.0" r="8.2"/><circle cx="1365.4" cy="1263.3" r="8.2"/><circle cx="1109.7" cy="1574.5" r="8.2"/><circle cx="1159.4" cy="1602.1" r="8.2"/><circle cx="1336.2" cy="1214.1" r="8.2"/><circle cx="1165.0" cy="1539.9" r="8.2"/><circle cx="1038.6" cy="1662.9" r="8.2"/><circle cx="1160.4" cy="1410.8" r="8.2"/><circle cx="1270.5" cy="1476.1" r="8.2"/><circle cx="1103.5" cy="1608.8" r="8.2"/><circle cx="1135.7" cy="1560.1" r="8.2"/><circle cx="1179.9" cy="1393.1" r="8.2"/><circle cx="992.0" cy="1639.2" r="8.2"/><circle cx="1262.5" cy="1300.3" r="8.2"/><circle cx="1087.7" cy="1580.1" r="8.2"/><circle cx="1151.5" cy="1458.3" r="8.2"/><circle cx="1203.6" cy="1436.9" r="8.2"/><circle cx="1292.4" cy="1248.6" r="8.2"/><circle cx="1070.8" cy="1577.8" r="8.2"/><circle cx="1430.1" cy="1044.0" r="8.2"/><circle cx="1190.3" cy="1505.2" r="8.2"/><circle cx="1106.2" cy="1491.9" r="8.2"/><circle cx="1098.2" cy="1671.6" r="8.2"/><circle cx="1184.4" cy="1513.7" r="8.2"/><circle cx="1085.9" cy="1525.9" r="8.2"/><circle cx="1101.3" cy="1518.9" r="8.2"/><circle cx="1426.1" cy="1215.4" r="8.2"/><circle cx="1332.6" cy="1191.1" r="8.2"/><circle cx="1226.8" cy="1410.4" r="8.2"/><circle cx="1283.4" cy="1314.9" r="8.2"/><circle cx="1101.2" cy="1483.1" r="8.2"/><circle cx="1149.3" cy="1460.5" r="8.2"/><circle cx="1001.6" cy="1618.2" r="8.2"/><circle cx="1224.8" cy="1469.0" r="8.2"/><circle cx="970.5" cy="1650.6" r="8.2"/><circle cx="1113.5" cy="1500.3" r="8.2"/><circle cx="1503.1" cy="1034.8" r="8.2"/><circle cx="1084.0" cy="1605.8" r="8.2"/><circle cx="1469.1" cy="1165.4" r="8.2"/><circle cx="1208.4" cy="1485.6" r="8.2"/><circle cx="1200.2" cy="1534.6" r="8.2"/><circle cx="1116.9" cy="1449.5" r="8.2"/><circle cx="1173.1" cy="1377.0" r="8.2"/><circle cx="1176.1" cy="1695.0" r="8.2"/><circle cx="1250.3" cy="1389.7" r="8.2"/><circle cx="1443.4" cy="1048.5" r="8.2"/><circle cx="1152.8" cy="1797.6" r="8.2"/><circle cx="1024.4" cy="1702.0" r="8.2"/><circle cx="1412.2" cy="1088.8" r="8.2"/><circle cx="1193.5" cy="1408.7" r="8.2"/><circle cx="1153.7" cy="1572.0" r="8.2"/><circle cx="1287.7" cy="1246.6" r="8.2"/><circle cx="1247.3" cy="1410.0" r="8.2"/><circle cx="1189.0" cy="1350.7" r="8.2"/><circle cx="1117.8" cy="1451.7" r="8.2"/><circle cx="1305.4" cy="1299.1" r="8.2"/><circle cx="1136.8" cy="1432.2" r="8.2"/><circle cx="1227.6" cy="1330.1" r="8.2"/><circle cx="1096.0" cy="1496.4" r="8.2"/><circle cx="1132.3" cy="1559.1" r="8.2"/><circle cx="1237.1" cy="1357.5" r="8.2"/><circle cx="1285.1" cy="1490.3" r="8.2"/><circle cx="1439.9" cy="1133.8" r="8.2"/><circle cx="1264.2" cy="1403.6" r="8.2"/><circle cx="1263.6" cy="1296.9" r="8.2"/><circle cx="1227.4" cy="1499.7" r="8.2"/><circle cx="1123.9" cy="1659.2" r="8.2"/><circle cx="1362.7" cy="1196.4" r="8.2"/><circle cx="1219.7" cy="1348.6" r="8.2"/><circle cx="1071.7" cy="1628.4" r="8.2"/><circle cx="1197.5" cy="1368.6" r="8.2"/><circle cx="1160.1" cy="1687.3" r="8.2"/><circle cx="1114.1" cy="1545.2" r="8.2"/><circle cx="1244.2" cy="1367.4" r="8.2"/><circle cx="1320.0" cy="1178.0" r="8.2"/><circle cx="1358.7" cy="1219.7" r="8.2"/><circle cx="1322.9" cy="1481.8" r="8.2"/><circle cx="1488.7" cy="1169.9" r="8.2"/><circle cx="1129.8" cy="1617.8" r="8.2"/><circle cx="1210.0" cy="1348.2" r="8.2"/><circle cx="1178.9" cy="1412.1" r="8.2"/><circle cx="1274.8" cy="1214.7" r="8.2"/><circle cx="1257.2" cy="1407.1" r="8.2"/><circle cx="1069.7" cy="1593.4" r="8.2"/><circle cx="1146.5" cy="1514.2" r="8.2"/><circle cx="1147.4" cy="1412.3" r="8.2"/><circle cx="1074.5" cy="1659.6" r="8.2"/><circle cx="1130.3" cy="1676.2" r="8.2"/><circle cx="1184.2" cy="1459.0" r="8.2"/><circle cx="1140.1" cy="1374.5" r="8.2"/><circle cx="1106.8" cy="1504.3" r="8.2"/><circle cx="1319.4" cy="1195.2" r="8.2"/><circle cx="1077.1" cy="1501.8" r="8.2"/><circle cx="1137.9" cy="1431.9" r="8.2"/><circle cx="1248.2" cy="1407.1" r="8.2"/><circle cx="1159.5" cy="1535.5" r="8.2"/><circle cx="1238.9" cy="1298.5" r="8.2"/><circle cx="1083.5" cy="1708.7" r="8.2"/><circle cx="1387.6" cy="1116.5" r="8.2"/><circle cx="1177.8" cy="1451.9" r="8.2"/><circle cx="1312.6" cy="1263.7" r="8.2"/><circle cx="1169.9" cy="1398.3" r="8.2"/><circle cx="1318.7" cy="1244.1" r="8.2"/><circle cx="1015.1" cy="1645.8" r="8.2"/><circle cx="1148.8" cy="1513.3" r="8.2"/><circle cx="1487.8" cy="989.9" r="8.2"/><circle cx="1071.9" cy="1544.0" r="8.2"/><circle cx="1328.7" cy="1186.3" r="8.2"/><circle cx="1153.2" cy="1520.6" r="8.2"/><circle cx="1193.0" cy="1588.8" r="8.2"/><circle cx="1126.8" cy="1458.0" r="8.2"/><circle cx="1175.0" cy="1400.1" r="8.2"/><circle cx="1186.8" cy="1427.2" r="8.2"/><circle cx="1121.0" cy="1550.6" r="8.2"/><circle cx="1274.5" cy="1327.8" r="8.2"/><circle cx="1133.0" cy="1623.2" r="8.2"/><circle cx="1196.2" cy="1485.2" r="8.2"/><circle cx="1309.4" cy="1195.0" r="8.2"/><circle cx="1188.9" cy="1532.3" r="8.2"/><circle cx="1084.2" cy="1471.3" r="8.2"/><circle cx="1271.7" cy="1286.9" r="8.2"/><circle cx="1370.0" cy="1204.4" r="8.2"/><circle cx="1246.1" cy="1396.3" r="8.2"/><circle cx="1385.8" cy="1118.8" r="8.2"/><circle cx="1190.1" cy="1434.5" r="8.2"/><circle cx="1130.9" cy="1492.0" r="8.2"/><circle cx="1174.6" cy="1482.4" r="8.2"/><circle cx="1315.6" cy="1262.8" r="8.2"/><circle cx="1382.5" cy="1155.0" r="8.2"/><circle cx="1149.0" cy="1598.3" r="8.2"/><circle cx="1317.4" cy="1321.8" r="8.2"/><circle cx="1268.3" cy="1430.3" r="8.2"/><circle cx="1137.5" cy="1515.6" r="8.2"/><circle cx="1309.0" cy="1225.3" r="8.2"/><circle cx="1166.3" cy="1512.7" r="8.2"/><circle cx="1095.6" cy="1567.5" r="8.2"/><circle cx="1234.9" cy="1288.4" r="8.2"/><circle cx="1135.7" cy="1519.7" r="8.2"/><circle cx="1201.1" cy="1415.0" r="8.2"/><circle cx="1423.4" cy="1353.2" r="8.2"/><circle cx="1149.8" cy="1541.8" r="8.2"/><circle cx="1217.2" cy="1302.9" r="8.2"/><circle cx="1200.3" cy="1382.6" r="8.2"/><circle cx="1104.1" cy="1478.9" r="8.2"/><circle cx="1235.1" cy="1320.4" r="8.2"/><circle cx="1132.2" cy="1495.9" r="8.2"/><circle cx="1352.1" cy="1480.2" r="8.2"/><circle cx="1336.3" cy="1209.9" r="8.2"/><circle cx="1200.4" cy="1441.1" r="8.2"/><circle cx="1135.1" cy="1449.9" r="8.2"/><circle cx="1116.3" cy="1449.7" r="8.2"/><circle cx="1144.6" cy="1452.1" r="8.2"/><circle cx="1186.7" cy="1519.8" r="8.2"/><circle cx="1220.3" cy="1313.8" r="8.2"/><circle cx="1123.2" cy="1657.4" r="8.2"/><circle cx="1280.3" cy="1274.6" r="8.2"/><circle cx="1205.3" cy="1366.0" r="8.2"/><circle cx="1447.5" cy="1063.4" r="8.2"/><circle cx="1158.3" cy="1387.0" r="8.2"/><circle cx="1205.4" cy="1432.1" r="8.2"/><circle cx="1307.0" cy="1242.9" r="8.2"/><circle cx="1152.3" cy="1753.3" r="8.2"/><circle cx="1314.0" cy="1280.2" r="8.2"/><circle cx="1195.6" cy="1409.5" r="8.2"/><circle cx="1118.5" cy="1536.1" r="8.2"/><circle cx="1378.3" cy="1331.5" r="8.2"/><circle cx="1370.5" cy="1354.8" r="8.2"/><circle cx="1098.8" cy="1556.8" r="8.2"/><circle cx="1154.7" cy="1644.2" r="8.2"/><circle cx="1233.1" cy="1426.7" r="8.2"/><circle cx="1116.0" cy="1454.4" r="8.2"/><circle cx="1175.2" cy="1403.5" r="8.2"/><circle cx="1082.1" cy="1678.3" r="8.2"/><circle cx="1197.1" cy="1521.0" r="8.2"/><circle cx="1182.4" cy="1481.1" r="8.2"/><circle cx="1363.0" cy="1347.8" r="8.2"/><circle cx="1310.1" cy="1302.9" r="8.2"/><circle cx="1131.6" cy="1427.4" r="8.2"/><circle cx="1239.4" cy="1298.4" r="8.2"/><circle cx="1432.9" cy="1102.6" r="8.2"/><circle cx="1099.4" cy="1614.2" r="8.2"/><circle cx="1194.9" cy="1355.3" r="8.2"/><circle cx="1114.1" cy="1546.0" r="8.2"/><circle cx="1137.4" cy="1408.6" r="8.2"/><circle cx="1205.7" cy="1345.3" r="8.2"/><circle cx="988.0" cy="1712.9" r="8.2"/><circle cx="1205.8" cy="1305.3" r="8.2"/><circle cx="1148.0" cy="1412.0" r="8.2"/><circle cx="1082.1" cy="1554.5" r="8.2"/><circle cx="1192.2" cy="1603.2" r="8.2"/><circle cx="1147.9" cy="1551.0" r="8.2"/><circle cx="1137.4" cy="1707.4" r="8.2"/><circle cx="1406.7" cy="1117.0" r="8.2"/><circle cx="1184.6" cy="1575.8" r="8.2"/><circle cx="1211.6" cy="1565.4" r="8.2"/><circle cx="1099.9" cy="1525.9" r="8.2"/><circle cx="1403.2" cy="1150.0" r="8.2"/><circle cx="1221.1" cy="1570.5" r="8.2"/><circle cx="1136.8" cy="1508.8" r="8.2"/><circle cx="1256.2" cy="1341.7" r="8.2"/><circle cx="1243.0" cy="1561.6" r="8.2"/><circle cx="1192.9" cy="1372.9" r="8.2"/><circle cx="1169.1" cy="1674.8" r="8.2"/><circle cx="1067.4" cy="1541.3" r="8.2"/><circle cx="1278.0" cy="1281.2" r="8.2"/><circle cx="1054.9" cy="1665.7" r="8.2"/><circle cx="1078.5" cy="1474.7" r="8.2"/><circle cx="1214.4" cy="1406.2" r="8.2"/><circle cx="1324.3" cy="1203.9" r="8.2"/><circle cx="1377.9" cy="1184.1" r="8.2"/><circle cx="1146.1" cy="1658.2" r="8.2"/><circle cx="1309.8" cy="1265.1" r="8.2"/><circle cx="1115.7" cy="1448.2" r="8.2"/><circle cx="1124.1" cy="1525.6" r="8.2"/><circle cx="1208.8" cy="1426.1" r="8.2"/><circle cx="1218.4" cy="1327.4" r="8.2"/><circle cx="1193.0" cy="1429.5" r="8.2"/><circle cx="1352.8" cy="1398.2" r="8.2"/><circle cx="1189.5" cy="1399.0" r="8.2"/><circle cx="1155.2" cy="1471.5" r="8.2"/><circle cx="1189.9" cy="1525.6" r="8.2"/><circle cx="1106.9" cy="1529.2" r="8.2"/><circle cx="1282.8" cy="1350.6" r="8.2"/><circle cx="1098.7" cy="1573.8" r="8.2"/><circle cx="1205.0" cy="1400.8" r="8.2"/><circle cx="1093.5" cy="1525.3" r="8.2"/><circle cx="1269.4" cy="1406.0" r="8.2"/><circle cx="1156.1" cy="1598.5" r="8.2"/><circle cx="1316.4" cy="1264.8" r="8.2"/><circle cx="1104.5" cy="1470.8" r="8.2"/><circle cx="1188.0" cy="1555.1" r="8.2"/><circle cx="1330.0" cy="1250.1" r="8.2"/><circle cx="1270.9" cy="1275.4" r="8.2"/><circle cx="1149.2" cy="1464.5" r="8.2"/><circle cx="1085.6" cy="1485.3" r="8.2"/><circle cx="1214.9" cy="1375.1" r="8.2"/><circle cx="1161.3" cy="1460.5" r="8.2"/><circle cx="1258.9" cy="1227.7" r="8.2"/><circle cx="1258.0" cy="1286.6" r="8.2"/><circle cx="1448.6" cy="1118.0" r="8.2"/><circle cx="1171.0" cy="1409.4" r="8.2"/><circle cx="1074.6" cy="1523.6" r="8.2"/><circle cx="1087.4" cy="1529.4" r="8.2"/><circle cx="1356.7" cy="1204.2" r="8.2"/><circle cx="1127.1" cy="1756.0" r="8.2"/><circle cx="1219.5" cy="1477.5" r="8.2"/><circle cx="1257.2" cy="1269.3" r="8.2"/><circle cx="1371.2" cy="1251.8" r="8.2"/><circle cx="1159.8" cy="1362.3" r="8.2"/><circle cx="1124.4" cy="1509.2" r="8.2"/><circle cx="1366.6" cy="1379.5" r="8.2"/><circle cx="1230.1" cy="1368.8" r="8.2"/><circle cx="1298.1" cy="1274.5" r="8.2"/><circle cx="1250.2" cy="1538.8" r="8.2"/><circle cx="1185.9" cy="1418.7" r="8.2"/><circle cx="907.0" cy="1766.4" r="8.2"/><circle cx="1299.1" cy="1393.6" r="8.2"/><circle cx="1171.9" cy="1413.2" r="8.2"/><circle cx="1088.8" cy="1576.7" r="8.2"/><circle cx="1292.8" cy="1259.8" r="8.2"/><circle cx="1465.5" cy="1231.9" r="8.2"/></g>
<g fill="#3498db" fill-opacity="0.5"><circle cx="1168.8" cy="1370.8" r="14.2"/><circle cx="1257.6" cy="1254.2" r="14.2"/><circle cx="1206.0" cy="1299.8" r="14.2"/><circle cx="1065.5" cy="1405.2" r="14.2"/><circle cx="1088.1" cy="1463.8" r="14.2"/><circle cx="1250.8" cy="1234.0" r="14.2"/><circle cx="836.3" cy="1702.3" r="14.2"/><circle cx="1226.0" cy="1309.0" r="14.2"/><circle cx="1214.2" cy="1203.0" r="14.2"/><circle cx="1124.9" cy="1510.7" r="14.2"/><circle cx="1092.4" cy="1469.4" r="14.2"/><circle cx="1086.0" cy="1402.0" r="14.2"/><circle cx="1079.1" cy="1530.6" r="14.2"/><circle cx="1122.3" cy="1354.5" r="14.2"/><circle cx="1134.0" cy="1300.0" r="14.2"/><circle cx="1158.5" cy="1385.7" r="14.2"/><circle cx="1338.9" cy="1166.0" r="14.2"/><circle cx="1220.0" cy="1307.9" r="14.2"/><circle cx="1172.4" cy="1300.0" r="14.2"/><circle cx="1309.6" cy="1190.9" r="14.2"/><circle cx="1066.0" cy="1451.6" r="14.2"/><circle cx="1031.6" cy="1400.7" r="14.2"/><circle cx="1163.2" cy="1313.1" r="14.2"/><circle cx="922.7" cy="1498.5" r="14.2"/><circle cx="913.1" cy="1553.4" r="14.2"/><circle cx="1139.4" cy="1430.3" r="14.2"/><circle cx="1131.6" cy="1364.8" r="14.2"/><circle cx="1254.0" cy="1203.2" r="14.2"/><circle cx="1160.4" cy="1409.6" r="14.2"/><circle cx="1135.2" cy="1293.7" r="14.2"/><circle cx="1141.2" cy="1364.4" r="14.2"/><circle cx="1076.8" cy="1426.9" r="14.2"/><circle cx="845.9" cy="1713.0" r="14.2"/><circle cx="1047.9" cy="1478.6" r="14.2"/><circle cx="1195.1" cy="1282.8" r="14.2"/><circle cx="1053.3" cy="1498.3" r="14.2"/><circle cx="1109.7" cy="1404.6" r="14.2"/><circle cx="826.1" cy="1799.3" r="14.2"/><circle cx="1231.0" cy="1190.4" r="14.2"/><circle cx="1039.0" cy="1556.9" r="14.2"/><circle cx="1073.0" cy="1585.5" r="14.2"/><circle cx="1242.9" cy="1270.7" r="14.2"/><circle cx="1133.2" cy="1421.3" r="14.2"/><circle cx="1229.5" cy="1229.3" r="14.2"/><circle cx="1177.5" cy="1360.3" r="14.2"/><circle cx="1205.8" cy="1270.4" r="14.2"/><circle cx="978.9" cy="1594.6" r="14.2"/><circle cx="1153.8" cy="1223.4" r="14.2"/><circle cx="1139.5" cy="1337.5" r="14.2"/><circle cx="1240.4" cy="1154.1" r="14.2"/><circle cx="1096.7" cy="1483.4" r="14.2"/><circle cx="1172.7" cy="1291.1" r="14.2"/><circle cx="946.6" cy="1615.2" r="14.2"/><circle cx="1116.3" cy="1363.7" r="14.2"/><circle cx="1099.5" cy="1377.5" r="14.2"/><circle cx="1035.8" cy="1587.5" r="14.2"/><circle cx="1217.7" cy="1312.3" r="14.2"/><circle cx="1111.4" cy="1470.2" r="14.2"/><circle cx="1300.3" cy="1236.8" r="14.2"/><circle cx="1172.0" cy="1360.5" r="14.2"/><circle cx="1164.2" cy="1382.0" r="14.2"/><circle cx="1161.0" cy="1408.9" r="14.2"/><circle cx="1173.7" cy="1320.7" r="14.2"/><circle cx="1038.1" cy="1453.8" r="14.2"/><circle cx="1124.0" cy="1459.5" r="14.2"/><circle cx="1068.0" cy="1498.2" r="14.2"/><circle cx="1114.4" cy="1403.7" r="14.2"/><circle cx="997.6" cy="1542.1" r="14.2"/><circle cx="1288.0" cy="1224.8" r="14.2"/><circle cx="1055.1" cy="1418.8" r="14.2"/><circle cx="1178.6" cy="1274.6" r="14.2"/><circle cx="1083.3" cy="1397.2" r="14.2"/><circle cx="1240.2" cy="1248.1" r="14.2"/><circle cx="1186.1" cy="1207.2" r="14.2"/><circle cx="1019.1" cy="1386.8" r="14.2"/><circle cx="1228.4" cy="1270.6" r="14.2"/><circle cx="1278.5" cy="1214.3" r="14.2"/><circle cx="1266.5" cy="1170.7" r="14.2"/><circle cx="1157.4" cy="1384.9" r="14.2"/><circle cx="1029.7" cy="1472.5" r="14.2"/><circle cx="1042.2" cy="1486.3" r="14.2"/><circle cx="1260.3" cy="1243.6" r="14.2"/><circle cx="1154.3" cy="1362.8" r="14.2"/><circle cx="1051.4" cy="1573.2" r="14.2"/><circle cx="1252.9" cy="1243.2" r="14.2"/><circle cx="1185.4" cy="1394.2" r="14.2"/><circle cx="1151.1" cy="1222.0" r="14.2"/><circle cx="1114.3" cy="1305.7" r="14.2"/><circle cx="1108.1" cy="1330.8" r="14.2"/><circle cx="1073.3" cy="1436.8" r="14.2"/><circle cx="907.1" cy="1535.9" r="14.2"/><circle cx="1241.4" cy="1183.5" r="14.2"/><circle cx="1121.4" cy="1329.7" r="14.2"/><circle cx="1150.5" cy="1302.9" r="14.2"/><circle cx="1097.2" cy="1477.5" r="14.2"/><circle cx="1209.3" cy="1259.6" r="14.2"/><circle cx="880.5" cy="1653.1" r="14.2"/><circle cx="1107.9" cy="1476.6" r="14.2"/><circle cx="901.6" cy="1665.5" r="14.2"/><circle cx="1008.6" cy="1490.5" r="14.2"/><circle cx="1289.5" cy="1169.1" r="14.2"/><circle cx="1182.8" cy="1372.2" r="14.2"/><circle cx="1128.7" cy="1275.3" r="14.2"/><circle cx="1140.5" cy="1280.7" r="14.2"/><circle cx="1249.9" cy="1241.7" r="14.2"/><circle cx="1094.2" cy="1457.2" r="14.2"/><circle cx="1162.7" cy="1344.6" r="14.2"/><circle cx="1196.5" cy="1247.9" r="14.2"/><circle cx="1095.7" cy="1450.8" r="14.2"/><circle cx="1140.2" cy="1425.2" r="14.2"/><circle cx="1203.4" cy="1271.3" r="14.2"/><circle cx="1259.1" cy="1289.4" r="14.2"/><circle cx="1037.5" cy="1484.5" r="14.2"/><circle cx="1275.5" cy="1169.7" r="14.2"/><circle cx="832.0" cy="1665.1" r="14.2"/><circle cx="1203.6" cy="1249.7" r="14.2"/><circle cx="1224.0" cy="1239.0" r="14.2"/><circle cx="1021.8" cy="1457.2" r="14.2"/><circle cx="1125.7" cy="1380.9" r="14.2"/><circle cx="1224.9" cy="1291.5" r="14.2"/><circle cx="862.0" cy="1659.7" r="14.2"/><circle cx="1172.9" cy="1331.1" r="14.2"/><circle cx="1222.1" cy="1205.8" r="14.2"/><circle cx="1145.2" cy="1266.9" r="14.2"/><circle cx="1193.9" cy="1279.2" r="14.2"/><circle cx="1062.5" cy="1516.2" r="14.2"/><circle cx="1064.3" cy="1513.3" r="14.2"/><circle cx="1094.3" cy="1442.0" r="14.2"/><circle cx="1046.0" cy="1386.5" r="14.2"/><circle cx="1101.2" cy="1399.9" r="14.2"/><circle cx="1267.4" cy="1218.9" r="14.2"/><circle cx="1157.0" cy="1384.3" r="14.2"/><circle cx="1102.7" cy="1361.0" r="14.2"/><circle cx="1092.3" cy="1414.3" r="14.2"/><circle cx="1271.6" cy="1216.4" r="14.2"/><circle cx="1126.1" cy="1383.1" r="14.2"/><circle cx="1305.5" cy="1145.2" r="14.2"/><circle cx="1138.7" cy="1381.1" r="14.2"/><circle cx="1144.3" cy="1264.0" r="14.2"/><circle cx="1245.6" cy="1180.5" r="14.2"/><circle cx="1204.4" cy="1284.4" r="14.2"/><circle cx="1150.2" cy="1305.7" r="14.2"/><circle cx="1122.7" cy="1400.7" r="14.2"/><circle cx="1245.7" cy="1262.9" r="14.2"/><circle cx="1108.6" cy="1427.1" r="14.2"/><circle cx="1264.4" cy="1247.7" r="14.2"/><circle cx="972.6" cy="1513.0" r="14.2"/><circle cx="1121.1" cy="1395.3" r="14.2"/><circle cx="1133.9" cy="1344.0" r="14.2"/><circle cx="1266.7" cy="1185.2" r="14.2"/><circle cx="1078.8" cy="1631.0" r="14.2"/><circle cx="1214.2" cy="1259.6" r="14.2"/><circle cx="1182.3" cy="1391.5" r="14.2"/><circle cx="1190.6" cy="1296.1" r="14.2"/><circle cx="1162.5" cy="1381.5" r="14.2"/><circle cx="1283.3" cy="1204.8" r="14.2"/><circle cx="1102.3" cy="1328.7" r="14.2"/><circle cx="1106.7" cy="1507.2" r="14.2"/><circle cx="1064.6" cy="1456.1" r="14.2"/><circle cx="940.5" cy="1574.9" r="14.2"/><circle cx="1056.2" cy="1588.5" r="14.2"/><circle cx="1256.1" cy="1196.5" r="14.2"/><circle cx="1235.3" cy="1245.9" r="14.2"/><circle cx="1008.1" cy="1550.6" r="14.2"/><circle cx="1164.1" cy="1372.2" r="14.2"/><circle cx="1137.6" cy="1176.6" r="14.2"/><circle cx="1166.0" cy="1354.7" r="14.2"/><circle cx="1185.4" cy="1386.5" r="14.2"/><circle cx="1086.9" cy="1493.8" r="14.2"/><circle cx="1291.2" cy="1214.0" r="14.2"/><circle cx="1128.4" cy="1406.3" r="14.2"/><circle cx="1167.4" cy="1338.8" r="14.2"/><circle cx="1166.4" cy="1383.4" r="14.2"/><circle cx="1048.8" cy="1445.2" r="14.2"/><circle cx="952.8" cy="1587.2" r="14.2"/><circle cx="1116.1" cy="1474.4" r="14.2"/><circle cx="1202.3" cy="1321.8" r="14.2"/><circle cx="1217.6" cy="1284.7" r="14.2"/><circle cx="1198.2" cy="1252.7" r="14.2"/><circle cx="1004.9" cy="1490.4" r="14.2"/><circle cx="1264.6" cy="1229.5" r="14.2"/><circle cx="1225.8" cy="1258.7" r="14.2"/><circle cx="1247.7" cy="1222.4" r="14.2"/><circle cx="1134.5" cy="1251.7" r="14.2"/><circle cx="1263.4" cy="1239.1" r="14.2"/><circle cx="941.8" cy="1539.3" r="14.2"/><circle cx="896.7" cy="1563.7" r="14.2"/><circle cx="877.7" cy="1678.7" r="14.2"/><circle cx="1072.9" cy="1446.3" r="14.2"/><circle cx="1067.2" cy="1455.5" r="14.2"/><circle cx="1040.6" cy="1519.2" r="14.2"/><circle cx="1149.6" cy="1325.2" r="14.2"/><circle cx="914.3" cy="1528.0" r="14.2"/><circle cx="1170.7" cy="1268.8" r="14.2"/><circle cx="1027.7" cy="1514.8" r="14.2"/><circle cx="1173.5" cy="1316.9" r="14.2"/><circle cx="874.5" cy="1480.8" r="14.2"/><circle cx="1085.2" cy="1506.0" r="14.2"/><circle cx="1272.6" cy="1206.0" r="14.2"/><circle cx="1157.5" cy="1297.1" r="14.2"/><circle cx="1225.5" cy="1253.0" r="14.2"/><circle cx="1186.1" cy="1276.6" r="14.2"/><circle cx="1170.3" cy="1322.0" r="14.2"/><circle cx="1039.7" cy="1438.4" r="14.2"/><circle cx="1148.5" cy="1284.0" r="14.2"/><circle cx="927.4" cy="1594.3" r="14.2"/><circle cx="1226.0" cy="1250.2" r="14.2"/><circle cx="1281.1" cy="1211.3" r="14.2"/><circle cx="1233.5" cy="1264.3" r="14.2"/><circle cx="938.2" cy="1573.9" r="14.2"/><circle cx="1098.5" cy="1488.1" r="14.2"/><circle cx="1083.3" cy="1393.5" r="14.2"/><circle cx="1003.3" cy="1406.0" r="14.2"/><circle cx="1163.0" cy="1244.8" r="14.2"/><circle cx="1214.6" cy="1213.3" r="14.2"/><circle cx="1087.2" cy="1495.4" r="14.2"/><circle cx="1245.9" cy="1168.2" r="14.2"/><circle cx="1222.8" cy="1290.1" r="14.2"/><circle cx="1021.5" cy="1512.4" r="14.2"/><circle cx="1212.6" cy="1188.3" r="14.2"/><circle cx="1244.5" cy="1273.1" r="14.2"/><circle cx="1064.8" cy="1408.2" r="14.2"/><circle cx="1151.6" cy="1339.5" r="14.2"/><circle cx="1182.0" cy="1322.3" r="14.2"/><circle cx="1170.6" cy="1369.6" r="14.2"/><circle cx="991.6" cy="1504.8" r="14.2"/><circle cx="1179.2" cy="1339.5" r="14.2"/><circle cx="1168.3" cy="1276.2" r="14.2"/><circle cx="1214.7" cy="1215.6" r="14.2"/><circle cx="1220.4" cy="1318.3" r="14.2"/><circle cx="1094.4" cy="1459.5" r="14.2"/><circle cx="1189.6" cy="1319.1" r="14.2"/><circle cx="1248.3" cy="1271.6" r="14.2"/><circle cx="1252.9" cy="1263.0" r="14.2"/><circle cx="1039.7" cy="1486.4" r="14.2"/><circle cx="896.3" cy="1622.0" r="14.2"/><circle cx="1175.2" cy="1396.6" r="14.2"/><circle cx="1060.0" cy="1505.8" r="14.2"/><circle cx="1152.4" cy="1324.6" r="14.2"/><circle cx="1271.7" cy="1251.6" r="14.2"/><circle cx="1116.7" cy="1450.6" r="14.2"/><circle cx="1075.9" cy="1341.9" r="14.2"/><circle cx="1127.3" cy="1304.3" r="14.2"/><circle cx="1181.5" cy="1385.2" r="14.2"/><circle cx="994.1" cy="1607.8" r="14.2"/><circle cx="1115.5" cy="1379.0" r="14.2"/><circle cx="1025.4" cy="1574.3" r="14.2"/><circle cx="1185.8" cy="1321.4" r="14.2"/><circle cx="1239.7" cy="1257.8" r="14.2"/><circle cx="1117.9" cy="1364.0" r="14.2"/><circle cx="1107.9" cy="1549.4" r="14.2"/><circle cx="1152.5" cy="1458.5" r="14.2"/><circle cx="1063.5" cy="1543.2" r="14.2"/><circle cx="1070.3" cy="1389.5" r="14.2"/><circle cx="1101.2" cy="1431.0" r="14.2"/><circle cx="1120.5" cy="1485.9" r="14.2"/><circle cx="975.7" cy="1512.0" r="14.2"/><circle cx="1205.3" cy="1251.4" r="14.2"/><circle cx="1147.4" cy="1373.3" r="14.2"/><circle cx="1085.4" cy="1462.1" r="14.2"/><circle cx="962.7" cy="1525.5" r="14.2"/><circle cx="1211.4" cy="1220.0" r="14.2"/><circle cx="1017.3" cy="1502.5" r="14.2"/><circle cx="1018.1" cy="1474.6" r="14.2"/><circle cx="1023.7" cy="1510.2" r="14.2"/><circle cx="980.4" cy="1563.0" r="14.2"/><circle cx="1254.0" cy="1255.4" r="14.2"/><circle cx="1082.7" cy="1428.9" r="14.2"/><circle cx="1087.9" cy="1457.0" r="14.2"/><circle cx="1229.3" cy="1264.1" r="14.2"/><circle cx="1163.2" cy="1288.4" r="14.2"/><circle cx="1048.0" cy="1449.8" r="14.2"/><circle cx="1126.4" cy="1333.8" r="14.2"/><circle cx="1243.6" cy="1292.0" r="14.2"/><circle cx="1113.9" cy="1369.0" r="14.2"/><circle cx="1195.0" cy="1322.7" r="14.2"/><circle cx="986.8" cy="1582.2" r="14.2"/><circle cx="1190.2" cy="1339.9" r="14.2"/><circle cx="1204.0" cy="1228.2" r="14.2"/><circle cx="1238.3" cy="1206.9" r="14.2"/><circle cx="1173.9" cy="1357.9" r="14.2"/><circle cx="1111.1" cy="1470.1" r="14.2"/><circle cx="948.9" cy="1563.6" r="14.2"/><circle cx="1142.4" cy="1390.5" r="14.2"/><circle cx="1210.7" cy="1199.2" r="14.2"/><circle cx="1040.5" cy="1576.8" r="14.2"/><circle cx="1077.9" cy="1558.4" r="14.2"/><circle cx="1155.8" cy="1362.4" r="14.2"/><circle cx="1202.8" cy="1288.5" r="14.2"/><circle cx="1252.2" cy="1220.2" r="14.2"/><circle cx="1003.6" cy="1472.5" r="14.2"/><circle cx="1050.2" cy="1332.7" r="14.2"/><circle cx="1214.3" cy="1287.4" r="14.2"/><circle cx="1179.3" cy="1342.7" r="14.2"/><circle cx="1193.3" cy="1372.4" r="14.2"/><circle cx="1358.7" cy="1150.3" r="14.2"/><circle cx="1277.8" cy="1180.2" r="14.2"/><circle cx="1233.9" cy="1258.6" r="14.2"/><circle cx="1200.6" cy="1233.5" r="14.2"/><circle cx="1112.2" cy="1406.1" r="14.2"/><circle cx="1178.2" cy="1240.2" r="14.2"/><circle cx="1053.0" cy="1456.4" r="14.2"/><circle cx="1209.0" cy="1322.1" r="14.2"/><circle cx="1205.3" cy="1310.7" r="14.2"/><circle cx="1191.4" cy="1366.0" r="14.2"/><circle cx="1130.1" cy="1472.6" r="14.2"/><circle cx="1107.7" cy="1396.1" r="14.2"/><circle cx="1130.7" cy="1328.8" r="14.2"/><circle cx="915.2" cy="1467.2" r="14.2"/><circle cx="1232.4" cy="1253.1" r="14.2"/><circle cx="1156.0" cy="1361.3" r="14.2"/><circle cx="1111.8" cy="1467.6" r="14.2"/><circle cx="1148.4" cy="1301.6" r="14.2"/><circle cx="1192.1" cy="1283.0" r="14.2"/><circle cx="1107.1" cy="1446.7" r="14.2"/><circle cx="1227.8" cy="1225.6" r="14.2"/><circle cx="1259.2" cy="1198.8" r="14.2"/><circle cx="1117.5" cy="1499.1" r="14.2"/><circle cx="1015.7" cy="1462.0" r="14.2"/><circle cx="1206.6" cy="1277.5" r="14.2"/><circle cx="1333.1" cy="1184.2" r="14.2"/><circle cx="1037.4" cy="1519.0" r="14.2"/><circle cx="1198.6" cy="1207.5" r="14.2"/><circle cx="1235.6" cy="1178.5" r="14.2"/><circle cx="1261.2" cy="1146.9" r="14.2"/><circle cx="1007.4" cy="1587.5" r="14.2"/><circle cx="994.3" cy="1568.8" r="14.2"/><circle cx="1312.9" cy="1166.3" r="14.2"/><circle cx="1004.5" cy="1593.4" r="14.2"/><circle cx="1042.9" cy="1531.7" r="14.2"/><circle cx="1147.4" cy="1448.1" r="14.2"/><circle cx="1124.7" cy="1272.8" r="14.2"/><circle cx="1210.2" cy="1228.5" r="14.2"/><circle cx="1047.1" cy="1452.8" r="14.2"/><circle cx="1255.5" cy="1214.6" r="14.2"/><circle cx="1063.9" cy="1495.2" r="14.2"/><circle cx="1200.5" cy="1307.8" r="14.2"/><circle cx="972.0" cy="1506.4" r="14.2"/><circle cx="1128.5" cy="1422.8" r="14.2"/><circle cx="913.6" cy="1515.7" r="14.2"/><circle cx="1085.3" cy="1471.4" r="14.2"/><circle cx="1090.8" cy="1485.1" r="14.2"/><circle cx="1186.6" cy="1242.9" r="14.2"/><circle cx="1120.0" cy="1405.2" r="14.2"/><circle cx="953.2" cy="1524.9" r="14.2"/><circle cx="1337.4" cy="1181.0" r="14.2"/><circle cx="1245.3" cy="1312.9" r="14.2"/><circle cx="1260.5" cy="1198.8" r="14.2"/><circle cx="1067.0" cy="1547.0" r="14.2"/><circle cx="1119.6" cy="1328.1" r="14.2"/><circle cx="1062.1" cy="1563.5" r="14.2"/><circle cx="1001.0" cy="1632.6" r="14.2"/><circle cx="916.1" cy="1573.2" r="14.2"/><circle cx="1140.3" cy="1345.0" r="14.2"/><circle cx="1008.8" cy="1513.5" r="14.2"/><circle cx="1049.6" cy="1554.5" r="14.2"/><circle cx="1253.2" cy="1187.5" r="14.2"/><circle cx="1134.7" cy="1451.5" r="14.2"/><circle cx="1053.0" cy="1507.8" r="14.2"/><circle cx="1179.6" cy="1352.7" r="14.2"/><circle cx="1069.1" cy="1487.1" r="14.2"/><circle cx="1138.1" cy="1321.4" r="14.2"/><circle cx="1084.6" cy="1480.3" r="14.2"/><circle cx="1145.1" cy="1330.7" r="14.2"/><circle cx="1166.9" cy="1297.3" r="14.2"/><circle cx="1147.4" cy="1443.6" r="14.2"/><circle cx="1116.0" cy="1464.4" r="14.2"/><circle cx="1219.9" cy="1281.5" r="14.2"/><circle cx="1250.8" cy="1247.8" r="14.2"/><circle cx="1040.3" cy="1470.0" r="14.2"/><circle cx="1024.6" cy="1617.5" r="14.2"/><circle cx="1011.6" cy="1467.4" r="14.2"/><circle cx="1293.5" cy="1178.3" r="14.2"/><circle cx="1273.0" cy="1219.2" r="14.2"/><circle cx="1068.0" cy="1547.6" r="14.2"/><circle cx="1287.1" cy="1206.2" r="14.2"/><circle cx="1054.2" cy="1510.9" r="14.2"/><circle cx="1145.0" cy="1330.7" r="14.2"/><circle cx="1135.6" cy="1381.4" r="14.2"/><circle cx="1262.2" cy="1190.8" r="14.2"/><circle cx="928.3" cy="1604.6" r="14.2"/><circle cx="1084.0" cy="1343.4" r="14.2"/><circle cx="1162.7" cy="1446.0" r="14.2"/><circle cx="971.8" cy="1603.3" r="14.2"/><circle cx="1066.9" cy="1431.8" r="14.2"/><circle cx="1123.2" cy="1471.6" r="14.2"/><circle cx="1244.3" cy="1203.9" r="14.2"/><circle cx="1207.7" cy="1330.1" r="14.2"/><circle cx="1231.5" cy="1248.0" r="14.2"/><circle cx="1201.4" cy="1327.0" r="14.2"/><circle cx="1194.2" cy="1317.9" r="14.2"/><circle cx="1236.3" cy="1238.4" r="14.2"/><circle cx="1182.6" cy="1319.6" r="14.2"/><circle cx="1193.1" cy="1316.9" r="14.2"/><circle cx="1083.9" cy="1293.5" r="14.2"/><circle cx="1026.5" cy="1504.3" r="14.2"/><circle cx="1207.0" cy="1321.4" r="14.2"/><circle cx="1034.7" cy="1430.6" r="14.2"/><circle cx="1259.2" cy="1188.2" r="14.2"/><circle cx="1172.7" cy="1261.7" r="14.2"/><circle cx="1095.8" cy="1306.9" r="14.2"/><circle cx="1277.5" cy="1239.3" r="14.2"/><circle cx="1036.0" cy="1420.0" r="14.2"/><circle cx="1145.2" cy="1296.1" r="14.2"/><circle cx="998.6" cy="1529.1" r="14.2"/><circle cx="1283.2" cy="1199.9" r="14.2"/><circle cx="1158.8" cy="1484.7" r="14.2"/><circle cx="1218.6" cy="1290.4" r="14.2"/><circle cx="1088.8" cy="1314.1" r="14.2"/><circle cx="1226.0" cy="1325.3" r="14.2"/><circle cx="1194.5" cy="1321.2" r="14.2"/><circle cx="1181.0" cy="1302.1" r="14.2"/><circle cx="1267.6" cy="1194.7" r="14.2"/><circle cx="1127.8" cy="1283.8" r="14.2"/><circle cx="1109.7" cy="1505.5" r="14.2"/><circle cx="1191.7" cy="1301.0" r="14.2"/><circle cx="1231.7" cy="1213.3" r="14.2"/><circle cx="1106.1" cy="1486.9" r="14.2"/><circle cx="1181.7" cy="1318.0" r="14.2"/><circle cx="1062.7" cy="1333.9" r="14.2"/><circle cx="1148.8" cy="1281.6" r="14.2"/><circle cx="1204.0" cy="1261.1" r="14.2"/><circle cx="958.0" cy="1697.2" r="14.2"/><circle cx="1188.2" cy="1313.2" r="14.2"/><circle cx="865.5" cy="1618.9" r="14.2"/><circle cx="1285.7" cy="1215.8" r="14.2"/><circle cx="1125.0" cy="1394.5" r="14.2"/><circle cx="1113.3" cy="1203.4" r="14.2"/><circle cx="1192.5" cy="1310.9" r="14.2"/><circle cx="1139.4" cy="1419.8" r="14.2"/><circle cx="1192.2" cy="1290.3" r="14.2"/><circle cx="982.3" cy="1558.1" r="14.2"/><circle cx="1150.2" cy="1372.6" r="14.2"/><circle cx="1148.7" cy="1364.0" r="14.2"/><circle cx="1272.5" cy="1185.1" r="14.2"/><circle cx="920.7" cy="1573.5" r="14.2"/><circle cx="1125.8" cy="1451.8" r="14.2"/><circle cx="1166.5" cy="1342.4" r="14.2"/><circle cx="1157.0" cy="1321.6" r="14.2"/><circle cx="961.1" cy="1580.8" r="14.2"/><circle cx="1165.2" cy="1273.9" r="14.2"/><circle cx="1063.5" cy="1414.2" r="14.2"/><circle cx="1057.6" cy="1534.5" r="14.2"/><circle cx="1251.1" cy="1213.6" r="14.2"/><circle cx="1062.6" cy="1326.7" r="14.2"/><circle cx="1120.4" cy="1296.2" r="14.2"/><circle cx="1205.1" cy="1288.3" r="14.2"/><circle cx="1196.8" cy="1251.9" r="14.2"/><circle cx="1153.5" cy="1385.1" r="14.2"/><circle cx="1222.2" cy="1318.2" r="14.2"/><circle cx="1133.0" cy="1345.9" r="14.2"/><circle cx="1168.9" cy="1319.7" r="14.2"/><circle cx="1220.5" cy="1242.3" r="14.2"/><circle cx="1184.5" cy="1313.7" r="14.2"/><circle cx="1179.0" cy="1302.7" r="14.2"/><circle cx="1106.6" cy="1443.0" r="14.2"/><circle cx="1150.1" cy="1330.0" r="14.2"/><circle cx="1114.4" cy="1350.4" r="14.2"/><circle cx="1212.6" cy="1278.8" r="14.2"/><circle cx="1114.6" cy="1351.5" r="14.2"/><circle cx="1123.6" cy="1484.4" r="14.2"/><circle cx="1213.2" cy="1305.9" r="14.2"/><circle cx="1138.5" cy="1284.6" r="14.2"/><circle cx="1096.1" cy="1308.3" r="14.2"/><circle cx="1234.0" cy="1237.9" r="14.2"/><circle cx="1111.0" cy="1415.1" r="14.2"/><circle cx="1228.1" cy="1303.2" r="14.2"/><circle cx="1222.8" cy="1246.6" r="14.2"/><circle cx="1129.0" cy="1336.5" r="14.2"/><circle cx="1199.5" cy="1352.2" r="14.2"/><circle cx="908.0" cy="1564.2" r="14.2"/><circle cx="1118.6" cy="1367.7" r="14.2"/><circle cx="1237.3" cy="1225.4" r="14.2"/><circle cx="1149.9" cy="1411.9" r="14.2"/><circle cx="1152.9" cy="1322.7" r="14.2"/><circle cx="1181.6" cy="1379.8" r="14.2"/><circle cx="1177.4" cy="1242.4" r="14.2"/><circle cx="1147.9" cy="1352.8" r="14.2"/><circle cx="1131.0" cy="1442.1" r="14.2"/><circle cx="1041.9" cy="1393.7" r="14.2"/><circle cx="1086.3" cy="1361.2" r="14.2"/><circle cx="1085.6" cy="1479.9" r="14.2"/><circle cx="1131.9" cy="1243.7" r="14.2"/><circle cx="1380.9" cy="1150.7" r="14.2"/><circle cx="1098.8" cy="1404.4" r="14.2"/><circle cx="1132.8" cy="1306.8" r="14.2"/><circle cx="1111.2" cy="1530.3" r="14.2"/><circle cx="1156.2" cy="1292.1" r="14.2"/><circle cx="1269.8" cy="1217.9" r="14.2"/><circle cx="1250.1" cy="1229.1" r="14.2"/><circle cx="1116.5" cy="1459.0" r="14.2"/><circle cx="1077.5" cy="1430.1" r="14.2"/><circle cx="1246.4" cy="1271.7" r="14.2"/><circle cx="1136.1" cy="1424.7" r="14.2"/><circle cx="1195.0" cy="1317.0" r="14.2"/><circle cx="971.8" cy="1614.8" r="14.2"/><circle cx="1244.1" cy="1167.8" r="14.2"/><circle cx="1080.0" cy="1526.5" r="14.2"/><circle cx="1135.6" cy="1414.8" r="14.2"/><circle cx="1065.5" cy="1487.8" r="14.2"/><circle cx="1119.9" cy="1397.7" r="14.2"/><circle cx="1227.3" cy="1221.4" r="14.2"/><circle cx="1227.9" cy="1219.5" r="14.2"/><circle cx="1131.7" cy="1397.6" r="14.2"/><circle cx="1205.0" cy="1301.2" r="14.2"/><circle cx="1129.0" cy="1383.6" r="14.2"/><circle cx="1115.9" cy="1349.4" r="14.2"/><circle cx="1152.3" cy="1314.3" r="14.2"/><circle cx="1062.8" cy="1502.0" r="14.2"/><circle cx="1085.9" cy="1559.0" r="14.2"/><circle cx="1193.8" cy="1192.7" r="14.2"/><circle cx="1204.0" cy="1240.9" r="14.2"/><circle cx="946.3" cy="1549.1" r="14.2"/><circle cx="1194.5" cy="1282.5" r="14.2"/><circle cx="1216.8" cy="1290.9" r="14.2"/><circle cx="1123.5" cy="1444.9" r="14.2"/><circle cx="958.0" cy="1575.7" r="14.2"/><circle cx="1178.0" cy="1330.7" r="14.2"/><circle cx="1067.8" cy="1503.4" r="14.2"/><circle cx="1181.6" cy="1378.0" r="14.2"/><circle cx="1113.6" cy="1422.7" r="14.2"/><circle cx="1160.6" cy="1311.3" r="14.2"/><circle cx="1071.1" cy="1491.2" r="14.2"/><circle cx="1128.0" cy="1385.8" r="14.2"/><circle cx="1136.9" cy="1478.2" r="14.2"/><circle cx="1173.0" cy="1336.9" r="14.2"/><circle cx="1063.7" cy="1478.0" r="14.2"/><circle cx="1286.7" cy="1240.6" r="14.2"/><circle cx="1092.0" cy="1531.0" r="14.2"/><circle cx="1080.2" cy="1420.9" r="14.2"/><circle cx="1069.4" cy="1511.9" r="14.2"/><circle cx="971.8" cy="1515.2" r="14.2"/><circle cx="1126.6" cy="1410.6" r="14.2"/><circle cx="1202.2" cy="1259.1" r="14.2"/><circle cx="1194.2" cy="1313.7" r="14.2"/><circle cx="1062.8" cy="1560.3" r="14.2"/><circle cx="1021.1" cy="1514.8" r="14.2"/><circle cx="1093.7" cy="1450.6" r="14.2"/><circle cx="1200.4" cy="1259.6" r="14.2"/><circle cx="1138.6" cy="1395.5" r="14.2"/><circle cx="1253.5" cy="1238.1" r="14.2"/><circle cx="1174.3" cy="1279.6" r="14.2"/><circle cx="1168.4" cy="1269.4" r="14.2"/><circle cx="1205.8" cy="1248.2" r="14.2"/><circle cx="1201.1" cy="1240.0" r="14.2"/><circle cx="1104.8" cy="1387.3" r="14.2"/><circle cx="1071.3" cy="1406.1" r="14.2"/><circle cx="1131.6" cy="1327.3" r="14.2"/><circle cx="1141.3" cy="1345.1" r="14.2"/><circle cx="1021.3" cy="1505.1" r="14.2"/><circle cx="1125.5" cy="1381.5" r="14.2"/><circle cx="1182.2" cy="1189.5" r="14.2"/><circle cx="1016.3" cy="1513.2" r="14.2"/><circle cx="1016.4" cy="1527.6" r="14.2"/><circle cx="1051.4" cy="1503.4" r="14.2"/><circle cx="1082.5" cy="1449.2" r="14.2"/><circle cx="1285.2" cy="1198.9" r="14.2"/><circle cx="889.4" cy="1676.4" r="14.2"/><circle cx="1044.1" cy="1603.8" r="14.2"/><circle cx="1031.2" cy="1479.3" r="14.2"/><circle cx="1131.9" cy="1463.0" r="14.2"/><circle cx="855.6" cy="1639.4" r="14.2"/><circle cx="1123.0" cy="1384.7" r="14.2"/><circle cx="1038.2" cy="1411.1" r="14.2"/><circle cx="1083.4" cy="1328.0" r="14.2"/><circle cx="1217.7" cy="1252.7" r="14.2"/><circle cx="1051.5" cy="1514.4" r="14.2"/><circle cx="1164.1" cy="1392.5" r="14.2"/><circle cx="1119.8" cy="1439.3" r="14.2"/><circle cx="1130.8" cy="1381.0" r="14.2"/><circle cx="1224.6" cy="1337.9" r="14.2"/><circle cx="1029.4" cy="1496.8" r="14.2"/><circle cx="1256.2" cy="1223.7" r="14.2"/><circle cx="1250.0" cy="1201.1" r="14.2"/><circle cx="1184.2" cy="1327.0" r="14.2"/><circle cx="935.9" cy="1568.4" r="14.2"/><circle cx="1176.0" cy="1355.7" r="14.2"/><circle cx="1163.1" cy="1361.9" r="14.2"/><circle cx="1201.7" cy="1360.5" r="14.2"/><circle cx="1058.7" cy="1466.4" r="14.2"/><circle cx="1273.4" cy="1155.7" r="14.2"/><circle cx="1248.3" cy="1223.8" r="14.2"/><circle cx="1000.4" cy="1502.2" r="14.2"/><circle cx="1082.3" cy="1503.3" r="14.2"/><circle cx="907.8" cy="1507.9" r="14.2"/><circle cx="1230.2" cy="1281.9" r="14.2"/><circle cx="1255.8" cy="1190.2" r="14.2"/><circle cx="1319.2" cy="1184.6" r="14.2"/><circle cx="1164.8" cy="1381.8" r="14.2"/><circle cx="1175.1" cy="1269.7" r="14.2"/><circle cx="1182.1" cy="1315.0" r="14.2"/><circle cx="1159.5" cy="1335.4" r="14.2"/><circle cx="1277.3" cy="1195.2" r="14.2"/><circle cx="1168.5" cy="1334.7" r="14.2"/><circle cx="1098.2" cy="1447.4" r="14.2"/><circle cx="1138.5" cy="1344.7" r="14.2"/><circle cx="870.2" cy="1659.2" r="14.2"/><circle cx="1197.3" cy="1292.8" r="14.2"/><circle cx="1197.3" cy="1322.8" r="14.2"/><circle cx="1126.3" cy="1465.8" r="14.2"/><circle cx="1238.1" cy="1267.8" r="14.2"/><circle cx="1208.6" cy="1300.8" r="14.2"/><circle cx="1102.3" cy="1420.2" r="14.2"/><circle cx="963.2" cy="1475.2" r="14.2"/><circle cx="1016.2" cy="1610.7" r="14.2"/><circle cx="1042.7" cy="1480.7" r="14.2"/><circle cx="1091.9" cy="1557.9" r="14.2"/><circle cx="1130.5" cy="1436.9" r="14.2"/><circle cx="1265.3" cy="1234.4" r="14.2"/><circle cx="1090.7" cy="1562.2" r="14.2"/><circle cx="1264.1" cy="1278.3" r="14.2"/><circle cx="1179.0" cy="1311.7" r="14.2"/><circle cx="1236.8" cy="1242.0" r="14.2"/><circle cx="1108.7" cy="1418.8" r="14.2"/><circle cx="821.5" cy="1738.5" r="14.2"/><circle cx="1213.8" cy="1172.4" r="14.2"/><circle cx="1079.3" cy="1460.7" r="14.2"/><circle cx="1024.7" cy="1555.9" r="14.2"/><circle cx="1215.5" cy="1193.3" r="14.2"/><circle cx="1196.8" cy="1266.0" r="14.2"/><circle cx="1064.1" cy="1492.4" r="14.2"/><circle cx="1067.0" cy="1380.4" r="14.2"/><circle cx="1274.2" cy="1207.6" r="14.2"/><circle cx="1072.0" cy="1414.5" r="14.2"/><circle cx="1194.8" cy="1287.4" r="14.2"/><circle cx="1024.8" cy="1565.4" r="14.2"/><circle cx="1222.9" cy="1218.3" r="14.2"/><circle cx="1002.5" cy="1515.1" r="14.2"/><circle cx="1140.6" cy="1420.1" r="14.2"/><circle cx="913.7" cy="1635.1" r="14.2"/><circle cx="1146.7" cy="1305.5" r="14.2"/><circle cx="1228.4" cy="1269.8" r="14.2"/><circle cx="977.8" cy="1540.8" r="14.2"/><circle cx="1082.1" cy="1401.3" r="14.2"/><circle cx="1203.1" cy="1282.4" r="14.2"/><circle cx="1168.9" cy="1401.0" r="14.2"/><circle cx="1092.6" cy="1389.8" r="14.2"/><circle cx="1166.0" cy="1284.7" r="14.2"/><circle cx="1128.4" cy="1331.6" r="14.2"/><circle cx="1250.1" cy="1159.5" r="14.2"/><circle cx="1088.7" cy="1413.6" r="14.2"/><circle cx="1208.7" cy="1244.0" r="14.2"/><circle cx="1159.9" cy="1254.5" r="14.2"/><circle cx="1211.5" cy="1289.0" r="14.2"/><circle cx="1108.6" cy="1297.1" r="14.2"/><circle cx="1189.0" cy="1218.1" r="14.2"/><circle cx="1193.4" cy="1261.6" r="14.2"/><circle cx="1114.3" cy="1284.4" r="14.2"/><circle cx="902.9" cy="1549.9" r="14.2"/><circle cx="1283.9" cy="1233.0" r="14.2"/><circle cx="1199.2" cy="1237.2" r="14.2"/><circle cx="1061.4" cy="1449.1" r="14.2"/><circle cx="1197.8" cy="1274.8" r="14.2"/><circle cx="1086.1" cy="1431.6" r="14.2"/><circle cx="1120.8" cy="1308.8" r="14.2"/><circle cx="1226.8" cy="1233.0" r="14.2"/><circle cx="1128.4" cy="1422.2" r="14.2"/><circle cx="1085.4" cy="1409.2" r="14.2"/><circle cx="1085.6" cy="1391.8" r="14.2"/><circle cx="964.0" cy="1592.7" r="14.2"/><circle cx="1055.4" cy="1503.8" r="14.2"/><circle cx="1086.1" cy="1464.1" r="14.2"/><circle cx="1043.1" cy="1524.9" r="14.2"/><circle cx="958.2" cy="1534.7" r="14.2"/><circle cx="1122.2" cy="1329.2" r="14.2"/><circle cx="1066.0" cy="1330.1" r="14.2"/><circle cx="1211.4" cy="1220.8" r="14.2"/><circle cx="1258.4" cy="1180.2" r="14.2"/><circle cx="1090.1" cy="1357.7" r="14.2"/><circle cx="1154.3" cy="1274.8" r="14.2"/><circle cx="1139.4" cy="1390.7" r="14.2"/><circle cx="970.4" cy="1502.4" r="14.2"/><circle cx="1010.7" cy="1496.4" r="14.2"/><circle cx="1242.6" cy="1242.6" r="14.2"/><circle cx="1131.9" cy="1405.0" r="14.2"/><circle cx="1213.7" cy="1294.4" r="14.2"/><circle cx="959.7" cy="1571.1" r="14.2"/><circle cx="1166.3" cy="1392.0" r="14.2"/><circle cx="1244.0" cy="1213.7" r="14.2"/><circle cx="1245.6" cy="1235.0" r="14.2"/><circle cx="832.5" cy="1677.3" r="14.2"/><circle cx="1139.4" cy="1351.4" r="14.2"/><circle cx="1118.6" cy="1352.5" r="14.2"/><circle cx="1212.2" cy="1299.8" r="14.2"/><circle cx="964.2" cy="1559.3" r="14.2"/><circle cx="1070.2" cy="1557.4" r="14.2"/><circle cx="1222.0" cy="1347.4" r="14.2"/><circle cx="1122.5" cy="1495.0" r="14.2"/><circle cx="1125.2" cy="1292.6" r="14.2"/><circle cx="1289.6" cy="1254.8" r="14.2"/><circle cx="1093.2" cy="1400.5" r="14.2"/><circle cx="929.9" cy="1484.7" r="14.2"/><circle cx="1116.3" cy="1426.8" r="14.2"/><circle cx="1031.5" cy="1383.4" r="14.2"/><circle cx="976.3" cy="1419.5" r="14.2"/><circle cx="1153.7" cy="1298.1" r="14.2"/><circle cx="1270.6" cy="1124.7" r="14.2"/><circle cx="1157.5" cy="1312.5" r="14.2"/><circle cx="1181.1" cy="1348.0" r="14.2"/><circle cx="1097.2" cy="1392.0" r="14.2"/><circle cx="1157.3" cy="1368.9" r="14.2"/><circle cx="1208.0" cy="1332.9" r="14.2"/><circle cx="1161.6" cy="1400.8" r="14.2"/><circle cx="1218.8" cy="1159.9" r="14.2"/><circle cx="1153.0" cy="1379.3" r="14.2"/><circle cx="1065.7" cy="1470.2" r="14.2"/><circle cx="1150.8" cy="1388.2" r="14.2"/><circle cx="1139.1" cy="1363.6" r="14.2"/><circle cx="1039.4" cy="1506.4" r="14.2"/><circle cx="1165.5" cy="1355.7" r="14.2"/><circle cx="1224.3" cy="1306.1" r="14.2"/><circle cx="1014.3" cy="1596.0" r="14.2"/><circle cx="1151.8" cy="1390.4" r="14.2"/><circle cx="1189.0" cy="1291.2" r="14.2"/><circle cx="1118.3" cy="1264.1" r="14.2"/><circle cx="1087.1" cy="1366.4" r="14.2"/><circle cx="1109.4" cy="1289.6" r="14.2"/><circle cx="1147.7" cy="1331.4" r="14.2"/><circle cx="1192.2" cy="1305.5" r="14.2"/><circle cx="1147.8" cy="1423.7" r="14.2"/><circle cx="992.8" cy="1532.0" r="14.2"/><circle cx="1223.0" cy="1342.5" r="14.2"/><circle cx="1257.5" cy="1232.0" r="14.2"/><circle cx="988.5" cy="1422.7" r="14.2"/><circle cx="1071.2" cy="1436.9" r="14.2"/><circle cx="1041.9" cy="1408.0" r="14.2"/><circle cx="1237.9" cy="1257.1" r="14.2"/><circle cx="1254.6" cy="1269.8" r="14.2"/><circle cx="929.4" cy="1604.8" r="14.2"/><circle cx="1097.6" cy="1448.0" r="14.2"/><circle cx="1049.4" cy="1394.9" r="14.2"/><circle cx="1130.1" cy="1258.3" r="14.2"/><circle cx="1255.1" cy="1248.0" r="14.2"/><circle cx="969.7" cy="1567.9" r="14.2"/><circle cx="1052.3" cy="1488.4" r="14.2"/><circle cx="1140.7" cy="1386.4" r="14.2"/><circle cx="1141.8" cy="1428.6" r="14.2"/><circle cx="1204.2" cy="1281.5" r="14.2"/><circle cx="1122.1" cy="1370.0" r="14.2"/><circle cx="1022.9" cy="1478.8" r="14.2"/><circle cx="1104.1" cy="1482.7" r="14.2"/><circle cx="1296.1" cy="1203.7" r="14.2"/><circle cx="1201.4" cy="1358.7" r="14.2"/><circle cx="1004.4" cy="1458.8" r="14.2"/><circle cx="1221.6" cy="1302.1" r="14.2"/><circle cx="1084.6" cy="1458.5" r="14.2"/><circle cx="1212.8" cy="1292.4" r="14.2"/><circle cx="863.4" cy="1675.3" r="14.2"/><circle cx="1252.2" cy="1261.0" r="14.2"/><circle cx="1034.4" cy="1598.1" r="14.2"/><circle cx="1129.9" cy="1273.4" r="14.2"/><circle cx="1185.9" cy="1296.1" r="14.2"/><circle cx="1133.6" cy="1361.4" r="14.2"/><circle cx="1034.0" cy="1345.1" r="14.2"/><circle cx="1015.5" cy="1519.0" r="14.2"/><circle cx="1090.4" cy="1396.4" r="14.2"/><circle cx="936.0" cy="1571.6" r="14.2"/><circle cx="1063.0" cy="1382.5" r="14.2"/><circle cx="1017.4" cy="1475.3" r="14.2"/><circle cx="1128.5" cy="1364.6" r="14.2"/><circle cx="1102.2" cy="1433.5" r="14.2"/><circle cx="1158.6" cy="1329.0" r="14.2"/><circle cx="1091.4" cy="1352.6" r="14.2"/><circle cx="912.0" cy="1703.4" r="14.2"/><circle cx="1102.3" cy="1426.4" r="14.2"/><circle cx="1202.3" cy="1304.8" r="14.2"/><circle cx="1067.7" cy="1482.5" r="14.2"/><circle cx="1116.0" cy="1505.3" r="14.2"/><circle cx="1212.0" cy="1240.7" r="14.2"/><circle cx="1116.4" cy="1445.2" r="14.2"/><circle cx="1246.9" cy="1239.4" r="14.2"/><circle cx="1261.7" cy="1235.5" r="14.2"/><circle cx="1089.5" cy="1529.7" r="14.2"/><circle cx="1194.2" cy="1316.8" r="14.2"/><circle cx="1071.3" cy="1567.6" r="14.2"/><circle cx="1024.4" cy="1559.0" r="14.2"/><circle cx="1124.7" cy="1406.0" r="14.2"/><circle cx="1171.9" cy="1327.7" r="14.2"/><circle cx="1277.3" cy="1208.5" r="14.2"/><circle cx="1036.9" cy="1501.4" r="14.2"/><circle cx="1197.7" cy="1187.4" r="14.2"/><circle cx="1133.0" cy="1351.3" r="14.2"/><circle cx="1026.2" cy="1573.4" r="14.2"/><circle cx="1300.1" cy="1213.9" r="14.2"/><circle cx="1191.6" cy="1328.7" r="14.2"/><circle cx="1022.8" cy="1516.5" r="14.2"/><circle cx="1266.2" cy="1235.8" r="14.2"/><circle cx="994.7" cy="1577.9" r="14.2"/><circle cx="986.6" cy="1421.7" r="14.2"/><circle cx="1093.6" cy="1427.2" r="14.2"/><circle cx="1272.9" cy="1223.4" r="14.2"/><circle cx="916.7" cy="1603.9" r="14.2"/><circle cx="1265.2" cy="1224.2" r="14.2"/><circle cx="1164.9" cy="1258.6" r="14.2"/><circle cx="966.5" cy="1517.6" r="14.2"/><circle cx="1153.4" cy="1286.2" r="14.2"/><circle cx="1121.1" cy="1556.6" r="14.2"/><circle cx="1146.5" cy="1341.2" r="14.2"/><circle cx="1193.5" cy="1245.8" r="14.2"/><circle cx="1179.9" cy="1212.4" r="14.2"/><circle cx="1358.3" cy="1154.5" r="14.2"/><circle cx="1028.8" cy="1599.6" r="14.2"/><circle cx="1224.6" cy="1232.3" r="14.2"/><circle cx="1110.1" cy="1441.0" r="14.2"/><circle cx="1220.5" cy="1332.3" r="14.2"/><circle cx="1249.4" cy="1249.5" r="14.2"/><circle cx="1322.0" cy="1155.8" r="14.2"/><circle cx="1079.0" cy="1363.5" r="14.2"/><circle cx="1132.6" cy="1333.7" r="14.2"/><circle cx="1279.6" cy="1239.9" r="14.2"/><circle cx="1266.7" cy="1117.7" r="14.2"/><circle cx="1115.0" cy="1464.0" r="14.2"/><circle cx="1275.6" cy="1213.9" r="14.2"/><circle cx="1118.2" cy="1473.8" r="14.2"/><circle cx="1109.1" cy="1322.0" r="14.2"/><circle cx="1201.6" cy="1266.8" r="14.2"/><circle cx="1130.6" cy="1325.4" r="14.2"/><circle cx="1123.3" cy="1385.2" r="14.2"/><circle cx="1107.3" cy="1416.1" r="14.2"/><circle cx="1121.0" cy="1382.6" r="14.2"/><circle cx="1021.6" cy="1615.3" r="14.2"/><circle cx="953.4" cy="1493.2" r="14.2"/><circle cx="1209.9" cy="1234.1" r="14.2"/><circle cx="1157.3" cy="1364.9" r="14.2"/><circle cx="1173.2" cy="1326.0" r="14.2"/><circle cx="1225.7" cy="1244.1" r="14.2"/><circle cx="1078.1" cy="1337.9" r="14.2"/><circle cx="1078.9" cy="1418.3" r="14.2"/><circle cx="1090.0" cy="1431.5" r="14.2"/><circle cx="1084.9" cy="1470.6" r="14.2"/><circle cx="1203.2" cy="1346.1" r="14.2"/><circle cx="1118.6" cy="1428.5" r="14.2"/><circle cx="1098.7" cy="1418.1" r="14.2"/><circle cx="1166.4" cy="1346.0" r="14.2"/><circle cx="1049.0" cy="1475.7" r="14.2"/><circle cx="995.5" cy="1476.4" r="14.2"/><circle cx="1195.8" cy="1274.0" r="14.2"/><circle cx="1208.2" cy="1266.6" r="14.2"/><circle cx="1086.5" cy="1392.7" r="14.2"/><circle cx="1170.1" cy="1319.0" r="14.2"/><circle cx="911.5" cy="1596.4" r="14.2"/><circle cx="1110.0" cy="1376.8" r="14.2"/><circle cx="1158.6" cy="1424.2" r="14.2"/><circle cx="1077.7" cy="1360.6" r="14.2"/><circle cx="1102.7" cy="1488.1" r="14.2"/><circle cx="1162.1" cy="1292.2" r="14.2"/><circle cx="1160.5" cy="1341.0" r="14.2"/><circle cx="1038.7" cy="1410.5" r="14.2"/><circle cx="1199.1" cy="1289.6" r="14.2"/><circle cx="976.6" cy="1593.7" r="14.2"/><circle cx="1288.4" cy="1167.3" r="14.2"/><circle cx="1053.3" cy="1463.4" r="14.2"/><circle cx="1071.7" cy="1449.4" r="14.2"/><circle cx="1062.5" cy="1462.5" r="14.2"/><circle cx="1324.9" cy="1155.0" r="14.2"/><circle cx="1090.5" cy="1376.3" r="14.2"/><circle cx="1172.0" cy="1313.8" r="14.2"/><circle cx="1308.5" cy="1230.3" r="14.2"/><circle cx="1275.8" cy="1223.1" r="14.2"/><circle cx="924.6" cy="1575.2" r="14.2"/><circle cx="1135.5" cy="1262.8" r="14.2"/><circle cx="1164.5" cy="1314.5" r="14.2"/><circle cx="1193.0" cy="1303.2" r="14.2"/><circle cx="1105.1" cy="1333.6" r="14.2"/><circle cx="1103.3" cy="1422.9" r="14.2"/><circle cx="812.8" cy="1705.3" r="14.2"/><circle cx="907.0" cy="1587.8" r="14.2"/><circle cx="1159.8" cy="1411.5" r="14.2"/><circle cx="967.0" cy="1483.7" r="14.2"/><circle cx="1061.2" cy="1438.1" r="14.2"/><circle cx="1097.8" cy="1439.6" r="14.2"/><circle cx="970.7" cy="1607.9" r="14.2"/><circle cx="900.3" cy="1590.2" r="14.2"/><circle cx="1261.2" cy="1161.9" r="14.2"/><circle cx="1123.1" cy="1423.9" r="14.2"/><circle cx="1063.4" cy="1530.3" r="14.2"/><circle cx="1189.4" cy="1281.9" r="14.2"/><circle cx="841.3" cy="1752.6" r="14.2"/><circle cx="1074.4" cy="1583.4" r="14.2"/><circle cx="1291.1" cy="1214.7" r="14.2"/><circle cx="1257.2" cy="1243.8" r="14.2"/><circle cx="1163.9" cy="1349.8" r="14.2"/><circle cx="988.3" cy="1563.9" r="14.2"/><circle cx="1087.8" cy="1413.0" r="14.2"/><circle cx="903.1" cy="1613.5" r="14.2"/><circle cx="1054.7" cy="1510.8" r="14.2"/><circle cx="886.6" cy="1640.9" r="14.2"/><circle cx="1006.9" cy="1474.2" r="14.2"/><circle cx="1161.3" cy="1285.6" r="14.2"/><circle cx="993.4" cy="1466.0" r="14.2"/><circle cx="1030.0" cy="1447.6" r="14.2"/><circle cx="1256.0" cy="1331.6" r="14.2"/><circle cx="1106.3" cy="1466.7" r="14.2"/><circle cx="1094.3" cy="1445.8" r="14.2"/><circle cx="977.5" cy="1526.1" r="14.2"/><circle cx="1221.5" cy="1323.4" r="14.2"/><circle cx="1178.6" cy="1241.6" r="14.2"/><circle cx="1146.7" cy="1340.8" r="14.2"/><circle cx="1171.4" cy="1354.6" r="14.2"/><circle cx="989.5" cy="1520.2" r="14.2"/><circle cx="1071.9" cy="1477.9" r="14.2"/><circle cx="1158.6" cy="1379.0" r="14.2"/><circle cx="1279.6" cy="1190.0" r="14.2"/><circle cx="1225.5" cy="1274.6" r="14.2"/><circle cx="1178.7" cy="1378.1" r="14.2"/><circle cx="1143.1" cy="1395.2" r="14.2"/><circle cx="864.1" cy="1648.4" r="14.2"/><circle cx="1242.6" cy="1273.9" r="14.2"/><circle cx="972.5" cy="1458.3" r="14.2"/><circle cx="1014.4" cy="1574.6" r="14.2"/><circle cx="1195.3" cy="1207.4" r="14.2"/><circle cx="1216.4" cy="1226.4" r="14.2"/><circle cx="1216.1" cy="1305.4" r="14.2"/><circle cx="1121.6" cy="1383.2" r="14.2"/><circle cx="1052.3" cy="1390.9" r="14.2"/><circle cx="907.9" cy="1607.3" r="14.2"/><circle cx="1238.8" cy="1283.1" r="14.2"/><circle cx="1295.6" cy="1196.0" r="14.2"/><circle cx="1070.8" cy="1313.5" r="14.2"/><circle cx="1242.8" cy="1287.9" r="14.2"/><circle cx="1119.6" cy="1358.1" r="14.2"/><circle cx="1081.0" cy="1443.9" r="14.2"/><circle cx="1144.7" cy="1367.8" r="14.2"/><circle cx="843.5" cy="1687.4" r="14.2"/><circle cx="1132.5" cy="1394.0" r="14.2"/><circle cx="1063.1" cy="1390.7" r="14.2"/><circle cx="1190.1" cy="1271.5" r="14.2"/><circle cx="1140.0" cy="1417.1" r="14.2"/><circle cx="1242.1" cy="1167.6" r="14.2"/><circle cx="1245.4" cy="1277.3" r="14.2"/><circle cx="1080.1" cy="1398.4" r="14.2"/><circle cx="1088.9" cy="1421.2" r="14.2"/><circle cx="1274.6" cy="1165.9" r="14.2"/><circle cx="1136.8" cy="1349.3" r="14.2"/><circle cx="986.5" cy="1460.2" r="14.2"/><circle cx="945.4" cy="1563.9" r="14.2"/><circle cx="1308.4" cy="1163.8" r="14.2"/><circle cx="1150.9" cy="1332.6" r="14.2"/><circle cx="933.2" cy="1433.5" r="14.2"/><circle cx="1138.3" cy="1404.5" r="14.2"/><circle cx="1138.5" cy="1295.6" r="14.2"/><circle cx="1126.9" cy="1354.5" r="14.2"/><circle cx="1271.0" cy="1205.7" r="14.2"/><circle cx="1270.0" cy="1231.0" r="14.2"/><circle cx="1010.1" cy="1483.0" r="14.2"/><circle cx="1030.1" cy="1582.3" r="14.2"/><circle cx="1110.9" cy="1478.8" r="14.2"/><circle cx="1233.2" cy="1214.9" r="14.2"/><circle cx="1163.5" cy="1407.4" r="14.2"/><circle cx="1196.3" cy="1221.9" r="14.2"/><circle cx="1147.6" cy="1370.9" r="14.2"/><circle cx="1057.4" cy="1453.1" r="14.2"/><circle cx="1218.9" cy="1261.4" r="14.2"/><circle cx="856.2" cy="1623.4" r="14.2"/><circle cx="1197.8" cy="1303.6" r="14.2"/><circle cx="1057.8" cy="1493.4" r="14.2"/><circle cx="1125.4" cy="1393.2" r="14.2"/><circle cx="1299.6" cy="1164.0" r="14.2"/><circle cx="1157.6" cy="1278.7" r="14.2"/><circle cx="949.2" cy="1475.9" r="14.2"/><circle cx="1130.9" cy="1355.7" r="14.2"/><circle cx="1185.9" cy="1316.1" r="14.2"/><circle cx="949.8" cy="1648.3" r="14.2"/><circle cx="1068.7" cy="1413.0" r="14.2"/><circle cx="876.7" cy="1570.9" r="14.2"/><circle cx="1150.7" cy="1372.8" r="14.2"/><circle cx="1109.5" cy="1352.9" r="14.2"/><circle cx="1134.2" cy="1294.0" r="14.2"/><circle cx="1088.0" cy="1428.1" r="14.2"/><circle cx="1185.7" cy="1252.4" r="14.2"/><circle cx="1051.5" cy="1454.1" r="14.2"/><circle cx="1261.2" cy="1274.4" r="14.2"/><circle cx="1285.9" cy="1218.1" r="14.2"/><circle cx="1146.2" cy="1379.2" r="14.2"/><circle cx="1128.6" cy="1347.9" r="14.2"/><circle cx="1239.4" cy="1270.1" r="14.2"/><circle cx="1088.9" cy="1459.0" r="14.2"/><circle cx="1222.6" cy="1296.8" r="14.2"/><circle cx="1089.1" cy="1435.8" r="14.2"/><circle cx="1188.2" cy="1300.2" r="14.2"/><circle cx="1096.5" cy="1356.7" r="14.2"/><circle cx="1160.7" cy="1294.3" r="14.2"/><circle cx="1265.8" cy="1208.6" r="14.2"/><circle cx="946.2" cy="1545.6" r="14.2"/><circle cx="1221.3" cy="1256.7" r="14.2"/><circle cx="1148.6" cy="1348.8" r="14.2"/><circle cx="1108.1" cy="1305.1" r="14.2"/><circle cx="1099.1" cy="1557.3" r="14.2"/><circle cx="964.8" cy="1558.4" r="14.2"/><circle cx="1069.0" cy="1436.6" r="14.2"/><circle cx="1161.0" cy="1275.0" r="14.2"/><circle cx="994.9" cy="1588.6" r="14.2"/><circle cx="1183.8" cy="1291.5" r="14.2"/><circle cx="1280.9" cy="1176.1" r="14.2"/><circle cx="1297.5" cy="1210.2" r="14.2"/><circle cx="1244.0" cy="1300.4" r="14.2"/><circle cx="1220.5" cy="1277.0" r="14.2"/><circle cx="1047.8" cy="1550.9" r="14.2"/><circle cx="1285.5" cy="1181.9" r="14.2"/><circle cx="1064.6" cy="1515.6" r="14.2"/><circle cx="1245.2" cy="1154.3" r="14.2"/><circle cx="1244.0" cy="1226.8" r="14.2"/><circle cx="1170.1" cy="1363.8" r="14.2"/><circle cx="1144.4" cy="1386.3" r="14.2"/><circle cx="1064.8" cy="1529.6" r="14.2"/><circle cx="1135.4" cy="1348.5" r="14.2"/><circle cx="1082.4" cy="1336.3" r="14.2"/><circle cx="1005.8" cy="1531.6" r="14.2"/><circle cx="1025.9" cy="1433.8" r="14.2"/><circle cx="1221.5" cy="1297.4" r="14.2"/><circle cx="1261.6" cy="1204.8" r="14.2"/><circle cx="1017.4" cy="1343.9" r="14.2"/><circle cx="866.0" cy="1712.1" r="14.2"/><circle cx="1068.8" cy="1369.7" r="14.2"/><circle cx="1020.5" cy="1421.3" r="14.2"/><circle cx="1048.7" cy="1589.6" r="14.2"/><circle cx="1157.3" cy="1411.3" r="14.2"/><circle cx="1130.7" cy="1429.2" r="14.2"/><circle cx="1125.0" cy="1324.2" r="14.2"/><circle cx="1056.7" cy="1497.9" r="14.2"/><circle cx="1186.3" cy="1314.1" r="14.2"/><circle cx="1087.1" cy="1386.2" r="14.2"/><circle cx="1110.2" cy="1397.7" r="14.2"/><circle cx="1121.7" cy="1376.1" r="14.2"/><circle cx="1264.0" cy="1226.8" r="14.2"/><circle cx="1077.7" cy="1367.6" r="14.2"/><circle cx="1194.2" cy="1328.4" r="14.2"/><circle cx="1084.9" cy="1320.8" r="14.2"/><circle cx="1248.8" cy="1239.2" r="14.2"/><circle cx="1119.5" cy="1436.0" r="14.2"/><circle cx="1140.9" cy="1326.2" r="14.2"/><circle cx="1250.5" cy="1205.6" r="14.2"/><circle cx="1185.0" cy="1391.5" r="14.2"/><circle cx="996.4" cy="1510.0" r="14.2"/><circle cx="1019.5" cy="1584.2" r="14.2"/><circle cx="1309.1" cy="1212.2" r="14.2"/><circle cx="902.2" cy="1550.0" r="14.2"/><circle cx="1090.9" cy="1480.2" r="14.2"/><circle cx="1292.9" cy="1189.0" r="14.2"/><circle cx="854.8" cy="1672.7" r="14.2"/><circle cx="1027.9" cy="1360.0" r="14.2"/><circle cx="1061.5" cy="1474.2" r="14.2"/><circle cx="984.0" cy="1600.3" r="14.2"/><circle cx="1120.8" cy="1450.3" r="14.2"/><circle cx="1168.1" cy="1371.5" r="14.2"/><circle cx="1083.3" cy="1432.1" r="14.2"/><circle cx="1013.0" cy="1512.4" r="14.2"/><circle cx="1218.1" cy="1220.6" r="14.2"/><circle cx="1214.4" cy="1263.0" r="14.2"/><circle cx="1157.0" cy="1337.6" r="14.2"/><circle cx="1017.0" cy="1485.6" r="14.2"/><circle cx="1152.1" cy="1358.3" r="14.2"/><circle cx="1161.6" cy="1322.5" r="14.2"/><circle cx="1124.2" cy="1337.6" r="14.2"/><circle cx="1241.7" cy="1202.0" r="14.2"/><circle cx="1109.9" cy="1436.6" r="14.2"/><circle cx="1140.9" cy="1453.5" r="14.2"/><circle cx="1003.6" cy="1567.6" r="14.2"/><circle cx="1155.4" cy="1330.9" r="14.2"/><circle cx="1211.9" cy="1370.5" r="14.2"/><circle cx="1194.3" cy="1316.5" r="14.2"/><circle cx="1066.8" cy="1430.4" r="14.2"/><circle cx="1332.9" cy="1186.7" r="14.2"/><circle cx="1189.2" cy="1349.7" r="14.2"/><circle cx="1124.4" cy="1275.4" r="14.2"/><circle cx="1113.5" cy="1311.1" r="14.2"/><circle cx="1208.2" cy="1289.8" r="14.2"/><circle cx="1044.3" cy="1388.5" r="14.2"/><circle cx="1179.1" cy="1247.6" r="14.2"/><circle cx="1194.9" cy="1342.2" r="14.2"/><circle cx="1139.3" cy="1204.4" r="14.2"/><circle cx="1243.7" cy="1267.3" r="14.2"/><circle cx="1125.3" cy="1401.3" r="14.2"/><circle cx="1124.9" cy="1444.6" r="14.2"/><circle cx="1083.7" cy="1436.1" r="14.2"/><circle cx="1261.3" cy="1261.2" r="14.2"/><circle cx="1086.6" cy="1438.3" r="14.2"/><circle cx="1192.1" cy="1245.1" r="14.2"/><circle cx="1115.9" cy="1385.5" r="14.2"/><circle cx="1277.5" cy="1217.8" r="14.2"/><circle cx="1275.3" cy="1153.4" r="14.2"/><circle cx="897.4" cy="1654.0" r="14.2"/><circle cx="1345.9" cy="1142.1" r="14.2"/><circle cx="1161.2" cy="1354.7" r="14.2"/><circle cx="970.4" cy="1531.0" r="14.2"/><circle cx="1138.8" cy="1367.8" r="14.2"/><circle cx="938.2" cy="1561.2" r="14.2"/><circle cx="1157.8" cy="1348.0" r="14.2"/><circle cx="1048.5" cy="1527.4" r="14.2"/><circle cx="1119.5" cy="1425.5" r="14.2"/><circle cx="1091.5" cy="1401.3" r="14.2"/><circle cx="1161.4" cy="1345.8" r="14.2"/><circle cx="1220.0" cy="1308.9" r="14.2"/><circle cx="1276.9" cy="1231.4" r="14.2"/><circle cx="1094.2" cy="1467.5" r="14.2"/><circle cx="1153.7" cy="1353.6" r="14.2"/><circle cx="839.4" cy="1661.4" r="14.2"/><circle cx="1109.6" cy="1402.4" r="14.2"/><circle cx="1281.6" cy="1226.9" r="14.2"/><circle cx="1003.5" cy="1521.3" r="14.2"/><circle cx="1244.6" cy="1281.8" r="14.2"/><circle cx="1177.0" cy="1444.8" r="14.2"/><circle cx="1085.5" cy="1444.0" r="14.2"/><circle cx="1211.0" cy="1340.7" r="14.2"/><circle cx="1086.7" cy="1492.9" r="14.2"/><circle cx="1247.8" cy="1271.7" r="14.2"/><circle cx="974.4" cy="1501.2" r="14.2"/><circle cx="1000.5" cy="1593.9" r="14.2"/><circle cx="1212.6" cy="1261.6" r="14.2"/><circle cx="1124.4" cy="1415.3" r="14.2"/><circle cx="1039.0" cy="1563.1" r="14.2"/><circle cx="1137.6" cy="1450.9" r="14.2"/><circle cx="1088.3" cy="1405.2" r="14.2"/><circle cx="1155.3" cy="1327.0" r="14.2"/><circle cx="1201.1" cy="1251.6" r="14.2"/><circle cx="1227.6" cy="1172.4" r="14.2"/><circle cx="952.2" cy="1542.5" r="14.2"/><circle cx="1161.6" cy="1325.6" r="14.2"/><circle cx="1297.3" cy="1203.4" r="14.2"/><circle cx="1122.4" cy="1386.3" r="14.2"/><circle cx="1204.1" cy="1300.3" r="14.2"/><circle cx="992.4" cy="1582.2" r="14.2"/><circle cx="1244.1" cy="1148.6" r="14.2"/><circle cx="1151.0" cy="1444.1" r="14.2"/><circle cx="1246.4" cy="1221.5" r="14.2"/><circle cx="1222.4" cy="1242.6" r="14.2"/><circle cx="1240.5" cy="1233.4" r="14.2"/><circle cx="959.6" cy="1607.4" r="14.2"/><circle cx="1192.3" cy="1309.6" r="14.2"/><circle cx="1065.4" cy="1495.7" r="14.2"/><circle cx="1066.5" cy="1530.9" r="14.2"/><circle cx="1093.9" cy="1434.2" r="14.2"/><circle cx="1161.2" cy="1361.6" r="14.2"/><circle cx="1172.0" cy="1352.9" r="14.2"/><circle cx="1272.2" cy="1188.4" r="14.2"/><circle cx="864.1" cy="1700.1" r="14.2"/><circle cx="1049.0" cy="1452.0" r="14.2"/><circle cx="1094.3" cy="1465.3" r="14.2"/><circle cx="1218.1" cy="1249.2" r="14.2"/><circle cx="1150.9" cy="1352.7" r="14.2"/><circle cx="1139.2" cy="1357.6" r="14.2"/><circle cx="1210.0" cy="1317.7" r="14.2"/><circle cx="1174.3" cy="1359.8" r="14.2"/><circle cx="1092.1" cy="1482.2" r="14.2"/><circle cx="979.3" cy="1531.1" r="14.2"/><circle cx="1124.7" cy="1343.9" r="14.2"/><circle cx="1249.3" cy="1183.6" r="14.2"/><circle cx="1163.5" cy="1363.1" r="14.2"/><circle cx="942.4" cy="1563.8" r="14.2"/><circle cx="1125.4" cy="1474.0" r="14.2"/><circle cx="1112.8" cy="1524.9" r="14.2"/><circle cx="1149.0" cy="1400.9" r="14.2"/><circle cx="1149.2" cy="1391.2" r="14.2"/><circle cx="1278.2" cy="1257.0" r="14.2"/><circle cx="1100.8" cy="1520.4" r="14.2"/><circle cx="1112.1" cy="1373.6" r="14.2"/><circle cx="1170.2" cy="1367.4" r="14.2"/><circle cx="1252.1" cy="1283.4" r="14.2"/><circle cx="1188.7" cy="1189.2" r="14.2"/><circle cx="1133.1" cy="1370.5" r="14.2"/><circle cx="1213.4" cy="1288.1" r="14.2"/><circle cx="1141.4" cy="1329.3" r="14.2"/><circle cx="1283.5" cy="1230.3" r="14.2"/><circle cx="1083.1" cy="1335.6" r="14.2"/><circle cx="1019.6" cy="1600.0" r="14.2"/><circle cx="1234.7" cy="1295.8" r="14.2"/><circle cx="1085.6" cy="1452.0" r="14.2"/><circle cx="1236.1" cy="1274.4" r="14.2"/><circle cx="1172.5" cy="1253.0" r="14.2"/><circle cx="1135.4" cy="1458.2" r="14.2"/><circle cx="976.1" cy="1586.1" r="14.2"/><circle cx="1221.4" cy="1255.3" r="14.2"/><circle cx="951.7" cy="1527.2" r="14.2"/><circle cx="1284.2" cy="1173.8" r="14.2"/><circle cx="1246.7" cy="1219.3" r="14.2"/><circle cx="1089.1" cy="1287.3" r="14.2"/><circle cx="1025.1" cy="1534.9" r="14.2"/><circle cx="1252.5" cy="1219.3" r="14.2"/><circle cx="1144.1" cy="1316.3" r="14.2"/><circle cx="1004.3" cy="1544.7" r="14.2"/><circle cx="1145.0" cy="1380.5" r="14.2"/><circle cx="1075.9" cy="1484.6" r="14.2"/><circle cx="1108.8" cy="1448.7" r="14.2"/><circle cx="1185.9" cy="1359.0" r="14.2"/><circle cx="1256.6" cy="1242.7" r="14.2"/><circle cx="1222.4" cy="1322.9" r="14.2"/><circle cx="1035.6" cy="1471.9" r="14.2"/><circle cx="1131.9" cy="1464.0" r="14.2"/><circle cx="1142.1" cy="1246.1" r="14.2"/><circle cx="1319.8" cy="1141.8" r="14.2"/><circle cx="973.8" cy="1474.9" r="14.2"/><circle cx="1133.7" cy="1392.3" r="14.2"/><circle cx="1255.9" cy="1244.4" r="14.2"/><circle cx="1114.1" cy="1328.0" r="14.2"/><circle cx="1072.1" cy="1451.0" r="14.2"/><circle cx="1147.6" cy="1330.7" r="14.2"/><circle cx="1095.8" cy="1471.7" r="14.2"/><circle cx="1261.0" cy="1179.5" r="14.2"/><circle cx="978.3" cy="1589.6" r="14.2"/><circle cx="1063.2" cy="1466.8" r="14.2"/><circle cx="979.2" cy="1639.9" r="14.2"/><circle cx="1198.3" cy="1322.7" r="14.2"/><circle cx="1089.9" cy="1406.0" r="14.2"/><circle cx="1259.9" cy="1237.5" r="14.2"/><circle cx="1244.7" cy="1252.6" r="14.2"/><circle cx="1269.5" cy="1187.6" r="14.2"/><circle cx="1070.3" cy="1470.4" r="14.2"/><circle cx="804.1" cy="1642.2" r="14.2"/><circle cx="1111.3" cy="1540.0" r="14.2"/><circle cx="1282.4" cy="1190.6" r="14.2"/><circle cx="1206.2" cy="1262.5" r="14.2"/><circle cx="947.7" cy="1648.7" r="14.2"/><circle cx="1198.2" cy="1348.6" r="14.2"/><circle cx="1260.7" cy="1187.5" r="14.2"/><circle cx="1281.3" cy="1241.6" r="14.2"/><circle cx="1190.9" cy="1332.1" r="14.2"/><circle cx="1243.4" cy="1213.4" r="14.2"/><circle cx="1228.7" cy="1269.9" r="14.2"/><circle cx="1099.5" cy="1396.0" r="14.2"/><circle cx="988.8" cy="1587.0" r="14.2"/><circle cx="1188.6" cy="1294.8" r="14.2"/><circle cx="1022.4" cy="1435.5" r="14.2"/><circle cx="1112.2" cy="1390.1" r="14.2"/><circle cx="1342.4" cy="1211.6" r="14.2"/><circle cx="1152.8" cy="1319.6" r="14.2"/><circle cx="1139.9" cy="1371.2" r="14.2"/><circle cx="1270.8" cy="1244.6" r="14.2"/><circle cx="1085.4" cy="1349.5" r="14.2"/><circle cx="1393.2" cy="1147.2" r="14.2"/><circle cx="1257.9" cy="1147.8" r="14.2"/><circle cx="1117.5" cy="1436.9" r="14.2"/><circle cx="1096.4" cy="1325.1" r="14.2"/><circle cx="1015.9" cy="1520.1" r="14.2"/><circle cx="1257.9" cy="1267.9" r="14.2"/><circle cx="1050.2" cy="1480.2" r="14.2"/><circle cx="850.8" cy="1644.1" r="14.2"/><circle cx="1247.5" cy="1211.0" r="14.2"/><circle cx="1164.7" cy="1282.6" r="14.2"/><circle cx="1181.9" cy="1356.1" r="14.2"/><circle cx="1197.6" cy="1273.9" r="14.2"/><circle cx="922.8" cy="1542.9" r="14.2"/><circle cx="995.2" cy="1549.7" r="14.2"/><circle cx="1142.6" cy="1415.9" r="14.2"/><circle cx="938.1" cy="1625.5" r="14.2"/><circle cx="1135.1" cy="1334.9" r="14.2"/><circle cx="1194.7" cy="1262.2" r="14.2"/><circle cx="1176.0" cy="1361.9" r="14.2"/><circle cx="1164.8" cy="1401.2" r="14.2"/><circle cx="940.2" cy="1494.7" r="14.2"/><circle cx="1079.3" cy="1543.3" r="14.2"/><circle cx="1255.3" cy="1219.5" r="14.2"/><circle cx="1000.6" cy="1576.0" r="14.2"/><circle cx="1153.7" cy="1437.8" r="14.2"/><circle cx="945.5" cy="1562.4" r="14.2"/><circle cx="1267.3" cy="1224.9" r="14.2"/><circle cx="1048.3" cy="1385.1" r="14.2"/><circle cx="1106.8" cy="1267.5" r="14.2"/><circle cx="1153.9" cy="1364.5" r="14.2"/><circle cx="1188.1" cy="1258.4" r="14.2"/><circle cx="1275.5" cy="1176.2" r="14.2"/><circle cx="1191.4" cy="1327.1" r="14.2"/><circle cx="1101.8" cy="1471.7" r="14.2"/><circle cx="963.1" cy="1451.1" r="14.2"/><circle cx="1187.6" cy="1325.9" r="14.2"/><circle cx="1295.8" cy="1203.7" r="14.2"/><circle cx="869.8" cy="1656.6" r="14.2"/><circle cx="1202.1" cy="1297.3" r="14.2"/><circle cx="1042.4" cy="1528.5" r="14.2"/><circle cx="1127.1" cy="1344.5" r="14.2"/><circle cx="1139.0" cy="1299.5" r="14.2"/><circle cx="1170.9" cy="1349.5" r="14.2"/><circle cx="1313.4" cy="1224.7" r="14.2"/><circle cx="1193.8" cy="1300.8" r="14.2"/><circle cx="1115.9" cy="1483.9" r="14.2"/><circle cx="1198.0" cy="1322.9" r="14.2"/><circle cx="1127.6" cy="1313.4" r="14.2"/><circle cx="1106.9" cy="1264.2" r="14.2"/><circle cx="1112.6" cy="1386.5" r="14.2"/><circle cx="1133.6" cy="1435.8" r="14.2"/><circle cx="1087.8" cy="1389.8" r="14.2"/><circle cx="1067.3" cy="1602.1" r="14.2"/><circle cx="1033.6" cy="1541.5" r="14.2"/><circle cx="1121.8" cy="1301.2" r="14.2"/><circle cx="1091.2" cy="1388.2" r="14.2"/><circle cx="1227.9" cy="1309.4" r="14.2"/><circle cx="1235.4" cy="1308.7" r="14.2"/><circle cx="1102.5" cy="1367.1" r="14.2"/><circle cx="1163.5" cy="1345.0" r="14.2"/><circle cx="1261.2" cy="1241.5" r="14.2"/><circle cx="1097.5" cy="1403.2" r="14.2"/><circle cx="1150.0" cy="1388.0" r="14.2"/><circle cx="1123.3" cy="1495.1" r="14.2"/><circle cx="1173.4" cy="1286.6" r="14.2"/><circle cx="1289.0" cy="1224.5" r="14.2"/><circle cx="1014.0" cy="1576.4" r="14.2"/><circle cx="1282.6" cy="1248.3" r="14.2"/><circle cx="1174.4" cy="1315.6" r="14.2"/><circle cx="1224.0" cy="1293.7" r="14.2"/><circle cx="1166.9" cy="1304.4" r="14.2"/><circle cx="1246.2" cy="1244.7" r="14.2"/><circle cx="1100.9" cy="1353.8" r="14.2"/><circle cx="1197.3" cy="1313.6" r="14.2"/><circle cx="1074.7" cy="1498.4" r="14.2"/><circle cx="1140.0" cy="1470.4" r="14.2"/><circle cx="1177.4" cy="1371.4" r="14.2"/><circle cx="1060.0" cy="1426.0" r="14.2"/><circle cx="959.4" cy="1358.8" r="14.2"/><circle cx="1220.9" cy="1314.7" r="14.2"/><circle cx="1219.6" cy="1308.4" r="14.2"/><circle cx="1185.1" cy="1297.4" r="14.2"/><circle cx="1093.8" cy="1403.4" r="14.2"/><circle cx="1174.1" cy="1358.2" r="14.2"/><circle cx="983.5" cy="1538.3" r="14.2"/><circle cx="1185.8" cy="1379.8" r="14.2"/><circle cx="1147.2" cy="1378.8" r="14.2"/><circle cx="1160.2" cy="1296.8" r="14.2"/><circle cx="1119.9" cy="1296.0" r="14.2"/><circle cx="1060.8" cy="1486.6" r="14.2"/><circle cx="1188.4" cy="1320.4" r="14.2"/><circle cx="1127.3" cy="1363.0" r="14.2"/><circle cx="1208.8" cy="1230.8" r="14.2"/><circle cx="1106.7" cy="1386.6" r="14.2"/><circle cx="984.6" cy="1583.4" r="14.2"/><circle cx="1149.9" cy="1340.6" r="14.2"/><circle cx="1167.3" cy="1285.0" r="14.2"/><circle cx="1258.0" cy="1247.5" r="14.2"/><circle cx="1244.5" cy="1283.9" r="14.2"/><circle cx="951.6" cy="1532.8" r="14.2"/><circle cx="1200.0" cy="1277.3" r="14.2"/><circle cx="1072.1" cy="1395.2" r="14.2"/><circle cx="1190.1" cy="1303.5" r="14.2"/><circle cx="1111.2" cy="1446.3" r="14.2"/><circle cx="1095.3" cy="1457.4" r="14.2"/><circle cx="1137.6" cy="1427.8" r="14.2"/><circle cx="1142.5" cy="1416.5" r="14.2"/><circle cx="1199.7" cy="1317.3" r="14.2"/><circle cx="1162.5" cy="1365.9" r="14.2"/><circle cx="1184.8" cy="1257.4" r="14.2"/><circle cx="1114.7" cy="1472.0" r="14.2"/><circle cx="1174.6" cy="1330.1" r="14.2"/><circle cx="1093.3" cy="1468.4" r="14.2"/><circle cx="1171.7" cy="1251.5" r="14.2"/><circle cx="1122.9" cy="1380.4" r="14.2"/><circle cx="1147.9" cy="1381.1" r="14.2"/><circle cx="874.9" cy="1583.2" r="14.2"/><circle cx="1142.6" cy="1367.0" r="14.2"/><circle cx="1065.0" cy="1500.5" r="14.2"/><circle cx="1113.1" cy="1309.4" r="14.2"/><circle cx="963.8" cy="1509.9" r="14.2"/><circle cx="1177.5" cy="1232.6" r="14.2"/><circle cx="1242.7" cy="1189.9" r="14.2"/><circle cx="1101.6" cy="1373.1" r="14.2"/><circle cx="998.9" cy="1523.1" r="14.2"/><circle cx="1161.0" cy="1395.1" r="14.2"/><circle cx="1018.2" cy="1465.7" r="14.2"/><circle cx="1244.7" cy="1234.4" r="14.2"/><circle cx="1000.7" cy="1483.8" r="14.2"/><circle cx="1101.0" cy="1425.7" r="14.2"/><circle cx="1146.3" cy="1398.3" r="14.2"/><circle cx="1003.3" cy="1584.9" r="14.2"/><circle cx="1089.5" cy="1392.7" r="14.2"/><circle cx="1091.8" cy="1349.1" r="14.2"/><circle cx="1190.2" cy="1318.7" r="14.2"/><circle cx="1319.0" cy="1176.6" r="14.2"/><circle cx="1103.1" cy="1330.2" r="14.2"/><circle cx="1221.9" cy="1297.2" r="14.2"/><circle cx="1015.6" cy="1536.6" r="14.2"/><circle cx="1150.2" cy="1412.7" r="14.2"/><circle cx="1121.2" cy="1323.3" r="14.2"/><circle cx="1091.7" cy="1420.0" r="14.2"/><circle cx="1224.1" cy="1280.4" r="14.2"/><circle cx="1201.1" cy="1358.1" r="14.2"/><circle cx="1020.1" cy="1523.3" r="14.2"/><circle cx="1082.6" cy="1379.9" r="14.2"/><circle cx="1223.5" cy="1275.0" r="14.2"/><circle cx="1327.7" cy="1190.4" r="14.2"/><circle cx="1172.5" cy="1296.1" r="14.2"/><circle cx="1249.7" cy="1272.5" r="14.2"/><circle cx="1294.7" cy="1201.8" r="14.2"/><circle cx="1204.9" cy="1259.3" r="14.2"/><circle cx="1180.9" cy="1351.9" r="14.2"/><circle cx="1065.2" cy="1520.3" r="14.2"/><circle cx="1111.4" cy="1395.4" r="14.2"/><circle cx="1162.4" cy="1348.1" r="14.2"/><circle cx="1257.1" cy="1231.9" r="14.2"/><circle cx="1083.1" cy="1434.7" r="14.2"/><circle cx="1108.5" cy="1400.8" r="14.2"/><circle cx="870.7" cy="1687.3" r="14.2"/><circle cx="1189.9" cy="1334.2" r="14.2"/><circle cx="1126.6" cy="1363.0" r="14.2"/><circle cx="1225.2" cy="1210.8" r="14.2"/><circle cx="1079.1" cy="1358.5" r="14.2"/><circle cx="1175.3" cy="1362.8" r="14.2"/><circle cx="1180.8" cy="1262.2" r="14.2"/><circle cx="1128.8" cy="1340.7" r="14.2"/><circle cx="1041.7" cy="1494.8" r="14.2"/><circle cx="1113.6" cy="1376.7" r="14.2"/><circle cx="1202.6" cy="1250.6" r="14.2"/><circle cx="1044.6" cy="1362.6" r="14.2"/><circle cx="977.3" cy="1603.4" r="14.2"/><circle cx="1130.7" cy="1348.3" r="14.2"/><circle cx="1069.5" cy="1474.5" r="14.2"/><circle cx="1220.5" cy="1275.4" r="14.2"/><circle cx="1221.1" cy="1214.2" r="14.2"/><circle cx="1271.1" cy="1185.5" r="14.2"/><circle cx="1239.0" cy="1279.6" r="14.2"/><circle cx="1177.6" cy="1335.2" r="14.2"/><circle cx="1044.1" cy="1474.9" r="14.2"/><circle cx="1222.5" cy="1317.3" r="14.2"/><circle cx="1193.1" cy="1259.9" r="14.2"/><circle cx="1209.6" cy="1284.5" r="14.2"/><circle cx="1188.6" cy="1300.7" r="14.2"/><circle cx="1228.6" cy="1242.3" r="14.2"/><circle cx="1089.6" cy="1315.4" r="14.2"/><circle cx="1178.4" cy="1320.5" r="14.2"/><circle cx="1144.6" cy="1383.9" r="14.2"/><circle cx="1096.2" cy="1313.1" r="14.2"/><circle cx="1096.3" cy="1458.1" r="14.2"/><circle cx="1037.9" cy="1526.3" r="14.2"/><circle cx="1138.0" cy="1443.5" r="14.2"/><circle cx="1107.9" cy="1344.3" r="14.2"/><circle cx="1122.7" cy="1378.8" r="14.2"/><circle cx="1236.9" cy="1226.0" r="14.2"/><circle cx="1176.8" cy="1315.7" r="14.2"/><circle cx="1180.6" cy="1324.7" r="14.2"/><circle cx="1304.5" cy="1216.6" r="14.2"/><circle cx="1061.2" cy="1520.3" r="14.2"/><circle cx="1143.2" cy="1343.1" r="14.2"/><circle cx="999.3" cy="1522.1" r="14.2"/><circle cx="1110.5" cy="1305.2" r="14.2"/><circle cx="1278.4" cy="1234.1" r="14.2"/><circle cx="980.3" cy="1570.2" r="14.2"/><circle cx="1202.6" cy="1330.3" r="14.2"/><circle cx="1241.7" cy="1180.8" r="14.2"/><circle cx="1137.5" cy="1436.4" r="14.2"/><circle cx="1215.1" cy="1238.4" r="14.2"/><circle cx="1130.1" cy="1296.4" r="14.2"/><circle cx="1100.5" cy="1432.5" r="14.2"/><circle cx="1133.7" cy="1336.6" r="14.2"/><circle cx="1064.8" cy="1595.4" r="14.2"/><circle cx="1087.7" cy="1463.4" r="14.2"/><circle cx="1085.7" cy="1537.3" r="14.2"/><circle cx="1308.6" cy="1190.4" r="14.2"/><circle cx="1099.4" cy="1426.0" r="14.2"/><circle cx="1078.7" cy="1497.5" r="14.2"/><circle cx="1274.5" cy="1179.4" r="14.2"/><circle cx="1019.1" cy="1488.5" r="14.2"/><circle cx="1288.1" cy="1220.8" r="14.2"/><circle cx="1234.0" cy="1268.4" r="14.2"/><circle cx="1181.5" cy="1379.2" r="14.2"/><circle cx="1122.5" cy="1405.4" r="14.2"/><circle cx="1055.0" cy="1328.2" r="14.2"/><circle cx="986.5" cy="1578.1" r="14.2"/><circle cx="997.4" cy="1502.7" r="14.2"/><circle cx="1093.1" cy="1464.7" r="14.2"/><circle cx="1109.9" cy="1360.1" r="14.2"/><circle cx="1261.1" cy="1204.1" r="14.2"/><circle cx="1153.2" cy="1366.0" r="14.2"/><circle cx="1318.7" cy="1227.6" r="14.2"/><circle cx="1189.4" cy="1328.1" r="14.2"/><circle cx="1027.9" cy="1420.5" r="14.2"/><circle cx="1148.6" cy="1372.7" r="14.2"/><circle cx="1033.0" cy="1456.1" r="14.2"/><circle cx="910.1" cy="1624.7" r="14.2"/><circle cx="1272.7" cy="1270.9" r="14.2"/><circle cx="1102.3" cy="1394.3" r="14.2"/><circle cx="1044.0" cy="1467.8" r="14.2"/><circle cx="995.2" cy="1564.9" r="14.2"/><circle cx="1173.5" cy="1344.3" r="14.2"/><circle cx="1127.1" cy="1371.7" r="14.2"/><circle cx="851.6" cy="1692.3" r="14.2"/><circle cx="1199.0" cy="1278.1" r="14.2"/><circle cx="1074.0" cy="1471.5" r="14.2"/><circle cx="1213.0" cy="1366.2" r="14.2"/><circle cx="1136.3" cy="1384.5" r="14.2"/><circle cx="1150.5" cy="1386.6" r="14.2"/><circle cx="1125.8" cy="1433.8" r="14.2"/><circle cx="1180.0" cy="1298.8" r="14.2"/><circle cx="1317.7" cy="1200.1" r="14.2"/><circle cx="1219.2" cy="1244.1" r="14.2"/><circle cx="960.2" cy="1486.1" r="14.2"/><circle cx="1142.5" cy="1360.9" r="14.2"/><circle cx="1069.4" cy="1555.5" r="14.2"/><circle cx="998.1" cy="1571.4" r="14.2"/><circle cx="1055.9" cy="1414.0" r="14.2"/><circle cx="1070.4" cy="1479.5" r="14.2"/><circle cx="1281.8" cy="1232.8" r="14.2"/><circle cx="1203.9" cy="1291.9" r="14.2"/><circle cx="1234.6" cy="1227.0" r="14.2"/><circle cx="1190.1" cy="1293.3" r="14.2"/><circle cx="1080.4" cy="1406.2" r="14.2"/><circle cx="1114.3" cy="1449.5" r="14.2"/><circle cx="1129.6" cy="1400.0" r="14.2"/><circle cx="1081.2" cy="1464.4" r="14.2"/><circle cx="1125.5" cy="1392.7" r="14.2"/><circle cx="1200.8" cy="1374.6" r="14.2"/><circle cx="959.8" cy="1570.3" r="14.2"/><circle cx="1084.8" cy="1520.5" r="14.2"/><circle cx="1137.0" cy="1291.8" r="14.2"/><circle cx="1184.9" cy="1233.3" r="14.2"/><circle cx="1173.4" cy="1238.2" r="14.2"/><circle cx="1195.2" cy="1259.6" r="14.2"/><circle cx="996.1" cy="1558.9" r="14.2"/><circle cx="1045.3" cy="1420.5" r="14.2"/><circle cx="1086.4" cy="1454.3" r="14.2"/><circle cx="1083.1" cy="1405.1" r="14.2"/><circle cx="1203.3" cy="1324.3" r="14.2"/><circle cx="1320.8" cy="1199.4" r="14.2"/><circle cx="1185.3" cy="1288.7" r="14.2"/><circle cx="906.6" cy="1489.4" r="14.2"/><circle cx="1081.6" cy="1450.9" r="14.2"/><circle cx="1222.9" cy="1160.8" r="14.2"/><circle cx="1259.4" cy="1111.2" r="14.2"/><circle cx="1166.7" cy="1393.6" r="14.2"/><circle cx="1097.0" cy="1430.5" r="14.2"/><circle cx="1095.3" cy="1483.4" r="14.2"/><circle cx="1170.5" cy="1337.9" r="14.2"/><circle cx="1241.6" cy="1258.6" r="14.2"/><circle cx="1097.1" cy="1432.6" r="14.2"/><circle cx="1049.7" cy="1415.7" r="14.2"/><circle cx="816.7" cy="1645.3" r="14.2"/><circle cx="1025.7" cy="1488.4" r="14.2"/><circle cx="1228.9" cy="1256.1" r="14.2"/><circle cx="1166.9" cy="1330.3" r="14.2"/><circle cx="1313.9" cy="1188.6" r="14.2"/><circle cx="966.3" cy="1515.1" r="14.2"/><circle cx="1116.8" cy="1402.5" r="14.2"/><circle cx="1213.9" cy="1251.9" r="14.2"/><circle cx="1180.5" cy="1373.6" r="14.2"/><circle cx="970.1" cy="1497.6" r="14.2"/><circle cx="1107.1" cy="1300.2" r="14.2"/><circle cx="1167.2" cy="1326.3" r="14.2"/><circle cx="1192.4" cy="1359.6" r="14.2"/><circle cx="1125.2" cy="1306.4" r="14.2"/><circle cx="1046.9" cy="1506.0" r="14.2"/><circle cx="1288.3" cy="1287.3" r="14.2"/><circle cx="1129.2" cy="1397.3" r="14.2"/><circle cx="1198.5" cy="1265.4" r="14.2"/><circle cx="1155.3" cy="1330.0" r="14.2"/><circle cx="986.3" cy="1454.4" r="14.2"/><circle cx="1075.3" cy="1413.6" r="14.2"/><circle cx="949.8" cy="1556.6" r="14.2"/><circle cx="1041.7" cy="1605.1" r="14.2"/><circle cx="1054.0" cy="1544.9" r="14.2"/><circle cx="1110.0" cy="1400.0" r="14.2"/><circle cx="1094.7" cy="1385.9" r="14.2"/><circle cx="1102.2" cy="1477.2" r="14.2"/><circle cx="1222.5" cy="1286.9" r="14.2"/><circle cx="874.3" cy="1603.9" r="14.2"/><circle cx="991.4" cy="1640.2" r="14.2"/><circle cx="1219.5" cy="1340.7" r="14.2"/><circle cx="1150.0" cy="1369.6" r="14.2"/><circle cx="1132.1" cy="1367.0" r="14.2"/><circle cx="1066.6" cy="1496.9" r="14.2"/><circle cx="1150.8" cy="1465.2" r="14.2"/><circle cx="1060.7" cy="1472.9" r="14.2"/><circle cx="1229.0" cy="1304.0" r="14.2"/><circle cx="1238.0" cy="1215.9" r="14.2"/><circle cx="1099.5" cy="1430.9" r="14.2"/><circle cx="884.4" cy="1605.9" r="14.2"/><circle cx="1240.8" cy="1213.1" r="14.2"/><circle cx="1083.5" cy="1476.2" r="14.2"/><circle cx="1181.1" cy="1274.7" r="14.2"/><circle cx="1230.4" cy="1198.5" r="14.2"/><circle cx="1213.9" cy="1256.8" r="14.2"/><circle cx="1247.7" cy="1175.6" r="14.2"/><circle cx="1137.2" cy="1406.4" r="14.2"/><circle cx="1237.9" cy="1204.5" r="14.2"/><circle cx="1129.0" cy="1369.7" r="14.2"/><circle cx="1076.0" cy="1512.8" r="14.2"/><circle cx="1145.0" cy="1369.0" r="14.2"/><circle cx="1103.9" cy="1448.0" r="14.2"/><circle cx="1204.3" cy="1309.0" r="14.2"/><circle cx="1234.2" cy="1245.5" r="14.2"/><circle cx="1016.5" cy="1440.2" r="14.2"/><circle cx="1029.0" cy="1521.3" r="14.2"/><circle cx="1109.2" cy="1404.6" r="14.2"/><circle cx="1121.3" cy="1472.1" r="14.2"/><circle cx="1269.9" cy="1212.2" r="14.2"/><circle cx="1269.7" cy="1172.5" r="14.2"/><circle cx="1289.0" cy="1178.4" r="14.2"/><circle cx="1189.9" cy="1282.2" r="14.2"/><circle cx="1173.8" cy="1349.9" r="14.2"/><circle cx="1085.4" cy="1498.6" r="14.2"/><circle cx="1109.1" cy="1417.7" r="14.2"/><circle cx="822.0" cy="1765.1" r="14.2"/><circle cx="1229.6" cy="1299.8" r="14.2"/><circle cx="1087.2" cy="1376.5" r="14.2"/><circle cx="975.3" cy="1595.8" r="14.2"/><circle cx="1086.2" cy="1318.3" r="14.2"/><circle cx="1104.7" cy="1495.1" r="14.2"/><circle cx="1190.6" cy="1283.6" r="14.2"/><circle cx="833.1" cy="1743.4" r="14.2"/><circle cx="1072.3" cy="1449.0" r="14.2"/><circle cx="1240.9" cy="1277.0" r="14.2"/><circle cx="1226.9" cy="1256.9" r="14.2"/><circle cx="1171.1" cy="1337.6" r="14.2"/><circle cx="1151.1" cy="1378.5" r="14.2"/><circle cx="1062.2" cy="1436.0" r="14.2"/><circle cx="1245.5" cy="1170.3" r="14.2"/><circle cx="1211.1" cy="1301.4" r="14.2"/><circle cx="1135.8" cy="1323.4" r="14.2"/><circle cx="1032.8" cy="1493.9" r="14.2"/><circle cx="1060.4" cy="1476.3" r="14.2"/><circle cx="1117.1" cy="1260.6" r="14.2"/><circle cx="1093.5" cy="1552.6" r="14.2"/><circle cx="951.1" cy="1599.1" r="14.2"/><circle cx="1112.8" cy="1502.9" r="14.2"/><circle cx="1127.7" cy="1404.1" r="14.2"/><circle cx="1081.6" cy="1462.0" r="14.2"/><circle cx="1113.7" cy="1158.3" r="14.2"/><circle cx="1102.4" cy="1398.6" r="14.2"/><circle cx="1116.2" cy="1287.1" r="14.2"/><circle cx="1162.9" cy="1269.3" r="14.2"/><circle cx="1139.0" cy="1394.7" r="14.2"/><circle cx="1057.0" cy="1443.2" r="14.2"/><circle cx="1218.4" cy="1191.9" r="14.2"/><circle cx="1138.0" cy="1364.2" r="14.2"/><circle cx="1132.4" cy="1369.1" r="14.2"/><circle cx="1186.7" cy="1284.6" r="14.2"/><circle cx="1212.6" cy="1334.2" r="14.2"/><circle cx="1227.1" cy="1288.0" r="14.2"/><circle cx="1214.3" cy="1259.0" r="14.2"/><circle cx="1176.0" cy="1295.5" r="14.2"/><circle cx="1190.4" cy="1342.5" r="14.2"/><circle cx="1037.8" cy="1513.8" r="14.2"/><circle cx="1197.8" cy="1300.8" r="14.2"/><circle cx="1078.9" cy="1461.3" r="14.2"/><circle cx="1071.6" cy="1412.7" r="14.2"/><circle cx="999.9" cy="1521.7" r="14.2"/><circle cx="1114.8" cy="1394.6" r="14.2"/><circle cx="878.2" cy="1702.2" r="14.2"/><circle cx="1174.6" cy="1371.6" r="14.2"/><circle cx="1211.0" cy="1263.9" r="14.2"/><circle cx="1199.9" cy="1356.1" r="14.2"/><circle cx="1022.8" cy="1490.2" r="14.2"/><circle cx="1179.8" cy="1347.3" r="14.2"/><circle cx="1238.7" cy="1272.1" r="14.2"/><circle cx="917.9" cy="1550.8" r="14.2"/><circle cx="1040.3" cy="1532.0" r="14.2"/><circle cx="1073.1" cy="1510.0" r="14.2"/><circle cx="1123.0" cy="1429.2" r="14.2"/><circle cx="1045.6" cy="1484.4" r="14.2"/><circle cx="1147.4" cy="1200.1" r="14.2"/><circle cx="1097.9" cy="1543.2" r="14.2"/><circle cx="1178.7" cy="1321.9" r="14.2"/><circle cx="1133.2" cy="1393.2" r="14.2"/><circle cx="1192.9" cy="1254.9" r="14.2"/><circle cx="1078.3" cy="1474.8" r="14.2"/><circle cx="1187.4" cy="1411.0" r="14.2"/><circle cx="1199.2" cy="1229.3" r="14.2"/><circle cx="1193.1" cy="1346.1" r="14.2"/><circle cx="962.4" cy="1559.1" r="14.2"/><circle cx="1279.6" cy="1250.6" r="14.2"/><circle cx="1152.8" cy="1406.5" r="14.2"/><circle cx="1085.6" cy="1472.2" r="14.2"/><circle cx="1124.8" cy="1338.2" r="14.2"/><circle cx="1144.9" cy="1315.9" r="14.2"/><circle cx="1134.9" cy="1408.9" r="14.2"/><circle cx="1069.2" cy="1430.1" r="14.2"/><circle cx="1070.2" cy="1486.4" r="14.2"/><circle cx="1107.3" cy="1408.6" r="14.2"/><circle cx="1211.2" cy="1272.1" r="14.2"/><circle cx="1126.3" cy="1351.6" r="14.2"/><circle cx="914.2" cy="1627.9" r="14.2"/><circle cx="1131.6" cy="1390.3" r="14.2"/><circle cx="1059.7" cy="1460.6" r="14.2"/><circle cx="856.5" cy="1650.7" r="14.2"/><circle cx="1300.5" cy="1219.7" r="14.2"/><circle cx="1086.4" cy="1323.8" r="14.2"/><circle cx="1150.5" cy="1380.5" r="14.2"/><circle cx="1096.2" cy="1379.4" r="14.2"/><circle cx="937.7" cy="1562.0" r="14.2"/><circle cx="1263.1" cy="1172.2" r="14.2"/><circle cx="1268.9" cy="1284.5" r="14.2"/><circle cx="1053.0" cy="1334.5" r="14.2"/><circle cx="1122.9" cy="1406.3" r="14.2"/><circle cx="1110.1" cy="1477.6" r="14.2"/><circle cx="1028.0" cy="1496.3" r="14.2"/><circle cx="1178.4" cy="1202.7" r="14.2"/><circle cx="1204.9" cy="1263.2" r="14.2"/><circle cx="1209.0" cy="1329.6" r="14.2"/><circle cx="1185.2" cy="1332.1" r="14.2"/><circle cx="869.5" cy="1555.2" r="14.2"/><circle cx="1077.2" cy="1536.2" r="14.2"/><circle cx="1137.3" cy="1385.3" r="14.2"/><circle cx="1192.0" cy="1315.9" r="14.2"/><circle cx="1108.2" cy="1271.7" r="14.2"/><circle cx="1131.7" cy="1398.4" r="14.2"/><circle cx="1231.6" cy="1194.6" r="14.2"/><circle cx="888.9" cy="1654.6" r="14.2"/><circle cx="1066.8" cy="1516.8" r="14.2"/><circle cx="1089.1" cy="1371.1" r="14.2"/><circle cx="1323.1" cy="1168.6" r="14.2"/><circle cx="1059.1" cy="1577.6" r="14.2"/><circle cx="941.9" cy="1530.3" r="14.2"/><circle cx="1108.7" cy="1372.1" r="14.2"/><circle cx="1180.2" cy="1345.5" r="14.2"/><circle cx="1037.5" cy="1481.3" r="14.2"/><circle cx="1228.8" cy="1245.0" r="14.2"/><circle cx="1059.3" cy="1505.0" r="14.2"/><circle cx="1189.0" cy="1331.8" r="14.2"/><circle cx="1028.3" cy="1543.4" r="14.2"/><circle cx="1246.5" cy="1243.6" r="14.2"/><circle cx="1059.2" cy="1554.3" r="14.2"/><circle cx="1195.2" cy="1301.8" r="14.2"/><circle cx="1238.1" cy="1297.9" r="14.2"/><circle cx="1075.8" cy="1453.0" r="14.2"/><circle cx="990.8" cy="1541.1" r="14.2"/><circle cx="1153.0" cy="1404.1" r="14.2"/><circle cx="1142.2" cy="1319.1" r="14.2"/><circle cx="1144.4" cy="1251.8" r="14.2"/><circle cx="1209.0" cy="1219.1" r="14.2"/><circle cx="1126.5" cy="1460.4" r="14.2"/><circle cx="1134.9" cy="1301.5" r="14.2"/><circle cx="1144.7" cy="1354.0" r="14.2"/><circle cx="1123.6" cy="1397.5" r="14.2"/><circle cx="1111.9" cy="1441.7" r="14.2"/><circle cx="1038.2" cy="1496.5" r="14.2"/><circle cx="1082.5" cy="1352.0" r="14.2"/><circle cx="1078.6" cy="1416.2" r="14.2"/><circle cx="1069.5" cy="1490.5" r="14.2"/><circle cx="1214.4" cy="1300.8" r="14.2"/><circle cx="1006.5" cy="1548.5" r="14.2"/><circle cx="1063.7" cy="1430.8" r="14.2"/><circle cx="1138.5" cy="1261.6" r="14.2"/><circle cx="1091.0" cy="1496.5" r="14.2"/><circle cx="1071.7" cy="1463.6" r="14.2"/><circle cx="1117.3" cy="1423.1" r="14.2"/><circle cx="1134.7" cy="1417.5" r="14.2"/><circle cx="1177.0" cy="1303.2" r="14.2"/><circle cx="1295.0" cy="1185.3" r="14.2"/><circle cx="1236.5" cy="1297.4" r="14.2"/><circle cx="1126.1" cy="1444.2" r="14.2"/><circle cx="1128.6" cy="1313.4" r="14.2"/><circle cx="1109.6" cy="1392.8" r="14.2"/><circle cx="1076.2" cy="1420.8" r="14.2"/><circle cx="1279.9" cy="1225.7" r="14.2"/><circle cx="960.7" cy="1578.1" r="14.2"/><circle cx="1057.3" cy="1446.0" r="14.2"/><circle cx="1184.8" cy="1334.2" r="14.2"/><circle cx="1171.2" cy="1380.1" r="14.2"/><circle cx="1091.4" cy="1437.4" r="14.2"/><circle cx="1269.7" cy="1182.8" r="14.2"/><circle cx="1114.0" cy="1461.5" r="14.2"/><circle cx="1161.0" cy="1286.1" r="14.2"/><circle cx="978.7" cy="1498.2" r="14.2"/><circle cx="1247.7" cy="1262.4" r="14.2"/><circle cx="989.8" cy="1536.9" r="14.2"/><circle cx="1112.1" cy="1412.2" r="14.2"/><circle cx="1244.8" cy="1209.5" r="14.2"/><circle cx="1267.8" cy="1192.6" r="14.2"/><circle cx="1254.2" cy="1269.0" r="14.2"/><circle cx="1237.0" cy="1294.1" r="14.2"/><circle cx="1066.4" cy="1396.1" r="14.2"/><circle cx="906.0" cy="1597.3" r="14.2"/><circle cx="1131.8" cy="1358.4" r="14.2"/><circle cx="959.4" cy="1537.3" r="14.2"/><circle cx="1290.5" cy="1154.6" r="14.2"/><circle cx="839.5" cy="1738.7" r="14.2"/><circle cx="1094.7" cy="1359.3" r="14.2"/><circle cx="1057.3" cy="1526.2" r="14.2"/><circle cx="855.2" cy="1612.3" r="14.2"/><circle cx="1134.0" cy="1298.7" r="14.2"/><circle cx="971.8" cy="1624.3" r="14.2"/><circle cx="1265.5" cy="1203.9" r="14.2"/><circle cx="1196.8" cy="1309.1" r="14.2"/><circle cx="1109.8" cy="1428.3" r="14.2"/><circle cx="1238.0" cy="1243.6" r="14.2"/><circle cx="1224.2" cy="1301.5" r="14.2"/><circle cx="1097.4" cy="1481.8" r="14.2"/><circle cx="1228.3" cy="1228.3" r="14.2"/><circle cx="1268.5" cy="1185.5" r="14.2"/><circle cx="1165.3" cy="1364.7" r="14.2"/><circle cx="1104.2" cy="1498.3" r="14.2"/><circle cx="1254.3" cy="1129.7" r="14.2"/><circle cx="1272.4" cy="1174.6" r="14.2"/><circle cx="1097.8" cy="1405.0" r="14.2"/><circle cx="984.9" cy="1597.0" r="14.2"/><circle cx="1242.0" cy="1260.3" r="14.2"/><circle cx="1182.0" cy="1305.2" r="14.2"/><circle cx="1070.7" cy="1520.2" r="14.2"/><circle cx="1155.1" cy="1261.5" r="14.2"/><circle cx="1090.7" cy="1429.4" r="14.2"/><circle cx="1264.3" cy="1204.8" r="14.2"/><circle cx="1104.4" cy="1475.2" r="14.2"/><circle cx="1057.0" cy="1531.5" r="14.2"/><circle cx="923.2" cy="1628.9" r="14.2"/><circle cx="1094.7" cy="1414.6" r="14.2"/><circle cx="1310.1" cy="1200.7" r="14.2"/><circle cx="1054.6" cy="1497.8" r="14.2"/><circle cx="1130.3" cy="1366.7" r="14.2"/><circle cx="1294.0" cy="1196.4" r="14.2"/><circle cx="828.7" cy="1597.7" r="14.2"/><circle cx="1090.3" cy="1449.7" r="14.2"/><circle cx="1223.5" cy="1300.9" r="14.2"/><circle cx="999.3" cy="1531.2" r="14.2"/><circle cx="1258.4" cy="1164.3" r="14.2"/><circle cx="1227.2" cy="1279.1" r="14.2"/><circle cx="1023.8" cy="1506.3" r="14.2"/><circle cx="1163.7" cy="1357.6" r="14.2"/><circle cx="1156.8" cy="1328.1" r="14.2"/><circle cx="1186.8" cy="1298.3" r="14.2"/><circle cx="1080.2" cy="1497.8" r="14.2"/><circle cx="1114.4" cy="1418.7" r="14.2"/><circle cx="1075.5" cy="1392.2" r="14.2"/><circle cx="1087.3" cy="1367.8" r="14.2"/><circle cx="1046.8" cy="1423.0" r="14.2"/><circle cx="1261.3" cy="1187.6" r="14.2"/><circle cx="1241.7" cy="1252.0" r="14.2"/><circle cx="1094.0" cy="1453.8" r="14.2"/><circle cx="1191.2" cy="1259.2" r="14.2"/><circle cx="1140.5" cy="1428.9" r="14.2"/><circle cx="1083.1" cy="1451.6" r="14.2"/><circle cx="1095.5" cy="1532.8" r="14.2"/><circle cx="1286.0" cy="1218.3" r="14.2"/><circle cx="1098.6" cy="1465.9" r="14.2"/><circle cx="1150.1" cy="1415.9" r="14.2"/><circle cx="1279.0" cy="1191.3" r="14.2"/><circle cx="1092.3" cy="1476.3" r="14.2"/><circle cx="1213.9" cy="1289.9" r="14.2"/><circle cx="1006.1" cy="1539.8" r="14.2"/><circle cx="1189.7" cy="1336.7" r="14.2"/><circle cx="1217.7" cy="1205.7" r="14.2"/><circle cx="1227.0" cy="1277.1" r="14.2"/><circle cx="1294.4" cy="1197.1" r="14.2"/><circle cx="1187.0" cy="1363.8" r="14.2"/><circle cx="1295.0" cy="1215.1" r="14.2"/><circle cx="1088.4" cy="1459.1" r="14.2"/><circle cx="1134.2" cy="1395.8" r="14.2"/><circle cx="1064.9" cy="1505.5" r="14.2"/><circle cx="983.7" cy="1532.3" r="14.2"/><circle cx="1123.4" cy="1296.9" r="14.2"/><circle cx="1195.8" cy="1304.5" r="14.2"/><circle cx="1212.6" cy="1282.9" r="14.2"/><circle cx="867.7" cy="1662.8" r="14.2"/><circle cx="1274.1" cy="1121.5" r="14.2"/><circle cx="1072.6" cy="1347.9" r="14.2"/><circle cx="1083.9" cy="1409.1" r="14.2"/><circle cx="1230.5" cy="1223.7" r="14.2"/><circle cx="1241.1" cy="1265.7" r="14.2"/><circle cx="1195.2" cy="1306.1" r="14.2"/><circle cx="1095.7" cy="1417.7" r="14.2"/><circle cx="1125.5" cy="1385.1" r="14.2"/><circle cx="1239.0" cy="1273.7" r="14.2"/><circle cx="1097.8" cy="1470.9" r="14.2"/><circle cx="1217.5" cy="1247.9" r="14.2"/><circle cx="1212.4" cy="1263.6" r="14.2"/><circle cx="1127.6" cy="1495.1" r="14.2"/><circle cx="1247.6" cy="1229.2" r="14.2"/><circle cx="1109.4" cy="1330.8" r="14.2"/><circle cx="1208.5" cy="1307.6" r="14.2"/><circle cx="1178.3" cy="1310.0" r="14.2"/><circle cx="1100.4" cy="1503.3" r="14.2"/><circle cx="1138.5" cy="1325.1" r="14.2"/><circle cx="1160.9" cy="1395.1" r="14.2"/><circle cx="1158.2" cy="1405.4" r="14.2"/><circle cx="1008.9" cy="1540.4" r="14.2"/><circle cx="1332.9" cy="1118.4" r="14.2"/><circle cx="1284.1" cy="1225.8" r="14.2"/><circle cx="910.0" cy="1664.8" r="14.2"/><circle cx="1268.5" cy="1200.3" r="14.2"/><circle cx="1137.2" cy="1363.0" r="14.2"/><circle cx="1004.0" cy="1412.9" r="14.2"/><circle cx="1215.7" cy="1321.0" r="14.2"/><circle cx="1123.3" cy="1475.7" r="14.2"/><circle cx="1190.5" cy="1318.6" r="14.2"/><circle cx="1238.1" cy="1228.8" r="14.2"/><circle cx="1152.5" cy="1336.2" r="14.2"/><circle cx="943.8" cy="1500.9" r="14.2"/><circle cx="1213.9" cy="1332.0" r="14.2"/><circle cx="1189.1" cy="1341.1" r="14.2"/><circle cx="1266.0" cy="1223.0" r="14.2"/><circle cx="1080.4" cy="1393.6" r="14.2"/><circle cx="1214.2" cy="1253.7" r="14.2"/><circle cx="1246.9" cy="1248.0" r="14.2"/><circle cx="1097.0" cy="1484.9" r="14.2"/><circle cx="1109.0" cy="1356.6" r="14.2"/><circle cx="1101.2" cy="1361.4" r="14.2"/><circle cx="834.2" cy="1514.1" r="14.2"/><circle cx="1068.9" cy="1477.1" r="14.2"/><circle cx="1100.3" cy="1317.6" r="14.2"/><circle cx="992.4" cy="1601.3" r="14.2"/><circle cx="1211.2" cy="1299.9" r="14.2"/><circle cx="1120.7" cy="1432.9" r="14.2"/><circle cx="1149.6" cy="1381.7" r="14.2"/><circle cx="1087.3" cy="1490.9" r="14.2"/><circle cx="1093.6" cy="1463.9" r="14.2"/><circle cx="1211.2" cy="1281.5" r="14.2"/><circle cx="1132.7" cy="1404.6" r="14.2"/><circle cx="1164.2" cy="1304.7" r="14.2"/><circle cx="1130.2" cy="1390.0" r="14.2"/><circle cx="1149.8" cy="1359.9" r="14.2"/><circle cx="1266.0" cy="1162.4" r="14.2"/><circle cx="1069.2" cy="1444.4" r="14.2"/><circle cx="1133.2" cy="1372.7" r="14.2"/><circle cx="1187.5" cy="1310.7" r="14.2"/><circle cx="979.1" cy="1540.8" r="14.2"/><circle cx="1280.5" cy="1190.8" r="14.2"/><circle cx="1146.2" cy="1402.3" r="14.2"/><circle cx="1074.8" cy="1378.7" r="14.2"/><circle cx="1207.5" cy="1209.8" r="14.2"/><circle cx="1221.6" cy="1213.7" r="14.2"/><circle cx="1165.4" cy="1360.8" r="14.2"/><circle cx="1265.1" cy="1268.8" r="14.2"/><circle cx="982.5" cy="1565.8" r="14.2"/><circle cx="1138.9" cy="1365.4" r="14.2"/><circle cx="1203.7" cy="1249.6" r="14.2"/><circle cx="1255.2" cy="1230.8" r="14.2"/><circle cx="1177.4" cy="1336.0" r="14.2"/><circle cx="1164.6" cy="1257.0" r="14.2"/><circle cx="1107.5" cy="1451.0" r="14.2"/><circle cx="1158.9" cy="1288.4" r="14.2"/><circle cx="1150.0" cy="1307.6" r="14.2"/><circle cx="1260.5" cy="1264.3" r="14.2"/><circle cx="1227.5" cy="1246.3" r="14.2"/><circle cx="1193.9" cy="1323.6" r="14.2"/><circle cx="1261.9" cy="1251.1" r="14.2"/><circle cx="947.3" cy="1662.2" r="14.2"/><circle cx="1212.9" cy="1336.0" r="14.2"/><circle cx="1122.0" cy="1370.8" r="14.2"/><circle cx="1203.4" cy="1304.3" r="14.2"/><circle cx="1089.6" cy="1421.3" r="14.2"/><circle cx="1124.3" cy="1447.2" r="14.2"/><circle cx="1238.3" cy="1255.8" r="14.2"/><circle cx="909.4" cy="1614.6" r="14.2"/><circle cx="1083.9" cy="1532.8" r="14.2"/><circle cx="1142.4" cy="1449.0" r="14.2"/><circle cx="1238.1" cy="1226.1" r="14.2"/><circle cx="1091.6" cy="1427.3" r="14.2"/><circle cx="1217.1" cy="1306.4" r="14.2"/><circle cx="1073.5" cy="1466.6" r="14.2"/><circle cx="1085.2" cy="1400.0" r="14.2"/><circle cx="1155.5" cy="1248.6" r="14.2"/><circle cx="1176.2" cy="1362.3" r="14.2"/><circle cx="1251.2" cy="1202.7" r="14.2"/><circle cx="1249.5" cy="1141.9" r="14.2"/><circle cx="1068.7" cy="1462.8" r="14.2"/><circle cx="1204.1" cy="1218.4" r="14.2"/><circle cx="1164.3" cy="1454.9" r="14.2"/><circle cx="1118.9" cy="1308.9" r="14.2"/><circle cx="1206.0" cy="1286.5" r="14.2"/><circle cx="1261.5" cy="1280.9" r="14.2"/><circle cx="1145.6" cy="1319.9" r="14.2"/><circle cx="1258.6" cy="1181.1" r="14.2"/><circle cx="1025.6" cy="1423.1" r="14.2"/><circle cx="1030.3" cy="1419.3" r="14.2"/><circle cx="1200.1" cy="1294.8" r="14.2"/><circle cx="1081.1" cy="1492.5" r="14.2"/><circle cx="1155.7" cy="1373.0" r="14.2"/><circle cx="1138.2" cy="1376.8" r="14.2"/><circle cx="1037.5" cy="1468.3" r="14.2"/><circle cx="1207.0" cy="1303.1" r="14.2"/><circle cx="1209.1" cy="1280.1" r="14.2"/><circle cx="1031.1" cy="1441.1" r="14.2"/><circle cx="1074.2" cy="1437.2" r="14.2"/><circle cx="1222.6" cy="1160.7" r="14.2"/><circle cx="1258.3" cy="1136.6" r="14.2"/><circle cx="1246.5" cy="1273.1" r="14.2"/><circle cx="1144.4" cy="1393.9" r="14.2"/><circle cx="1118.9" cy="1467.9" r="14.2"/><circle cx="1124.5" cy="1452.2" r="14.2"/><circle cx="1040.6" cy="1455.4" r="14.2"/><circle cx="1144.4" cy="1414.1" r="14.2"/><circle cx="1072.4" cy="1522.1" r="14.2"/><circle cx="1039.3" cy="1510.2" r="14.2"/><circle cx="1116.6" cy="1352.7" r="14.2"/><circle cx="951.2" cy="1582.8" r="14.2"/><circle cx="1131.2" cy="1402.2" r="14.2"/><circle cx="1193.9" cy="1256.5" r="14.2"/><circle cx="1182.7" cy="1292.3" r="14.2"/><circle cx="1305.2" cy="1183.8" r="14.2"/><circle cx="1247.7" cy="1192.8" r="14.2"/><circle cx="1172.5" cy="1373.3" r="14.2"/><circle cx="1258.6" cy="1214.5" r="14.2"/><circle cx="1124.9" cy="1424.9" r="14.2"/><circle cx="1221.8" cy="1219.2" r="14.2"/><circle cx="1085.2" cy="1389.4" r="14.2"/><circle cx="1142.6" cy="1419.3" r="14.2"/><circle cx="1300.5" cy="1158.7" r="14.2"/><circle cx="1169.8" cy="1384.1" r="14.2"/><circle cx="1144.2" cy="1298.3" r="14.2"/><circle cx="1220.8" cy="1257.9" r="14.2"/><circle cx="1092.0" cy="1484.1" r="14.2"/><circle cx="1237.0" cy="1285.5" r="14.2"/><circle cx="877.6" cy="1646.3" r="14.2"/><circle cx="1066.7" cy="1471.2" r="14.2"/><circle cx="1039.9" cy="1534.8" r="14.2"/><circle cx="1074.9" cy="1419.5" r="14.2"/><circle cx="1271.1" cy="1258.2" r="14.2"/><circle cx="891.2" cy="1617.8" r="14.2"/><circle cx="1085.0" cy="1445.6" r="14.2"/><circle cx="1156.4" cy="1436.5" r="14.2"/><circle cx="1189.8" cy="1291.6" r="14.2"/><circle cx="1208.3" cy="1331.4" r="14.2"/><circle cx="1118.5" cy="1529.8" r="14.2"/><circle cx="1064.6" cy="1507.4" r="14.2"/><circle cx="1231.5" cy="1261.6" r="14.2"/><circle cx="1006.1" cy="1462.8" r="14.2"/><circle cx="953.4" cy="1588.1" r="14.2"/><circle cx="1071.0" cy="1359.3" r="14.2"/><circle cx="1139.6" cy="1287.0" r="14.2"/><circle cx="1279.5" cy="1172.7" r="14.2"/><circle cx="1198.3" cy="1231.5" r="14.2"/><circle cx="1150.7" cy="1338.7" r="14.2"/><circle cx="1142.3" cy="1396.5" r="14.2"/><circle cx="1199.2" cy="1263.4" r="14.2"/><circle cx="1164.7" cy="1287.0" r="14.2"/><circle cx="1104.4" cy="1404.5" r="14.2"/><circle cx="996.9" cy="1545.5" r="14.2"/><circle cx="1064.9" cy="1562.5" r="14.2"/><circle cx="1214.4" cy="1244.0" r="14.2"/><circle cx="1172.2" cy="1311.6" r="14.2"/><circle cx="1226.4" cy="1307.3" r="14.2"/><circle cx="922.8" cy="1582.6" r="14.2"/><circle cx="1261.8" cy="1192.8" r="14.2"/><circle cx="1107.7" cy="1421.4" r="14.2"/><circle cx="1261.4" cy="1190.6" r="14.2"/><circle cx="1169.3" cy="1293.4" r="14.2"/><circle cx="1156.5" cy="1418.6" r="14.2"/><circle cx="1224.7" cy="1273.1" r="14.2"/><circle cx="1163.8" cy="1314.8" r="14.2"/><circle cx="1174.8" cy="1278.3" r="14.2"/><circle cx="1037.3" cy="1397.1" r="14.2"/><circle cx="1160.2" cy="1432.7" r="14.2"/><circle cx="1096.2" cy="1434.4" r="14.2"/><circle cx="962.8" cy="1509.5" r="14.2"/><circle cx="1023.4" cy="1423.7" r="14.2"/><circle cx="1139.1" cy="1272.4" r="14.2"/><circle cx="1077.6" cy="1508.5" r="14.2"/><circle cx="1208.8" cy="1296.7" r="14.2"/><circle cx="1010.9" cy="1580.0" r="14.2"/><circle cx="863.3" cy="1596.5" r="14.2"/><circle cx="1358.5" cy="1178.5" r="14.2"/><circle cx="1083.4" cy="1365.6" r="14.2"/><circle cx="1137.9" cy="1319.1" r="14.2"/><circle cx="1061.4" cy="1440.0" r="14.2"/><circle cx="1060.8" cy="1601.1" r="14.2"/><circle cx="1116.8" cy="1438.6" r="14.2"/><circle cx="1224.1" cy="1229.1" r="14.2"/><circle cx="910.3" cy="1672.9" r="14.2"/><circle cx="1228.2" cy="1266.3" r="14.2"/><circle cx="1316.6" cy="1192.7" r="14.2"/><circle cx="1155.7" cy="1301.5" r="14.2"/><circle cx="1096.8" cy="1411.3" r="14.2"/><circle cx="1067.2" cy="1449.9" r="14.2"/><circle cx="1040.0" cy="1519.5" r="14.2"/><circle cx="1096.4" cy="1430.3" r="14.2"/><circle cx="1230.3" cy="1259.8" r="14.2"/><circle cx="815.5" cy="1660.7" r="14.2"/><circle cx="1213.9" cy="1282.7" r="14.2"/><circle cx="1175.5" cy="1271.2" r="14.2"/><circle cx="870.8" cy="1726.1" r="14.2"/><circle cx="960.8" cy="1479.1" r="14.2"/><circle cx="1189.3" cy="1314.5" r="14.2"/><circle cx="1179.1" cy="1262.3" r="14.2"/><circle cx="1091.1" cy="1432.3" r="14.2"/><circle cx="1251.6" cy="1192.1" r="14.2"/><circle cx="1058.5" cy="1370.3" r="14.2"/><circle cx="1121.5" cy="1425.8" r="14.2"/><circle cx="1003.2" cy="1522.5" r="14.2"/><circle cx="1182.2" cy="1324.1" r="14.2"/><circle cx="978.4" cy="1531.6" r="14.2"/><circle cx="1047.3" cy="1580.8" r="14.2"/><circle cx="1209.7" cy="1287.9" r="14.2"/><circle cx="1142.0" cy="1382.4" r="14.2"/><circle cx="1184.7" cy="1346.2" r="14.2"/><circle cx="1187.7" cy="1317.7" r="14.2"/><circle cx="1163.8" cy="1410.3" r="14.2"/><circle cx="1053.5" cy="1382.0" r="14.2"/><circle cx="1193.5" cy="1280.3" r="14.2"/><circle cx="1007.9" cy="1392.6" r="14.2"/><circle cx="1083.1" cy="1497.3" r="14.2"/><circle cx="1120.5" cy="1458.7" r="14.2"/><circle cx="1005.8" cy="1506.3" r="14.2"/><circle cx="988.5" cy="1629.5" r="14.2"/><circle cx="1175.8" cy="1313.9" r="14.2"/><circle cx="1205.0" cy="1314.7" r="14.2"/><circle cx="1119.1" cy="1418.0" r="14.2"/><circle cx="1111.3" cy="1394.9" r="14.2"/><circle cx="1062.5" cy="1471.1" r="14.2"/><circle cx="1138.1" cy="1262.8" r="14.2"/><circle cx="1151.9" cy="1321.0" r="14.2"/><circle cx="1268.5" cy="1257.3" r="14.2"/><circle cx="922.0" cy="1527.1" r="14.2"/><circle cx="1263.6" cy="1262.7" r="14.2"/><circle cx="1312.4" cy="1191.0" r="14.2"/><circle cx="1096.9" cy="1497.9" r="14.2"/><circle cx="1199.7" cy="1326.9" r="14.2"/><circle cx="1238.3" cy="1187.7" r="14.2"/><circle cx="1176.7" cy="1348.1" r="14.2"/><circle cx="1085.6" cy="1481.2" r="14.2"/><circle cx="1167.4" cy="1361.5" r="14.2"/><circle cx="1242.2" cy="1250.8" r="14.2"/><circle cx="992.0" cy="1437.5" r="14.2"/><circle cx="1136.9" cy="1435.0" r="14.2"/><circle cx="890.3" cy="1682.2" r="14.2"/><circle cx="1227.9" cy="1232.5" r="14.2"/><circle cx="1213.1" cy="1337.6" r="14.2"/><circle cx="936.0" cy="1595.7" r="14.2"/><circle cx="1204.3" cy="1234.2" r="14.2"/><circle cx="1187.6" cy="1310.1" r="14.2"/><circle cx="1025.2" cy="1535.5" r="14.2"/><circle cx="1144.2" cy="1401.7" r="14.2"/><circle cx="1187.5" cy="1347.8" r="14.2"/><circle cx="1100.2" cy="1458.0" r="14.2"/><circle cx="1138.4" cy="1367.7" r="14.2"/><circle cx="1301.5" cy="1161.4" r="14.2"/><circle cx="1164.3" cy="1288.0" r="14.2"/><circle cx="1145.9" cy="1392.5" r="14.2"/><circle cx="949.2" cy="1604.5" r="14.2"/><circle cx="1010.6" cy="1473.8" r="14.2"/><circle cx="1230.2" cy="1321.0" r="14.2"/><circle cx="1208.6" cy="1300.2" r="14.2"/><circle cx="1232.3" cy="1264.5" r="14.2"/><circle cx="1153.5" cy="1407.1" r="14.2"/><circle cx="1153.5" cy="1401.9" r="14.2"/><circle cx="1141.5" cy="1351.3" r="14.2"/><circle cx="1187.5" cy="1378.2" r="14.2"/><circle cx="1093.9" cy="1485.0" r="14.2"/><circle cx="1146.1" cy="1396.5" r="14.2"/><circle cx="1123.2" cy="1391.6" r="14.2"/><circle cx="1178.0" cy="1381.6" r="14.2"/><circle cx="1056.3" cy="1403.3" r="14.2"/><circle cx="888.1" cy="1637.3" r="14.2"/><circle cx="986.1" cy="1555.2" r="14.2"/><circle cx="1045.1" cy="1511.9" r="14.2"/><circle cx="1230.9" cy="1279.3" r="14.2"/><circle cx="1191.2" cy="1345.6" r="14.2"/><circle cx="1200.3" cy="1239.1" r="14.2"/><circle cx="1121.0" cy="1387.3" r="14.2"/><circle cx="986.9" cy="1546.7" r="14.2"/><circle cx="1124.1" cy="1333.2" r="14.2"/><circle cx="1253.1" cy="1250.9" r="14.2"/><circle cx="1135.0" cy="1343.2" r="14.2"/><circle cx="1167.2" cy="1337.3" r="14.2"/><circle cx="1109.2" cy="1462.3" r="14.2"/><circle cx="1026.8" cy="1455.5" r="14.2"/><circle cx="1171.0" cy="1398.2" r="14.2"/><circle cx="1134.9" cy="1342.3" r="14.2"/><circle cx="1094.9" cy="1482.8" r="14.2"/><circle cx="1077.3" cy="1430.0" r="14.2"/><circle cx="1189.8" cy="1239.8" r="14.2"/><circle cx="1082.4" cy="1412.6" r="14.2"/><circle cx="1159.1" cy="1376.7" r="14.2"/><circle cx="1069.0" cy="1470.8" r="14.2"/><circle cx="1211.0" cy="1295.2" r="14.2"/><circle cx="1110.6" cy="1475.6" r="14.2"/><circle cx="1140.7" cy="1427.4" r="14.2"/><circle cx="1257.5" cy="1223.6" r="14.2"/><circle cx="1191.1" cy="1280.9" r="14.2"/><circle cx="1199.0" cy="1366.1" r="14.2"/><circle cx="1105.2" cy="1425.2" r="14.2"/><circle cx="1228.9" cy="1236.4" r="14.2"/><circle cx="1116.1" cy="1400.9" r="14.2"/><circle cx="1308.6" cy="1220.0" r="14.2"/><circle cx="1244.0" cy="1195.5" r="14.2"/><circle cx="1174.2" cy="1381.9" r="14.2"/><circle cx="1235.3" cy="1222.6" r="14.2"/><circle cx="1156.2" cy="1263.6" r="14.2"/><circle cx="1196.5" cy="1381.0" r="14.2"/><circle cx="1010.0" cy="1507.9" r="14.2"/><circle cx="1312.0" cy="1186.3" r="14.2"/><circle cx="1215.6" cy="1266.1" r="14.2"/><circle cx="1013.1" cy="1565.0" r="14.2"/><circle cx="1072.3" cy="1483.6" r="14.2"/><circle cx="1159.0" cy="1413.5" r="14.2"/><circle cx="1205.9" cy="1283.0" r="14.2"/><circle cx="1034.6" cy="1465.8" r="14.2"/><circle cx="1292.2" cy="1223.4" r="14.2"/><circle cx="1104.6" cy="1472.0" r="14.2"/><circle cx="1343.3" cy="1178.6" r="14.2"/><circle cx="1207.8" cy="1286.4" r="14.2"/><circle cx="1136.3" cy="1377.8" r="14.2"/><circle cx="1103.1" cy="1430.5" r="14.2"/><circle cx="991.9" cy="1535.2" r="14.2"/><circle cx="982.4" cy="1616.5" r="14.2"/><circle cx="1162.8" cy="1467.0" r="14.2"/><circle cx="1212.5" cy="1252.1" r="14.2"/><circle cx="1255.5" cy="1169.4" r="14.2"/><circle cx="1117.0" cy="1479.6" r="14.2"/><circle cx="1278.5" cy="1232.9" r="14.2"/><circle cx="1081.8" cy="1434.0" r="14.2"/><circle cx="1278.2" cy="1180.6" r="14.2"/><circle cx="1261.9" cy="1198.4" r="14.2"/><circle cx="1034.4" cy="1414.3" r="14.2"/><circle cx="1243.4" cy="1242.3" r="14.2"/><circle cx="1190.9" cy="1288.4" r="14.2"/><circle cx="1189.7" cy="1290.1" r="14.2"/><circle cx="1232.5" cy="1269.8" r="14.2"/><circle cx="1155.2" cy="1288.6" r="14.2"/><circle cx="1142.9" cy="1336.4" r="14.2"/><circle cx="1115.9" cy="1346.7" r="14.2"/><circle cx="1244.6" cy="1252.3" r="14.2"/><circle cx="1257.8" cy="1184.9" r="14.2"/><circle cx="1036.5" cy="1561.0" r="14.2"/><circle cx="1212.9" cy="1262.3" r="14.2"/><circle cx="1082.7" cy="1598.1" r="14.2"/><circle cx="1045.2" cy="1551.0" r="14.2"/><circle cx="1056.7" cy="1431.8" r="14.2"/><circle cx="1159.5" cy="1370.4" r="14.2"/><circle cx="1080.0" cy="1445.5" r="14.2"/><circle cx="1078.3" cy="1549.6" r="14.2"/><circle cx="996.6" cy="1431.7" r="14.2"/><circle cx="1097.5" cy="1394.2" r="14.2"/><circle cx="1209.0" cy="1285.9" r="14.2"/><circle cx="871.1" cy="1617.2" r="14.2"/><circle cx="1141.7" cy="1355.7" r="14.2"/><circle cx="1165.5" cy="1265.8" r="14.2"/><circle cx="945.1" cy="1559.9" r="14.2"/><circle cx="1085.9" cy="1529.7" r="14.2"/><circle cx="1264.2" cy="1230.1" r="14.2"/><circle cx="1341.1" cy="1142.0" r="14.2"/><circle cx="1231.6" cy="1231.5" r="14.2"/><circle cx="1052.6" cy="1510.9" r="14.2"/><circle cx="1202.5" cy="1264.9" r="14.2"/><circle cx="1131.9" cy="1381.1" r="14.2"/><circle cx="1052.8" cy="1444.7" r="14.2"/><circle cx="1144.5" cy="1445.4" r="14.2"/><circle cx="1261.5" cy="1252.1" r="14.2"/><circle cx="1248.3" cy="1207.2" r="14.2"/><circle cx="1118.9" cy="1415.9" r="14.2"/><circle cx="952.0" cy="1546.2" r="14.2"/><circle cx="1264.3" cy="1146.9" r="14.2"/><circle cx="1317.1" cy="1198.4" r="14.2"/><circle cx="1144.6" cy="1357.1" r="14.2"/><circle cx="1058.9" cy="1513.0" r="14.2"/><circle cx="1155.2" cy="1384.4" r="14.2"/><circle cx="1187.8" cy="1315.4" r="14.2"/><circle cx="1134.1" cy="1455.3" r="14.2"/><circle cx="1094.5" cy="1550.7" r="14.2"/><circle cx="1076.2" cy="1366.8" r="14.2"/><circle cx="1084.5" cy="1456.0" r="14.2"/><circle cx="945.0" cy="1502.2" r="14.2"/><circle cx="1067.5" cy="1465.6" r="14.2"/><circle cx="1269.0" cy="1214.5" r="14.2"/><circle cx="837.3" cy="1642.8" r="14.2"/><circle cx="1192.1" cy="1272.2" r="14.2"/><circle cx="1216.2" cy="1320.3" r="14.2"/><circle cx="1116.9" cy="1331.3" r="14.2"/><circle cx="1163.0" cy="1388.6" r="14.2"/><circle cx="1066.1" cy="1461.4" r="14.2"/><circle cx="1176.9" cy="1194.2" r="14.2"/><circle cx="1198.0" cy="1296.0" r="14.2"/><circle cx="1193.0" cy="1224.4" r="14.2"/><circle cx="1145.6" cy="1385.1" r="14.2"/><circle cx="1284.0" cy="1190.5" r="14.2"/><circle cx="1252.3" cy="1227.4" r="14.2"/><circle cx="1150.5" cy="1339.2" r="14.2"/><circle cx="1179.2" cy="1359.5" r="14.2"/><circle cx="1088.2" cy="1495.6" r="14.2"/><circle cx="1274.1" cy="1204.9" r="14.2"/><circle cx="1182.2" cy="1384.3" r="14.2"/><circle cx="1249.3" cy="1261.3" r="14.2"/><circle cx="1083.3" cy="1408.8" r="14.2"/><circle cx="1293.5" cy="1221.4" r="14.2"/><circle cx="996.0" cy="1585.1" r="14.2"/><circle cx="1141.2" cy="1427.6" r="14.2"/><circle cx="1007.2" cy="1519.3" r="14.2"/><circle cx="1046.3" cy="1513.2" r="14.2"/><circle cx="1212.3" cy="1274.6" r="14.2"/><circle cx="950.2" cy="1578.4" r="14.2"/><circle cx="1118.6" cy="1288.4" r="14.2"/><circle cx="1041.9" cy="1521.2" r="14.2"/><circle cx="1235.9" cy="1318.7" r="14.2"/><circle cx="985.5" cy="1537.4" r="14.2"/><circle cx="1095.2" cy="1435.8" r="14.2"/><circle cx="1236.9" cy="1243.0" r="14.2"/><circle cx="1190.2" cy="1373.2" r="14.2"/><circle cx="1187.3" cy="1257.1" r="14.2"/><circle cx="1325.8" cy="1185.0" r="14.2"/><circle cx="888.8" cy="1625.3" r="14.2"/><circle cx="1177.0" cy="1393.2" r="14.2"/><circle cx="1212.6" cy="1259.1" r="14.2"/><circle cx="1199.9" cy="1299.1" r="14.2"/><circle cx="1190.1" cy="1243.2" r="14.2"/><circle cx="964.2" cy="1580.6" r="14.2"/><circle cx="977.9" cy="1615.1" r="14.2"/><circle cx="1203.9" cy="1286.3" r="14.2"/><circle cx="1160.1" cy="1390.0" r="14.2"/><circle cx="1069.2" cy="1442.4" r="14.2"/><circle cx="842.9" cy="1730.7" r="14.2"/><circle cx="1155.5" cy="1361.4" r="14.2"/><circle cx="978.0" cy="1561.2" r="14.2"/><circle cx="1209.6" cy="1285.5" r="14.2"/><circle cx="1099.0" cy="1458.2" r="14.2"/><circle cx="1217.8" cy="1303.4" r="14.2"/><circle cx="988.4" cy="1545.0" r="14.2"/><circle cx="1136.2" cy="1409.3" r="14.2"/><circle cx="998.3" cy="1525.8" r="14.2"/><circle cx="1206.0" cy="1299.1" r="14.2"/><circle cx="1150.7" cy="1465.3" r="14.2"/><circle cx="1069.3" cy="1473.9" r="14.2"/><circle cx="1291.7" cy="1162.0" r="14.2"/><circle cx="1182.6" cy="1304.8" r="14.2"/><circle cx="1102.4" cy="1388.3" r="14.2"/><circle cx="1237.4" cy="1229.5" r="14.2"/><circle cx="1109.7" cy="1440.9" r="14.2"/><circle cx="1276.4" cy="1253.5" r="14.2"/><circle cx="1080.7" cy="1400.7" r="14.2"/><circle cx="1302.2" cy="1169.4" r="14.2"/><circle cx="950.6" cy="1533.6" r="14.2"/><circle cx="1195.4" cy="1282.8" r="14.2"/><circle cx="1082.8" cy="1426.7" r="14.2"/><circle cx="1124.5" cy="1398.2" r="14.2"/><circle cx="1168.8" cy="1324.1" r="14.2"/><circle cx="945.4" cy="1571.4" r="14.2"/><circle cx="1057.6" cy="1460.5" r="14.2"/><circle cx="988.6" cy="1592.4" r="14.2"/><circle cx="1201.6" cy="1318.6" r="14.2"/><circle cx="1062.0" cy="1439.3" r="14.2"/><circle cx="1145.1" cy="1385.2" r="14.2"/><circle cx="1093.3" cy="1568.1" r="14.2"/><circle cx="1071.0" cy="1460.7" r="14.2"/><circle cx="1268.9" cy="1287.9" r="14.2"/><circle cx="1145.9" cy="1258.8" r="14.2"/><circle cx="1175.0" cy="1293.0" r="14.2"/><circle cx="1187.5" cy="1280.3" r="14.2"/><circle cx="1223.5" cy="1289.9" r="14.2"/><circle cx="1079.7" cy="1518.6" r="14.2"/><circle cx="983.3" cy="1556.5" r="14.2"/><circle cx="1121.3" cy="1399.9" r="14.2"/><circle cx="1045.2" cy="1536.5" r="14.2"/><circle cx="873.1" cy="1630.9" r="14.2"/><circle cx="1265.3" cy="1196.0" r="14.2"/><circle cx="1169.9" cy="1305.3" r="14.2"/><circle cx="1107.3" cy="1473.3" r="14.2"/><circle cx="1019.1" cy="1636.0" r="14.2"/><circle cx="1210.3" cy="1282.9" r="14.2"/><circle cx="1153.8" cy="1387.3" r="14.2"/><circle cx="1048.6" cy="1460.2" r="14.2"/><circle cx="1306.3" cy="1151.2" r="14.2"/><circle cx="1279.7" cy="1156.8" r="14.2"/><circle cx="1264.5" cy="1211.5" r="14.2"/><circle cx="1234.2" cy="1205.2" r="14.2"/><circle cx="1137.3" cy="1283.2" r="14.2"/><circle cx="1081.9" cy="1450.6" r="14.2"/><circle cx="1175.4" cy="1315.4" r="14.2"/><circle cx="1034.9" cy="1444.8" r="14.2"/><circle cx="1170.2" cy="1337.0" r="14.2"/><circle cx="957.7" cy="1588.3" r="14.2"/><circle cx="865.0" cy="1686.3" r="14.2"/><circle cx="1190.4" cy="1308.2" r="14.2"/><circle cx="1097.6" cy="1464.8" r="14.2"/><circle cx="1189.2" cy="1271.9" r="14.2"/><circle cx="1207.2" cy="1299.2" r="14.2"/><circle cx="1239.2" cy="1184.3" r="14.2"/><circle cx="1170.0" cy="1272.7" r="14.2"/><circle cx="1232.4" cy="1297.1" r="14.2"/><circle cx="1175.3" cy="1273.5" r="14.2"/><circle cx="1264.6" cy="1233.6" r="14.2"/><circle cx="1251.9" cy="1174.1" r="14.2"/><circle cx="929.8" cy="1554.0" r="14.2"/><circle cx="1070.3" cy="1470.6" r="14.2"/><circle cx="1111.7" cy="1371.5" r="14.2"/><circle cx="1074.2" cy="1493.6" r="14.2"/><circle cx="1052.0" cy="1464.5" r="14.2"/><circle cx="1243.2" cy="1224.7" r="14.2"/><circle cx="885.1" cy="1632.7" r="14.2"/><circle cx="1040.5" cy="1470.9" r="14.2"/><circle cx="1199.9" cy="1333.6" r="14.2"/><circle cx="1056.3" cy="1444.3" r="14.2"/><circle cx="1077.2" cy="1525.0" r="14.2"/><circle cx="1289.0" cy="1187.6" r="14.2"/><circle cx="1206.3" cy="1266.2" r="14.2"/><circle cx="1125.3" cy="1352.2" r="14.2"/><circle cx="1016.5" cy="1548.4" r="14.2"/><circle cx="1090.0" cy="1240.9" r="14.2"/><circle cx="1299.9" cy="1206.6" r="14.2"/><circle cx="1214.2" cy="1270.8" r="14.2"/><circle cx="968.0" cy="1593.3" r="14.2"/><circle cx="1199.8" cy="1228.7" r="14.2"/><circle cx="1107.4" cy="1441.9" r="14.2"/><circle cx="1199.9" cy="1249.1" r="14.2"/><circle cx="1081.1" cy="1504.0" r="14.2"/><circle cx="1017.1" cy="1496.9" r="14.2"/><circle cx="879.2" cy="1648.8" r="14.2"/><circle cx="1092.7" cy="1376.7" r="14.2"/><circle cx="1229.1" cy="1267.7" r="14.2"/><circle cx="1249.6" cy="1259.4" r="14.2"/><circle cx="1181.4" cy="1297.2" r="14.2"/><circle cx="1205.2" cy="1332.6" r="14.2"/><circle cx="1063.5" cy="1527.9" r="14.2"/><circle cx="1101.6" cy="1376.5" r="14.2"/><circle cx="1256.3" cy="1284.3" r="14.2"/><circle cx="1313.3" cy="1173.0" r="14.2"/><circle cx="1129.3" cy="1407.6" r="14.2"/><circle cx="1208.2" cy="1317.9" r="14.2"/><circle cx="1273.9" cy="1206.9" r="14.2"/><circle cx="1356.6" cy="1145.4" r="14.2"/><circle cx="1081.6" cy="1483.0" r="14.2"/><circle cx="1173.8" cy="1336.3" r="14.2"/><circle cx="1106.9" cy="1367.6" r="14.2"/><circle cx="1128.1" cy="1344.8" r="14.2"/><circle cx="1125.6" cy="1395.3" r="14.2"/><circle cx="1090.9" cy="1479.5" r="14.2"/><circle cx="879.1" cy="1676.4" r="14.2"/><circle cx="1201.4" cy="1314.9" r="14.2"/><circle cx="1191.6" cy="1273.0" r="14.2"/><circle cx="1232.2" cy="1228.7" r="14.2"/><circle cx="1033.7" cy="1480.7" r="14.2"/><circle cx="1078.5" cy="1361.4" r="14.2"/><circle cx="1167.9" cy="1349.1" r="14.2"/><circle cx="1270.7" cy="1227.6" r="14.2"/><circle cx="1128.7" cy="1406.9" r="14.2"/><circle cx="1057.4" cy="1347.6" r="14.2"/><circle cx="1167.3" cy="1423.9" r="14.2"/><circle cx="1281.3" cy="1201.0" r="14.2"/><circle cx="1247.5" cy="1215.3" r="14.2"/><circle cx="1259.7" cy="1220.4" r="14.2"/><circle cx="1115.1" cy="1261.8" r="14.2"/><circle cx="1074.0" cy="1381.1" r="14.2"/><circle cx="1247.6" cy="1201.8" r="14.2"/><circle cx="1223.1" cy="1295.8" r="14.2"/><circle cx="1228.4" cy="1236.2" r="14.2"/><circle cx="1116.5" cy="1422.4" r="14.2"/><circle cx="1088.1" cy="1439.0" r="14.2"/><circle cx="1075.6" cy="1444.8" r="14.2"/><circle cx="1245.3" cy="1251.4" r="14.2"/><circle cx="1254.4" cy="1200.4" r="14.2"/><circle cx="1118.8" cy="1301.1" r="14.2"/><circle cx="1251.0" cy="1186.9" r="14.2"/><circle cx="1119.5" cy="1386.8" r="14.2"/><circle cx="1126.0" cy="1484.6" r="14.2"/><circle cx="1158.3" cy="1289.7" r="14.2"/><circle cx="1064.7" cy="1397.2" r="14.2"/><circle cx="1073.7" cy="1470.6" r="14.2"/><circle cx="1078.4" cy="1479.6" r="14.2"/><circle cx="1077.3" cy="1411.1" r="14.2"/><circle cx="1134.5" cy="1417.6" r="14.2"/><circle cx="988.1" cy="1486.1" r="14.2"/><circle cx="1205.3" cy="1326.3" r="14.2"/><circle cx="1046.8" cy="1537.7" r="14.2"/><circle cx="1128.5" cy="1386.6" r="14.2"/><circle cx="1180.7" cy="1376.4" r="14.2"/><circle cx="1024.7" cy="1507.2" r="14.2"/><circle cx="1117.1" cy="1369.8" r="14.2"/><circle cx="1147.9" cy="1420.8" r="14.2"/><circle cx="1151.0" cy="1306.3" r="14.2"/><circle cx="1251.8" cy="1244.8" r="14.2"/><circle cx="1223.3" cy="1239.4" r="14.2"/><circle cx="999.9" cy="1515.0" r="14.2"/><circle cx="1235.0" cy="1263.7" r="14.2"/><circle cx="1148.2" cy="1384.6" r="14.2"/><circle cx="1179.9" cy="1387.4" r="14.2"/><circle cx="1039.6" cy="1531.4" r="14.2"/><circle cx="1120.8" cy="1434.8" r="14.2"/><circle cx="1197.6" cy="1219.3" r="14.2"/><circle cx="1219.7" cy="1223.1" r="14.2"/><circle cx="1226.3" cy="1306.7" r="14.2"/><circle cx="1064.5" cy="1415.7" r="14.2"/><circle cx="1227.5" cy="1248.3" r="14.2"/><circle cx="1155.1" cy="1368.5" r="14.2"/><circle cx="1184.7" cy="1290.3" r="14.2"/><circle cx="1230.3" cy="1220.5" r="14.2"/><circle cx="1115.9" cy="1431.7" r="14.2"/><circle cx="1256.7" cy="1231.8" r="14.2"/><circle cx="1242.7" cy="1231.5" r="14.2"/><circle cx="1217.7" cy="1305.1" r="14.2"/><circle cx="1110.4" cy="1399.4" r="14.2"/><circle cx="1146.0" cy="1367.4" r="14.2"/><circle cx="1042.8" cy="1527.2" r="14.2"/><circle cx="1205.6" cy="1316.5" r="14.2"/><circle cx="1246.4" cy="1221.1" r="14.2"/><circle cx="1035.6" cy="1437.9" r="14.2"/><circle cx="1212.9" cy="1261.6" r="14.2"/><circle cx="1194.8" cy="1331.8" r="14.2"/><circle cx="917.7" cy="1546.4" r="14.2"/><circle cx="1255.1" cy="1217.4" r="14.2"/><circle cx="1142.0" cy="1335.3" r="14.2"/><circle cx="1082.1" cy="1370.9" r="14.2"/><circle cx="904.5" cy="1648.0" r="14.2"/><circle cx="1207.9" cy="1287.8" r="14.2"/><circle cx="1094.9" cy="1462.0" r="14.2"/><circle cx="1144.5" cy="1405.2" r="14.2"/><circle cx="1060.1" cy="1337.4" r="14.2"/><circle cx="1166.3" cy="1287.8" r="14.2"/><circle cx="1107.5" cy="1503.1" r="14.2"/><circle cx="1225.4" cy="1241.9" r="14.2"/><circle cx="1180.1" cy="1340.7" r="14.2"/><circle cx="1198.1" cy="1241.7" r="14.2"/><circle cx="1067.4" cy="1461.6" r="14.2"/><circle cx="955.3" cy="1568.6" r="14.2"/><circle cx="1245.0" cy="1229.4" r="14.2"/><circle cx="1273.8" cy="1200.3" r="14.2"/><circle cx="1181.5" cy="1315.2" r="14.2"/><circle cx="1264.3" cy="1225.5" r="14.2"/><circle cx="1198.9" cy="1299.2" r="14.2"/><circle cx="1162.1" cy="1315.3" r="14.2"/><circle cx="1131.3" cy="1436.3" r="14.2"/><circle cx="1094.7" cy="1431.4" r="14.2"/><circle cx="1133.3" cy="1385.9" r="14.2"/><circle cx="1057.1" cy="1503.6" r="14.2"/><circle cx="1123.6" cy="1348.9" r="14.2"/><circle cx="1143.5" cy="1425.4" r="14.2"/><circle cx="900.3" cy="1625.4" r="14.2"/><circle cx="1111.6" cy="1451.2" r="14.2"/><circle cx="1090.3" cy="1401.6" r="14.2"/><circle cx="1172.4" cy="1347.9" r="14.2"/><circle cx="1221.8" cy="1262.6" r="14.2"/><circle cx="1168.6" cy="1313.8" r="14.2"/><circle cx="1184.7" cy="1374.7" r="14.2"/><circle cx="1163.8" cy="1316.3" r="14.2"/><circle cx="1079.7" cy="1491.0" r="14.2"/><circle cx="1108.8" cy="1425.3" r="14.2"/><circle cx="1227.2" cy="1261.7" r="14.2"/><circle cx="1277.6" cy="1183.9" r="14.2"/><circle cx="1042.0" cy="1440.9" r="14.2"/><circle cx="843.9" cy="1564.6" r="14.2"/><circle cx="1286.9" cy="1200.8" r="14.2"/><circle cx="1228.1" cy="1273.0" r="14.2"/><circle cx="1165.5" cy="1358.8" r="14.2"/><circle cx="1218.0" cy="1240.9" r="14.2"/><circle cx="1161.0" cy="1258.6" r="14.2"/><circle cx="1261.4" cy="1207.7" r="14.2"/><circle cx="1072.4" cy="1491.9" r="14.2"/><circle cx="1121.9" cy="1378.7" r="14.2"/><circle cx="1183.7" cy="1301.2" r="14.2"/><circle cx="1058.5" cy="1473.4" r="14.2"/><circle cx="1186.9" cy="1338.2" r="14.2"/><circle cx="1078.1" cy="1589.2" r="14.2"/><circle cx="1192.0" cy="1323.2" r="14.2"/><circle cx="1214.5" cy="1227.4" r="14.2"/><circle cx="1123.7" cy="1380.2" r="14.2"/><circle cx="1310.1" cy="1242.2" r="14.2"/><circle cx="1160.4" cy="1344.1" r="14.2"/><circle cx="1204.3" cy="1354.8" r="14.2"/><circle cx="868.4" cy="1520.3" r="14.2"/><circle cx="1002.5" cy="1513.8" r="14.2"/><circle cx="1195.6" cy="1343.5" r="14.2"/><circle cx="1268.8" cy="1187.6" r="14.2"/><circle cx="1160.1" cy="1378.3" r="14.2"/><circle cx="1255.7" cy="1201.8" r="14.2"/><circle cx="950.2" cy="1562.2" r="14.2"/><circle cx="1242.2" cy="1277.4" r="14.2"/><circle cx="1247.9" cy="1204.6" r="14.2"/><circle cx="1171.6" cy="1384.6" r="14.2"/><circle cx="1130.9" cy="1304.5" r="14.2"/><circle cx="1192.8" cy="1298.9" r="14.2"/><circle cx="1076.9" cy="1510.0" r="14.2"/><circle cx="1183.8" cy="1384.6" r="14.2"/><circle cx="1195.0" cy="1223.2" r="14.2"/><circle cx="1157.2" cy="1270.6" r="14.2"/><circle cx="1071.5" cy="1530.2" r="14.2"/><circle cx="809.4" cy="1614.4" r="14.2"/><circle cx="1060.0" cy="1462.8" r="14.2"/><circle cx="1236.5" cy="1253.3" r="14.2"/><circle cx="1062.9" cy="1476.4" r="14.2"/><circle cx="960.5" cy="1569.6" r="14.2"/><circle cx="1077.5" cy="1358.1" r="14.2"/><circle cx="1133.6" cy="1371.0" r="14.2"/><circle cx="1152.2" cy="1436.3" r="14.2"/><circle cx="1247.8" cy="1147.4" r="14.2"/><circle cx="1237.6" cy="1208.0" r="14.2"/><circle cx="1280.8" cy="1239.2" r="14.2"/><circle cx="1248.9" cy="1241.5" r="14.2"/><circle cx="1124.4" cy="1435.5" r="14.2"/><circle cx="1013.6" cy="1513.6" r="14.2"/><circle cx="1271.1" cy="1201.1" r="14.2"/><circle cx="1061.6" cy="1456.5" r="14.2"/><circle cx="1161.0" cy="1369.2" r="14.2"/><circle cx="1077.7" cy="1496.5" r="14.2"/><circle cx="1213.8" cy="1237.2" r="14.2"/><circle cx="1056.2" cy="1483.2" r="14.2"/><circle cx="1124.2" cy="1257.4" r="14.2"/><circle cx="1053.9" cy="1523.9" r="14.2"/><circle cx="1252.3" cy="1194.5" r="14.2"/><circle cx="1172.8" cy="1325.7" r="14.2"/><circle cx="1171.9" cy="1360.4" r="14.2"/><circle cx="1082.4" cy="1357.3" r="14.2"/><circle cx="1050.8" cy="1474.3" r="14.2"/><circle cx="1231.1" cy="1283.1" r="14.2"/><circle cx="1203.8" cy="1299.5" r="14.2"/><circle cx="1195.8" cy="1250.4" r="14.2"/><circle cx="1347.9" cy="1185.4" r="14.2"/><circle cx="1146.6" cy="1285.7" r="14.2"/><circle cx="1052.1" cy="1434.9" r="14.2"/><circle cx="1164.6" cy="1350.7" r="14.2"/><circle cx="1090.4" cy="1348.7" r="14.2"/><circle cx="1138.8" cy="1272.6" r="14.2"/><circle cx="1121.0" cy="1360.2" r="14.2"/><circle cx="1152.8" cy="1345.1" r="14.2"/><circle cx="1255.6" cy="1151.8" r="14.2"/><circle cx="1214.3" cy="1207.8" r="14.2"/><circle cx="1106.7" cy="1461.9" r="14.2"/><circle cx="1218.6" cy="1276.1" r="14.2"/><circle cx="1243.4" cy="1244.1" r="14.2"/><circle cx="1204.4" cy="1302.1" r="14.2"/><circle cx="1159.3" cy="1410.2" r="14.2"/><circle cx="1264.4" cy="1185.4" r="14.2"/><circle cx="1142.6" cy="1363.2" r="14.2"/><circle cx="989.6" cy="1529.2" r="14.2"/><circle cx="1089.8" cy="1345.8" r="14.2"/><circle cx="1182.5" cy="1337.6" r="14.2"/><circle cx="1113.5" cy="1409.1" r="14.2"/><circle cx="1123.0" cy="1377.3" r="14.2"/><circle cx="1109.2" cy="1433.6" r="14.2"/><circle cx="1045.3" cy="1493.7" r="14.2"/><circle cx="990.0" cy="1485.5" r="14.2"/><circle cx="944.7" cy="1567.8" r="14.2"/><circle cx="767.6" cy="1830.8" r="14.2"/><circle cx="849.5" cy="2066.3" r="14.2"/><circle cx="1299.8" cy="1100.6" r="14.2"/><circle cx="1294.8" cy="1110.7" r="14.2"/><circle cx="868.2" cy="1745.9" r="14.2"/><circle cx="921.8" cy="1735.2" r="14.2"/><circle cx="916.2" cy="1777.8" r="14.2"/><circle cx="923.6" cy="1737.4" r="14.2"/><circle cx="851.1" cy="1738.6" r="14.2"/><circle cx="924.6" cy="1742.5" r="14.2"/><circle cx="899.3" cy="1736.5" r="14.2"/><circle cx="915.8" cy="1740.1" r="14.2"/><circle cx="821.4" cy="1776.2" r="14.2"/><circle cx="826.5" cy="1760.0" r="14.2"/><circle cx="820.0" cy="1754.6" r="14.2"/><circle cx="921.2" cy="1727.5" r="14.2"/><circle cx="816.7" cy="1746.3" r="14.2"/><circle cx="829.1" cy="1735.0" r="14.2"/></g>
<g fill="#e74c3c" fill-opacity="0.25"><circle cx="1205.2" cy="1314.2" r="10.1"/><circle cx="1291.8" cy="1240.4" r="10.1"/><circle cx="1338.9" cy="1177.5" r="10.1"/><circle cx="1122.3" cy="1430.8" r="10.1"/><circle cx="1380.4" cy="1087.4" r="10.1"/><circle cx="1322.4" cy="1183.8" r="10.1"/><circle cx="1381.8" cy="1088.3" r="10.1"/><circle cx="1416.0" cy="1093.4" r="10.1"/><circle cx="1347.5" cy="1179.5" r="10.1"/><circle cx="1342.8" cy="1146.5" r="10.1"/><circle cx="1473.9" cy="1025.0" r="10.1"/><circle cx="1338.8" cy="1192.4" r="10.1"/><circle cx="1404.5" cy="1159.1" r="10.1"/><circle cx="1376.9" cy="1132.4" r="10.1"/><circle cx="1146.6" cy="1408.3" r="10.1"/><circle cx="1338.7" cy="1162.4" r="10.1"/><circle cx="1374.0" cy="1161.6" r="10.1"/><circle cx="1244.1" cy="1359.2" r="10.1"/><circle cx="1407.5" cy="1102.1" r="10.1"/><circle cx="1415.5" cy="1052.7" r="10.1"/><circle cx="1386.5" cy="1196.7" r="10.1"/><circle cx="1392.9" cy="1153.2" r="10.1"/><circle cx="1362.8" cy="1183.8" r="10.1"/><circle cx="1391.8" cy="1138.9" r="10.1"/><circle cx="1343.7" cy="1232.5" r="10.1"/><circle cx="1352.6" cy="1143.0" r="10.1"/><circle cx="1381.6" cy="1124.7" r="10.1"/><circle cx="1347.8" cy="1202.8" r="10.1"/><circle cx="1332.3" cy="1249.5" r="10.1"/><circle cx="1341.6" cy="1187.9" r="10.1"/><circle cx="1355.5" cy="1134.5" r="10.1"/><circle cx="1343.7" cy="1174.8" r="10.1"/><circle cx="1377.2" cy="1127.3" r="10.1"/><circle cx="1389.6" cy="1157.1" r="10.1"/><circle cx="1387.4" cy="1134.2" r="10.1"/><circle cx="1404.6" cy="1149.0" r="10.1"/><circle cx="1351.2" cy="1139.6" r="10.1"/><circle cx="1347.0" cy="1176.6" r="10.1"/><circle cx="1387.8" cy="1185.0" r="10.1"/><circle cx="1326.2" cy="1258.1" r="10.1"/><circle cx="1378.8" cy="1140.1" r="10.1"/><circle cx="1360.0" cy="1170.7" r="10.1"/><circle cx="1371.8" cy="1166.3" r="10.1"/><circle cx="1375.0" cy="1141.9" r="10.1"/><circle cx="1382.7" cy="1101.4" r="10.1"/><circle cx="1339.6" cy="1190.3" r="10.1"/><circle cx="1192.3" cy="1465.6" r="10.1"/><circle cx="1419.7" cy="1100.2" r="10.1"/><circle cx="1397.5" cy="1154.5" r="10.1"/><circle cx="1368.4" cy="1181.6" r="10.1"/><circle cx="1382.7" cy="1138.4" r="10.1"/><circle cx="1275.6" cy="1280.9" r="10.1"/><circle cx="1346.7" cy="1214.4" r="10.1"/><circle cx="1360.0" cy="1174.5" r="10.1"/><circle cx="1372.3" cy="1177.2" r="10.1"/><circle cx="1323.7" cy="1205.8" r="10.1"/><circle cx="1277.8" cy="1280.1" r="10.1"/><circle cx="1425.2" cy="1081.4" r="10.1"/><circle cx="1400.5" cy="1128.1" r="10.1"/><circle cx="1323.4" cy="1201.1" r="10.1"/><circle cx="1393.3" cy="1134.7" r="10.1"/><circle cx="1383.8" cy="1144.6" r="10.1"/><circle cx="1321.8" cy="1233.7" r="10.1"/><circle cx="1392.4" cy="1129.9" r="10.1"/><circle cx="1350.8" cy="1225.6" r="10.1"/><circle cx="1337.1" cy="1140.5" r="10.1"/><circle cx="1325.0" cy="1248.6" r="10.1"/><circle cx="1360.4" cy="1171.3" r="10.1"/><circle cx="1367.6" cy="1175.4" r="10.1"/><circle cx="1361.9" cy="1182.7" r="10.1"/><circle cx="1287.3" cy="1252.8" r="10.1"/><circle cx="1392.6" cy="1143.9" r="10.1"/><circle cx="1332.8" cy="1227.3" r="10.1"/><circle cx="1336.9" cy="1234.0" r="10.1"/><circle cx="1361.0" cy="1214.7" r="10.1"/><circle cx="1321.1" cy="1276.5" r="10.1"/><circle cx="1419.0" cy="1059.7" r="10.1"/><circle cx="1379.5" cy="1179.6" r="10.1"/><circle cx="1387.6" cy="1162.8" r="10.1"/><circle cx="1337.3" cy="1197.3" r="10.1"/><circle cx="1345.2" cy="1159.6" r="10.1"/><circle cx="1339.0" cy="1238.6" r="10.1"/><circle cx="1331.3" cy="1281.2" r="10.1"/><circle cx="1342.9" cy="1189.5" r="10.1"/><circle cx="1384.1" cy="1136.7" r="10.1"/><circle cx="1364.1" cy="1200.9" r="10.1"/><circle cx="1388.0" cy="1178.3" r="10.1"/><circle cx="1294.4" cy="1277.3" r="10.1"/><circle cx="1332.4" cy="1190.5" r="10.1"/><circle cx="1223.2" cy="1336.0" r="10.1"/><circle cx="1423.3" cy="1076.6" r="10.1"/><circle cx="1271.5" cy="1284.7" r="10.1"/><circle cx="1356.4" cy="1180.5" r="10.1"/><circle cx="1382.8" cy="1132.3" r="10.1"/><circle cx="1321.2" cy="1224.3" r="10.1"/><circle cx="1435.4" cy="1071.5" r="10.1"/><circle cx="1438.0" cy="1091.9" r="10.1"/><circle cx="1330.7" cy="1223.9" r="10.1"/><circle cx="1305.6" cy="1218.6" r="10.1"/><circle cx="1382.0" cy="1152.2" r="10.1"/><circle cx="1363.0" cy="1187.4" r="10.1"/><circle cx="1368.2" cy="1149.5" r="10.1"/><circle cx="1367.4" cy="1141.2" r="10.1"/><circle cx="1439.0" cy="1071.9" r="10.1"/><circle cx="1392.7" cy="1149.4" r="10.1"/><circle cx="1329.0" cy="1191.2" r="10.1"/><circle cx="1382.2" cy="1091.7" r="10.1"/><circle cx="1344.5" cy="1212.0" r="10.1"/><circle cx="1427.3" cy="1119.5" r="10.1"/><circle cx="1347.0" cy="1226.1" r="10.1"/><circle cx="1136.8" cy="1449.9" r="10.1"/><circle cx="1413.2" cy="1132.8" r="10.1"/><circle cx="1336.9" cy="1229.7" r="10.1"/><circle cx="1396.2" cy="1109.9" r="10.1"/><circle cx="1359.5" cy="1136.7" r="10.1"/><circle cx="1374.9" cy="1091.0" r="10.1"/><circle cx="1378.6" cy="1135.0" r="10.1"/><circle cx="1401.6" cy="1131.5" r="10.1"/><circle cx="1390.4" cy="1112.2" r="10.1"/><circle cx="1382.3" cy="1160.1" r="10.1"/><circle cx="1329.7" cy="1219.4" r="10.1"/><circle cx="1349.3" cy="1241.3" r="10.1"/><circle cx="1331.0" cy="1181.3" r="10.1"/><circle cx="1338.8" cy="1177.0" r="10.1"/><circle cx="1344.8" cy="1203.5" r="10.1"/><circle cx="1353.2" cy="1189.8" r="10.1"/><circle cx="1333.6" cy="1205.7" r="10.1"/><circle cx="1341.0" cy="1193.0" r="10.1"/><circle cx="1333.1" cy="1187.7" r="10.1"/><circle cx="1321.0" cy="1220.3" r="10.1"/><circle cx="1357.3" cy="1168.7" r="10.1"/><circle cx="1276.4" cy="1313.5" r="10.1"/><circle cx="1333.8" cy="1213.3" r="10.1"/><circle cx="1326.6" cy="1256.9" r="10.1"/><circle cx="1377.8" cy="1113.2" r="10.1"/><circle cx="1339.3" cy="1167.6" r="10.1"/><circle cx="1298.3" cy="1232.4" r="10.1"/><circle cx="1384.8" cy="1119.0" r="10.1"/><circle cx="1346.3" cy="1145.4" r="10.1"/><circle cx="1395.1" cy="1109.4" r="10.1"/><circle cx="1338.5" cy="1237.2" r="10.1"/><circle cx="1335.9" cy="1208.6" r="10.1"/><circle cx="1361.4" cy="1225.7" r="10.1"/><circle cx="1265.6" cy="1310.0" r="10.1"/><circle cx="1425.4" cy="1116.1" r="10.1"/><circle cx="1302.1" cy="1245.3" r="10.1"/><circle cx="1416.2" cy="1086.1" r="10.1"/><circle cx="1371.6" cy="1181.0" r="10.1"/><circle cx="1386.7" cy="1154.0" r="10.1"/><circle cx="1325.4" cy="1210.2" r="10.1"/><circle cx="1408.1" cy="1116.2" r="10.1"/><circle cx="1365.9" cy="1171.3" r="10.1"/><circle cx="1349.8" cy="1297.2" r="10.1"/><circle cx="1327.0" cy="1236.1" r="10.1"/><circle cx="1317.4" cy="1207.9" r="10.1"/><circle cx="1406.0" cy="1110.0" r="10.1"/><circle cx="1431.0" cy="1113.6" r="10.1"/><circle cx="1355.0" cy="1186.9" r="10.1"/><circle cx="1374.4" cy="1146.0" r="10.1"/><circle cx="1373.0" cy="1180.5" r="10.1"/><circle cx="1352.6" cy="1168.4" r="10.1"/><circle cx="1353.2" cy="1201.1" r="10.1"/><circle cx="1365.8" cy="1175.0" r="10.1"/><circle cx="1338.9" cy="1202.8" r="10.1"/><circle cx="1372.3" cy="1110.1" r="10.1"/><circle cx="1350.3" cy="1193.7" r="10.1"/><circle cx="1363.2" cy="1183.5" r="10.1"/><circle cx="1326.8" cy="1198.4" r="10.1"/><circle cx="1430.7" cy="1092.9" r="10.1"/><circle cx="1276.0" cy="1272.3" r="10.1"/><circle cx="1373.9" cy="1207.7" r="10.1"/><circle cx="1376.8" cy="1147.6" r="10.1"/><circle cx="1341.7" cy="1198.7" r="10.1"/><circle cx="1434.8" cy="1104.5" r="10.1"/><circle cx="1227.1" cy="1295.6" r="10.1"/><circle cx="1334.5" cy="1211.2" r="10.1"/><circle cx="1333.6" cy="1211.4" r="10.1"/><circle cx="1368.7" cy="1193.4" r="10.1"/><circle cx="1362.0" cy="1208.7" r="10.1"/><circle cx="1371.4" cy="1173.4" r="10.1"/><circle cx="1408.2" cy="1145.4" r="10.1"/><circle cx="1178.3" cy="1367.4" r="10.1"/><circle cx="1361.2" cy="1153.6" r="10.1"/><circle cx="1350.4" cy="1200.8" r="10.1"/><circle cx="1381.2" cy="1183.9" r="10.1"/><circle cx="1355.9" cy="1198.4" r="10.1"/><circle cx="1351.0" cy="1209.8" r="10.1"/><circle cx="1121.9" cy="1434.3" r="10.1"/><circle cx="1336.8" cy="1198.8" r="10.1"/><circle cx="1350.3" cy="1206.8" r="10.1"/><circle cx="1335.2" cy="1203.2" r="10.1"/><circle cx="1347.8" cy="1165.8" r="10.1"/><circle cx="1377.2" cy="1116.0" r="10.1"/><circle cx="1341.3" cy="1209.4" r="10.1"/><circle cx="1402.3" cy="1105.0" r="10.1"/><circle cx="1348.5" cy="1194.2" r="10.1"/><circle cx="1344.0" cy="1218.5" r="10.1"/><circle cx="1347.3" cy="1160.9" r="10.1"/><circle cx="1398.1" cy="1109.9" r="10.1"/><circle cx="1368.4" cy="1161.3" r="10.1"/><circle cx="1429.9" cy="1076.7" r="10.1"/><circle cx="1119.1" cy="1447.3" r="10.1"/><circle cx="1427.0" cy="1133.1" r="10.1"/><circle cx="1323.4" cy="1178.0" r="10.1"/><circle cx="1405.8" cy="1096.7" r="10.1"/><circle cx="1240.1" cy="1305.7" r="10.1"/><circle cx="1408.4" cy="1091.8" r="10.1"/><circle cx="1356.8" cy="1149.6" r="10.1"/><circle cx="1379.9" cy="1159.9" r="10.1"/><circle cx="1342.3" cy="1170.4" r="10.1"/><circle cx="1346.1" cy="1207.4" r="10.1"/><circle cx="1312.1" cy="1203.7" r="10.1"/><circle cx="1308.2" cy="1243.9" r="10.1"/><circle cx="1368.7" cy="1109.8" r="10.1"/><circle cx="1340.0" cy="1207.3" r="10.1"/><circle cx="1209.1" cy="1335.9" r="10.1"/><circle cx="1318.1" cy="1215.0" r="10.1"/><circle cx="1317.0" cy="1235.0" r="10.1"/><circle cx="1314.8" cy="1186.8" r="10.1"/><circle cx="1351.9" cy="1186.6" r="10.1"/><circle cx="1422.5" cy="1102.7" r="10.1"/><circle cx="1356.5" cy="1179.0" r="10.1"/><circle cx="1376.5" cy="1171.3" r="10.1"/><circle cx="1298.0" cy="1221.5" r="10.1"/><circle cx="1378.5" cy="1138.2" r="10.1"/><circle cx="1403.2" cy="1098.3" r="10.1"/><circle cx="1466.1" cy="1093.8" r="10.1"/><circle cx="1375.5" cy="1149.8" r="10.1"/><circle cx="1360.1" cy="1191.9" r="10.1"/><circle cx="1432.0" cy="1079.5" r="10.1"/><circle cx="1305.1" cy="1211.3" r="10.1"/><circle cx="1389.0" cy="1132.6" r="10.1"/><circle cx="1376.6" cy="1158.5" r="10.1"/><circle cx="1370.7" cy="1136.7" r="10.1"/><circle cx="1350.3" cy="1163.6" r="10.1"/><circle cx="1280.7" cy="1225.9" r="10.1"/><circle cx="1310.2" cy="1279.6" r="10.1"/><circle cx="1373.0" cy="1151.6" r="10.1"/><circle cx="1328.6" cy="1233.3" r="10.1"/><circle cx="1421.1" cy="1114.3" r="10.1"/><circle cx="1305.4" cy="1238.5" r="10.1"/><circle cx="1391.8" cy="1159.8" r="10.1"/><circle cx="1345.7" cy="1243.3" r="10.1"/><circle cx="1332.9" cy="1228.7" r="10.1"/><circle cx="1331.7" cy="1222.3" r="10.1"/><circle cx="1348.8" cy="1145.9" r="10.1"/><circle cx="1350.9" cy="1202.2" r="10.1"/><circle cx="1317.5" cy="1254.1" r="10.1"/><circle cx="1318.6" cy="1271.6" r="10.1"/><circle cx="1431.6" cy="1089.3" r="10.1"/><circle cx="1351.6" cy="1190.5" r="10.1"/><circle cx="1360.9" cy="1170.3" r="10.1"/><circle cx="1370.5" cy="1227.3" r="10.1"/><circle cx="1335.3" cy="1241.1" r="10.1"/><circle cx="1417.6" cy="1148.6" r="10.1"/><circle cx="1341.9" cy="1193.0" r="10.1"/><circle cx="1322.2" cy="1257.5" r="10.1"/><circle cx="1231.6" cy="1399.3" r="10.1"/><circle cx="1337.0" cy="1176.1" r="10.1"/><circle cx="1246.0" cy="1299.3" r="10.1"/><circle cx="1361.0" cy="1165.7" r="10.1"/><circle cx="1356.3" cy="1171.4" r="10.1"/><circle cx="1183.8" cy="1434.4" r="10.1"/><circle cx="1413.7" cy="1082.7" r="10.1"/><circle cx="1382.8" cy="1169.5" r="10.1"/><circle cx="1358.5" cy="1133.5" r="10.1"/><circle cx="1424.7" cy="1086.3" r="10.1"/><circle cx="1368.5" cy="1205.6" r="10.1"/><circle cx="1321.4" cy="1201.5" r="10.1"/><circle cx="1390.0" cy="1093.7" r="10.1"/><circle cx="1430.5" cy="1088.6" r="10.1"/><circle cx="1255.2" cy="1275.2" r="10.1"/><circle cx="1358.4" cy="1181.5" r="10.1"/><circle cx="1319.1" cy="1239.3" r="10.1"/><circle cx="1398.2" cy="1238.8" r="10.1"/><circle cx="1292.4" cy="1227.1" r="10.1"/><circle cx="1386.2" cy="1151.6" r="10.1"/><circle cx="1326.9" cy="1206.2" r="10.1"/><circle cx="1362.0" cy="1197.7" r="10.1"/><circle cx="1372.8" cy="1179.4" r="10.1"/><circle cx="1387.3" cy="1115.8" r="10.1"/><circle cx="1247.3" cy="1321.0" r="10.1"/><circle cx="1343.2" cy="1214.5" r="10.1"/><circle cx="1301.1" cy="1276.8" r="10.1"/><circle cx="1310.3" cy="1230.4" r="10.1"/><circle cx="1315.6" cy="1193.0" r="10.1"/><circle cx="1312.0" cy="1255.9" r="10.1"/><circle cx="1424.7" cy="1094.9" r="10.1"/><circle cx="1368.5" cy="1191.7" r="10.1"/><circle cx="1330.5" cy="1178.1" r="10.1"/><circle cx="1352.9" cy="1197.4" r="10.1"/><circle cx="1253.1" cy="1309.0" r="10.1"/><circle cx="1327.3" cy="1175.3" r="10.1"/><circle cx="1359.9" cy="1180.0" r="10.1"/><circle cx="1378.1" cy="1186.9" r="10.1"/><circle cx="1364.3" cy="1190.2" r="10.1"/><circle cx="1441.7" cy="1076.3" r="10.1"/><circle cx="1433.5" cy="1042.0" r="10.1"/><circle cx="1393.6" cy="1127.1" r="10.1"/><circle cx="1353.1" cy="1188.1" r="10.1"/><circle cx="1381.5" cy="1129.6" r="10.1"/><circle cx="1328.4" cy="1182.7" r="10.1"/><circle cx="1407.9" cy="1146.4" r="10.1"/><circle cx="1332.6" cy="1174.8" r="10.1"/><circle cx="1449.6" cy="1041.5" r="10.1"/><circle cx="1149.8" cy="1384.9" r="10.1"/><circle cx="1388.8" cy="1190.3" r="10.1"/><circle cx="1361.4" cy="1168.4" r="10.1"/><circle cx="1393.2" cy="1101.9" r="10.1"/><circle cx="1364.3" cy="1175.4" r="10.1"/><circle cx="1394.8" cy="1079.8" r="10.1"/><circle cx="1369.8" cy="1161.0" r="10.1"/><circle cx="1359.7" cy="1197.9" r="10.1"/><circle cx="1421.5" cy="1082.4" r="10.1"/><circle cx="1289.8" cy="1252.9" r="10.1"/><circle cx="1423.0" cy="1075.4" r="10.1"/><circle cx="1360.1" cy="1179.4" r="10.1"/><circle cx="1378.9" cy="1122.2" r="10.1"/><circle cx="1370.4" cy="1174.2" r="10.1"/><circle cx="1354.6" cy="1178.0" r="10.1"/><circle cx="1357.4" cy="1206.0" r="10.1"/><circle cx="1430.9" cy="1099.5" r="10.1"/><circle cx="1347.3" cy="1185.2" r="10.1"/><circle cx="1415.5" cy="1117.0" r="10.1"/><circle cx="1141.3" cy="1431.4" r="10.1"/><circle cx="1363.1" cy="1175.4" r="10.1"/><circle cx="1380.7" cy="1138.1" r="10.1"/><circle cx="1355.4" cy="1162.5" r="10.1"/><circle cx="1283.7" cy="1248.4" r="10.1"/><circle cx="1393.6" cy="1109.3" r="10.1"/><circle cx="1372.4" cy="1154.7" r="10.1"/><circle cx="1344.9" cy="1205.4" r="10.1"/><circle cx="1286.6" cy="1303.0" r="10.1"/><circle cx="1384.8" cy="1151.0" r="10.1"/><circle cx="1394.4" cy="1148.2" r="10.1"/><circle cx="1384.3" cy="1184.3" r="10.1"/><circle cx="1387.3" cy="1103.6" r="10.1"/><circle cx="1333.4" cy="1249.7" r="10.1"/><circle cx="1358.0" cy="1161.1" r="10.1"/><circle cx="1346.6" cy="1177.8" r="10.1"/><circle cx="1345.4" cy="1203.5" r="10.1"/><circle cx="1347.6" cy="1129.8" r="10.1"/><circle cx="1372.1" cy="1159.1" r="10.1"/><circle cx="1467.1" cy="1052.9" r="10.1"/><circle cx="1354.5" cy="1140.7" r="10.1"/><circle cx="1352.2" cy="1221.1" r="10.1"/><circle cx="1366.5" cy="1198.9" r="10.1"/><circle cx="1359.3" cy="1198.1" r="10.1"/><circle cx="1355.0" cy="1195.2" r="10.1"/><circle cx="1381.2" cy="1147.0" r="10.1"/><circle cx="1375.3" cy="1148.1" r="10.1"/><circle cx="1373.7" cy="1191.9" r="10.1"/><circle cx="1325.2" cy="1208.5" r="10.1"/><circle cx="1370.0" cy="1061.8" r="10.1"/><circle cx="1349.9" cy="1203.1" r="10.1"/><circle cx="1409.4" cy="1113.6" r="10.1"/><circle cx="1368.5" cy="1148.3" r="10.1"/><circle cx="1396.4" cy="1075.5" r="10.1"/><circle cx="1389.5" cy="1151.9" r="10.1"/><circle cx="1314.4" cy="1252.9" r="10.1"/><circle cx="1277.4" cy="1300.3" r="10.1"/><circle cx="1387.3" cy="1115.6" r="10.1"/><circle cx="1252.9" cy="1258.7" r="10.1"/><circle cx="1421.3" cy="1141.5" r="10.1"/><circle cx="1383.3" cy="1193.1" r="10.1"/><circle cx="1346.4" cy="1219.6" r="10.1"/><circle cx="1374.7" cy="1190.2" r="10.1"/><circle cx="1301.5" cy="1235.6" r="10.1"/><circle cx="1367.4" cy="1160.4" r="10.1"/><circle cx="1418.2" cy="1057.0" r="10.1"/><circle cx="1081.6" cy="1460.3" r="10.1"/><circle cx="1418.3" cy="1096.5" r="10.1"/><circle cx="1334.8" cy="1177.4" r="10.1"/><circle cx="1353.3" cy="1203.1" r="10.1"/><circle cx="1414.5" cy="1134.4" r="10.1"/><circle cx="1390.6" cy="1134.7" r="10.1"/><circle cx="1348.1" cy="1167.1" r="10.1"/><circle cx="1426.5" cy="1122.8" r="10.1"/><circle cx="1205.1" cy="1328.7" r="10.1"/><circle cx="1373.0" cy="1139.1" r="10.1"/><circle cx="1361.8" cy="1183.5" r="10.1"/><circle cx="1405.1" cy="1112.8" r="10.1"/><circle cx="1185.8" cy="1380.7" r="10.1"/><circle cx="1340.7" cy="1196.0" r="10.1"/><circle cx="1343.2" cy="1176.0" r="10.1"/><circle cx="1272.2" cy="1322.6" r="10.1"/><circle cx="1375.4" cy="1132.1" r="10.1"/><circle cx="1408.2" cy="1093.4" r="10.1"/><circle cx="1402.0" cy="1100.7" r="10.1"/><circle cx="1310.4" cy="1282.1" r="10.1"/><circle cx="1365.3" cy="1210.2" r="10.1"/><circle cx="1439.3" cy="1056.8" r="10.1"/><circle cx="1270.8" cy="1297.9" r="10.1"/><circle cx="1370.3" cy="1177.5" r="10.1"/><circle cx="1334.9" cy="1241.3" r="10.1"/><circle cx="1414.3" cy="1163.0" r="10.1"/><circle cx="1364.0" cy="1176.0" r="10.1"/><circle cx="1399.9" cy="1139.2" r="10.1"/><circle cx="1239.4" cy="1335.9" r="10.1"/><circle cx="1366.5" cy="1155.6" r="10.1"/><circle cx="1350.2" cy="1213.6" r="10.1"/><circle cx="1298.1" cy="1222.3" r="10.1"/><circle cx="1347.2" cy="1293.5" r="10.1"/><circle cx="1378.9" cy="1094.7" r="10.1"/><circle cx="1362.0" cy="1234.6" r="10.1"/><circle cx="1368.5" cy="1150.8" r="10.1"/><circle cx="1329.4" cy="1190.1" r="10.1"/><circle cx="1367.9" cy="1165.5" r="10.1"/><circle cx="1342.1" cy="1178.8" r="10.1"/><circle cx="1423.1" cy="1095.0" r="10.1"/><circle cx="1398.6" cy="1163.9" r="10.1"/><circle cx="1351.6" cy="1176.6" r="10.1"/><circle cx="1357.2" cy="1151.5" r="10.1"/><circle cx="1338.9" cy="1226.4" r="10.1"/><circle cx="1358.9" cy="1214.7" r="10.1"/><circle cx="1301.3" cy="1260.6" r="10.1"/><circle cx="1437.2" cy="1067.2" r="10.1"/><circle cx="1349.9" cy="1179.6" r="10.1"/><circle cx="1145.6" cy="1381.4" r="10.1"/><circle cx="1339.0" cy="1186.8" r="10.1"/><circle cx="1412.6" cy="1095.6" r="10.1"/><circle cx="1329.4" cy="1258.9" r="10.1"/><circle cx="1351.8" cy="1132.8" r="10.1"/><circle cx="1436.9" cy="1073.5" r="10.1"/><circle cx="1386.0" cy="1122.4" r="10.1"/><circle cx="1354.2" cy="1189.4" r="10.1"/><circle cx="1314.6" cy="1237.5" r="10.1"/><circle cx="1352.6" cy="1182.0" r="10.1"/><circle cx="1350.6" cy="1149.3" r="10.1"/><circle cx="1402.8" cy="1086.3" r="10.1"/><circle cx="1361.1" cy="1158.8" r="10.1"/><circle cx="1415.5" cy="1059.6" r="10.1"/><circle cx="1445.6" cy="1072.0" r="10.1"/><circle cx="1404.3" cy="1095.2" r="10.1"/><circle cx="1344.2" cy="1204.1" r="10.1"/><circle cx="1342.1" cy="1165.8" r="10.1"/><circle cx="1363.1" cy="1169.6" r="10.1"/><circle cx="1372.3" cy="1137.1" r="10.1"/><circle cx="1398.8" cy="1086.7" r="10.1"/><circle cx="1387.0" cy="1233.3" r="10.1"/><circle cx="1330.1" cy="1159.3" r="10.1"/><circle cx="1381.7" cy="1140.1" r="10.1"/><circle cx="1346.0" cy="1198.7" r="10.1"/><circle cx="1392.5" cy="1175.6" r="10.1"/><circle cx="1147.9" cy="1429.6" r="10.1"/><circle cx="1406.6" cy="1215.6" r="10.1"/><circle cx="1382.9" cy="1143.7" r="10.1"/><circle cx="1310.8" cy="1238.2" r="10.1"/><circle cx="1338.7" cy="1157.3" r="10.1"/><circle cx="1333.9" cy="1213.7" r="10.1"/><circle cx="1362.4" cy="1146.6" r="10.1"/><circle cx="1409.9" cy="1084.4" r="10.1"/><circle cx="1428.4" cy="1041.2" r="10.1"/><circle cx="1362.8" cy="1176.4" r="10.1"/><circle cx="1296.6" cy="1232.6" r="10.1"/><circle cx="1429.8" cy="1116.2" r="10.1"/><circle cx="1431.7" cy="1104.9" r="10.1"/><circle cx="1273.1" cy="1287.0" r="10.1"/><circle cx="1379.1" cy="1151.1" r="10.1"/><circle cx="1372.0" cy="1187.2" r="10.1"/><circle cx="1373.3" cy="1167.3" r="10.1"/><circle cx="1372.8" cy="1142.5" r="10.1"/><circle cx="1116.1" cy="1458.9" r="10.1"/><circle cx="1333.6" cy="1209.9" r="10.1"/><circle cx="1341.8" cy="1217.1" r="10.1"/><circle cx="1380.8" cy="1117.1" r="10.1"/><circle cx="1285.4" cy="1220.2" r="10.1"/><circle cx="1337.6" cy="1196.5" r="10.1"/><circle cx="1317.4" cy="1228.7" r="10.1"/><circle cx="1235.5" cy="1277.5" r="10.1"/><circle cx="1347.0" cy="1178.7" r="10.1"/><circle cx="1317.0" cy="1242.5" r="10.1"/><circle cx="1348.4" cy="1219.6" r="10.1"/><circle cx="1325.2" cy="1230.5" r="10.1"/><circle cx="1390.8" cy="1085.9" r="10.1"/><circle cx="1288.8" cy="1275.6" r="10.1"/><circle cx="1393.7" cy="1066.7" r="10.1"/><circle cx="1383.1" cy="1145.3" r="10.1"/><circle cx="1306.9" cy="1243.9" r="10.1"/><circle cx="1343.9" cy="1131.6" r="10.1"/><circle cx="1352.1" cy="1189.3" r="10.1"/><circle cx="1349.4" cy="1178.0" r="10.1"/><circle cx="1380.9" cy="1171.6" r="10.1"/><circle cx="1170.0" cy="1424.6" r="10.1"/><circle cx="1326.3" cy="1232.6" r="10.1"/><circle cx="1369.9" cy="1156.8" r="10.1"/><circle cx="1281.6" cy="1286.2" r="10.1"/><circle cx="1405.8" cy="1202.0" r="10.1"/><circle cx="1352.7" cy="1171.7" r="10.1"/><circle cx="1220.1" cy="1342.2" r="10.1"/><circle cx="1391.7" cy="1140.1" r="10.1"/><circle cx="1331.8" cy="1222.9" r="10.1"/><circle cx="1491.1" cy="1096.3" r="10.1"/><circle cx="1412.4" cy="1071.7" r="10.1"/><circle cx="1399.6" cy="1134.0" r="10.1"/><circle cx="1410.5" cy="1097.4" r="10.1"/><circle cx="1268.9" cy="1249.0" r="10.1"/><circle cx="1192.9" cy="1333.3" r="10.1"/><circle cx="1346.3" cy="1181.2" r="10.1"/><circle cx="1347.9" cy="1188.4" r="10.1"/><circle cx="1345.2" cy="1184.8" r="10.1"/><circle cx="1357.7" cy="1155.6" r="10.1"/><circle cx="1397.0" cy="1113.9" r="10.1"/><circle cx="1386.5" cy="1150.7" r="10.1"/><circle cx="1421.7" cy="1084.5" r="10.1"/><circle cx="1379.6" cy="1141.1" r="10.1"/><circle cx="1407.6" cy="1097.4" r="10.1"/><circle cx="1276.8" cy="1270.0" r="10.1"/><circle cx="1192.4" cy="1326.9" r="10.1"/><circle cx="1350.5" cy="1180.8" r="10.1"/><circle cx="1411.2" cy="1069.0" r="10.1"/><circle cx="1347.3" cy="1188.3" r="10.1"/><circle cx="1289.5" cy="1274.1" r="10.1"/><circle cx="1307.4" cy="1261.1" r="10.1"/><circle cx="1316.8" cy="1230.3" r="10.1"/><circle cx="1402.2" cy="1108.0" r="10.1"/><circle cx="1338.3" cy="1170.4" r="10.1"/><circle cx="1400.8" cy="1123.8" r="10.1"/><circle cx="1417.5" cy="1111.0" r="10.1"/><circle cx="1392.5" cy="1144.1" r="10.1"/><circle cx="1413.5" cy="1076.7" r="10.1"/><circle cx="1330.1" cy="1205.3" r="10.1"/><circle cx="1327.6" cy="1225.3" r="10.1"/><circle cx="1340.1" cy="1180.7" r="10.1"/><circle cx="1173.9" cy="1422.6" r="10.1"/><circle cx="1419.2" cy="1094.9" r="10.1"/><circle cx="1321.2" cy="1222.2" r="10.1"/><circle cx="1357.3" cy="1180.2" r="10.1"/><circle cx="1331.4" cy="1263.6" r="10.1"/><circle cx="1357.4" cy="1154.3" r="10.1"/><circle cx="1349.3" cy="1147.6" r="10.1"/><circle cx="1375.7" cy="1184.8" r="10.1"/><circle cx="1316.6" cy="1223.8" r="10.1"/><circle cx="1329.4" cy="1195.7" r="10.1"/><circle cx="1308.3" cy="1181.8" r="10.1"/><circle cx="1330.0" cy="1230.2" r="10.1"/><circle cx="1383.7" cy="1187.1" r="10.1"/><circle cx="1428.3" cy="1085.7" r="10.1"/><circle cx="1172.8" cy="1327.6" r="10.1"/><circle cx="1406.5" cy="1112.6" r="10.1"/><circle cx="1376.8" cy="1147.3" r="10.1"/><circle cx="1275.7" cy="1231.3" r="10.1"/><circle cx="1320.7" cy="1324.3" r="10.1"/><circle cx="1397.5" cy="1174.2" r="10.1"/><circle cx="1318.7" cy="1202.3" r="10.1"/><circle cx="1404.1" cy="1083.2" r="10.1"/><circle cx="1357.1" cy="1209.5" r="10.1"/><circle cx="1447.1" cy="1050.6" r="10.1"/><circle cx="1361.9" cy="1170.5" r="10.1"/><circle cx="1301.1" cy="1240.3" r="10.1"/><circle cx="1357.8" cy="1195.1" r="10.1"/><circle cx="1348.7" cy="1208.8" r="10.1"/><circle cx="1271.2" cy="1327.0" r="10.1"/><circle cx="1384.3" cy="1142.3" r="10.1"/><circle cx="1405.2" cy="1126.1" r="10.1"/><circle cx="1429.1" cy="1048.2" r="10.1"/><circle cx="1361.2" cy="1157.9" r="10.1"/><circle cx="1368.6" cy="1235.5" r="10.1"/><circle cx="1322.9" cy="1209.0" r="10.1"/><circle cx="1429.1" cy="1053.5" r="10.1"/><circle cx="1375.9" cy="1148.0" r="10.1"/><circle cx="1383.3" cy="1120.3" r="10.1"/><circle cx="1381.7" cy="1147.7" r="10.1"/><circle cx="1389.4" cy="1120.9" r="10.1"/><circle cx="1335.4" cy="1225.9" r="10.1"/><circle cx="1292.8" cy="1236.1" r="10.1"/><circle cx="1441.1" cy="1098.0" r="10.1"/><circle cx="1216.7" cy="1305.6" r="10.1"/><circle cx="1331.2" cy="1244.8" r="10.1"/><circle cx="1345.0" cy="1241.7" r="10.1"/><circle cx="1218.6" cy="1324.5" r="10.1"/><circle cx="1341.1" cy="1200.9" r="10.1"/><circle cx="1410.1" cy="1106.9" r="10.1"/><circle cx="1364.6" cy="1158.4" r="10.1"/><circle cx="1363.1" cy="1170.6" r="10.1"/><circle cx="1169.7" cy="1414.4" r="10.1"/><circle cx="1347.1" cy="1184.6" r="10.1"/><circle cx="1312.7" cy="1223.1" r="10.1"/><circle cx="1349.7" cy="1163.4" r="10.1"/><circle cx="1353.8" cy="1135.2" r="10.1"/><circle cx="1351.6" cy="1201.2" r="10.1"/><circle cx="1337.5" cy="1199.7" r="10.1"/><circle cx="1392.8" cy="1119.7" r="10.1"/><circle cx="1352.7" cy="1193.1" r="10.1"/><circle cx="1408.7" cy="1137.6" r="10.1"/><circle cx="1337.5" cy="1214.6" r="10.1"/><circle cx="1304.8" cy="1189.0" r="10.1"/><circle cx="1345.6" cy="1197.7" r="10.1"/><circle cx="1400.1" cy="1109.0" r="10.1"/><circle cx="1353.8" cy="1198.5" r="10.1"/><circle cx="1390.3" cy="1125.6" r="10.1"/><circle cx="1369.7" cy="1177.5" r="10.1"/><circle cx="1336.4" cy="1242.5" r="10.1"/><circle cx="1326.2" cy="1209.7" r="10.1"/><circle cx="1299.2" cy="1246.6" r="10.1"/><circle cx="1354.9" cy="1145.8" r="10.1"/><circle cx="1381.7" cy="1183.6" r="10.1"/><circle cx="1330.5" cy="1197.6" r="10.1"/><circle cx="1432.3" cy="1045.6" r="10.1"/><circle cx="1157.6" cy="1361.2" r="10.1"/><circle cx="1392.5" cy="1141.3" r="10.1"/><circle cx="1319.2" cy="1240.0" r="10.1"/><circle cx="1467.3" cy="1047.0" r="10.1"/><circle cx="1298.8" cy="1233.5" r="10.1"/><circle cx="1422.1" cy="1089.5" r="10.1"/><circle cx="1353.9" cy="1173.1" r="10.1"/><circle cx="1333.4" cy="1192.0" r="10.1"/><circle cx="1220.5" cy="1366.5" r="10.1"/><circle cx="1325.9" cy="1242.3" r="10.1"/><circle cx="1351.0" cy="1213.4" r="10.1"/><circle cx="1420.5" cy="1124.8" r="10.1"/><circle cx="1425.6" cy="1091.1" r="10.1"/><circle cx="1274.1" cy="1270.5" r="10.1"/><circle cx="1366.5" cy="1049.7" r="10.1"/><circle cx="1215.5" cy="1327.6" r="10.1"/><circle cx="1291.4" cy="1257.0" r="10.1"/><circle cx="1367.9" cy="1131.7" r="10.1"/><circle cx="1358.3" cy="1192.9" r="10.1"/><circle cx="1405.5" cy="1108.1" r="10.1"/><circle cx="1402.3" cy="1098.2" r="10.1"/><circle cx="1307.7" cy="1218.3" r="10.1"/><circle cx="1358.5" cy="1166.3" r="10.1"/><circle cx="1388.9" cy="1145.3" r="10.1"/><circle cx="1389.9" cy="1191.7" r="10.1"/><circle cx="1363.8" cy="1172.7" r="10.1"/><circle cx="1358.6" cy="1189.3" r="10.1"/><circle cx="1364.2" cy="1152.9" r="10.1"/><circle cx="1344.9" cy="1195.5" r="10.1"/><circle cx="1369.3" cy="1149.6" r="10.1"/><circle cx="1400.8" cy="1157.4" r="10.1"/><circle cx="1329.6" cy="1187.7" r="10.1"/><circle cx="1345.7" cy="1211.2" r="10.1"/><circle cx="1349.8" cy="1222.7" r="10.1"/><circle cx="1403.6" cy="1148.4" r="10.1"/><circle cx="1337.2" cy="1216.4" r="10.1"/><circle cx="1343.5" cy="1167.6" r="10.1"/><circle cx="1375.4" cy="1138.9" r="10.1"/><circle cx="1349.6" cy="1213.8" r="10.1"/><circle cx="1410.9" cy="1106.4" r="10.1"/><circle cx="1368.1" cy="1166.4" r="10.1"/><circle cx="1294.4" cy="1292.7" r="10.1"/><circle cx="1346.1" cy="1214.0" r="10.1"/><circle cx="1301.9" cy="1294.7" r="10.1"/><circle cx="1350.7" cy="1205.4" r="10.1"/><circle cx="1349.7" cy="1248.2" r="10.1"/><circle cx="1334.6" cy="1223.6" r="10.1"/><circle cx="1393.5" cy="1152.2" r="10.1"/><circle cx="1403.9" cy="1135.3" r="10.1"/><circle cx="1380.5" cy="1185.8" r="10.1"/><circle cx="1387.5" cy="1113.2" r="10.1"/><circle cx="1402.0" cy="1127.9" r="10.1"/><circle cx="1423.9" cy="1086.0" r="10.1"/><circle cx="1322.2" cy="1183.7" r="10.1"/><circle cx="1410.7" cy="1088.9" r="10.1"/><circle cx="1315.0" cy="1212.2" r="10.1"/><circle cx="1340.9" cy="1210.1" r="10.1"/><circle cx="1384.3" cy="1168.1" r="10.1"/><circle cx="1310.7" cy="1252.8" r="10.1"/><circle cx="1433.2" cy="1089.1" r="10.1"/><circle cx="1413.0" cy="1105.4" r="10.1"/><circle cx="1082.6" cy="1485.7" r="10.1"/><circle cx="1362.5" cy="1145.6" r="10.1"/><circle cx="1419.0" cy="1099.9" r="10.1"/><circle cx="1362.6" cy="1129.5" r="10.1"/><circle cx="1356.2" cy="1154.6" r="10.1"/><circle cx="1369.6" cy="1173.2" r="10.1"/><circle cx="1360.7" cy="1153.2" r="10.1"/><circle cx="1365.8" cy="1232.7" r="10.1"/><circle cx="1382.6" cy="1114.7" r="10.1"/><circle cx="1438.7" cy="1063.0" r="10.1"/><circle cx="1275.1" cy="1267.1" r="10.1"/><circle cx="1340.4" cy="1237.2" r="10.1"/><circle cx="1127.1" cy="1356.6" r="10.1"/><circle cx="1267.8" cy="1292.7" r="10.1"/><circle cx="1317.6" cy="1228.9" r="10.1"/><circle cx="1399.4" cy="1098.6" r="10.1"/><circle cx="1336.1" cy="1212.1" r="10.1"/><circle cx="1368.3" cy="1183.1" r="10.1"/><circle cx="1333.9" cy="1190.1" r="10.1"/><circle cx="1452.2" cy="1097.4" r="10.1"/><circle cx="1324.0" cy="1182.3" r="10.1"/><circle cx="1342.2" cy="1192.3" r="10.1"/><circle cx="1354.9" cy="1154.0" r="10.1"/><circle cx="1315.7" cy="1256.9" r="10.1"/><circle cx="1261.8" cy="1261.2" r="10.1"/><circle cx="1349.7" cy="1179.5" r="10.1"/><circle cx="1327.2" cy="1166.8" r="10.1"/><circle cx="1191.2" cy="1385.4" r="10.1"/><circle cx="1401.5" cy="1079.7" r="10.1"/><circle cx="1328.7" cy="1195.2" r="10.1"/><circle cx="1149.0" cy="1386.6" r="10.1"/><circle cx="1361.8" cy="1188.4" r="10.1"/><circle cx="1349.9" cy="1160.1" r="10.1"/><circle cx="1376.8" cy="1138.2" r="10.1"/><circle cx="1342.6" cy="1214.5" r="10.1"/><circle cx="1306.3" cy="1295.7" r="10.1"/><circle cx="1362.0" cy="1189.2" r="10.1"/><circle cx="1354.9" cy="1146.2" r="10.1"/><circle cx="1402.0" cy="1113.3" r="10.1"/><circle cx="1336.8" cy="1180.0" r="10.1"/><circle cx="1321.0" cy="1214.5" r="10.1"/><circle cx="1325.0" cy="1213.7" r="10.1"/><circle cx="1336.4" cy="1197.3" r="10.1"/><circle cx="1341.8" cy="1205.6" r="10.1"/><circle cx="1364.6" cy="1140.2" r="10.1"/><circle cx="1346.7" cy="1186.0" r="10.1"/><circle cx="1431.0" cy="1072.3" r="10.1"/><circle cx="1326.1" cy="1248.1" r="10.1"/><circle cx="1416.4" cy="1094.4" r="10.1"/><circle cx="1340.9" cy="1212.9" r="10.1"/><circle cx="1348.0" cy="1200.1" r="10.1"/><circle cx="1438.2" cy="1050.3" r="10.1"/><circle cx="1385.6" cy="1166.2" r="10.1"/><circle cx="1422.2" cy="1097.9" r="10.1"/><circle cx="1362.0" cy="1142.5" r="10.1"/><circle cx="1331.2" cy="1181.6" r="10.1"/><circle cx="1377.9" cy="1163.7" r="10.1"/><circle cx="1370.5" cy="1153.8" r="10.1"/><circle cx="1219.9" cy="1322.2" r="10.1"/><circle cx="1298.2" cy="1276.9" r="10.1"/><circle cx="1418.5" cy="1144.7" r="10.1"/><circle cx="1374.4" cy="1200.1" r="10.1"/><circle cx="1385.5" cy="1128.4" r="10.1"/><circle cx="1316.4" cy="1224.5" r="10.1"/><circle cx="1428.3" cy="1114.1" r="10.1"/><circle cx="1334.4" cy="1220.1" r="10.1"/><circle cx="1300.6" cy="1256.0" r="10.1"/><circle cx="1344.8" cy="1200.8" r="10.1"/><circle cx="1347.9" cy="1189.3" r="10.1"/><circle cx="1257.1" cy="1241.7" r="10.1"/><circle cx="1409.4" cy="1127.5" r="10.1"/><circle cx="1410.4" cy="1105.9" r="10.1"/><circle cx="1317.3" cy="1244.3" r="10.1"/><circle cx="1357.5" cy="1191.4" r="10.1"/><circle cx="1409.2" cy="1129.9" r="10.1"/><circle cx="1351.6" cy="1189.4" r="10.1"/><circle cx="1359.2" cy="1200.3" r="10.1"/><circle cx="1334.1" cy="1197.2" r="10.1"/><circle cx="1354.8" cy="1175.3" r="10.1"/><circle cx="1339.4" cy="1219.9" r="10.1"/><circle cx="1396.5" cy="1084.8" r="10.1"/><circle cx="1307.2" cy="1266.6" r="10.1"/><circle cx="1205.9" cy="1342.2" r="10.1"/><circle cx="1404.9" cy="1068.6" r="10.1"/><circle cx="1315.8" cy="1244.9" r="10.1"/><circle cx="1357.4" cy="1146.4" r="10.1"/><circle cx="1370.9" cy="1128.2" r="10.1"/><circle cx="1331.6" cy="1192.5" r="10.1"/><circle cx="1413.6" cy="1145.2" r="10.1"/><circle cx="1331.6" cy="1174.8" r="10.1"/><circle cx="1323.8" cy="1215.7" r="10.1"/><circle cx="1268.0" cy="1313.9" r="10.1"/><circle cx="1397.8" cy="1097.4" r="10.1"/><circle cx="1326.1" cy="1232.4" r="10.1"/><circle cx="1408.8" cy="1087.9" r="10.1"/><circle cx="1355.0" cy="1192.6" r="10.1"/><circle cx="1414.3" cy="1092.2" r="10.1"/><circle cx="1282.7" cy="1295.1" r="10.1"/><circle cx="1405.1" cy="1124.7" r="10.1"/><circle cx="1435.0" cy="1096.2" r="10.1"/><circle cx="1382.2" cy="1162.3" r="10.1"/><circle cx="1301.4" cy="1240.6" r="10.1"/><circle cx="1478.4" cy="1026.7" r="10.1"/><circle cx="1395.5" cy="1120.4" r="10.1"/><circle cx="1323.1" cy="1157.6" r="10.1"/><circle cx="1430.7" cy="1084.7" r="10.1"/><circle cx="1280.1" cy="1318.1" r="10.1"/><circle cx="1302.3" cy="1251.2" r="10.1"/><circle cx="1172.0" cy="1384.2" r="10.1"/><circle cx="1363.4" cy="1146.3" r="10.1"/><circle cx="1349.9" cy="1162.1" r="10.1"/><circle cx="1282.4" cy="1244.4" r="10.1"/><circle cx="1343.3" cy="1204.8" r="10.1"/><circle cx="1398.1" cy="1111.0" r="10.1"/><circle cx="1274.2" cy="1315.0" r="10.1"/><circle cx="1356.9" cy="1147.8" r="10.1"/><circle cx="1325.3" cy="1205.7" r="10.1"/><circle cx="1357.6" cy="1165.0" r="10.1"/><circle cx="1333.3" cy="1215.3" r="10.1"/><circle cx="1337.2" cy="1200.3" r="10.1"/><circle cx="1151.3" cy="1427.0" r="10.1"/><circle cx="1368.4" cy="1150.6" r="10.1"/><circle cx="1354.6" cy="1211.2" r="10.1"/><circle cx="1375.1" cy="1133.5" r="10.1"/><circle cx="1322.3" cy="1206.8" r="10.1"/><circle cx="1449.9" cy="1015.8" r="10.1"/><circle cx="1189.1" cy="1371.3" r="10.1"/><circle cx="1323.8" cy="1220.2" r="10.1"/><circle cx="1362.0" cy="1166.9" r="10.1"/><circle cx="1300.9" cy="1244.9" r="10.1"/><circle cx="1337.0" cy="1204.4" r="10.1"/><circle cx="1364.9" cy="1193.1" r="10.1"/><circle cx="1379.3" cy="1175.1" r="10.1"/><circle cx="1402.2" cy="1132.3" r="10.1"/><circle cx="1340.0" cy="1205.0" r="10.1"/><circle cx="1377.9" cy="1178.8" r="10.1"/><circle cx="1194.6" cy="1396.2" r="10.1"/><circle cx="1400.8" cy="1128.0" r="10.1"/><circle cx="1370.1" cy="1127.8" r="10.1"/><circle cx="1407.3" cy="1117.3" r="10.1"/><circle cx="1318.6" cy="1208.1" r="10.1"/><circle cx="1353.8" cy="1136.4" r="10.1"/><circle cx="1374.1" cy="1139.2" r="10.1"/><circle cx="1193.6" cy="1376.4" r="10.1"/><circle cx="1394.4" cy="1148.1" r="10.1"/><circle cx="1374.9" cy="1197.9" r="10.1"/><circle cx="1397.2" cy="1141.6" r="10.1"/><circle cx="1322.0" cy="1208.9" r="10.1"/><circle cx="1396.5" cy="1151.4" r="10.1"/><circle cx="1357.5" cy="1145.7" r="10.1"/><circle cx="1301.0" cy="1210.6" r="10.1"/><circle cx="1300.5" cy="1255.3" r="10.1"/><circle cx="1409.6" cy="1090.0" r="10.1"/><circle cx="1348.5" cy="1220.8" r="10.1"/><circle cx="1338.2" cy="1225.0" r="10.1"/><circle cx="1349.2" cy="1195.6" r="10.1"/><circle cx="1383.1" cy="1144.9" r="10.1"/><circle cx="1311.6" cy="1237.3" r="10.1"/><circle cx="1320.8" cy="1242.1" r="10.1"/><circle cx="1372.2" cy="1069.6" r="10.1"/><circle cx="1402.7" cy="1112.7" r="10.1"/><circle cx="1375.1" cy="1149.0" r="10.1"/><circle cx="1416.3" cy="1086.5" r="10.1"/><circle cx="1338.0" cy="1192.4" r="10.1"/><circle cx="1353.5" cy="1187.1" r="10.1"/><circle cx="1353.4" cy="1194.7" r="10.1"/><circle cx="1344.7" cy="1230.8" r="10.1"/><circle cx="1330.4" cy="1174.5" r="10.1"/><circle cx="1392.8" cy="1152.7" r="10.1"/><circle cx="1338.2" cy="1278.5" r="10.1"/><circle cx="1352.8" cy="1201.3" r="10.1"/><circle cx="1354.5" cy="1217.6" r="10.1"/><circle cx="1471.4" cy="991.7" r="10.1"/><circle cx="1329.0" cy="1202.9" r="10.1"/><circle cx="1374.8" cy="1091.9" r="10.1"/><circle cx="1332.6" cy="1172.9" r="10.1"/><circle cx="1385.1" cy="1129.7" r="10.1"/><circle cx="1351.4" cy="1171.1" r="10.1"/><circle cx="1182.6" cy="1416.9" r="10.1"/><circle cx="1364.5" cy="1172.3" r="10.1"/><circle cx="1340.1" cy="1212.2" r="10.1"/><circle cx="1336.0" cy="1202.0" r="10.1"/><circle cx="1340.4" cy="1214.1" r="10.1"/><circle cx="1103.6" cy="1420.5" r="10.1"/><circle cx="1377.0" cy="1135.8" r="10.1"/><circle cx="1364.4" cy="1170.9" r="10.1"/><circle cx="1362.3" cy="1209.4" r="10.1"/><circle cx="1361.2" cy="1156.7" r="10.1"/><circle cx="1352.1" cy="1163.0" r="10.1"/><circle cx="1350.3" cy="1188.9" r="10.1"/><circle cx="1347.1" cy="1219.0" r="10.1"/><circle cx="1420.3" cy="1086.6" r="10.1"/><circle cx="1349.4" cy="1162.4" r="10.1"/><circle cx="1301.9" cy="1291.5" r="10.1"/><circle cx="1282.9" cy="1239.3" r="10.1"/><circle cx="1334.9" cy="1247.1" r="10.1"/><circle cx="1368.7" cy="1161.5" r="10.1"/><circle cx="1368.3" cy="1123.9" r="10.1"/><circle cx="1371.2" cy="1158.1" r="10.1"/><circle cx="1373.4" cy="1135.8" r="10.1"/><circle cx="1282.2" cy="1276.6" r="10.1"/><circle cx="1344.7" cy="1192.6" r="10.1"/><circle cx="1353.4" cy="1127.6" r="10.1"/><circle cx="1295.8" cy="1219.1" r="10.1"/><circle cx="1369.0" cy="1170.0" r="10.1"/><circle cx="1388.4" cy="1146.5" r="10.1"/><circle cx="1240.5" cy="1316.4" r="10.1"/><circle cx="1364.2" cy="1118.6" r="10.1"/><circle cx="1295.9" cy="1246.7" r="10.1"/><circle cx="1396.7" cy="1077.9" r="10.1"/><circle cx="1360.7" cy="1181.4" r="10.1"/><circle cx="1261.9" cy="1326.1" r="10.1"/><circle cx="1367.0" cy="1135.2" r="10.1"/><circle cx="1330.2" cy="1212.0" r="10.1"/><circle cx="1321.8" cy="1239.0" r="10.1"/><circle cx="1382.5" cy="1161.4" r="10.1"/><circle cx="1353.7" cy="1197.0" r="10.1"/><circle cx="1420.9" cy="1121.4" r="10.1"/><circle cx="1411.5" cy="1141.2" r="10.1"/><circle cx="1411.0" cy="1082.1" r="10.1"/><circle cx="1348.2" cy="1179.3" r="10.1"/><circle cx="1401.4" cy="1099.4" r="10.1"/><circle cx="1259.6" cy="1305.0" r="10.1"/><circle cx="1385.5" cy="1134.1" r="10.1"/><circle cx="1342.6" cy="1191.2" r="10.1"/><circle cx="1405.2" cy="1090.2" r="10.1"/><circle cx="1208.5" cy="1326.9" r="10.1"/><circle cx="1359.9" cy="1165.7" r="10.1"/><circle cx="1270.1" cy="1299.9" r="10.1"/><circle cx="1329.2" cy="1239.8" r="10.1"/><circle cx="1361.7" cy="1208.5" r="10.1"/><circle cx="1311.5" cy="1248.2" r="10.1"/><circle cx="1381.2" cy="1159.7" r="10.1"/><circle cx="1365.6" cy="1223.4" r="10.1"/><circle cx="1321.5" cy="1181.2" r="10.1"/><circle cx="1358.0" cy="1170.1" r="10.1"/><circle cx="1347.4" cy="1236.0" r="10.1"/><circle cx="1213.3" cy="1374.4" r="10.1"/><circle cx="1380.5" cy="1178.6" r="10.1"/><circle cx="1378.1" cy="1146.2" r="10.1"/><circle cx="1423.7" cy="1068.5" r="10.1"/><circle cx="1419.1" cy="1118.8" r="10.1"/><circle cx="1353.7" cy="1167.3" r="10.1"/><circle cx="1368.3" cy="1169.9" r="10.1"/><circle cx="1358.1" cy="1149.7" r="10.1"/><circle cx="1246.9" cy="1274.6" r="10.1"/><circle cx="1383.4" cy="1137.7" r="10.1"/><circle cx="1332.2" cy="1190.8" r="10.1"/><circle cx="1348.1" cy="1188.3" r="10.1"/><circle cx="1361.7" cy="1188.9" r="10.1"/><circle cx="1367.6" cy="1217.5" r="10.1"/><circle cx="1328.2" cy="1204.8" r="10.1"/><circle cx="1404.2" cy="1118.7" r="10.1"/><circle cx="1279.0" cy="1282.1" r="10.1"/><circle cx="1357.2" cy="1179.0" r="10.1"/><circle cx="1320.4" cy="1226.5" r="10.1"/><circle cx="1423.4" cy="1114.1" r="10.1"/><circle cx="1412.0" cy="1118.4" r="10.1"/><circle cx="1373.1" cy="1132.1" r="10.1"/><circle cx="1405.8" cy="1120.1" r="10.1"/><circle cx="1391.1" cy="1072.7" r="10.1"/><circle cx="1380.2" cy="1174.7" r="10.1"/><circle cx="1374.4" cy="1186.8" r="10.1"/><circle cx="1413.0" cy="1102.9" r="10.1"/><circle cx="1319.3" cy="1204.9" r="10.1"/><circle cx="1381.2" cy="1162.3" r="10.1"/><circle cx="1320.2" cy="1207.4" r="10.1"/><circle cx="1347.4" cy="1167.6" r="10.1"/><circle cx="1338.9" cy="1174.5" r="10.1"/><circle cx="1363.9" cy="1174.1" r="10.1"/><circle cx="1357.7" cy="1177.8" r="10.1"/><circle cx="1402.7" cy="1155.3" r="10.1"/><circle cx="1396.2" cy="1127.3" r="10.1"/><circle cx="1259.1" cy="1289.5" r="10.1"/><circle cx="1324.8" cy="1183.4" r="10.1"/><circle cx="1235.2" cy="1356.0" r="10.1"/><circle cx="1380.1" cy="1186.9" r="10.1"/><circle cx="1330.3" cy="1233.5" r="10.1"/><circle cx="1434.3" cy="1058.6" r="10.1"/><circle cx="1326.1" cy="1274.7" r="10.1"/><circle cx="1426.1" cy="1111.4" r="10.1"/><circle cx="1382.9" cy="1053.3" r="10.1"/><circle cx="1385.0" cy="1113.3" r="10.1"/><circle cx="1356.0" cy="1209.2" r="10.1"/><circle cx="1408.8" cy="1112.4" r="10.1"/><circle cx="1335.2" cy="1184.3" r="10.1"/><circle cx="1397.9" cy="1113.4" r="10.1"/><circle cx="1406.5" cy="1119.0" r="10.1"/><circle cx="1362.9" cy="1188.4" r="10.1"/><circle cx="1383.5" cy="1107.5" r="10.1"/><circle cx="1327.7" cy="1213.4" r="10.1"/><circle cx="1354.1" cy="1162.4" r="10.1"/><circle cx="1363.1" cy="1152.1" r="10.1"/><circle cx="1339.4" cy="1209.8" r="10.1"/><circle cx="1241.2" cy="1278.3" r="10.1"/><circle cx="1415.1" cy="1113.6" r="10.1"/><circle cx="1393.9" cy="1121.3" r="10.1"/><circle cx="1346.0" cy="1220.1" r="10.1"/><circle cx="1361.6" cy="1177.1" r="10.1"/><circle cx="1356.9" cy="1183.3" r="10.1"/><circle cx="1427.0" cy="1115.2" r="10.1"/><circle cx="1362.8" cy="1165.1" r="10.1"/><circle cx="1381.3" cy="1118.2" r="10.1"/><circle cx="1394.6" cy="1089.1" r="10.1"/><circle cx="1288.6" cy="1225.4" r="10.1"/><circle cx="1363.3" cy="1177.6" r="10.1"/><circle cx="1415.5" cy="1070.9" r="10.1"/><circle cx="1386.4" cy="1131.4" r="10.1"/><circle cx="1416.4" cy="1062.6" r="10.1"/><circle cx="1323.6" cy="1247.8" r="10.1"/><circle cx="1396.4" cy="1095.0" r="10.1"/><circle cx="1329.4" cy="1225.1" r="10.1"/><circle cx="1401.5" cy="1095.6" r="10.1"/><circle cx="1393.9" cy="1141.0" r="10.1"/><circle cx="1348.8" cy="1166.5" r="10.1"/><circle cx="1361.2" cy="1185.2" r="10.1"/><circle cx="1353.0" cy="1225.3" r="10.1"/><circle cx="1411.5" cy="1149.3" r="10.1"/><circle cx="1368.9" cy="1173.8" r="10.1"/><circle cx="1276.4" cy="1275.1" r="10.1"/><circle cx="1367.5" cy="1265.6" r="10.1"/><circle cx="1187.1" cy="1404.7" r="10.1"/><circle cx="1311.9" cy="1249.8" r="10.1"/><circle cx="1350.5" cy="1190.2" r="10.1"/><circle cx="1350.9" cy="1179.8" r="10.1"/><circle cx="1259.4" cy="1338.4" r="10.1"/><circle cx="1334.0" cy="1276.2" r="10.1"/><circle cx="1336.7" cy="1195.1" r="10.1"/><circle cx="1331.8" cy="1223.6" r="10.1"/><circle cx="1351.4" cy="1164.0" r="10.1"/><circle cx="1224.8" cy="1346.9" r="10.1"/><circle cx="1212.5" cy="1310.3" r="10.1"/><circle cx="1339.9" cy="1218.9" r="10.1"/><circle cx="1374.3" cy="1150.4" r="10.1"/><circle cx="1419.9" cy="1094.5" r="10.1"/><circle cx="1370.3" cy="1151.1" r="10.1"/><circle cx="1269.8" cy="1307.3" r="10.1"/><circle cx="1394.8" cy="1132.2" r="10.1"/><circle cx="1393.1" cy="1150.5" r="10.1"/><circle cx="1407.0" cy="1117.0" r="10.1"/><circle cx="1377.4" cy="1138.6" r="10.1"/><circle cx="1332.6" cy="1068.1" r="10.1"/><circle cx="1353.0" cy="1181.6" r="10.1"/><circle cx="1343.8" cy="1177.1" r="10.1"/><circle cx="1225.2" cy="1329.4" r="10.1"/><circle cx="1357.3" cy="1151.3" r="10.1"/><circle cx="1338.4" cy="1178.7" r="10.1"/><circle cx="1418.2" cy="1076.3" r="10.1"/><circle cx="1378.5" cy="1143.2" r="10.1"/><circle cx="1385.9" cy="1088.3" r="10.1"/><circle cx="1209.0" cy="1311.3" r="10.1"/><circle cx="1378.8" cy="1188.5" r="10.1"/><circle cx="1389.7" cy="1129.8" r="10.1"/><circle cx="1352.0" cy="1181.8" r="10.1"/><circle cx="1329.2" cy="1262.8" r="10.1"/><circle cx="1346.9" cy="1209.5" r="10.1"/><circle cx="1357.3" cy="1187.5" r="10.1"/><circle cx="1352.2" cy="1216.8" r="10.1"/><circle cx="1333.5" cy="1203.0" r="10.1"/><circle cx="1380.0" cy="1188.9" r="10.1"/><circle cx="1407.9" cy="1096.2" r="10.1"/><circle cx="1328.6" cy="1193.9" r="10.1"/><circle cx="1406.0" cy="1107.1" r="10.1"/><circle cx="1256.0" cy="1308.9" r="10.1"/><circle cx="1382.4" cy="1145.8" r="10.1"/><circle cx="1329.3" cy="1222.0" r="10.1"/><circle cx="1357.1" cy="1151.3" r="10.1"/><circle cx="1348.1" cy="1176.7" r="10.1"/><circle cx="1283.0" cy="1218.2" r="10.1"/><circle cx="1315.7" cy="1244.9" r="10.1"/><circle cx="1452.8" cy="1024.7" r="10.1"/><circle cx="1351.8" cy="1196.9" r="10.1"/><circle cx="1411.5" cy="1111.2" r="10.1"/><circle cx="1366.1" cy="1189.8" r="10.1"/><circle cx="1403.4" cy="1106.8" r="10.1"/><circle cx="1344.4" cy="1194.1" r="10.1"/><circle cx="1448.2" cy="1047.2" r="10.1"/><circle cx="1351.8" cy="1149.6" r="10.1"/><circle cx="1336.7" cy="1203.4" r="10.1"/><circle cx="1317.7" cy="1216.3" r="10.1"/><circle cx="1261.2" cy="1271.1" r="10.1"/><circle cx="1287.3" cy="1263.7" r="10.1"/><circle cx="1372.0" cy="1183.4" r="10.1"/><circle cx="1346.9" cy="1181.4" r="10.1"/><circle cx="1402.1" cy="1108.9" r="10.1"/><circle cx="1315.2" cy="1209.9" r="10.1"/><circle cx="1423.0" cy="1074.6" r="10.1"/><circle cx="1316.8" cy="1257.7" r="10.1"/><circle cx="1329.2" cy="1200.9" r="10.1"/><circle cx="1331.0" cy="1180.4" r="10.1"/><circle cx="1334.2" cy="1215.9" r="10.1"/><circle cx="1350.6" cy="1176.9" r="10.1"/><circle cx="1384.7" cy="1156.5" r="10.1"/><circle cx="1260.8" cy="1290.2" r="10.1"/><circle cx="1328.4" cy="1171.6" r="10.1"/><circle cx="1250.4" cy="1302.3" r="10.1"/><circle cx="1397.4" cy="1147.1" r="10.1"/><circle cx="1297.3" cy="1233.2" r="10.1"/><circle cx="1367.6" cy="1159.6" r="10.1"/><circle cx="1410.1" cy="1085.3" r="10.1"/><circle cx="1331.1" cy="1240.7" r="10.1"/><circle cx="1295.4" cy="1274.5" r="10.1"/><circle cx="1333.8" cy="1207.3" r="10.1"/><circle cx="1416.3" cy="1167.2" r="10.1"/><circle cx="1283.1" cy="1239.3" r="10.1"/><circle cx="1405.2" cy="1159.4" r="10.1"/><circle cx="1295.1" cy="1272.9" r="10.1"/><circle cx="1317.9" cy="1294.2" r="10.1"/><circle cx="1396.6" cy="1141.4" r="10.1"/><circle cx="1364.9" cy="1149.7" r="10.1"/><circle cx="1336.8" cy="1188.0" r="10.1"/><circle cx="1380.2" cy="1128.2" r="10.1"/><circle cx="1313.0" cy="1216.6" r="10.1"/><circle cx="1399.8" cy="1166.9" r="10.1"/><circle cx="1359.5" cy="1167.5" r="10.1"/><circle cx="1424.8" cy="1128.9" r="10.1"/><circle cx="1365.1" cy="1178.7" r="10.1"/><circle cx="1368.1" cy="1172.6" r="10.1"/><circle cx="1402.0" cy="1131.7" r="10.1"/><circle cx="1369.5" cy="1151.1" r="10.1"/><circle cx="1278.6" cy="1292.9" r="10.1"/><circle cx="1367.0" cy="1126.3" r="10.1"/><circle cx="1340.7" cy="1183.4" r="10.1"/><circle cx="1363.0" cy="1143.4" r="10.1"/><circle cx="1472.5" cy="1015.3" r="10.1"/><circle cx="1362.7" cy="1150.2" r="10.1"/><circle cx="1385.3" cy="1142.9" r="10.1"/><circle cx="1342.9" cy="1104.0" r="10.1"/><circle cx="1160.9" cy="1427.5" r="10.1"/><circle cx="1240.0" cy="1292.9" r="10.1"/><circle cx="1162.8" cy="1395.1" r="10.1"/><circle cx="1322.4" cy="1224.7" r="10.1"/><circle cx="1331.5" cy="1193.4" r="10.1"/><circle cx="1339.7" cy="1215.6" r="10.1"/><circle cx="1374.6" cy="1136.5" r="10.1"/><circle cx="1369.9" cy="1144.0" r="10.1"/><circle cx="1392.8" cy="1130.0" r="10.1"/><circle cx="1383.5" cy="1128.1" r="10.1"/><circle cx="1407.6" cy="1134.9" r="10.1"/><circle cx="1383.0" cy="1184.9" r="10.1"/><circle cx="1343.3" cy="1220.4" r="10.1"/><circle cx="1346.0" cy="1196.1" r="10.1"/><circle cx="1283.3" cy="1205.6" r="10.1"/><circle cx="1154.2" cy="1410.8" r="10.1"/><circle cx="1399.9" cy="1100.3" r="10.1"/><circle cx="1305.1" cy="1220.3" r="10.1"/><circle cx="1401.4" cy="1075.1" r="10.1"/><circle cx="1351.7" cy="1178.3" r="10.1"/><circle cx="1255.6" cy="1284.1" r="10.1"/><circle cx="1393.7" cy="1135.0" r="10.1"/><circle cx="1378.9" cy="1169.5" r="10.1"/><circle cx="1477.1" cy="1044.4" r="10.1"/><circle cx="1368.6" cy="1198.1" r="10.1"/><circle cx="1414.9" cy="1041.7" r="10.1"/><circle cx="1359.7" cy="1167.6" r="10.1"/><circle cx="1341.7" cy="1199.5" r="10.1"/><circle cx="1354.1" cy="1180.4" r="10.1"/><circle cx="1378.9" cy="1162.9" r="10.1"/><circle cx="1408.4" cy="1112.2" r="10.1"/><circle cx="1392.5" cy="1133.4" r="10.1"/><circle cx="1415.6" cy="1088.1" r="10.1"/><circle cx="1363.6" cy="1128.0" r="10.1"/><circle cx="1345.3" cy="1229.0" r="10.1"/><circle cx="1357.2" cy="1171.8" r="10.1"/><circle cx="1416.0" cy="1072.2" r="10.1"/><circle cx="1353.1" cy="1205.2" r="10.1"/><circle cx="1246.8" cy="1316.8" r="10.1"/><circle cx="1342.6" cy="1191.0" r="10.1"/><circle cx="1372.9" cy="1133.3" r="10.1"/><circle cx="1394.4" cy="1103.7" r="10.1"/><circle cx="1423.5" cy="1096.1" r="10.1"/><circle cx="1373.5" cy="1146.1" r="10.1"/><circle cx="1396.9" cy="1081.4" r="10.1"/><circle cx="1390.2" cy="1127.0" r="10.1"/><circle cx="1393.1" cy="1091.1" r="10.1"/><circle cx="1365.1" cy="1157.9" r="10.1"/><circle cx="1417.4" cy="1121.9" r="10.1"/><circle cx="1409.1" cy="1127.4" r="10.1"/><circle cx="1132.5" cy="1430.2" r="10.1"/><circle cx="1306.9" cy="1247.9" r="10.1"/><circle cx="1457.1" cy="1023.8" r="10.1"/><circle cx="1382.7" cy="1137.6" r="10.1"/><circle cx="1310.0" cy="1193.7" r="10.1"/><circle cx="1416.3" cy="1083.7" r="10.1"/><circle cx="1274.9" cy="1240.3" r="10.1"/><circle cx="1361.3" cy="1189.2" r="10.1"/><circle cx="1348.1" cy="1197.8" r="10.1"/><circle cx="1339.3" cy="1182.9" r="10.1"/><circle cx="1337.8" cy="1198.5" r="10.1"/><circle cx="1279.7" cy="1255.8" r="10.1"/><circle cx="1354.5" cy="1174.5" r="10.1"/><circle cx="1294.6" cy="1268.3" r="10.1"/><circle cx="1367.8" cy="1087.5" r="10.1"/><circle cx="1329.0" cy="1184.8" r="10.1"/><circle cx="1384.6" cy="1210.8" r="10.1"/><circle cx="1423.2" cy="1104.9" r="10.1"/><circle cx="1407.6" cy="1111.9" r="10.1"/><circle cx="1373.3" cy="1142.2" r="10.1"/><circle cx="1385.2" cy="1144.8" r="10.1"/><circle cx="1273.6" cy="1312.7" r="10.1"/><circle cx="1429.6" cy="1066.0" r="10.1"/><circle cx="1368.1" cy="1168.3" r="10.1"/><circle cx="1358.5" cy="1148.2" r="10.1"/><circle cx="1373.1" cy="1150.8" r="10.1"/><circle cx="1325.7" cy="1191.9" r="10.1"/><circle cx="1344.5" cy="1153.7" r="10.1"/><circle cx="1303.6" cy="1220.9" r="10.1"/><circle cx="1421.6" cy="1104.6" r="10.1"/><circle cx="1367.7" cy="1117.7" r="10.1"/><circle cx="1313.4" cy="1225.4" r="10.1"/><circle cx="1425.8" cy="1114.6" r="10.1"/><circle cx="1360.4" cy="1190.3" r="10.1"/><circle cx="1378.1" cy="1158.6" r="10.1"/><circle cx="1388.1" cy="1127.7" r="10.1"/><circle cx="1380.0" cy="1133.6" r="10.1"/><circle cx="1345.1" cy="1217.1" r="10.1"/><circle cx="1336.4" cy="1185.3" r="10.1"/><circle cx="1233.2" cy="1325.5" r="10.1"/><circle cx="1357.9" cy="1199.8" r="10.1"/><circle cx="1297.5" cy="1229.3" r="10.1"/><circle cx="1350.6" cy="1202.0" r="10.1"/><circle cx="1405.3" cy="1141.0" r="10.1"/><circle cx="1402.6" cy="1102.5" r="10.1"/><circle cx="1392.9" cy="1112.1" r="10.1"/><circle cx="1327.4" cy="1228.3" r="10.1"/><circle cx="1416.5" cy="1078.1" r="10.1"/><circle cx="1301.0" cy="1196.5" r="10.1"/><circle cx="1414.9" cy="1113.7" r="10.1"/><circle cx="1380.5" cy="1103.9" r="10.1"/><circle cx="1429.3" cy="1084.8" r="10.1"/><circle cx="1449.5" cy="1053.5" r="10.1"/><circle cx="1358.6" cy="1281.9" r="10.1"/><circle cx="1336.3" cy="1187.4" r="10.1"/><circle cx="1416.4" cy="1126.4" r="10.1"/><circle cx="1335.5" cy="1193.0" r="10.1"/><circle cx="1333.3" cy="1245.3" r="10.1"/><circle cx="1364.0" cy="1142.4" r="10.1"/><circle cx="1310.6" cy="1199.0" r="10.1"/><circle cx="1351.7" cy="1140.6" r="10.1"/><circle cx="1306.3" cy="1308.8" r="10.1"/><circle cx="1342.4" cy="1167.1" r="10.1"/><circle cx="1408.9" cy="1103.1" r="10.1"/><circle cx="1412.8" cy="1169.7" r="10.1"/><circle cx="1430.4" cy="1097.3" r="10.1"/><circle cx="1380.6" cy="1149.5" r="10.1"/><circle cx="1383.3" cy="1112.9" r="10.1"/><circle cx="1352.0" cy="1201.7" r="10.1"/><circle cx="1399.0" cy="1118.9" r="10.1"/><circle cx="1313.7" cy="1230.8" r="10.1"/><circle cx="1314.8" cy="1219.4" r="10.1"/><circle cx="1287.0" cy="1271.7" r="10.1"/><circle cx="1352.1" cy="1162.4" r="10.1"/><circle cx="1257.6" cy="1273.0" r="10.1"/><circle cx="1378.6" cy="1180.3" r="10.1"/><circle cx="1326.3" cy="1187.9" r="10.1"/><circle cx="1378.7" cy="1166.6" r="10.1"/><circle cx="1357.0" cy="1188.2" r="10.1"/><circle cx="1378.3" cy="1125.8" r="10.1"/><circle cx="1380.3" cy="1145.7" r="10.1"/><circle cx="1390.4" cy="1122.0" r="10.1"/><circle cx="1351.8" cy="1165.0" r="10.1"/><circle cx="1362.3" cy="1156.7" r="10.1"/><circle cx="1329.5" cy="1222.5" r="10.1"/><circle cx="1367.8" cy="1184.7" r="10.1"/><circle cx="1275.4" cy="1258.8" r="10.1"/><circle cx="1428.0" cy="1052.2" r="10.1"/><circle cx="1413.1" cy="1096.9" r="10.1"/><circle cx="1263.5" cy="1295.0" r="10.1"/><circle cx="1139.5" cy="1367.3" r="10.1"/><circle cx="1344.7" cy="1192.0" r="10.1"/><circle cx="1358.1" cy="1235.8" r="10.1"/><circle cx="1348.2" cy="1180.8" r="10.1"/><circle cx="1328.2" cy="1199.7" r="10.1"/><circle cx="1362.6" cy="1152.2" r="10.1"/><circle cx="1343.4" cy="1213.3" r="10.1"/><circle cx="1343.8" cy="1225.6" r="10.1"/><circle cx="1204.9" cy="1342.7" r="10.1"/><circle cx="1367.5" cy="1173.5" r="10.1"/><circle cx="1283.9" cy="1266.9" r="10.1"/><circle cx="1411.1" cy="1087.0" r="10.1"/><circle cx="1353.1" cy="1172.1" r="10.1"/><circle cx="1348.9" cy="1144.6" r="10.1"/><circle cx="1375.1" cy="1147.7" r="10.1"/><circle cx="1405.5" cy="1077.6" r="10.1"/><circle cx="1322.9" cy="1166.7" r="10.1"/><circle cx="1355.6" cy="1120.4" r="10.1"/><circle cx="1429.8" cy="1081.8" r="10.1"/><circle cx="1409.9" cy="1110.1" r="10.1"/><circle cx="1355.1" cy="1148.8" r="10.1"/><circle cx="1355.2" cy="1189.8" r="10.1"/><circle cx="1392.2" cy="1141.6" r="10.1"/><circle cx="1281.1" cy="1262.1" r="10.1"/><circle cx="1300.3" cy="1235.9" r="10.1"/><circle cx="1361.5" cy="1201.7" r="10.1"/><circle cx="1366.6" cy="1158.5" r="10.1"/><circle cx="1356.9" cy="1182.9" r="10.1"/><circle cx="1386.8" cy="1137.9" r="10.1"/><circle cx="1404.4" cy="1111.5" r="10.1"/><circle cx="1352.1" cy="1185.9" r="10.1"/><circle cx="1330.5" cy="1183.1" r="10.1"/><circle cx="1408.8" cy="1099.0" r="10.1"/><circle cx="1336.0" cy="1205.4" r="10.1"/><circle cx="1399.3" cy="1116.7" r="10.1"/><circle cx="1370.2" cy="1136.4" r="10.1"/><circle cx="1402.9" cy="1100.1" r="10.1"/><circle cx="1367.2" cy="1134.9" r="10.1"/><circle cx="1300.0" cy="1249.2" r="10.1"/><circle cx="1380.2" cy="1143.8" r="10.1"/><circle cx="1345.1" cy="1144.2" r="10.1"/><circle cx="1326.6" cy="1213.2" r="10.1"/><circle cx="1288.6" cy="1217.7" r="10.1"/><circle cx="1333.6" cy="1184.4" r="10.1"/><circle cx="1309.6" cy="1243.1" r="10.1"/><circle cx="1305.0" cy="1302.5" r="10.1"/><circle cx="1388.1" cy="1106.5" r="10.1"/><circle cx="1417.3" cy="1125.5" r="10.1"/><circle cx="1465.4" cy="1051.2" r="10.1"/><circle cx="1362.3" cy="1207.5" r="10.1"/><circle cx="1357.0" cy="1148.6" r="10.1"/><circle cx="1249.8" cy="1302.3" r="10.1"/><circle cx="1294.6" cy="1247.4" r="10.1"/><circle cx="1391.0" cy="1123.8" r="10.1"/><circle cx="1369.1" cy="1147.5" r="10.1"/><circle cx="1362.9" cy="1165.9" r="10.1"/><circle cx="1380.6" cy="1134.7" r="10.1"/><circle cx="1393.9" cy="1134.5" r="10.1"/><circle cx="1376.1" cy="1208.7" r="10.1"/><circle cx="1139.7" cy="1395.0" r="10.1"/><circle cx="1362.2" cy="1159.4" r="10.1"/><circle cx="1385.2" cy="1139.5" r="10.1"/><circle cx="1384.7" cy="1105.9" r="10.1"/><circle cx="1412.9" cy="1133.2" r="10.1"/><circle cx="1357.6" cy="1239.3" r="10.1"/><circle cx="1356.9" cy="1141.8" r="10.1"/><circle cx="1194.9" cy="1349.0" r="10.1"/><circle cx="1357.9" cy="1210.9" r="10.1"/><circle cx="1369.4" cy="1175.8" r="10.1"/><circle cx="1416.9" cy="1069.8" r="10.1"/><circle cx="1397.5" cy="1150.0" r="10.1"/><circle cx="1267.9" cy="1269.6" r="10.1"/><circle cx="1079.0" cy="1950.4" r="10.1"/><circle cx="1128.6" cy="1776.7" r="10.1"/><circle cx="1246.4" cy="1686.1" r="10.1"/><circle cx="1240.2" cy="1587.8" r="10.1"/><circle cx="1252.7" cy="1644.5" r="10.1"/></g>
<g fill="#9b59b6" fill-opacity="0.8"><circle cx="1695.5" cy="921.2" r="20.7"/><circle cx="1499.4" cy="1000.9" r="20.7"/><circle cx="1501.1" cy="1057.9" r="20.7"/><circle cx="1623.2" cy="1004.3" r="20.7"/><circle cx="1635.1" cy="999.3" r="20.7"/><circle cx="1648.6" cy="994.2" r="20.7"/><circle cx="1662.9" cy="994.2" r="20.7"/><circle cx="1669.0" cy="1016.2" r="20.7"/><circle cx="1660.5" cy="1033.2" r="20.7"/><circle cx="1643.6" cy="1019.6" r="20.7"/><circle cx="1631.7" cy="1023.0" r="20.7"/><circle cx="1577.4" cy="1056.9" r="20.7"/><circle cx="1587.6" cy="1045.0" r="20.7"/><circle cx="1601.2" cy="1050.1" r="20.7"/><circle cx="1594.4" cy="1067.1" r="20.7"/><circle cx="1606.2" cy="1073.9" r="20.7"/><circle cx="1616.4" cy="1060.3" r="20.7"/><circle cx="1635.1" cy="1060.3" r="20.7"/><circle cx="1640.2" cy="1075.6" r="20.7"/><circle cx="1639.5" cy="1101.0" r="20.7"/><circle cx="1538.4" cy="1102.7" r="20.7"/><circle cx="1526.5" cy="1126.5" r="20.7"/><circle cx="1543.5" cy="1121.4" r="20.7"/><circle cx="1557.1" cy="1131.5" r="20.7"/><circle cx="1574.0" cy="1121.4" r="20.7"/><circle cx="1587.6" cy="1134.9" r="20.7"/><circle cx="1599.5" cy="1123.1" r="20.7"/><circle cx="1575.7" cy="1145.1" r="20.7"/><circle cx="1540.1" cy="1148.5" r="20.7"/><circle cx="1523.1" cy="1148.5" r="20.7"/><circle cx="1543.5" cy="1162.1" r="20.7"/><circle cx="1450.2" cy="1158.7" r="20.7"/><circle cx="1373.9" cy="1134.9" r="20.7"/><circle cx="1367.1" cy="1160.4" r="20.7"/><circle cx="1400.3" cy="1170.6" r="20.7"/><circle cx="1352.5" cy="1196.7" r="20.7"/><circle cx="1489.2" cy="1177.3" r="20.7"/><circle cx="1480.7" cy="1184.1" r="20.7"/><circle cx="1499.4" cy="1192.6" r="20.7"/><circle cx="1514.7" cy="1189.2" r="20.7"/><circle cx="1526.5" cy="1202.8" r="20.7"/><circle cx="1540.1" cy="1199.4" r="20.7"/><circle cx="1543.5" cy="1213.0" r="20.7"/><circle cx="1523.1" cy="1218.0" r="20.7"/><circle cx="1506.2" cy="1214.7" r="20.7"/><circle cx="1489.2" cy="1209.6" r="20.7"/><circle cx="1472.3" cy="1206.2" r="20.7"/><circle cx="1467.2" cy="1219.7" r="20.7"/><circle cx="1482.4" cy="1229.9" r="20.7"/><circle cx="1502.8" cy="1236.7" r="20.7"/><circle cx="1524.8" cy="1245.2" r="20.7"/><circle cx="1501.1" cy="1246.9" r="20.7"/><circle cx="1484.1" cy="1245.2" r="20.7"/><circle cx="1468.9" cy="1236.7" r="20.7"/><circle cx="1309.4" cy="1222.1" r="20.7"/><circle cx="1346.7" cy="1235.0" r="20.7"/><circle cx="1356.9" cy="1229.9" r="20.7"/><circle cx="1375.6" cy="1246.9" r="20.7"/><circle cx="1427.5" cy="1235.0" r="20.7"/><circle cx="1416.3" cy="1248.6" r="20.7"/><circle cx="1280.6" cy="1274.0" r="20.7"/><circle cx="1309.4" cy="1274.0" r="20.7"/><circle cx="1363.0" cy="1274.0" r="20.7"/><circle cx="1248.4" cy="1297.8" r="20.7"/><circle cx="1406.1" cy="1287.6" r="20.7"/><circle cx="1423.1" cy="1291.0" r="20.7"/><circle cx="1441.7" cy="1294.4" r="20.7"/><circle cx="1455.3" cy="1287.6" r="20.7"/><circle cx="1472.3" cy="1277.4" r="20.7"/><circle cx="1482.4" cy="1284.2" r="20.7"/><circle cx="1475.6" cy="1296.1" r="20.7"/><circle cx="1451.9" cy="1301.2" r="20.7"/><circle cx="1418.0" cy="1304.5" r="20.7"/><circle cx="1412.9" cy="1328.3" r="20.7"/><circle cx="1438.3" cy="1340.2" r="20.7"/><circle cx="1483.1" cy="1323.2" r="20.7"/><circle cx="1356.9" cy="1307.9" r="20.7"/><circle cx="1356.2" cy="1341.9" r="20.7"/><circle cx="1372.2" cy="1363.9" r="20.7"/><circle cx="1420.7" cy="1417.2" r="20.7"/><circle cx="1340.0" cy="1441.9" r="20.7"/><circle cx="1258.5" cy="1470.8" r="20.7"/><circle cx="1163.6" cy="1447.0" r="20.7"/></g>
</g>
<path d="M384.3 585.6V2138.3M694.4 585.6V2138.3M1004.5 585.6V2138.3M1314.7 585.6V2138.3M1624.8 585.6V2138.3M313.5 1902.6H1876.5M313.5 1650.8H1876.5M313.5 1399.0H1876.5M313.5 1147.2H1876.5M313.5 895.4H1876.5M313.5 643.6H1876.5" stroke="#707070" stroke-opacity=".18" stroke-width="4.2" fill="none"/>
<rect x="340.2" y="612.4" width="595.1" height="170" rx="17" fill="#fff" fill-opacity=".9" stroke="#1ba780" stroke-width="6.7"/>
<rect x="340.2" y="814.3" width="645.5" height="99.4" rx="17" fill="#fff" fill-opacity=".9" stroke="#8c8c8b" stroke-width="6.7"/>
<text x="360.8" y="680.2" font-size="66.4">C. elegans: r = 0.077</text>
<text x="360.8" y="748.9" font-size="66.4">(decoupled)</text>
<text x="360.5" y="880.9" font-size="66.4">Other species: r &gt; 0.84</text>
<rect x="1340" y="1613.2" width="502" height="492" fill="#fff" fill-opacity=".9" stroke="#333" stroke-width="7.5"/>
<circle cx="1432.9" cy="1669.4" r="27.9" fill="#1abc9c" fill-opacity="0.7"/>
<text x="1518.2" y="1688.1" font-size="66.7">C. elegans</text>
<circle cx="1432.9" cy="1763.2" r="12.4" fill="#f39c12" fill-opacity="0.15"/>
<text x="1518.2" y="1781.9" font-size="66.7">Drosophila</text>
<circle cx="1432.9" cy="1858" r="21.4" fill="#3498db" fill-opacity="0.5"/>
<text x="1518.2" y="1877.5" font-size="66.7">Zebrafish</text>
<circle cx="1432.9" cy="1952" r="15" fill="#e74c3c" fill-opacity="0.25"/>
<text x="1518.2" y="1970.7" font-size="66.7">Mouse</text>
<circle cx="1432.9" cy="2046.5" r="30.9" fill="#9b59b6" fill-opacity="0.8"/>
<text x="1518.2" y="2065.1" font-size="66.7">Human</text>
<path d="M313.5 585.6H1876.5V2138.3H313.5ZM313.5 59.3H1876.5V560.4H313.5ZM1901.5 585.6H2405.8V2138.3H1901.5Z" stroke="#000" stroke-width="6.7" fill="none" stroke-linejoin="miter"/>
<path d="M384.3 2138.3v33M694.4 2138.3v33M1004.5 2138.3v33M1314.7 2138.3v33M1624.8 2138.3v33M313.5 1902.6h-33M313.5 1650.8h-33M313.5 1399.0h-33M313.5 1147.2h-33M313.5 895.4h-33M313.5 643.6h-33" stroke="#000" stroke-width="7.2" fill="none"/>
<path d="M384.3 560.4v25M694.4 560.4v25M1004.5 560.4v25M1314.7 560.4v25M1624.8 560.4v25M313.5 560.4h-25M313.5 230.4h-25M1901.5 1902.6h-25M1901.5 1650.8h-25M1901.5 1399.0h-25M1901.5 1147.2h-25M1901.5 895.4h-25M1901.5 643.6h-25M1901.5 2138.3v25M2160.1 2138.3v25" stroke="#000" stroke-width="5.6" fill="none"/>
<text x="384.3" y="2255" font-size="75" text-anchor="middle">0.0</text>
<text x="694.4" y="2255" font-size="75" text-anchor="middle">2.5</text>
<text x="1004.5" y="2255" font-size="75" text-anchor="middle">5.0</text>
<text x="1314.7" y="2255" font-size="75" text-anchor="middle">7.5</text>
<text x="1624.8" y="2255" font-size="75" text-anchor="middle">10.0</text>
<text x="251.8" y="1928.6" font-size="75" text-anchor="end">2</text>
<text x="251.8" y="1676.8" font-size="75" text-anchor="end">4</text>
<text x="251.8" y="1425.0" font-size="75" text-anchor="end">6</text>
<text x="251.8" y="1173.2" font-size="75" text-anchor="end">8</text>
<text x="251.8" y="921.4" font-size="75" text-anchor="end">10</text>
<text x="251.8" y="669.6" font-size="75" text-anchor="end">12</text>
<text x="258" y="583.6" font-size="66.7" text-anchor="end">0</text>
<text x="258" y="253.6" font-size="66.7" text-anchor="end">1</text>
<text x="1901.5" y="2241.2" font-size="66.7" text-anchor="middle">0.0</text>
<text x="2160.1" y="2241.2" font-size="66.7" text-anchor="middle">0.5</text>
<text x="1094" y="2366.4" font-size="91.7" font-weight="bold" text-anchor="middle">log(1 + Neurite Length)</text>
<text transform="translate(121.2 1362.6) rotate(-90)" font-size="91.7" font-weight="bold" text-anchor="middle">log(1 + Synapse Count)</text>
<text transform="translate(176 311) rotate(-90)" font-size="75" text-anchor="middle">Density</text>
<text x="2153.5" y="2341" font-size="75" text-anchor="middle">Density</text>
</svg></body></html>
